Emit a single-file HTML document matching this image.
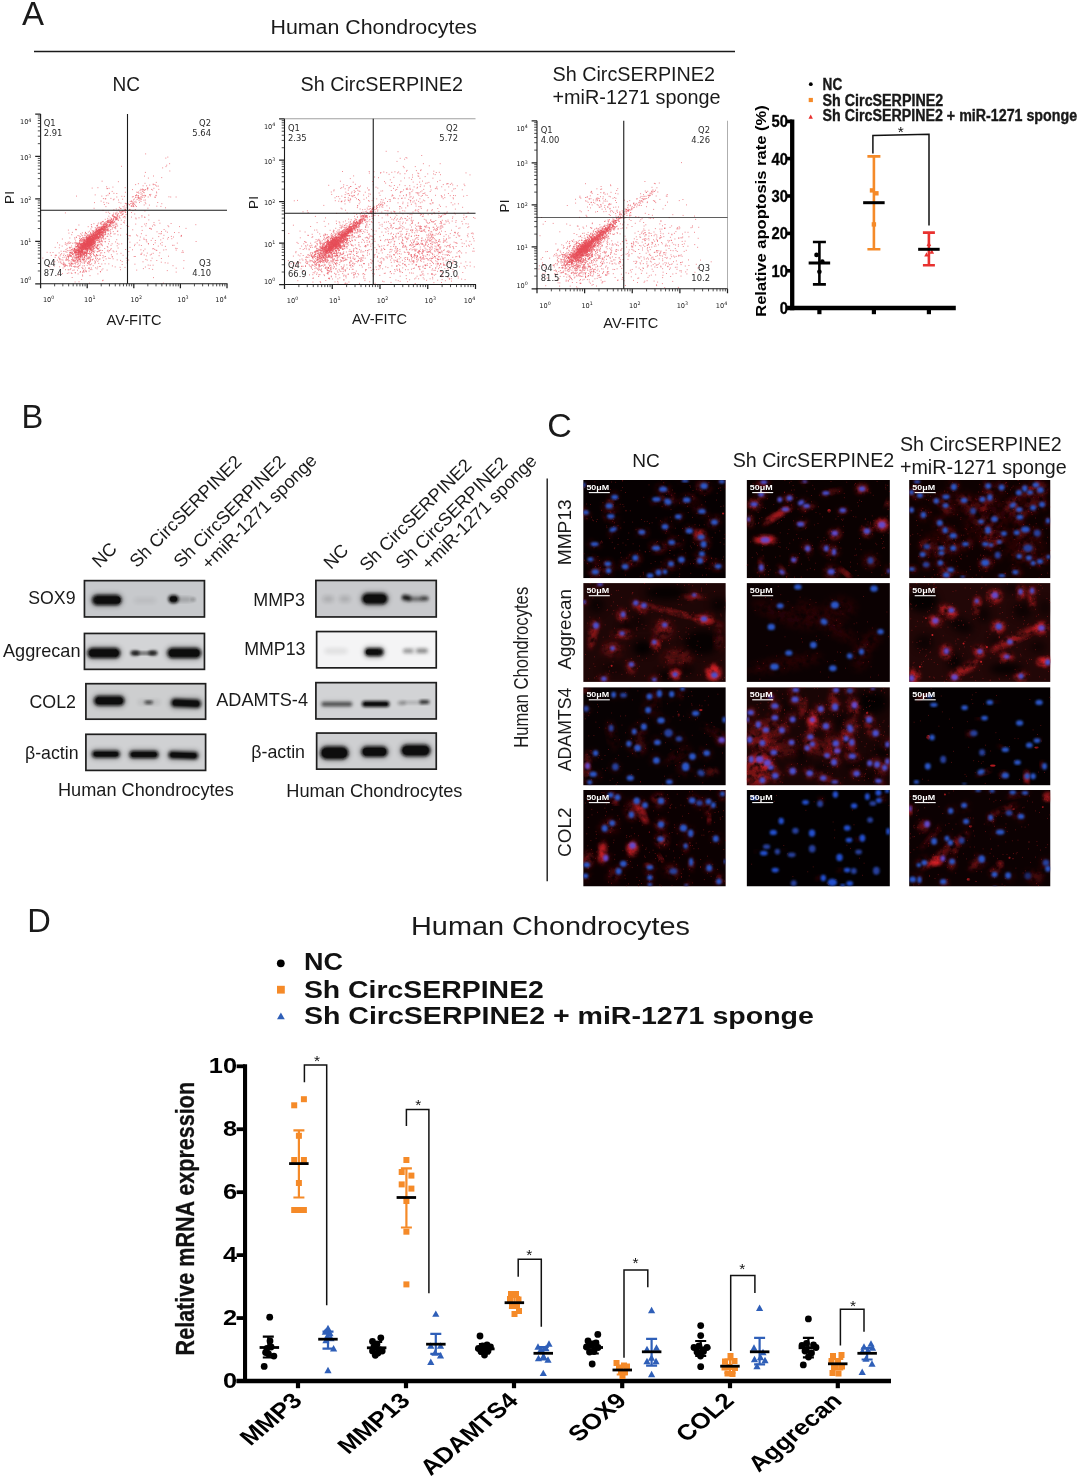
<!DOCTYPE html>
<html><head><meta charset="utf-8"><title>Figure</title>
<style>html,body{margin:0;padding:0;background:#fff}svg{display:block;position:absolute;left:0;top:0}text{font-family:'Liberation Sans',sans-serif}</style>
</head><body>
<svg width="1080" height="1478" viewBox="0 0 1080 1478">
<defs>
<filter id="b1" x="-30%" y="-30%" width="160%" height="160%"><feGaussianBlur stdDeviation="2.2"/></filter>
<filter id="b2" x="-30%" y="-60%" width="160%" height="220%"><feGaussianBlur stdDeviation="1.45"/></filter>
<filter id="b3" x="-30%" y="-60%" width="160%" height="220%"><feGaussianBlur stdDeviation="2.2"/></filter>
<filter id="b4" x="-40%" y="-40%" width="180%" height="180%"><feGaussianBlur stdDeviation="3.5"/></filter>
<filter id="b6" x="-25%" y="-25%" width="150%" height="150%"><feGaussianBlur stdDeviation="0.95"/></filter>
<filter id="tex" x="0" y="0" width="100%" height="100%"><feTurbulence type="fractalNoise" baseFrequency="0.16" numOctaves="3" seed="7" result="n"/><feColorMatrix in="n" type="matrix" values="0 0 0 0 0  0 0 0 0 0  0 0 0 0 0  2.4 0 0 0 -0.42" result="a"/><feComposite in="SourceGraphic" in2="a" operator="in"/></filter>
<filter id="b5" x="-20%" y="-20%" width="140%" height="140%"><feGaussianBlur stdDeviation="0.6"/></filter>
</defs>
<rect width="1080" height="1478" fill="#fff"/>

<text x="22.00" y="24.70" font-size="33" fill="#1a1a1a">A</text>
<text x="270.50" y="34.00" font-size="19.6" fill="#1a1a1a" textLength="206.50" lengthAdjust="spacingAndGlyphs">Human Chondrocytes</text>
<line x1="34.00" y1="51.50" x2="735.00" y2="51.50" stroke="#1a1a1a" stroke-width="1.5"/>
<text x="112.50" y="90.50" font-size="19.6" fill="#1a1a1a" textLength="27.50" lengthAdjust="spacingAndGlyphs">NC</text>
<text x="300.50" y="90.50" font-size="19.6" fill="#1a1a1a" textLength="162.50" lengthAdjust="spacingAndGlyphs">Sh CircSERPINE2</text>
<text x="552.50" y="81.30" font-size="19.6" fill="#1a1a1a" textLength="162.50" lengthAdjust="spacingAndGlyphs">Sh CircSERPINE2</text>
<text x="552.50" y="103.80" font-size="19.6" fill="#1a1a1a" textLength="168.00" lengthAdjust="spacingAndGlyphs">+miR-1271 sponge</text>
<ellipse cx="92.3" cy="238.8" rx="15.0" ry="2.9" transform="rotate(-42.3 92.3 238.8)" fill="#ea4f5b" opacity="0.3" filter="url(#b1)"/>
<ellipse cx="90.5" cy="240.5" rx="8.0" ry="1.8" transform="rotate(-42.3 90.5 240.5)" fill="#e94a57" opacity="0.3" filter="url(#b2)"/>
<path d="M93.9 241.7h.01M85.5 248.8h.01M88.1 241.7h.01M116.0 217.7h.01M91.4 242.2h.01M105.5 226.8h.01M96.9 231.8h.01M87.0 242.1h.01M77.7 246.2h.01M78.0 250.9h.01M88.7 241.0h.01M89.2 237.2h.01M90.3 241.5h.01M99.3 230.0h.01M84.0 239.3h.01M82.8 239.6h.01M82.1 252.4h.01M75.9 257.2h.01M94.4 236.0h.01M97.4 235.8h.01M104.1 227.5h.01M85.0 243.3h.01M83.1 247.0h.01M86.7 248.0h.01M74.4 250.6h.01M79.5 242.6h.01M113.2 214.6h.01M87.5 241.4h.01M110.2 217.9h.01M103.8 226.4h.01M88.2 240.3h.01M97.3 230.9h.01M90.5 241.7h.01M112.3 215.3h.01M112.0 223.3h.01M87.5 244.4h.01M90.0 246.9h.01M92.9 237.6h.01M88.5 241.7h.01M87.7 240.0h.01M115.9 213.4h.01M63.5 264.5h.01M90.1 242.2h.01M88.7 241.6h.01M96.5 238.2h.01M86.5 242.8h.01M116.9 217.6h.01M87.6 251.9h.01M100.0 230.2h.01M82.4 249.0h.01M82.4 243.9h.01M79.9 248.1h.01M104.7 226.4h.01M81.1 251.7h.01M92.8 241.3h.01M106.3 225.7h.01M89.3 241.4h.01M83.4 249.5h.01M109.0 224.1h.01M88.3 241.6h.01M83.2 244.1h.01M86.0 241.6h.01M84.5 240.4h.01M95.2 236.3h.01M77.6 243.4h.01M92.3 242.6h.01M84.2 244.5h.01M87.5 245.6h.01M85.6 248.7h.01M89.9 244.3h.01M90.5 239.7h.01M78.2 249.0h.01M89.7 243.5h.01M92.6 236.3h.01M97.5 237.2h.01M88.6 240.7h.01M89.0 244.7h.01M96.2 232.4h.01M94.7 235.1h.01M87.2 248.1h.01M100.4 229.4h.01M92.4 240.5h.01M85.5 244.6h.01M96.7 229.5h.01M96.0 237.8h.01M95.1 232.1h.01M93.4 235.1h.01M99.0 234.6h.01M92.1 236.5h.01M87.7 246.2h.01M84.8 247.6h.01M96.9 233.8h.01M122.5 211.6h.01M117.0 212.2h.01M76.0 257.9h.01M98.5 232.3h.01M86.8 237.3h.01M84.0 242.7h.01M90.4 243.7h.01M91.8 240.5h.01M84.5 244.3h.01M91.5 238.6h.01M106.2 223.9h.01M114.6 216.4h.01M103.6 226.5h.01M112.6 220.7h.01M97.0 237.0h.01M83.9 242.7h.01M78.0 256.9h.01M84.3 244.0h.01M93.7 244.4h.01M78.2 252.7h.01M88.5 244.2h.01M76.4 251.7h.01M103.9 232.8h.01M110.7 220.0h.01M91.0 239.6h.01M77.5 246.7h.01M100.9 231.7h.01M91.5 243.8h.01M84.1 248.3h.01M90.5 240.3h.01M97.3 234.9h.01M94.5 237.7h.01M116.0 216.6h.01M104.8 229.2h.01M89.3 244.4h.01M86.3 248.6h.01M83.6 245.0h.01M96.1 238.1h.01M103.8 230.9h.01M87.3 240.1h.01M98.3 234.3h.01M85.3 248.9h.01M91.6 236.4h.01M94.3 232.9h.01M84.8 247.2h.01M79.0 251.1h.01M81.9 251.2h.01M85.5 245.8h.01M78.7 249.9h.01M103.8 229.7h.01M78.8 254.9h.01M101.9 229.1h.01M108.1 221.9h.01M91.8 243.2h.01M109.6 226.4h.01M79.0 244.2h.01M93.5 233.3h.01M87.3 239.0h.01M105.7 228.8h.01M97.9 233.8h.01M90.6 239.4h.01M96.0 236.3h.01M96.0 234.2h.01M116.1 217.8h.01M110.7 225.4h.01M80.9 243.0h.01M106.7 224.7h.01M91.2 239.0h.01M90.3 236.7h.01M88.9 240.3h.01M86.4 236.2h.01M101.9 231.1h.01M76.2 250.5h.01M92.0 241.3h.01M92.9 243.1h.01M89.1 238.4h.01M86.9 246.5h.01M87.5 246.3h.01M104.9 229.0h.01M103.8 227.9h.01M89.4 239.5h.01M83.1 241.5h.01M84.5 242.1h.01M80.2 250.4h.01M96.0 234.4h.01M109.9 225.2h.01M103.6 226.9h.01M80.6 251.8h.01M95.8 238.0h.01M98.0 237.6h.01M89.5 243.7h.01M79.6 241.8h.01M89.9 246.4h.01M80.1 254.0h.01M84.7 244.3h.01M91.4 240.4h.01M83.5 247.3h.01M97.7 236.6h.01M87.8 248.7h.01M118.5 220.3h.01M80.9 249.9h.01M77.5 253.9h.01M96.1 231.8h.01M79.1 251.6h.01M97.7 231.6h.01M84.1 237.4h.01M85.5 245.6h.01M95.1 241.5h.01M77.8 243.5h.01M95.6 234.0h.01M95.5 238.3h.01M100.7 235.6h.01M106.4 221.8h.01M93.5 244.7h.01M89.2 245.1h.01M89.4 240.1h.01M112.8 222.7h.01M90.3 243.9h.01M79.4 247.8h.01M102.6 229.6h.01M83.5 248.6h.01M96.9 238.8h.01M102.9 228.5h.01M86.7 243.5h.01M91.4 244.8h.01M113.3 223.0h.01M95.2 235.5h.01M102.0 229.0h.01M90.9 234.7h.01M89.9 246.2h.01M80.1 244.3h.01M92.2 244.8h.01M109.4 222.4h.01M86.8 243.5h.01M83.7 246.8h.01M85.7 239.7h.01M85.7 243.9h.01M82.1 244.0h.01M105.2 232.5h.01M87.6 241.6h.01M96.8 234.0h.01M87.3 248.6h.01M81.4 246.0h.01M84.0 243.2h.01M89.7 243.2h.01M110.5 223.9h.01M88.9 237.7h.01M88.4 239.1h.01M91.5 243.0h.01M92.9 237.6h.01M84.9 245.5h.01M90.4 237.5h.01M88.3 245.6h.01M77.3 250.7h.01M84.8 251.6h.01M99.3 234.0h.01M96.2 236.2h.01M91.8 234.2h.01M94.9 238.4h.01M81.5 251.9h.01M97.1 229.9h.01M86.5 243.1h.01M87.3 244.8h.01M80.6 248.6h.01M94.7 239.1h.01M90.7 239.5h.01M96.7 228.9h.01M102.5 228.7h.01M80.4 248.0h.01M72.8 248.3h.01M86.7 241.2h.01M99.0 230.2h.01M79.1 247.2h.01M113.4 219.8h.01M84.2 242.6h.01M82.1 247.6h.01M98.0 237.3h.01M106.1 227.0h.01M84.1 243.2h.01M71.2 253.7h.01M95.6 234.8h.01M93.3 233.7h.01M102.9 230.1h.01M91.7 240.7h.01M72.8 254.3h.01M87.2 250.2h.01M88.3 240.8h.01M100.4 228.5h.01M108.6 222.3h.01M88.5 239.2h.01M98.1 227.3h.01M98.5 230.8h.01M89.2 237.8h.01M93.9 238.1h.01M98.8 233.9h.01M100.3 234.6h.01M85.5 240.8h.01M82.4 250.5h.01M89.6 245.1h.01M89.4 238.1h.01M105.3 232.6h.01M87.5 239.9h.01M85.9 248.0h.01M85.4 243.6h.01M99.6 232.2h.01M91.1 238.1h.01M86.1 245.1h.01M93.5 239.7h.01M87.4 244.5h.01M97.0 234.9h.01M99.6 235.3h.01M93.3 238.2h.01M83.9 247.7h.01M89.3 240.5h.01M85.5 247.2h.01M125.0 209.9h.01M92.4 240.3h.01M86.3 244.7h.01M84.4 243.7h.01M94.0 238.1h.01M88.3 239.8h.01M92.3 235.4h.01M100.3 230.6h.01M91.8 242.0h.01M95.9 231.6h.01M89.3 242.9h.01M77.9 242.8h.01M89.9 240.9h.01M96.3 235.5h.01M92.6 239.3h.01M109.4 224.5h.01M97.1 233.3h.01M105.2 226.6h.01M97.2 228.2h.01M93.6 237.4h.01M89.4 246.1h.01M95.7 235.4h.01M90.0 247.7h.01M101.4 232.5h.01M87.3 248.3h.01M97.5 233.3h.01M86.9 238.1h.01M97.5 230.8h.01M101.1 229.6h.01M86.6 245.4h.01M91.5 235.9h.01M91.0 242.1h.01M86.3 239.6h.01M87.0 240.3h.01M86.3 244.5h.01M89.8 240.5h.01M79.0 252.4h.01M88.3 241.1h.01M95.7 242.1h.01M77.9 245.7h.01M99.5 230.0h.01M106.5 223.4h.01M88.4 245.4h.01M103.2 230.2h.01M96.3 234.8h.01M86.9 243.1h.01M108.3 226.2h.01M91.3 240.9h.01M103.2 232.4h.01M89.4 241.2h.01M99.0 241.1h.01M95.8 239.8h.01M80.9 252.6h.01M78.1 247.6h.01M85.6 244.5h.01M93.5 239.0h.01M92.8 237.0h.01M125.2 209.7h.01M102.3 235.8h.01M104.1 229.7h.01M97.7 239.9h.01M80.8 245.7h.01M89.1 235.1h.01M86.8 248.0h.01M87.4 243.9h.01M97.9 230.3h.01M93.1 236.1h.01M82.0 247.2h.01M89.4 240.1h.01M87.4 246.8h.01M106.5 227.5h.01M88.0 239.2h.01M82.5 243.7h.01M94.7 239.6h.01M102.5 229.5h.01M88.0 243.4h.01M93.1 240.1h.01M109.1 221.9h.01M115.9 213.0h.01M74.4 249.0h.01M82.5 246.9h.01M117.0 214.9h.01M104.6 226.7h.01M90.8 236.8h.01M120.4 213.2h.01M90.1 249.1h.01M93.6 239.1h.01M88.0 239.9h.01M79.7 249.7h.01M112.3 221.7h.01M91.0 243.7h.01M86.2 249.5h.01M89.0 239.1h.01M100.2 233.2h.01M88.4 243.2h.01M105.3 230.9h.01M79.5 240.8h.01M117.2 215.6h.01M88.2 244.1h.01M89.2 245.4h.01M81.0 248.4h.01M84.2 252.1h.01M90.6 244.2h.01M107.3 222.2h.01M90.1 243.3h.01M90.9 239.7h.01M102.9 231.8h.01M85.9 244.2h.01M99.4 233.1h.01M90.5 236.8h.01M113.4 219.1h.01M94.0 237.2h.01M91.6 240.0h.01M85.1 246.8h.01M106.9 226.6h.01M100.8 232.6h.01M94.0 243.5h.01M86.2 245.8h.01M104.5 228.6h.01M80.7 245.3h.01M110.0 220.5h.01M91.5 241.4h.01M88.8 236.1h.01M76.4 252.9h.01M84.3 245.1h.01M92.0 239.7h.01M77.4 245.9h.01M102.1 228.2h.01M78.1 244.2h.01M95.7 232.0h.01M84.0 248.8h.01M95.4 237.8h.01M75.7 242.9h.01M82.7 246.5h.01M87.2 246.7h.01M93.6 234.3h.01M97.8 233.4h.01M88.9 245.9h.01M80.3 253.9h.01M102.2 224.3h.01M88.8 241.5h.01M81.1 246.9h.01M84.6 246.1h.01M82.5 240.0h.01M107.5 227.4h.01M86.0 247.9h.01M115.7 214.3h.01M86.6 242.2h.01M97.4 233.3h.01M82.6 252.6h.01M89.4 244.1h.01M120.2 212.1h.01M89.1 245.0h.01M90.6 242.2h.01M95.2 245.8h.01M99.5 233.4h.01M92.8 239.7h.01M77.9 250.9h.01M98.6 229.6h.01M90.9 239.8h.01M91.2 248.9h.01M100.5 232.4h.01M84.8 246.0h.01M88.1 242.3h.01M97.5 242.3h.01M110.5 226.7h.01M112.4 227.8h.01M83.3 242.4h.01M93.7 238.4h.01M89.9 238.9h.01M102.2 235.0h.01M93.1 237.4h.01M106.1 225.5h.01M88.5 243.5h.01M77.6 260.2h.01M90.6 242.2h.01M95.4 237.4h.01M84.1 253.3h.01M98.7 234.0h.01M131.5 201.2h.01M100.3 231.3h.01M83.3 254.8h.01M79.3 251.3h.01M90.2 241.4h.01M86.1 249.6h.01M91.9 235.1h.01M82.1 249.2h.01M82.8 249.2h.01M94.0 235.4h.01M73.6 250.6h.01M94.5 235.2h.01M114.9 217.4h.01M96.7 237.0h.01M92.3 239.9h.01M103.9 228.0h.01M94.5 235.7h.01M117.5 216.3h.01M97.5 225.6h.01M84.9 241.5h.01M90.4 239.1h.01M82.3 247.0h.01M103.0 232.3h.01M88.5 246.2h.01M87.1 245.9h.01M86.1 248.4h.01M121.2 212.0h.01M105.0 223.5h.01M90.7 250.1h.01M90.9 241.9h.01M78.5 251.4h.01M87.0 248.2h.01M91.2 249.1h.01M83.1 248.5h.01M74.9 253.1h.01M106.6 225.5h.01M81.9 250.3h.01M103.8 229.6h.01M101.8 226.3h.01M115.7 219.2h.01M78.8 259.0h.01M88.0 244.6h.01M74.6 252.4h.01M78.7 254.7h.01M87.2 240.3h.01M89.7 245.2h.01M85.8 246.9h.01M78.6 245.0h.01M86.4 243.2h.01M94.5 240.0h.01M86.8 242.6h.01M101.3 231.9h.01M90.5 241.3h.01M73.2 254.0h.01M78.0 250.5h.01M100.1 227.0h.01M102.0 228.5h.01M88.1 241.0h.01M99.0 230.8h.01M75.8 255.2h.01M90.5 242.7h.01M96.7 231.2h.01M93.4 238.2h.01M90.1 241.2h.01M93.8 235.7h.01M91.1 243.4h.01M82.5 247.5h.01M81.0 245.1h.01M87.7 243.6h.01M110.5 221.8h.01M103.7 230.0h.01M86.2 233.9h.01M92.3 239.1h.01M83.1 247.8h.01M108.7 221.1h.01M88.3 245.7h.01M75.1 250.3h.01M96.0 238.6h.01M107.7 226.9h.01M121.6 213.0h.01M80.6 248.8h.01M99.4 233.5h.01M77.0 254.4h.01M84.3 245.4h.01M109.8 222.6h.01M85.4 244.7h.01M89.4 248.9h.01M102.8 231.9h.01M84.3 243.8h.01M90.4 233.5h.01M102.4 226.2h.01M92.4 239.9h.01M85.3 246.5h.01M102.6 235.1h.01M98.6 238.9h.01M96.4 234.5h.01M101.2 229.2h.01M93.6 239.8h.01M106.1 227.1h.01M82.2 253.1h.01M92.3 237.9h.01M85.6 247.1h.01M96.0 237.7h.01M92.2 244.3h.01M89.3 243.0h.01M94.9 240.0h.01M84.9 244.5h.01M87.7 240.7h.01M83.5 242.5h.01M102.7 233.8h.01M84.7 248.7h.01M80.4 246.5h.01M88.4 242.9h.01M93.5 231.7h.01M80.9 249.5h.01M92.4 246.2h.01M87.3 241.1h.01M103.0 222.1h.01M82.2 259.1h.01M86.0 244.8h.01M87.6 240.1h.01M87.1 239.0h.01M104.3 230.1h.01M98.1 230.8h.01M75.2 252.4h.01M83.1 248.7h.01M76.7 249.4h.01M92.9 239.7h.01M89.6 237.1h.01M89.1 249.1h.01M101.8 227.9h.01M115.6 217.4h.01M89.0 239.0h.01M110.6 222.4h.01M88.3 239.3h.01M81.3 249.5h.01M93.2 243.4h.01M83.0 245.9h.01M104.7 229.8h.01M88.1 248.0h.01M98.1 236.3h.01M96.6 238.1h.01M87.0 242.9h.01M105.4 228.0h.01M97.0 238.2h.01M94.2 238.4h.01M73.1 254.1h.01M100.1 229.2h.01M88.7 242.9h.01M90.9 243.1h.01M96.4 234.5h.01M104.4 226.9h.01M85.8 245.9h.01M98.6 232.7h.01M81.5 246.7h.01M94.6 239.0h.01M113.8 219.0h.01M85.1 237.9h.01M108.6 226.4h.01M89.3 239.1h.01M72.8 259.8h.01M87.4 248.8h.01M102.4 233.4h.01M91.5 243.7h.01M82.9 253.1h.01M88.2 238.5h.01M85.8 241.3h.01M92.8 236.1h.01M80.4 248.3h.01M89.1 242.5h.01M101.5 234.2h.01M98.5 238.4h.01M72.0 257.0h.01M101.0 227.2h.01M89.3 242.3h.01M77.9 249.7h.01M97.9 232.8h.01M113.7 225.2h.01M88.0 238.8h.01M89.2 239.7h.01M79.1 249.2h.01M86.4 243.0h.01M104.2 231.1h.01M95.4 234.9h.01M96.1 235.5h.01M91.8 236.1h.01M69.7 263.4h.01M85.2 243.5h.01M90.3 240.5h.01M90.9 245.5h.01M92.5 239.4h.01M83.8 246.3h.01M96.4 234.8h.01M93.3 235.0h.01M93.8 234.2h.01M85.9 242.0h.01M94.6 240.3h.01M92.9 235.5h.01M93.9 240.8h.01M100.8 232.6h.01M81.1 246.9h.01M84.6 244.1h.01M93.6 237.8h.01M88.9 243.9h.01M84.6 244.6h.01M89.6 236.8h.01M81.6 243.4h.01M82.5 247.2h.01M90.1 242.0h.01M93.0 234.6h.01M116.7 219.7h.01M80.2 247.2h.01M87.3 244.1h.01M98.6 233.1h.01M77.8 264.4h.01M103.0 231.5h.01M85.1 245.7h.01M102.1 228.6h.01M105.7 226.9h.01M111.5 221.5h.01M108.2 220.4h.01M110.1 223.8h.01M89.6 245.1h.01M90.0 243.8h.01M104.5 230.7h.01M121.1 215.5h.01M124.2 211.1h.01M93.1 239.4h.01M88.1 238.5h.01M90.4 236.6h.01M87.9 241.8h.01M84.5 242.1h.01M91.9 239.1h.01M109.5 224.8h.01M102.3 228.4h.01M86.0 240.2h.01M85.4 247.8h.01M88.8 241.5h.01M89.1 247.3h.01M92.0 243.0h.01M91.8 242.5h.01M80.8 244.2h.01M104.7 226.8h.01M95.4 238.8h.01M100.1 232.6h.01M80.4 247.0h.01M92.0 241.3h.01M97.9 234.9h.01M84.8 245.7h.01M102.1 227.5h.01M87.9 246.1h.01M111.9 222.0h.01M89.0 238.6h.01M88.2 239.8h.01M93.5 240.1h.01M98.5 237.3h.01M80.6 244.7h.01M109.9 225.5h.01M83.6 247.3h.01M82.6 247.6h.01M96.1 238.4h.01M81.0 244.4h.01M97.5 233.1h.01M107.6 222.1h.01M80.8 239.4h.01M107.2 228.9h.01M95.5 235.0h.01M72.8 250.9h.01M90.0 247.8h.01M101.5 228.8h.01M97.0 236.3h.01M95.8 232.8h.01M89.1 245.4h.01M99.2 231.6h.01M123.1 211.4h.01M89.1 245.0h.01M101.0 230.6h.01M115.6 220.1h.01M92.1 241.5h.01M99.0 232.0h.01M99.5 230.8h.01M90.0 243.3h.01M80.7 248.1h.01M84.8 248.4h.01M89.6 247.9h.01M110.1 221.1h.01M92.1 237.9h.01M91.6 241.8h.01M112.9 225.5h.01M113.6 216.7h.01M86.7 243.3h.01M88.5 242.8h.01M98.5 231.9h.01M90.5 249.0h.01M102.9 235.6h.01M88.9 246.9h.01M114.4 221.9h.01M86.0 246.6h.01M82.9 243.4h.01M91.4 241.5h.01M88.9 241.6h.01M98.0 231.7h.01M97.5 236.6h.01M100.1 233.5h.01M82.7 246.6h.01M88.7 244.7h.01M78.0 252.5h.01M80.1 252.6h.01M86.9 244.0h.01M105.3 231.8h.01M83.5 247.3h.01M75.9 253.0h.01M86.8 246.4h.01M90.0 241.4h.01M81.8 247.2h.01M82.4 247.9h.01M79.5 251.6h.01M108.7 231.0h.01M112.2 224.0h.01M103.6 233.2h.01M91.0 241.4h.01M75.8 251.9h.01M103.6 224.0h.01M94.8 236.5h.01M88.5 243.5h.01M89.1 238.0h.01M87.0 237.6h.01M110.5 222.3h.01M101.1 228.3h.01M116.2 219.5h.01M95.6 236.6h.01M94.6 234.5h.01M89.2 241.0h.01M98.1 238.5h.01M106.4 226.8h.01M98.6 232.3h.01M84.2 240.5h.01M79.1 246.4h.01M89.8 240.6h.01M98.2 237.1h.01M99.5 232.0h.01M86.7 243.0h.01M97.4 231.5h.01M79.2 250.0h.01M106.2 229.5h.01M95.8 230.0h.01M90.7 242.8h.01M107.5 230.0h.01M84.4 247.5h.01M78.7 250.4h.01M89.2 244.6h.01M90.0 235.2h.01M90.3 242.0h.01M109.0 221.9h.01M83.2 245.0h.01M103.8 227.7h.01M92.5 240.2h.01M86.6 248.1h.01M82.3 255.2h.01M84.0 243.1h.01M83.0 243.1h.01M82.6 244.7h.01M81.7 247.9h.01M93.8 235.6h.01M91.6 236.8h.01M93.0 237.2h.01M82.7 248.0h.01M88.2 240.3h.01M91.1 241.8h.01M80.6 247.6h.01M98.8 232.9h.01M104.4 234.8h.01M82.0 249.6h.01M90.3 245.7h.01M96.1 231.2h.01M104.8 227.5h.01M88.3 242.6h.01M92.0 236.3h.01M90.1 245.7h.01M81.9 246.1h.01M99.4 229.7h.01M89.5 242.4h.01M83.3 245.9h.01M83.5 246.1h.01M94.2 237.2h.01M94.3 238.2h.01M99.4 229.3h.01M94.6 242.0h.01M88.3 241.6h.01M89.4 239.1h.01M97.9 233.8h.01M90.5 243.0h.01M104.6 224.0h.01M86.3 243.3h.01M81.4 251.4h.01M119.4 215.9h.01M104.7 222.5h.01M84.9 240.9h.01M100.7 230.9h.01M90.0 242.6h.01M103.0 233.9h.01M109.8 225.3h.01M80.9 254.2h.01M89.2 236.6h.01M92.3 238.1h.01M91.5 242.9h.01M81.8 250.9h.01M104.9 224.4h.01M108.2 222.7h.01M86.7 247.4h.01M87.2 237.2h.01M87.0 246.2h.01M85.6 243.2h.01M90.6 240.4h.01M83.7 243.3h.01M98.3 237.3h.01M72.7 258.5h.01M102.5 227.1h.01M107.7 221.1h.01M105.4 231.4h.01M107.7 218.4h.01M89.6 237.9h.01M98.0 238.2h.01M98.5 238.3h.01M76.5 249.9h.01M87.8 245.4h.01M105.6 224.6h.01M85.3 248.5h.01M81.8 250.6h.01M84.3 245.8h.01M117.7 215.2h.01M89.7 238.5h.01M100.2 236.3h.01M97.0 230.6h.01M97.8 238.8h.01M83.2 246.6h.01M82.6 245.5h.01M80.6 244.4h.01M96.8 234.6h.01M72.2 252.7h.01M83.1 243.2h.01M92.2 238.3h.01M93.3 233.7h.01M84.2 244.6h.01M87.1 242.4h.01M84.6 245.4h.01M111.5 219.6h.01M78.8 252.2h.01M85.3 248.3h.01M106.7 230.4h.01M89.7 235.6h.01M112.9 222.3h.01M107.8 225.0h.01M88.0 242.9h.01M78.9 255.1h.01M84.8 243.4h.01M94.0 234.5h.01M100.4 229.7h.01M123.1 213.2h.01M100.2 232.7h.01M90.5 238.8h.01M75.3 252.1h.01M83.8 244.8h.01M88.6 235.9h.01M80.1 247.4h.01M88.8 245.3h.01M125.9 208.0h.01M99.3 232.5h.01M97.0 240.3h.01M93.9 239.3h.01M90.3 238.6h.01M104.8 227.0h.01M109.0 221.0h.01M99.3 237.7h.01M86.6 245.3h.01M110.9 223.0h.01M84.1 245.2h.01M94.0 235.5h.01M87.8 243.5h.01M84.7 252.3h.01M86.2 244.4h.01M94.5 241.7h.01M91.5 246.9h.01M116.3 218.7h.01M78.1 246.8h.01M89.3 242.6h.01M101.1 234.5h.01M97.0 234.9h.01M92.8 232.0h.01M104.2 224.0h.01M74.9 251.9h.01M85.3 240.9h.01M89.2 242.0h.01M99.6 233.4h.01M87.1 244.1h.01M107.3 224.5h.01M85.9 237.4h.01M97.9 240.4h.01M100.3 230.9h.01M109.0 227.0h.01M107.4 222.2h.01M83.5 249.7h.01M98.6 234.6h.01M81.4 251.9h.01M117.8 218.3h.01M125.5 209.5h.01M95.6 242.0h.01M101.1 224.6h.01M79.8 251.4h.01M90.1 247.4h.01M113.5 222.7h.01M87.9 242.1h.01M100.9 230.2h.01M100.4 232.5h.01M102.1 232.1h.01M76.5 237.3h.01M76.1 246.4h.01M96.1 228.3h.01M88.0 247.1h.01M103.5 236.2h.01M102.0 240.8h.01M90.1 249.3h.01M79.0 249.9h.01M98.7 238.1h.01M87.2 241.1h.01M74.4 242.9h.01M80.1 261.1h.01M71.8 249.5h.01M76.9 252.6h.01M87.2 241.3h.01M80.1 250.5h.01M80.5 252.9h.01M108.1 220.1h.01M92.4 237.0h.01M83.9 239.9h.01M92.0 240.4h.01M115.1 233.8h.01M85.6 253.0h.01M82.7 245.7h.01M82.9 251.6h.01M107.0 226.1h.01M91.5 236.0h.01M84.6 239.3h.01M84.4 235.2h.01M125.1 217.9h.01M84.8 244.0h.01M87.9 244.8h.01M99.8 244.7h.01M81.5 238.5h.01M95.7 239.6h.01M86.6 250.2h.01M87.1 240.1h.01M86.4 237.7h.01M92.8 249.9h.01M108.7 228.8h.01M93.5 240.8h.01M81.9 250.7h.01M83.3 244.6h.01M109.8 219.8h.01M92.1 240.8h.01M103.6 228.5h.01M98.8 236.6h.01M87.9 240.7h.01M85.8 252.5h.01M87.5 251.5h.01M111.7 219.2h.01M80.3 245.1h.01M90.9 249.4h.01M81.6 243.6h.01M77.9 253.9h.01M101.5 240.8h.01M94.6 237.9h.01M99.5 251.0h.01M115.0 225.0h.01M87.9 243.1h.01M90.2 241.6h.01M95.7 233.1h.01M113.3 215.3h.01M102.2 235.8h.01M108.0 234.1h.01M96.1 238.1h.01M114.5 227.8h.01M94.0 243.9h.01M82.7 251.5h.01M78.0 260.7h.01M89.0 248.9h.01M95.9 233.6h.01M107.7 236.3h.01M90.0 253.8h.01M94.2 233.3h.01M90.5 244.2h.01M98.9 229.6h.01M89.9 245.5h.01M101.2 244.1h.01M105.4 233.9h.01M81.6 244.8h.01M82.9 248.6h.01M105.1 238.9h.01M102.4 226.4h.01M97.5 248.6h.01M95.3 240.9h.01M76.4 246.7h.01M87.0 243.8h.01M98.6 234.1h.01M85.0 261.6h.01M92.2 230.7h.01M116.7 223.3h.01M90.5 242.4h.01M91.9 227.2h.01M106.0 229.7h.01M99.3 230.8h.01M91.4 250.8h.01M68.1 269.8h.01M102.7 221.5h.01M87.9 240.5h.01M83.5 241.0h.01M81.1 251.2h.01M91.2 244.9h.01M100.4 229.8h.01M124.6 220.9h.01M78.7 252.0h.01M90.1 245.0h.01M88.4 253.5h.01M94.9 250.8h.01M91.3 253.1h.01M100.2 238.8h.01M97.5 237.9h.01M83.1 247.8h.01M85.2 245.7h.01M90.9 246.3h.01M94.8 236.5h.01M80.3 257.0h.01M84.6 245.3h.01M97.5 235.5h.01M93.2 240.2h.01M78.4 257.2h.01M92.2 245.1h.01M91.6 238.6h.01M111.0 224.2h.01M106.8 230.9h.01M105.3 234.7h.01M97.2 230.5h.01M93.6 247.3h.01M89.4 241.0h.01M94.9 243.7h.01M84.6 247.1h.01M85.9 242.2h.01M99.8 230.3h.01M93.3 241.7h.01M99.1 237.0h.01M99.2 229.7h.01M74.5 261.7h.01M112.1 220.1h.01M94.5 243.5h.01M84.8 246.9h.01M89.6 246.0h.01M97.3 245.5h.01M82.2 245.5h.01M80.9 252.1h.01M89.9 241.2h.01M96.6 230.8h.01M86.2 258.3h.01M88.9 237.8h.01M105.6 229.1h.01M84.9 249.1h.01M107.5 230.8h.01M95.8 247.1h.01M84.1 246.8h.01M94.9 232.1h.01M101.6 234.2h.01M105.4 230.3h.01M113.7 213.1h.01M87.1 242.2h.01M93.7 242.9h.01M86.1 251.9h.01M106.8 228.0h.01M82.4 253.1h.01M94.7 232.8h.01M84.6 244.4h.01M81.3 252.6h.01M107.3 228.9h.01M86.0 245.9h.01M96.9 247.1h.01M89.6 245.8h.01M92.6 247.0h.01M86.7 248.6h.01M90.5 245.6h.01M80.0 251.1h.01M108.2 230.0h.01M90.9 257.0h.01M97.0 234.7h.01M86.1 240.7h.01M115.7 226.8h.01M107.8 220.4h.01M70.3 247.8h.01M78.2 250.0h.01M77.1 244.4h.01M96.1 232.7h.01M99.1 241.2h.01M83.3 245.5h.01M103.2 221.4h.01M83.9 241.1h.01M87.5 240.9h.01M92.2 237.4h.01M104.0 224.8h.01M92.2 244.1h.01M81.9 245.8h.01M88.7 240.9h.01M98.9 229.8h.01M80.6 254.5h.01M82.2 245.4h.01M92.0 247.0h.01M101.6 232.7h.01M92.9 237.0h.01M116.1 224.5h.01M86.7 250.5h.01M77.7 248.6h.01M89.9 251.6h.01M116.8 218.0h.01M90.8 249.3h.01M91.3 250.4h.01M86.1 251.5h.01M89.6 252.8h.01M90.7 237.7h.01M85.4 232.3h.01M93.8 242.7h.01M118.7 209.8h.01M110.5 231.1h.01M99.5 231.7h.01M90.9 236.6h.01M91.4 234.2h.01M87.3 245.3h.01M80.1 243.7h.01M91.4 242.8h.01M101.0 234.8h.01M112.8 221.3h.01M105.6 222.1h.01M102.0 235.7h.01M113.9 217.0h.01M115.3 218.7h.01M82.9 238.9h.01M101.6 228.6h.01M102.9 231.7h.01M101.9 231.9h.01M84.4 244.9h.01M92.6 242.6h.01M87.8 249.9h.01M71.0 251.9h.01M101.3 234.0h.01M121.3 220.2h.01M79.9 245.0h.01M91.3 240.7h.01M99.4 230.7h.01M83.3 244.0h.01M88.5 238.7h.01M92.3 244.6h.01M86.5 239.0h.01M100.4 237.5h.01M82.8 246.4h.01M75.0 249.7h.01M77.8 245.2h.01M91.4 252.4h.01M104.9 226.1h.01M96.9 236.4h.01M86.4 233.6h.01M86.1 238.8h.01M86.9 244.4h.01M53.5 259.9h.01M100.1 241.0h.01M99.0 227.2h.01M89.4 246.4h.01M82.4 235.7h.01M98.7 230.2h.01M85.3 235.7h.01M85.0 253.9h.01M88.4 246.4h.01M112.4 222.0h.01M90.4 240.2h.01M102.8 232.6h.01M101.4 241.3h.01M101.3 239.4h.01M83.2 246.8h.01M97.3 230.6h.01M78.8 251.8h.01M87.9 246.3h.01M110.8 220.5h.01M81.1 248.5h.01M84.5 244.0h.01M107.7 229.5h.01M95.2 235.9h.01M103.5 229.3h.01M113.7 220.6h.01M92.4 244.2h.01M113.9 209.8h.01M93.4 231.8h.01M76.1 252.2h.01M97.1 225.7h.01M92.9 250.5h.01M106.6 225.0h.01M99.8 233.6h.01M83.7 243.0h.01M105.5 224.0h.01M88.1 240.8h.01M77.8 252.0h.01M112.6 215.4h.01M93.8 245.8h.01M96.7 235.9h.01M99.5 235.3h.01M87.7 239.1h.01M81.8 239.0h.01M91.7 239.1h.01M80.8 240.8h.01M80.8 239.4h.01M95.0 230.3h.01M99.4 228.2h.01M101.1 235.3h.01M101.0 230.1h.01M76.0 257.2h.01M80.7 241.1h.01M82.3 250.6h.01M99.9 235.2h.01M103.2 236.5h.01M87.9 243.9h.01M87.7 242.4h.01M90.2 243.0h.01M86.9 245.6h.01M101.8 229.5h.01M95.2 232.0h.01M88.9 253.4h.01M93.2 246.5h.01M67.2 248.4h.01M89.5 240.9h.01M73.9 261.0h.01M96.7 231.7h.01M100.1 236.5h.01M89.7 238.9h.01M97.8 232.3h.01M82.3 240.8h.01M95.5 244.5h.01M85.0 243.4h.01M79.1 250.5h.01M100.9 231.1h.01M101.5 238.1h.01M81.5 246.1h.01M97.7 233.2h.01M81.8 249.4h.01M98.9 240.4h.01M84.5 249.0h.01M88.2 226.7h.01M99.9 232.5h.01M82.6 259.5h.01M96.8 237.4h.01M124.9 216.6h.01M82.4 249.0h.01M117.0 224.9h.01M111.1 222.7h.01M103.7 225.8h.01M91.0 244.9h.01M91.2 244.4h.01M90.1 243.5h.01M120.0 218.2h.01M100.7 223.6h.01M88.5 248.9h.01M76.0 252.3h.01M91.3 247.9h.01M74.6 252.9h.01M91.0 241.8h.01M80.8 257.7h.01M103.3 237.7h.01M100.0 236.7h.01M87.5 242.6h.01M81.9 251.9h.01M84.0 254.3h.01M95.3 233.6h.01M87.7 234.4h.01M80.0 246.9h.01M77.0 250.1h.01M86.6 241.0h.01M79.9 243.9h.01M75.8 258.2h.01M90.6 248.7h.01M79.4 248.5h.01M103.1 238.5h.01M105.7 232.9h.01M80.6 253.6h.01M108.3 212.2h.01M101.3 245.0h.01M82.3 250.5h.01M117.9 219.9h.01M95.0 242.5h.01M91.2 245.3h.01M91.9 245.3h.01M83.1 247.5h.01M85.5 232.6h.01M101.6 229.3h.01M81.4 241.3h.01M86.9 239.2h.01M103.7 239.2h.01M84.7 242.5h.01M88.7 241.6h.01M90.9 229.0h.01M97.3 235.1h.01M81.2 240.6h.01M105.7 234.3h.01M96.5 240.2h.01M102.1 232.1h.01M98.2 228.4h.01M93.9 223.7h.01M110.7 232.9h.01M103.7 224.6h.01M90.2 245.3h.01M85.0 249.0h.01M94.8 246.8h.01M85.3 243.1h.01M101.5 238.0h.01M84.0 239.2h.01M75.3 245.9h.01M88.7 237.1h.01M86.5 236.7h.01M90.0 245.3h.01M85.2 253.3h.01M88.7 238.4h.01M87.8 243.7h.01M82.1 245.8h.01M88.3 232.1h.01M126.0 214.6h.01M114.0 234.0h.01M100.3 232.6h.01M91.6 244.1h.01M107.3 221.3h.01M113.4 218.7h.01M86.2 253.7h.01M88.7 247.6h.01M81.9 253.8h.01M90.4 248.9h.01M75.8 250.9h.01M83.4 249.5h.01M81.5 247.7h.01M89.3 240.1h.01M93.5 240.6h.01M80.6 256.8h.01M79.3 247.1h.01M111.5 218.4h.01M91.7 244.9h.01M85.0 245.9h.01M87.8 243.0h.01M84.1 253.7h.01M92.7 243.2h.01M89.2 239.1h.01M103.6 225.2h.01M101.3 227.3h.01M85.1 247.1h.01M124.3 216.4h.01M93.4 241.6h.01M104.6 226.0h.01M72.0 252.2h.01M88.2 239.4h.01M92.9 248.1h.01M86.8 241.4h.01M94.7 245.1h.01M115.3 223.2h.01M87.2 242.0h.01M79.7 247.8h.01M104.7 232.3h.01M91.8 234.3h.01M88.2 239.7h.01M110.7 223.4h.01M89.9 242.1h.01M91.0 241.7h.01M87.2 246.3h.01M94.1 243.7h.01M99.7 237.3h.01M86.8 245.2h.01M70.0 255.1h.01M80.3 236.6h.01M109.0 230.6h.01M99.8 247.2h.01M78.3 253.2h.01M90.8 238.5h.01M113.8 227.1h.01M94.2 232.7h.01M94.2 238.7h.01M93.2 230.7h.01M85.8 252.5h.01M91.4 240.4h.01M82.4 232.8h.01M105.3 219.3h.01M82.3 252.3h.01M112.3 229.0h.01M84.2 242.5h.01M99.6 234.7h.01M80.1 259.1h.01M76.2 257.0h.01M97.1 240.0h.01M94.5 243.1h.01M92.0 235.0h.01M90.0 250.5h.01M77.4 257.8h.01M80.8 240.1h.01M85.2 249.3h.01M70.7 265.1h.01M105.9 225.2h.01M88.1 244.2h.01M99.4 227.4h.01M87.9 246.1h.01M79.5 253.6h.01M92.7 244.5h.01M81.4 249.6h.01M96.0 237.0h.01M85.5 253.1h.01M90.5 242.6h.01M93.5 243.1h.01M89.9 238.1h.01M101.7 231.1h.01M92.8 240.8h.01M81.6 250.4h.01M90.7 233.0h.01M88.3 243.3h.01M99.1 232.0h.01M93.8 242.5h.01M78.8 247.9h.01M90.7 245.8h.01M109.1 225.5h.01M88.7 240.5h.01M97.4 245.5h.01M88.5 240.5h.01M111.7 221.9h.01M87.1 239.8h.01M104.4 227.8h.01M69.7 248.0h.01M93.8 235.7h.01M98.8 237.2h.01M115.4 227.6h.01M81.4 248.4h.01M87.2 249.9h.01M80.9 254.2h.01M80.1 257.4h.01M101.3 222.2h.01M89.3 239.2h.01M80.1 256.7h.01M87.6 250.6h.01M102.5 241.8h.01M89.7 247.4h.01M92.3 237.8h.01M105.2 228.8h.01M87.9 245.2h.01M83.5 254.6h.01M108.8 216.2h.01M91.5 238.7h.01M87.7 249.3h.01M114.7 221.7h.01M93.7 249.1h.01M86.2 241.6h.01M89.0 248.6h.01M92.3 241.1h.01M87.0 247.0h.01M96.0 247.3h.01M87.7 238.3h.01M114.1 222.0h.01M92.2 243.0h.01M85.2 233.8h.01M94.5 245.7h.01M101.0 227.6h.01M89.8 245.3h.01M119.6 217.5h.01M92.6 236.5h.01M86.4 242.5h.01M88.2 238.2h.01M84.4 240.5h.01M107.9 229.8h.01M89.0 241.7h.01M101.9 232.6h.01M79.2 236.0h.01M77.9 257.2h.01M87.3 240.2h.01M78.3 256.8h.01M81.9 250.4h.01M88.7 240.2h.01M82.5 250.9h.01M77.9 249.5h.01M93.3 246.0h.01M87.8 245.0h.01M91.5 226.3h.01M82.3 247.1h.01M87.5 249.4h.01M88.4 247.2h.01M102.2 229.4h.01M99.9 241.8h.01M103.6 230.2h.01M75.2 251.7h.01M91.2 243.0h.01M93.1 239.3h.01M84.4 250.9h.01M103.3 229.8h.01M94.2 243.4h.01M89.1 245.5h.01M101.9 227.3h.01M88.2 239.2h.01M76.5 243.2h.01M102.5 245.7h.01M93.0 248.9h.01M103.7 227.4h.01M101.9 228.9h.01M76.7 259.6h.01M88.4 242.6h.01M103.7 235.8h.01M90.5 243.6h.01M93.4 234.4h.01M99.9 230.0h.01M99.6 239.3h.01M98.7 223.0h.01M84.6 245.5h.01M84.5 246.5h.01M90.8 242.1h.01M122.4 214.4h.01M90.0 237.9h.01M88.8 242.2h.01M96.2 229.5h.01M86.5 239.3h.01M79.6 256.1h.01M90.9 243.7h.01M117.6 226.0h.01M91.7 242.9h.01M86.6 244.1h.01M80.9 255.2h.01M95.7 243.3h.01M112.9 216.5h.01M93.0 238.4h.01M107.2 225.4h.01M120.8 228.4h.01M124.5 222.9h.01M96.6 236.7h.01M80.9 252.0h.01M75.5 249.9h.01M110.7 229.5h.01M89.1 256.5h.01M79.2 245.7h.01M115.7 228.7h.01M91.8 244.6h.01M81.2 255.3h.01M90.1 248.2h.01M85.0 244.2h.01M103.1 234.5h.01M84.0 239.1h.01M99.9 241.7h.01M97.8 227.2h.01M93.6 240.7h.01M111.4 222.0h.01M94.0 248.3h.01M79.1 248.2h.01M86.9 251.9h.01M87.2 248.8h.01M89.5 251.4h.01M96.3 232.8h.01M101.2 234.2h.01M88.9 237.8h.01M116.9 218.6h.01M88.8 244.3h.01M87.5 237.5h.01M101.0 223.1h.01M97.9 224.1h.01M83.7 255.2h.01M79.5 252.1h.01M99.0 242.3h.01M143.3 195.6h.01M133.1 205.9h.01M132.4 196.9h.01M130.3 201.4h.01M151.5 189.4h.01M123.3 217.3h.01M119.0 216.7h.01M114.7 217.4h.01M125.9 203.7h.01M133.3 205.3h.01M142.4 197.2h.01M131.3 206.4h.01M118.3 213.5h.01M136.5 194.8h.01M123.0 214.2h.01M123.1 206.6h.01M119.6 211.7h.01M114.2 216.9h.01M131.7 201.1h.01M126.8 205.2h.01M125.6 211.0h.01M129.3 204.6h.01M125.6 212.4h.01M120.3 208.4h.01M133.6 203.7h.01M124.1 208.0h.01M140.2 199.8h.01M129.6 204.9h.01M135.5 205.7h.01M122.1 214.8h.01M107.0 223.6h.01M131.9 203.4h.01M117.1 219.2h.01M133.8 203.9h.01M122.8 210.6h.01M125.0 210.2h.01M127.0 207.0h.01M134.7 204.4h.01M129.7 209.4h.01M115.8 226.5h.01M117.8 214.3h.01M132.1 206.3h.01M125.3 203.3h.01M121.0 208.7h.01M133.5 199.9h.01M103.6 226.1h.01M126.6 203.8h.01M127.4 201.1h.01M125.3 212.3h.01M124.7 206.0h.01M136.1 202.6h.01M147.6 189.8h.01M147.4 188.5h.01M141.0 194.2h.01M139.0 200.3h.01M136.5 206.5h.01M147.6 187.8h.01M156.8 186.2h.01M141.8 189.8h.01M142.1 193.8h.01M133.3 196.6h.01M133.3 202.2h.01M141.1 197.8h.01M131.4 205.7h.01M134.7 201.9h.01M145.4 195.7h.01M145.6 189.5h.01M140.1 190.4h.01M142.3 195.3h.01M142.6 191.4h.01M144.2 192.7h.01M142.7 189.9h.01M148.0 188.2h.01M130.6 203.6h.01M153.9 188.3h.01M137.1 195.4h.01M139.2 198.7h.01M153.2 184.1h.01M141.4 199.3h.01M143.6 189.6h.01M140.6 198.2h.01M138.2 197.3h.01M135.9 201.2h.01M155.8 185.4h.01M135.5 195.7h.01M154.9 184.5h.01M130.0 209.6h.01M135.8 197.2h.01M138.6 192.0h.01M133.6 206.2h.01M139.3 197.8h.01M153.3 184.7h.01M141.1 196.5h.01M156.3 182.4h.01M141.0 201.4h.01M120.6 235.1h.01M102.6 280.7h.01M72.4 232.4h.01M108.5 243.8h.01M70.3 269.6h.01M94.1 255.8h.01M117.1 253.9h.01M81.6 279.5h.01M113.1 250.9h.01M90.5 232.7h.01M108.3 233.7h.01M127.0 225.5h.01M111.0 236.5h.01M79.2 259.5h.01M98.4 259.8h.01M77.9 248.3h.01M90.5 253.5h.01M111.2 248.6h.01M80.4 251.5h.01M68.2 242.3h.01M117.4 243.3h.01M111.0 245.3h.01M80.8 252.0h.01M104.7 248.5h.01M100.5 271.9h.01M96.5 254.8h.01M83.1 260.7h.01M84.1 252.7h.01M87.9 258.7h.01M105.1 263.8h.01M97.5 258.4h.01M128.0 238.3h.01M80.8 260.9h.01M98.7 251.5h.01M55.2 247.4h.01M112.5 256.8h.01M96.7 248.2h.01M84.7 244.8h.01M96.8 225.8h.01M118.0 234.8h.01M117.2 259.9h.01M82.6 246.0h.01M101.8 264.0h.01M80.7 256.2h.01M107.8 247.3h.01M101.9 244.3h.01M89.2 236.9h.01M80.8 259.1h.01M104.0 256.8h.01M86.6 254.5h.01M110.7 233.5h.01M78.0 235.5h.01M97.3 251.6h.01M127.0 262.9h.01M50.3 252.7h.01M88.5 261.5h.01M76.4 229.7h.01M78.5 256.6h.01M88.3 257.6h.01M126.6 234.3h.01M87.4 252.8h.01M109.0 239.4h.01M95.7 236.5h.01M120.6 260.4h.01M127.5 268.9h.01M103.6 260.4h.01M108.0 250.2h.01M91.6 245.4h.01M100.5 253.0h.01M116.4 251.3h.01M100.4 271.5h.01M87.3 236.1h.01M136.5 235.0h.01M85.6 271.0h.01M92.2 242.1h.01M97.0 246.6h.01M78.9 225.0h.01M80.7 233.7h.01M86.5 238.8h.01M108.7 258.1h.01M84.3 272.0h.01M128.6 226.4h.01M78.1 273.9h.01M98.8 248.5h.01M88.7 248.3h.01M112.1 256.8h.01M93.1 242.1h.01M87.5 263.5h.01M87.6 248.2h.01M97.3 251.9h.01M107.1 270.1h.01M75.9 229.3h.01M98.0 245.6h.01M80.5 271.6h.01M75.7 229.7h.01M127.8 255.0h.01M72.2 263.9h.01M82.2 243.9h.01M92.2 249.5h.01M127.8 239.6h.01M81.4 234.9h.01M94.4 236.1h.01M97.1 268.8h.01M130.0 247.4h.01M99.0 242.6h.01M90.8 259.8h.01M62.4 239.0h.01M79.7 238.1h.01M86.5 253.6h.01M116.7 239.7h.01M91.3 241.4h.01M99.8 250.4h.01M107.4 251.0h.01M118.1 248.0h.01M97.4 255.6h.01M98.8 250.2h.01M106.1 258.9h.01M102.8 257.8h.01M89.7 245.2h.01M115.2 266.9h.01M91.4 268.0h.01M90.3 269.6h.01M109.5 250.6h.01M105.3 241.9h.01M88.3 243.2h.01M110.0 258.5h.01M91.6 250.9h.01M78.4 247.6h.01M77.9 267.0h.01M109.3 241.4h.01M86.2 271.0h.01M97.1 234.4h.01M84.3 242.2h.01M92.5 233.1h.01M105.1 241.5h.01M127.1 260.6h.01M69.8 238.0h.01M95.3 227.7h.01M74.2 270.0h.01M83.1 241.1h.01M99.8 255.1h.01M97.8 261.3h.01M84.5 265.8h.01M117.2 245.8h.01M94.7 248.4h.01M89.0 234.8h.01M98.7 238.1h.01M83.4 237.8h.01M99.6 236.4h.01M111.6 226.6h.01M76.3 247.2h.01M90.4 234.9h.01M135.0 244.3h.01M70.1 250.3h.01M125.0 267.4h.01M93.1 248.0h.01M128.8 251.6h.01M100.7 232.3h.01M85.5 255.5h.01M59.1 252.9h.01M92.5 247.1h.01M97.9 255.3h.01M117.8 231.1h.01M112.1 243.8h.01M93.6 254.2h.01M95.5 261.9h.01M84.1 257.6h.01M91.4 224.5h.01M73.3 266.5h.01M92.5 259.9h.01M98.1 244.6h.01M143.4 268.6h.01M78.8 252.4h.01M100.9 222.9h.01M74.8 267.1h.01M120.5 269.7h.01M81.6 256.6h.01M102.4 250.5h.01M89.5 254.1h.01M65.4 212.9h.01M89.1 271.1h.01M75.6 240.9h.01M99.3 235.2h.01M100.8 243.3h.01M87.4 235.5h.01M99.9 258.9h.01M118.9 244.1h.01M76.0 250.3h.01M110.0 235.0h.01M103.1 280.2h.01M113.3 231.6h.01M89.6 231.2h.01M75.1 282.0h.01M93.6 242.4h.01M102.6 237.2h.01M128.6 260.0h.01M98.7 263.4h.01M113.1 258.8h.01M65.3 244.3h.01M129.9 242.2h.01M87.6 238.5h.01M107.3 246.5h.01M87.2 265.3h.01M81.1 262.4h.01M105.5 256.5h.01M113.9 251.8h.01M97.9 273.9h.01M95.6 258.5h.01M93.7 241.6h.01M107.1 236.4h.01M112.4 265.9h.01M110.6 249.8h.01M75.9 244.4h.01M143.9 238.2h.01M111.4 254.8h.01M102.3 237.3h.01M74.1 249.0h.01M100.7 250.3h.01M82.4 252.4h.01M66.4 258.6h.01M76.2 243.3h.01M85.8 260.3h.01M86.0 256.2h.01M79.7 249.7h.01M65.3 264.7h.01M69.8 243.5h.01M69.4 254.7h.01M72.8 249.5h.01M80.2 256.0h.01M87.1 253.8h.01M89.1 258.1h.01M76.1 254.1h.01M80.9 255.8h.01M63.4 255.6h.01M68.6 256.4h.01M64.8 257.2h.01M91.8 252.4h.01M90.4 255.3h.01M68.6 256.8h.01M91.2 248.7h.01M71.5 266.0h.01M74.4 257.6h.01M59.1 258.2h.01M61.6 253.7h.01M83.8 247.0h.01M70.8 268.6h.01M84.2 259.6h.01M82.8 259.0h.01M87.1 248.8h.01M86.2 255.6h.01M71.2 255.5h.01M58.6 257.2h.01M67.6 265.9h.01M71.2 266.2h.01M83.5 270.4h.01M78.4 257.7h.01M63.6 251.4h.01M74.0 250.1h.01M74.8 252.1h.01M72.9 260.4h.01M76.4 257.8h.01M78.3 263.3h.01M70.4 252.6h.01M70.5 252.5h.01M76.5 255.1h.01M78.4 243.3h.01M66.0 251.9h.01M80.4 255.6h.01M83.9 260.0h.01M74.4 248.7h.01M67.5 256.6h.01M60.1 259.0h.01M86.6 259.7h.01M88.9 262.3h.01M74.9 266.7h.01M71.2 263.7h.01M56.0 255.1h.01M66.6 257.2h.01M69.9 255.9h.01M82.8 254.0h.01M79.2 259.3h.01M72.7 243.3h.01M59.3 247.8h.01M78.7 268.3h.01M76.6 251.9h.01M83.0 259.4h.01M67.9 259.4h.01M75.0 251.7h.01M75.8 261.4h.01M80.6 261.5h.01M70.8 253.2h.01M84.5 263.3h.01M89.5 262.2h.01M71.7 253.2h.01M91.4 256.7h.01M89.3 257.4h.01M64.0 254.1h.01M79.9 265.3h.01M75.6 264.0h.01M86.5 254.2h.01M79.2 259.8h.01M63.4 262.2h.01M78.4 250.3h.01M69.6 253.1h.01M69.0 256.3h.01M83.3 254.0h.01M71.4 263.6h.01M76.7 258.9h.01M61.9 259.8h.01M71.6 259.6h.01M73.3 263.9h.01M74.8 263.4h.01M73.7 255.9h.01M69.5 266.0h.01M79.3 265.7h.01M84.2 259.2h.01M65.7 260.1h.01M80.1 256.1h.01M61.3 263.6h.01M60.1 255.9h.01M53.0 252.5h.01M90.2 261.7h.01M75.8 260.2h.01M67.8 255.0h.01M94.7 255.6h.01M75.0 251.5h.01M76.9 262.4h.01M73.6 259.8h.01M77.7 260.5h.01M74.8 258.8h.01M68.8 269.8h.01M81.8 248.9h.01M94.2 252.2h.01M78.1 257.0h.01M71.1 262.4h.01M77.9 256.0h.01M71.6 245.9h.01M74.9 266.2h.01M78.4 254.0h.01M71.1 250.3h.01M76.6 252.6h.01M75.4 255.2h.01M84.3 257.3h.01M71.1 261.2h.01M82.5 275.0h.01M67.9 259.6h.01M65.6 265.6h.01M85.4 268.0h.01M81.9 267.4h.01M66.3 259.6h.01M77.3 267.0h.01M78.5 266.4h.01M66.7 245.2h.01M90.4 255.2h.01M82.9 265.8h.01M87.7 262.5h.01M79.8 254.5h.01M90.1 258.7h.01M68.9 263.3h.01M84.0 243.0h.01M60.7 254.7h.01M87.7 250.5h.01M63.8 265.8h.01M60.9 262.2h.01M69.1 260.6h.01M79.7 256.6h.01M83.9 253.1h.01M74.9 249.3h.01M74.5 248.8h.01M80.3 260.1h.01M72.9 253.4h.01M78.6 255.2h.01M61.1 251.2h.01M75.5 252.7h.01M85.9 261.8h.01M72.9 257.5h.01M84.3 262.3h.01M82.5 256.8h.01M81.7 254.3h.01M77.1 254.9h.01M76.8 257.8h.01M74.8 248.3h.01M77.6 245.1h.01M75.3 253.2h.01M74.0 256.4h.01M78.3 250.4h.01M59.6 258.9h.01M86.9 255.5h.01M63.7 263.9h.01M79.1 252.5h.01M57.4 260.2h.01M93.6 254.7h.01M71.2 256.3h.01M80.2 253.4h.01M69.7 252.4h.01M80.4 251.3h.01M64.9 264.1h.01M71.7 234.7h.01M79.1 258.2h.01M71.8 249.7h.01M83.0 251.8h.01M84.7 258.0h.01M76.1 266.8h.01M81.7 244.8h.01M84.0 260.9h.01M83.0 271.7h.01M82.9 263.0h.01M74.9 252.1h.01M72.5 254.5h.01M82.2 257.6h.01M83.6 259.0h.01M68.1 243.7h.01M75.4 262.8h.01M73.4 251.2h.01M73.2 261.4h.01M79.8 251.1h.01M76.5 252.6h.01M73.6 260.6h.01M84.7 252.5h.01M70.9 255.7h.01M68.9 233.1h.01M80.9 253.7h.01M84.5 256.0h.01M95.6 256.6h.01M81.7 249.8h.01M74.5 248.8h.01M86.7 253.8h.01M68.4 230.1h.01M78.5 246.2h.01M91.8 250.1h.01M84.6 255.3h.01M77.1 250.5h.01M94.7 260.9h.01M97.7 245.9h.01M94.5 245.6h.01M83.5 242.5h.01M74.9 239.1h.01M79.7 238.7h.01M77.7 245.4h.01M90.2 236.9h.01M84.5 252.6h.01M90.7 249.2h.01M86.5 252.6h.01M88.0 253.5h.01M95.2 262.3h.01M85.3 249.4h.01M91.8 246.2h.01M83.9 243.7h.01M86.5 249.1h.01M86.5 248.1h.01M77.4 250.6h.01M78.6 244.4h.01M86.2 245.1h.01M59.6 245.0h.01M62.2 246.1h.01M101.7 252.8h.01M60.3 262.0h.01M81.9 244.6h.01M84.6 245.4h.01M69.4 247.3h.01M85.5 250.8h.01M87.1 245.7h.01M84.7 242.2h.01M90.1 260.2h.01M79.1 252.4h.01M105.7 238.3h.01M72.1 263.2h.01M96.4 255.7h.01M78.2 246.7h.01M77.7 252.2h.01M79.7 243.4h.01M72.0 252.9h.01M81.8 251.0h.01M66.0 249.5h.01M84.5 253.7h.01M88.6 247.2h.01M91.4 247.7h.01M87.7 258.3h.01M91.8 244.7h.01M83.4 252.1h.01M98.0 249.4h.01M83.5 243.8h.01M68.9 250.7h.01M79.6 240.4h.01M89.8 246.8h.01M96.5 247.6h.01M78.3 257.2h.01M80.9 254.8h.01M91.2 239.2h.01M70.7 242.7h.01M89.9 244.5h.01M103.0 255.5h.01M93.1 251.4h.01M93.0 253.5h.01M84.5 247.4h.01M74.9 249.1h.01M74.7 237.8h.01M82.5 247.1h.01M77.9 254.4h.01M93.3 259.1h.01M78.6 253.4h.01M86.6 256.2h.01M85.5 246.3h.01M76.4 249.0h.01M92.4 251.3h.01M75.9 242.7h.01M98.0 248.7h.01M97.1 244.9h.01M76.3 237.2h.01M94.0 241.5h.01M80.6 253.3h.01M85.4 248.0h.01M70.8 256.3h.01M81.2 255.8h.01M76.6 256.0h.01M85.5 247.2h.01M69.1 255.3h.01M62.9 257.6h.01M82.6 256.0h.01M92.4 259.7h.01M67.3 250.4h.01M81.3 244.7h.01M86.0 247.2h.01M98.1 244.3h.01M84.4 256.8h.01M78.1 254.5h.01M93.4 246.9h.01M81.6 248.1h.01M93.6 251.4h.01M65.5 255.6h.01M67.0 243.6h.01M65.4 242.8h.01M83.1 250.2h.01M84.2 240.2h.01M86.1 252.9h.01M65.0 251.3h.01M79.4 243.4h.01M76.5 246.6h.01M145.0 249.1h.01M152.7 238.3h.01M146.3 240.8h.01M173.0 265.7h.01M168.0 225.7h.01M181.5 235.4h.01M130.1 236.0h.01M162.1 242.4h.01M153.9 224.6h.01M167.6 239.0h.01M151.5 254.2h.01M174.5 232.5h.01M153.7 248.6h.01M151.2 240.4h.01M160.9 233.9h.01M156.8 206.2h.01M148.2 265.1h.01M146.4 223.7h.01M122.2 261.6h.01M153.1 265.2h.01M177.3 243.1h.01M171.8 238.7h.01M152.5 226.1h.01M141.1 254.5h.01M165.7 231.1h.01M175.7 248.3h.01M132.7 229.8h.01M139.2 245.0h.01M151.1 228.7h.01M153.2 253.3h.01M165.4 246.4h.01M145.8 225.9h.01M141.4 245.5h.01M152.6 269.4h.01M163.2 238.3h.01M137.1 199.5h.01M117.4 231.3h.01M167.3 270.6h.01M163.7 250.0h.01M155.2 242.8h.01M154.9 225.3h.01M134.9 264.2h.01M153.5 277.6h.01M168.7 226.7h.01M186.0 228.4h.01M168.4 237.5h.01M140.9 249.8h.01M132.5 249.8h.01M164.1 229.5h.01M140.4 237.0h.01M148.5 244.0h.01M129.9 235.5h.01M123.6 222.3h.01M139.7 240.2h.01M171.4 236.4h.01M161.3 262.2h.01M149.7 228.5h.01M154.8 249.5h.01M137.6 235.9h.01M157.0 231.8h.01M146.1 235.4h.01M156.8 250.4h.01M136.1 218.9h.01M123.1 255.3h.01M165.5 207.8h.01M141.9 226.6h.01M126.3 258.2h.01M150.3 254.9h.01M196.1 241.5h.01M134.7 214.0h.01M183.3 252.3h.01M141.4 233.7h.01M149.2 268.6h.01M179.5 226.6h.01M177.0 248.5h.01M147.3 253.1h.01M176.2 250.1h.01M152.1 258.2h.01M115.6 241.9h.01M150.2 265.3h.01M135.8 218.0h.01M161.5 231.5h.01M158.7 236.6h.01M125.6 249.5h.01M167.4 232.2h.01M141.9 216.9h.01M182.7 250.8h.01M159.1 233.6h.01M145.8 259.4h.01M195.8 224.7h.01M161.4 258.5h.01M158.3 246.1h.01M163.4 283.1h.01M163.9 235.3h.01M135.7 224.1h.01M121.0 253.3h.01M166.1 249.7h.01M183.6 268.2h.01M159.9 223.2h.01M183.9 260.6h.01M160.9 206.4h.01M178.9 232.6h.01M121.7 243.8h.01M176.2 268.2h.01M147.2 260.1h.01M155.4 240.5h.01M136.7 270.1h.01M122.2 264.5h.01M151.3 229.3h.01M137.2 242.8h.01M139.0 217.8h.01M146.9 241.9h.01M161.3 233.3h.01M131.5 217.1h.01M148.4 243.5h.01M146.2 239.5h.01M159.8 252.8h.01M165.2 262.8h.01M154.0 222.6h.01M160.7 239.9h.01M146.4 255.9h.01M128.0 235.7h.01M150.9 260.7h.01M141.9 253.1h.01M182.0 252.4h.01M172.6 245.3h.01M156.8 260.5h.01M144.9 211.1h.01M171.1 223.5h.01M153.5 244.5h.01M176.2 272.1h.01M141.1 254.0h.01M144.2 255.0h.01M159.1 255.7h.01M134.5 245.6h.01M162.1 245.2h.01M174.0 245.3h.01M131.5 212.5h.01M134.2 256.5h.01M159.0 220.3h.01M144.1 239.5h.01M141.9 215.6h.01M145.4 267.0h.01M156.2 250.3h.01M143.0 261.8h.01M143.6 250.8h.01M181.2 235.8h.01M152.7 248.8h.01M145.2 202.3h.01M148.8 215.1h.01M181.2 236.4h.01M168.5 256.2h.01M135.3 256.5h.01M167.9 263.1h.01M150.0 228.2h.01M142.2 230.4h.01M144.7 224.1h.01M173.5 237.0h.01M160.5 243.8h.01M149.7 185.1h.01M153.5 176.0h.01M143.9 200.2h.01M161.7 177.6h.01M138.3 196.7h.01M138.4 183.7h.01M148.4 178.1h.01M150.5 195.9h.01M143.5 192.1h.01M154.9 197.0h.01M132.9 210.6h.01M140.8 189.3h.01M136.7 192.2h.01M176.1 197.0h.01M109.1 188.3h.01M145.0 183.3h.01M158.8 189.4h.01M155.9 195.8h.01M156.2 195.3h.01M158.3 186.1h.01M144.2 190.5h.01M149.7 194.8h.01M144.3 197.2h.01M145.6 153.9h.01M157.7 202.5h.01M121.5 166.3h.01M170.7 197.0h.01M138.4 198.1h.01M145.4 172.4h.01M132.6 204.4h.01M143.1 185.8h.01M155.2 197.5h.01M162.6 167.9h.01M161.8 203.7h.01M156.5 192.0h.01M144.5 176.1h.01M138.5 195.5h.01M138.9 193.3h.01M144.9 217.4h.01M168.9 196.8h.01M144.2 205.0h.01M145.4 200.0h.01M138.0 197.9h.01M128.1 203.9h.01M135.8 197.6h.01M132.2 201.9h.01M146.6 185.8h.01M125.4 192.3h.01M116.3 209.0h.01M135.6 184.6h.01M147.9 208.2h.01M132.5 189.6h.01M145.6 195.9h.01M149.4 205.1h.01M144.6 217.1h.01M149.7 194.8h.01M144.9 190.0h.01M150.8 194.4h.01M148.8 219.9h.01M139.5 202.4h.01M142.6 189.0h.01M144.7 195.3h.01M156.7 192.9h.01M138.9 198.0h.01M140.9 192.3h.01M145.8 203.7h.01M148.2 197.0h.01M119.0 202.4h.01M137.7 192.4h.01M133.7 206.6h.01M124.4 196.4h.01M136.1 195.5h.01M152.6 190.0h.01M134.4 199.0h.01M120.9 203.1h.01M106.8 202.8h.01M102.1 181.2h.01M112.9 187.1h.01M107.2 188.5h.01M122.6 199.2h.01M109.7 213.4h.01M103.8 202.3h.01M109.3 193.2h.01M116.8 193.5h.01M116.8 197.0h.01M113.4 199.8h.01M95.2 194.9h.01M121.1 224.4h.01M110.9 198.4h.01M108.0 195.1h.01M112.2 191.4h.01M121.8 196.3h.01M105.3 198.8h.01M101.8 196.1h.01M118.5 200.0h.01M108.6 203.3h.01M76.5 196.1h.01M97.9 187.7h.01M104.4 204.5h.01M106.1 212.3h.01M125.2 187.7h.01M94.5 202.6h.01M103.0 210.3h.01M113.9 193.3h.01M135.3 209.5h.01M92.2 188.1h.01M118.4 181.7h.01M114.1 199.1h.01M94.1 208.3h.01M107.2 188.7h.01M119.4 207.3h.01M109.5 193.6h.01M105.7 198.8h.01M106.3 195.7h.01M103.4 198.6h.01M132.9 203.2h.01M121.3 211.8h.01M106.6 186.8h.01M101.1 201.1h.01M105.9 206.6h.01M169.8 171.0h.01M166.7 165.2h.01M169.6 163.7h.01M165.8 158.1h.01M167.8 157.1h.01M166.0 166.6h.01M79.6 258.8h.01M55.3 255.3h.01M64.6 265.0h.01M71.1 247.3h.01M71.3 272.9h.01M87.7 250.6h.01M68.8 272.9h.01M100.0 266.5h.01M51.3 255.4h.01M80.4 263.9h.01M72.9 270.4h.01M75.2 254.9h.01M83.6 244.6h.01M120.1 267.3h.01M90.0 264.8h.01M101.8 270.0h.01M90.6 259.9h.01M47.1 252.3h.01M81.4 255.1h.01M49.7 266.8h.01M91.2 254.6h.01M75.3 260.3h.01M59.9 271.9h.01M89.0 263.5h.01M77.5 261.3h.01M90.0 275.6h.01M86.4 271.7h.01M95.8 257.7h.01M78.0 258.9h.01M63.0 260.1h.01M64.1 263.1h.01M97.7 267.0h.01M67.3 273.4h.01M79.0 281.8h.01M54.3 266.0h.01M68.7 261.0h.01M69.6 264.9h.01M66.9 260.4h.01M96.4 259.9h.01M56.2 255.4h.01M70.2 255.1h.01M54.8 261.7h.01M93.2 265.7h.01M95.6 267.8h.01M94.9 263.6h.01M88.6 268.1h.01M90.1 261.0h.01M62.4 273.6h.01M82.7 268.2h.01M63.1 268.0h.01M82.9 268.7h.01M90.2 264.7h.01M65.5 269.7h.01M75.2 272.6h.01M82.5 254.9h.01M75.3 247.1h.01M100.5 255.3h.01M67.0 252.2h.01M58.2 275.0h.01M84.9 269.9h.01M91.8 269.6h.01M96.5 254.6h.01M108.8 263.9h.01M88.7 264.0h.01M77.1 262.2h.01M85.6 248.8h.01M99.7 259.1h.01M70.8 264.8h.01M71.9 273.5h.01M84.5 257.0h.01M60.0 259.9h.01M82.6 276.0h.01M77.5 270.2h.01M89.5 283.2h.01M91.6 263.9h.01M67.3 255.0h.01M82.8 272.5h.01M62.7 264.0h.01M72.1 263.9h.01M76.0 254.4h.01M84.4 254.4h.01M87.1 257.0h.01M57.5 242.8h.01M72.2 277.5h.01M78.9 261.8h.01M68.5 257.3h.01M102.9 268.9h.01M69.2 242.0h.01M89.0 268.3h.01M68.5 258.2h.01M89.5 268.1h.01M65.1 266.3h.01M66.4 265.4h.01M58.7 262.0h.01M80.1 272.3h.01M93.5 249.0h.01M87.0 241.9h.01M53.4 263.4h.01M83.3 253.8h.01M81.5 251.7h.01M72.4 259.9h.01M78.9 253.9h.01M64.5 266.7h.01M82.6 237.4h.01M94.0 252.2h.01M75.4 272.9h.01M70.8 256.1h.01M90.1 257.8h.01M42.8 258.1h.01M83.4 271.2h.01M108.7 251.9h.01M59.6 266.8h.01M74.6 260.4h.01M104.6 252.6h.01M88.4 258.8h.01M55.1 257.3h.01M97.4 248.2h.01M100.0 266.4h.01" stroke="#e84f5a" stroke-width="0.9" stroke-linecap="square" fill="none" opacity="0.72"/>
<line x1="40.60" y1="114.00" x2="40.60" y2="284.25" stroke="#1a1a1a" stroke-width="1.1"/>
<line x1="40.10" y1="283.75" x2="227.50" y2="283.75" stroke="#1a1a1a" stroke-width="1.1"/>
<path d="M37.80 270.98H40.60M54.63 283.75v2.6M37.80 263.50H40.60M62.83 283.75v2.6M37.80 258.20H40.60M68.66 283.75v2.6M37.80 254.09H40.60M73.17 283.75v2.6M37.80 250.73H40.60M76.86 283.75v2.6M37.80 247.89H40.60M79.98 283.75v2.6M37.80 245.43H40.60M82.68 283.75v2.6M37.80 243.25H40.60M85.07 283.75v2.6M37.80 228.54H40.60M101.23 283.75v2.6M37.80 221.06H40.60M109.43 283.75v2.6M37.80 215.76H40.60M115.26 283.75v2.6M37.80 211.65H40.60M119.77 283.75v2.6M37.80 208.29H40.60M123.46 283.75v2.6M37.80 205.45H40.60M126.58 283.75v2.6M37.80 202.99H40.60M129.28 283.75v2.6M37.80 200.82H40.60M131.67 283.75v2.6M37.80 186.10H40.60M147.83 283.75v2.6M37.80 178.63H40.60M156.03 283.75v2.6M37.80 173.33H40.60M161.86 283.75v2.6M37.80 169.21H40.60M166.37 283.75v2.6M37.80 165.85H40.60M170.06 283.75v2.6M37.80 163.01H40.60M173.18 283.75v2.6M37.80 160.55H40.60M175.88 283.75v2.6M37.80 158.38H40.60M178.27 283.75v2.6M37.80 143.66H40.60M194.43 283.75v2.6M37.80 136.19H40.60M202.63 283.75v2.6M37.80 130.89H40.60M208.46 283.75v2.6M37.80 126.77H40.60M212.97 283.75v2.6M37.80 123.41H40.60M216.66 283.75v2.6M37.80 120.57H40.60M219.78 283.75v2.6M37.80 118.11H40.60M222.48 283.75v2.6M37.80 115.94H40.60M224.87 283.75v2.6" stroke="#222" stroke-width="0.8" fill="none"/>
<path d="M35.20 283.75H40.60M40.60 283.75v4.6M35.20 241.31H40.60M87.20 283.75v4.6M35.20 198.88H40.60M133.80 283.75v4.6M35.20 156.44H40.60M180.40 283.75v4.6M35.20 114.00H40.60M227.00 283.75v4.6" stroke="#222" stroke-width="1.25" fill="none"/>
<text x="31.40" y="282.75" font-size="6.6" style="font-family:'DejaVu Sans', 'Liberation Sans', sans-serif" text-anchor="end" fill="#222">10<tspan dy="-2.6" font-size="4.75">0</tspan></text>
<text x="48.60" y="302.00" font-size="6.6" style="font-family:'DejaVu Sans', 'Liberation Sans', sans-serif" text-anchor="middle" fill="#222">10<tspan dy="-2.6" font-size="4.75">0</tspan></text>
<text x="31.40" y="245.01" font-size="6.6" style="font-family:'DejaVu Sans', 'Liberation Sans', sans-serif" text-anchor="end" fill="#222">10<tspan dy="-2.6" font-size="4.75">1</tspan></text>
<text x="89.70" y="302.00" font-size="6.6" style="font-family:'DejaVu Sans', 'Liberation Sans', sans-serif" text-anchor="middle" fill="#222">10<tspan dy="-2.6" font-size="4.75">1</tspan></text>
<text x="31.40" y="202.57" font-size="6.6" style="font-family:'DejaVu Sans', 'Liberation Sans', sans-serif" text-anchor="end" fill="#222">10<tspan dy="-2.6" font-size="4.75">2</tspan></text>
<text x="136.30" y="302.00" font-size="6.6" style="font-family:'DejaVu Sans', 'Liberation Sans', sans-serif" text-anchor="middle" fill="#222">10<tspan dy="-2.6" font-size="4.75">2</tspan></text>
<text x="31.40" y="160.14" font-size="6.6" style="font-family:'DejaVu Sans', 'Liberation Sans', sans-serif" text-anchor="end" fill="#222">10<tspan dy="-2.6" font-size="4.75">3</tspan></text>
<text x="182.90" y="302.00" font-size="6.6" style="font-family:'DejaVu Sans', 'Liberation Sans', sans-serif" text-anchor="middle" fill="#222">10<tspan dy="-2.6" font-size="4.75">3</tspan></text>
<text x="31.40" y="124.20" font-size="6.6" style="font-family:'DejaVu Sans', 'Liberation Sans', sans-serif" text-anchor="end" fill="#222">10<tspan dy="-2.6" font-size="4.75">4</tspan></text>
<text x="221.00" y="302.00" font-size="6.6" style="font-family:'DejaVu Sans', 'Liberation Sans', sans-serif" text-anchor="middle" fill="#222">10<tspan dy="-2.6" font-size="4.75">4</tspan></text>
<line x1="127.50" y1="114.00" x2="127.50" y2="283.75" stroke="#1a1a1a" stroke-width="1.1"/>
<line x1="40.60" y1="210.25" x2="227.00" y2="210.25" stroke="#1a1a1a" stroke-width="1.1"/>
<text x="43.75" y="126.00" font-size="8.4" style="font-family:'DejaVu Sans', 'Liberation Sans', sans-serif" text-anchor="start" fill="#2a2a2a">Q1</text>
<text x="43.75" y="136.00" font-size="8.4" style="font-family:'DejaVu Sans', 'Liberation Sans', sans-serif" text-anchor="start" fill="#2a2a2a">2.91</text>
<text x="211.00" y="126.00" font-size="8.4" style="font-family:'DejaVu Sans', 'Liberation Sans', sans-serif" text-anchor="end" fill="#2a2a2a">Q2</text>
<text x="211.00" y="136.00" font-size="8.4" style="font-family:'DejaVu Sans', 'Liberation Sans', sans-serif" text-anchor="end" fill="#2a2a2a">5.64</text>
<text x="43.75" y="266.00" font-size="8.4" style="font-family:'DejaVu Sans', 'Liberation Sans', sans-serif" text-anchor="start" fill="#2a2a2a">Q4</text>
<text x="43.75" y="276.00" font-size="8.4" style="font-family:'DejaVu Sans', 'Liberation Sans', sans-serif" text-anchor="start" fill="#2a2a2a">87.4</text>
<text x="211.00" y="266.00" font-size="8.4" style="font-family:'DejaVu Sans', 'Liberation Sans', sans-serif" text-anchor="end" fill="#2a2a2a">Q3</text>
<text x="211.00" y="276.00" font-size="8.4" style="font-family:'DejaVu Sans', 'Liberation Sans', sans-serif" text-anchor="end" fill="#2a2a2a">4.10</text>
<text x="134.00" y="325.00" font-size="14.6" text-anchor="middle" fill="#1a1a1a">AV-FITC</text>
<text x="0.00" y="0.00" font-size="13.6" text-anchor="middle" fill="#1a1a1a" transform="translate(13.5 197.5) rotate(-90)">PI</text>
<ellipse cx="339.2" cy="239.1" rx="17.2" ry="2.9" transform="rotate(-40.5 339.2 239.1)" fill="#ea4f5b" opacity="0.28" filter="url(#b1)"/>
<ellipse cx="337.0" cy="241.0" rx="9.2" ry="1.8" transform="rotate(-40.5 337.0 241.0)" fill="#e94a57" opacity="0.28" filter="url(#b2)"/>
<path d="M324.5 247.3h.01M344.9 227.8h.01M332.0 237.7h.01M355.5 225.7h.01M359.0 221.1h.01M343.2 234.8h.01M330.8 246.8h.01M325.3 249.6h.01M348.6 231.2h.01M337.2 248.5h.01M337.0 239.1h.01M338.8 237.8h.01M333.0 243.2h.01M370.7 212.3h.01M341.0 239.8h.01M370.3 212.1h.01M335.9 250.8h.01M323.5 251.1h.01M351.3 235.3h.01M324.3 242.9h.01M347.3 230.8h.01M334.4 244.8h.01M341.2 238.4h.01M335.5 246.8h.01M362.0 219.7h.01M334.3 245.9h.01M343.4 232.4h.01M334.8 246.6h.01M335.6 241.1h.01M340.5 237.9h.01M333.8 237.3h.01M366.2 216.4h.01M331.1 249.6h.01M342.2 236.6h.01M357.2 229.4h.01M348.5 235.8h.01M372.0 209.4h.01M333.8 246.5h.01M321.5 253.1h.01M359.7 224.1h.01M343.9 229.6h.01M376.5 208.1h.01M350.4 230.9h.01M319.2 250.5h.01M330.0 254.3h.01M329.3 246.7h.01M335.7 244.0h.01M345.7 234.3h.01M320.0 243.5h.01M340.2 239.1h.01M357.3 223.4h.01M332.4 246.4h.01M321.4 250.2h.01M328.7 249.1h.01M372.4 212.1h.01M356.3 225.1h.01M340.9 236.2h.01M330.4 238.3h.01M324.1 247.2h.01M351.8 230.1h.01M357.9 227.0h.01M336.1 245.4h.01M369.5 213.2h.01M354.8 225.3h.01M323.1 253.3h.01M330.0 247.4h.01M333.5 245.1h.01M322.6 262.0h.01M359.2 221.2h.01M329.1 247.8h.01M348.8 232.1h.01M340.7 231.9h.01M329.6 252.4h.01M338.6 234.8h.01M326.8 244.4h.01M330.3 251.2h.01M337.0 244.9h.01M337.8 235.5h.01M335.4 250.7h.01M328.3 244.6h.01M357.9 223.3h.01M339.4 243.9h.01M322.2 255.4h.01M325.0 245.9h.01M331.9 249.7h.01M332.6 238.4h.01M330.0 252.9h.01M353.0 224.5h.01M377.8 205.5h.01M326.1 249.8h.01M355.0 229.9h.01M353.9 225.4h.01M329.4 242.2h.01M335.3 240.4h.01M339.1 235.1h.01M330.8 243.1h.01M324.0 247.5h.01M325.7 246.2h.01M346.8 232.9h.01M326.2 252.3h.01M344.2 239.5h.01M334.9 242.1h.01M331.1 246.5h.01M345.6 234.1h.01M335.7 244.1h.01M339.0 240.1h.01M329.0 248.6h.01M326.5 246.8h.01M343.1 242.6h.01M353.9 226.5h.01M337.1 244.4h.01M361.9 222.5h.01M335.7 242.8h.01M333.6 242.9h.01M328.9 247.0h.01M315.2 254.5h.01M342.8 233.2h.01M344.3 230.9h.01M334.4 244.6h.01M326.4 247.3h.01M378.5 204.4h.01M329.6 245.2h.01M337.5 240.5h.01M354.7 227.9h.01M332.8 243.3h.01M321.4 248.4h.01M331.7 248.2h.01M340.4 240.8h.01M352.8 227.1h.01M372.2 210.0h.01M330.6 244.9h.01M356.1 224.3h.01M331.2 247.6h.01M356.1 224.4h.01M336.6 245.1h.01M354.9 228.2h.01M330.7 247.4h.01M340.4 232.5h.01M357.5 223.7h.01M337.9 248.2h.01M338.3 237.5h.01M337.4 242.6h.01M350.7 229.1h.01M328.0 246.1h.01M327.8 245.0h.01M336.0 240.2h.01M336.5 238.6h.01M328.9 247.2h.01M335.9 246.0h.01M329.3 248.3h.01M334.4 238.7h.01M349.6 230.7h.01M319.5 258.5h.01M351.9 226.2h.01M365.9 216.6h.01M327.8 251.1h.01M331.4 241.0h.01M318.4 258.0h.01M331.6 248.0h.01M342.8 234.5h.01M335.4 248.7h.01M366.7 217.2h.01M332.1 241.7h.01M336.5 247.4h.01M344.4 233.8h.01M326.4 250.7h.01M329.2 247.7h.01M351.0 232.0h.01M338.8 238.3h.01M343.7 241.1h.01M341.2 233.1h.01M363.5 218.9h.01M395.5 190.2h.01M335.7 241.1h.01M342.5 234.5h.01M320.1 247.8h.01M335.0 240.9h.01M335.6 249.9h.01M351.9 231.2h.01M333.1 245.4h.01M334.8 242.2h.01M350.4 231.2h.01M342.4 236.9h.01M322.7 250.3h.01M342.9 234.8h.01M330.7 247.7h.01M327.6 246.5h.01M351.4 227.7h.01M361.7 221.1h.01M352.2 231.1h.01M317.6 257.2h.01M324.6 249.8h.01M338.2 244.2h.01M339.4 244.5h.01M332.2 244.9h.01M340.1 241.5h.01M335.5 240.2h.01M331.7 240.7h.01M359.1 223.9h.01M344.6 235.3h.01M330.9 244.7h.01M349.5 228.1h.01M332.9 250.3h.01M363.5 218.9h.01M346.2 233.7h.01M360.5 219.9h.01M339.2 240.7h.01M360.9 220.0h.01M340.1 236.8h.01M330.0 244.6h.01M339.9 241.5h.01M329.8 245.0h.01M334.0 244.8h.01M347.0 229.0h.01M341.4 234.1h.01M347.6 229.2h.01M326.1 247.6h.01M334.8 239.5h.01M340.8 238.2h.01M338.8 240.3h.01M350.6 227.4h.01M337.0 240.9h.01M319.8 257.4h.01M328.9 245.3h.01M333.3 244.5h.01M343.2 237.2h.01M332.2 247.7h.01M343.4 234.4h.01M338.1 242.7h.01M345.2 236.0h.01M340.6 241.6h.01M374.4 209.8h.01M326.4 256.9h.01M329.6 242.4h.01M317.2 259.8h.01M356.4 226.9h.01M336.1 246.8h.01M335.3 240.4h.01M338.5 240.4h.01M338.5 241.1h.01M321.1 261.2h.01M333.2 246.6h.01M330.3 247.3h.01M332.8 239.2h.01M344.3 236.7h.01M323.3 244.8h.01M329.9 244.1h.01M338.8 239.4h.01M364.5 218.9h.01M335.0 243.2h.01M309.8 260.2h.01M328.7 247.7h.01M342.6 236.8h.01M351.6 226.7h.01M341.9 236.4h.01M337.7 241.4h.01M334.9 243.5h.01M338.4 243.2h.01M336.5 242.4h.01M380.6 204.7h.01M347.1 235.6h.01M329.5 250.1h.01M350.0 231.1h.01M354.2 228.4h.01M356.0 223.2h.01M343.4 233.9h.01M357.7 223.6h.01M325.9 250.9h.01M330.1 250.6h.01M330.3 239.1h.01M335.4 245.9h.01M341.5 235.2h.01M348.5 232.8h.01M362.3 221.3h.01M341.9 234.4h.01M342.2 237.5h.01M337.9 241.6h.01M327.7 251.1h.01M337.8 241.5h.01M335.7 241.1h.01M342.4 238.8h.01M334.8 244.0h.01M331.1 247.6h.01M335.2 238.3h.01M355.1 223.3h.01M336.2 237.4h.01M323.2 255.4h.01M320.9 246.8h.01M332.5 239.6h.01M338.3 246.1h.01M334.2 244.6h.01M346.6 233.5h.01M338.5 244.8h.01M336.9 242.3h.01M336.8 237.0h.01M342.4 236.6h.01M348.6 233.0h.01M360.8 216.6h.01M331.3 244.2h.01M330.3 248.3h.01M336.6 241.8h.01M321.0 250.9h.01M335.7 240.6h.01M331.5 245.3h.01M332.8 241.0h.01M363.7 216.8h.01M348.5 232.8h.01M352.2 226.6h.01M329.2 249.3h.01M337.7 233.1h.01M313.2 259.0h.01M333.2 243.3h.01M342.4 233.5h.01M381.1 204.7h.01M358.6 223.1h.01M319.5 256.9h.01M333.0 246.0h.01M337.1 243.1h.01M328.8 246.7h.01M335.9 239.5h.01M334.1 245.6h.01M368.4 213.7h.01M349.0 227.7h.01M333.6 245.0h.01M345.0 231.2h.01M347.0 232.8h.01M359.6 223.9h.01M345.4 232.7h.01M340.0 235.8h.01M326.6 243.3h.01M323.4 247.8h.01M336.3 242.0h.01M325.2 250.7h.01M344.9 237.0h.01M336.5 242.1h.01M335.3 245.6h.01M324.0 253.1h.01M320.5 262.2h.01M349.4 224.9h.01M330.0 242.1h.01M321.0 253.1h.01M331.2 249.7h.01M330.5 242.7h.01M336.9 242.4h.01M350.9 230.4h.01M322.5 250.2h.01M333.9 240.8h.01M348.5 230.2h.01M335.7 240.9h.01M335.1 237.7h.01M370.6 211.2h.01M327.5 242.8h.01M333.9 239.1h.01M343.9 238.7h.01M346.1 231.9h.01M357.3 223.2h.01M336.6 241.5h.01M333.5 245.4h.01M323.0 246.3h.01M355.5 223.4h.01M334.4 244.3h.01M330.8 242.2h.01M333.6 240.7h.01M345.0 232.8h.01M335.9 244.5h.01M320.7 249.1h.01M350.4 233.0h.01M337.1 238.6h.01M357.4 224.8h.01M351.2 224.2h.01M334.0 240.1h.01M328.5 250.4h.01M348.0 230.3h.01M337.0 245.6h.01M347.3 231.8h.01M345.2 234.3h.01M325.0 249.2h.01M342.3 238.4h.01M325.0 248.2h.01M329.2 242.3h.01M355.3 226.5h.01M355.6 220.0h.01M333.1 250.8h.01M321.3 247.4h.01M342.8 240.9h.01M345.8 230.7h.01M346.3 234.1h.01M341.6 238.2h.01M351.8 231.4h.01M360.3 223.5h.01M332.5 238.6h.01M343.5 231.0h.01M373.1 208.3h.01M317.3 250.4h.01M343.6 236.2h.01M347.8 232.6h.01M331.6 248.5h.01M328.2 243.1h.01M352.3 229.3h.01M328.4 247.4h.01M354.7 228.2h.01M329.7 251.3h.01M314.7 260.3h.01M342.9 235.6h.01M336.1 236.6h.01M336.6 243.0h.01M329.1 248.2h.01M331.7 237.9h.01M332.6 246.7h.01M323.5 252.6h.01M340.3 234.2h.01M336.2 244.7h.01M347.2 229.5h.01M353.9 227.4h.01M341.2 242.2h.01M349.3 231.5h.01M353.4 228.7h.01M357.5 223.2h.01M324.7 257.7h.01M350.7 230.6h.01M337.5 240.3h.01M337.1 237.9h.01M349.7 230.4h.01M329.2 248.6h.01M334.1 243.4h.01M349.6 237.9h.01M328.5 249.8h.01M349.1 231.8h.01M360.8 219.7h.01M334.1 243.4h.01M327.2 253.6h.01M327.3 251.4h.01M355.5 223.1h.01M335.1 241.9h.01M365.4 217.2h.01M323.9 256.5h.01M351.4 223.6h.01M319.0 267.7h.01M335.0 235.8h.01M356.0 228.3h.01M319.0 261.8h.01M348.6 231.0h.01M331.6 247.0h.01M330.2 247.4h.01M334.0 242.0h.01M347.3 235.0h.01M352.1 229.2h.01M363.3 215.9h.01M338.4 240.4h.01M354.3 220.8h.01M332.6 243.7h.01M343.7 242.4h.01M340.7 237.5h.01M345.4 236.7h.01M338.3 245.6h.01M328.8 252.7h.01M350.0 232.7h.01M362.3 218.9h.01M344.2 235.6h.01M330.4 243.9h.01M331.7 248.5h.01M314.5 254.8h.01M340.3 242.4h.01M338.2 244.2h.01M335.6 240.4h.01M323.8 253.0h.01M365.6 216.7h.01M329.0 250.0h.01M322.9 248.7h.01M355.9 225.9h.01M353.2 227.7h.01M336.3 242.2h.01M336.0 245.5h.01M322.2 246.4h.01M331.2 249.2h.01M328.3 240.3h.01M383.2 200.0h.01M336.3 243.6h.01M342.8 235.5h.01M324.5 253.8h.01M328.1 247.9h.01M348.9 229.7h.01M320.2 252.9h.01M348.0 233.6h.01M325.8 250.8h.01M343.5 238.8h.01M343.9 235.6h.01M335.1 244.2h.01M349.5 229.9h.01M337.5 246.5h.01M335.3 239.8h.01M346.4 229.5h.01M329.3 251.0h.01M338.6 242.2h.01M348.7 228.9h.01M344.7 233.3h.01M340.9 238.4h.01M334.1 239.1h.01M342.0 236.8h.01M344.2 231.8h.01M339.9 237.8h.01M332.8 243.6h.01M332.5 240.2h.01M331.5 244.1h.01M344.4 234.2h.01M360.9 221.9h.01M342.5 237.0h.01M325.4 252.3h.01M356.5 222.0h.01M359.3 223.3h.01M341.0 236.2h.01M336.1 239.2h.01M336.9 241.2h.01M336.1 237.8h.01M351.3 227.0h.01M344.4 236.5h.01M339.3 247.3h.01M339.6 240.1h.01M335.4 243.5h.01M327.3 251.7h.01M333.0 242.7h.01M350.6 231.8h.01M331.6 242.1h.01M317.7 253.4h.01M345.9 235.2h.01M326.3 250.4h.01M353.2 225.3h.01M330.7 243.3h.01M341.0 232.0h.01M336.6 242.9h.01M338.1 243.2h.01M346.3 231.6h.01M326.5 246.1h.01M344.8 234.0h.01M337.4 237.7h.01M356.8 226.2h.01M347.8 228.8h.01M379.9 205.6h.01M329.5 251.0h.01M334.6 240.4h.01M331.3 247.6h.01M342.3 237.1h.01M333.4 240.6h.01M340.7 237.0h.01M336.3 243.7h.01M363.9 216.7h.01M351.8 226.5h.01M351.5 230.3h.01M338.0 240.9h.01M329.8 246.0h.01M353.5 228.9h.01M372.8 208.7h.01M333.2 244.6h.01M337.2 239.2h.01M333.3 243.8h.01M357.6 223.2h.01M331.1 247.1h.01M312.9 257.9h.01M332.1 246.2h.01M317.1 257.2h.01M329.6 250.9h.01M349.3 229.3h.01M342.9 232.5h.01M340.9 238.5h.01M353.7 225.6h.01M320.3 258.5h.01M326.8 247.7h.01M336.7 246.9h.01M338.5 243.5h.01M336.0 237.4h.01M345.2 235.5h.01M329.6 242.0h.01M384.6 203.6h.01M344.4 236.0h.01M353.0 228.8h.01M321.8 248.7h.01M352.1 231.7h.01M355.3 227.4h.01M338.4 242.9h.01M362.6 220.2h.01M358.7 225.3h.01M333.0 248.6h.01M328.9 244.7h.01M361.5 216.7h.01M336.9 244.1h.01M342.8 234.9h.01M330.0 248.8h.01M345.5 233.5h.01M326.2 245.1h.01M336.9 241.0h.01M350.1 229.0h.01M350.2 226.6h.01M324.2 255.6h.01M332.0 242.4h.01M333.8 239.7h.01M331.8 240.8h.01M338.9 237.6h.01M336.6 241.4h.01M341.8 231.9h.01M339.2 238.3h.01M326.8 248.8h.01M345.8 234.8h.01M368.8 213.2h.01M342.3 242.5h.01M330.6 243.6h.01M332.1 243.2h.01M337.0 241.4h.01M328.6 244.2h.01M334.6 239.1h.01M330.8 247.6h.01M334.6 239.8h.01M323.1 249.2h.01M325.5 252.9h.01M349.4 231.3h.01M341.3 235.8h.01M339.8 238.8h.01M337.0 239.4h.01M328.5 249.4h.01M341.5 233.8h.01M335.0 242.6h.01M342.6 231.4h.01M322.6 248.2h.01M324.6 247.7h.01M349.2 227.6h.01M371.5 212.0h.01M348.0 231.4h.01M351.3 229.7h.01M350.7 230.9h.01M347.5 233.1h.01M354.6 226.0h.01M335.3 247.9h.01M333.6 245.2h.01M370.2 211.5h.01M333.6 241.7h.01M330.3 249.0h.01M335.5 242.7h.01M323.6 254.4h.01M327.7 242.3h.01M328.2 243.0h.01M360.8 217.2h.01M340.1 235.3h.01M327.9 244.3h.01M355.2 222.9h.01M332.1 246.0h.01M335.0 245.0h.01M328.0 243.1h.01M346.0 236.8h.01M344.3 232.4h.01M356.7 226.0h.01M334.6 244.6h.01M336.9 241.4h.01M348.6 233.5h.01M338.5 239.9h.01M314.4 257.0h.01M343.3 233.3h.01M342.7 235.5h.01M338.3 240.2h.01M358.6 223.7h.01M336.0 238.1h.01M341.4 234.1h.01M356.0 223.1h.01M331.5 245.2h.01M329.5 249.2h.01M341.3 235.3h.01M335.6 248.4h.01M356.3 225.9h.01M343.9 239.6h.01M333.3 243.3h.01M334.2 240.0h.01M332.8 251.1h.01M338.2 237.2h.01M334.3 241.8h.01M333.3 244.0h.01M321.4 247.7h.01M335.0 242.0h.01M327.0 249.2h.01M332.7 245.4h.01M337.1 244.6h.01M360.2 222.7h.01M338.9 242.1h.01M349.5 231.6h.01M349.0 229.7h.01M350.3 231.1h.01M343.5 235.0h.01M334.7 245.0h.01M331.2 242.4h.01M365.2 219.3h.01M333.1 249.2h.01M321.3 256.9h.01M348.5 231.9h.01M336.8 243.8h.01M344.0 231.9h.01M332.8 248.1h.01M347.7 228.8h.01M325.7 252.4h.01M329.1 245.3h.01M333.3 245.0h.01M321.9 257.1h.01M335.7 245.2h.01M326.2 247.2h.01M346.6 235.7h.01M336.3 240.7h.01M359.8 224.0h.01M341.8 236.2h.01M358.1 224.6h.01M336.7 246.2h.01M355.2 226.0h.01M346.0 235.6h.01M331.4 241.8h.01M354.4 222.3h.01M322.1 248.6h.01M346.8 235.6h.01M334.1 248.0h.01M364.8 220.0h.01M328.9 252.8h.01M373.2 208.6h.01M326.1 255.2h.01M345.8 233.5h.01M334.1 238.1h.01M330.6 247.3h.01M346.3 235.8h.01M351.8 227.3h.01M338.9 244.0h.01M326.9 251.7h.01M330.5 247.4h.01M367.3 215.9h.01M332.4 242.8h.01M325.5 250.9h.01M318.1 257.0h.01M338.2 237.3h.01M332.7 248.9h.01M359.6 226.4h.01M356.2 225.4h.01M337.5 244.7h.01M348.6 231.6h.01M366.1 215.9h.01M342.0 240.2h.01M345.4 234.1h.01M357.5 230.3h.01M335.7 244.5h.01M344.6 235.0h.01M364.2 217.6h.01M363.8 216.2h.01M338.4 237.4h.01M344.5 236.7h.01M346.8 233.3h.01M333.2 240.4h.01M351.2 229.0h.01M354.0 222.5h.01M332.5 239.4h.01M354.2 224.6h.01M330.1 250.1h.01M337.0 241.9h.01M338.2 243.7h.01M342.4 237.3h.01M338.8 242.6h.01M355.1 224.7h.01M349.4 226.6h.01M329.7 245.5h.01M332.0 247.2h.01M322.8 247.5h.01M339.2 236.5h.01M338.5 240.1h.01M330.9 244.9h.01M351.1 229.0h.01M339.6 241.0h.01M329.0 243.7h.01M336.9 246.6h.01M350.2 235.9h.01M354.5 228.4h.01M330.3 241.2h.01M319.7 256.5h.01M325.7 246.5h.01M346.8 233.5h.01M326.8 250.8h.01M360.6 222.9h.01M333.0 247.8h.01M319.9 254.5h.01M335.5 246.5h.01M325.3 247.6h.01M335.6 244.8h.01M325.8 251.5h.01M333.4 242.6h.01M327.2 251.0h.01M340.3 239.6h.01M339.9 238.2h.01M329.7 247.3h.01M350.1 230.2h.01M347.1 234.9h.01M342.4 235.7h.01M331.2 250.5h.01M335.5 241.8h.01M340.1 241.0h.01M350.3 227.9h.01M338.4 243.6h.01M332.1 245.3h.01M327.6 244.0h.01M326.6 250.6h.01M338.6 232.0h.01M334.7 242.3h.01M324.0 251.9h.01M332.9 249.3h.01M330.7 250.2h.01M325.4 247.3h.01M359.5 220.2h.01M331.0 240.9h.01M342.0 241.1h.01M334.3 242.4h.01M336.1 239.4h.01M326.5 250.2h.01M331.6 239.9h.01M317.7 259.5h.01M327.3 251.0h.01M351.6 228.4h.01M327.8 240.2h.01M362.8 220.9h.01M328.9 244.3h.01M342.3 230.8h.01M349.9 232.6h.01M324.9 247.4h.01M365.5 215.7h.01M339.4 238.0h.01M321.7 258.1h.01M362.7 217.8h.01M332.2 250.6h.01M323.7 251.2h.01M322.7 247.3h.01M327.3 240.1h.01M326.9 249.8h.01M328.9 244.0h.01M377.6 207.5h.01M334.6 246.9h.01M347.7 232.4h.01M348.6 230.1h.01M335.3 248.7h.01M340.7 242.7h.01M318.3 253.4h.01M329.5 247.9h.01M338.1 243.2h.01M345.4 233.8h.01M346.6 234.9h.01M337.9 232.8h.01M334.0 245.7h.01M336.0 246.6h.01M332.8 244.8h.01M329.9 246.6h.01M356.7 227.6h.01M352.0 230.0h.01M337.1 236.9h.01M346.3 231.3h.01M341.5 236.8h.01M349.9 228.2h.01M349.9 230.0h.01M363.2 218.4h.01M332.7 238.5h.01M351.3 228.9h.01M319.3 258.1h.01M344.5 233.7h.01M357.9 222.9h.01M336.4 242.8h.01M328.5 250.3h.01M330.2 247.7h.01M354.4 225.2h.01M334.5 248.9h.01M339.3 242.5h.01M347.4 233.4h.01M360.1 221.2h.01M323.6 251.6h.01M330.1 243.1h.01M334.4 244.7h.01M345.4 234.1h.01M336.1 242.0h.01M332.0 242.5h.01M339.9 241.4h.01M331.1 246.2h.01M347.2 229.7h.01M343.6 235.9h.01M352.8 225.4h.01M336.1 247.1h.01M370.9 213.1h.01M359.0 220.9h.01M354.0 227.3h.01M347.0 229.3h.01M341.2 239.7h.01M356.2 225.8h.01M346.0 236.3h.01M364.0 215.3h.01M321.9 254.3h.01M365.7 220.2h.01M348.5 228.8h.01M346.7 231.1h.01M351.4 228.4h.01M364.2 215.9h.01M360.8 219.2h.01M349.5 231.3h.01M322.9 246.1h.01M335.5 241.4h.01M333.7 246.5h.01M343.6 237.3h.01M328.4 248.0h.01M339.5 246.1h.01M357.3 222.4h.01M331.5 233.6h.01M372.0 214.7h.01M347.7 235.3h.01M331.8 237.1h.01M327.3 246.3h.01M332.9 239.8h.01M343.5 240.6h.01M341.6 239.4h.01M374.0 206.4h.01M334.3 249.5h.01M339.5 250.1h.01M331.9 246.9h.01M361.5 212.5h.01M356.0 227.9h.01M345.9 242.8h.01M334.4 248.3h.01M337.1 249.7h.01M326.5 251.2h.01M330.1 242.3h.01M353.3 226.3h.01M341.1 225.9h.01M325.8 246.6h.01M339.7 231.2h.01M346.4 239.9h.01M340.0 240.7h.01M332.0 241.8h.01M338.2 242.6h.01M362.5 221.7h.01M333.6 250.1h.01M322.7 243.3h.01M333.7 241.3h.01M348.0 232.7h.01M323.6 249.8h.01M338.8 252.6h.01M323.1 248.4h.01M361.8 229.5h.01M338.4 248.9h.01M334.4 239.4h.01M339.4 245.4h.01M360.9 220.7h.01M326.2 252.9h.01M331.6 243.2h.01M345.3 236.5h.01M324.4 249.2h.01M359.8 221.7h.01M360.1 209.0h.01M327.7 250.4h.01M329.0 250.1h.01M335.3 236.2h.01M372.1 222.4h.01M321.1 254.3h.01M324.3 250.9h.01M332.8 244.6h.01M359.2 230.2h.01M335.9 245.7h.01M344.2 227.3h.01M336.2 237.3h.01M360.0 229.9h.01M347.0 242.1h.01M333.0 241.4h.01M359.7 223.0h.01M339.5 232.7h.01M349.2 231.4h.01M333.4 239.3h.01M329.3 246.5h.01M343.8 243.8h.01M317.3 251.2h.01M326.6 247.1h.01M326.5 244.7h.01M332.5 248.6h.01M331.2 242.1h.01M347.8 233.9h.01M331.8 253.6h.01M328.7 243.8h.01M341.2 234.0h.01M332.0 254.4h.01M330.6 242.3h.01M340.1 238.8h.01M317.9 256.1h.01M344.2 233.6h.01M341.5 231.8h.01M350.1 229.1h.01M327.1 243.7h.01M352.4 228.8h.01M334.8 246.1h.01M335.2 241.9h.01M341.7 235.6h.01M358.8 236.8h.01M321.6 255.6h.01M335.4 247.3h.01M325.1 264.7h.01M356.2 237.7h.01M353.2 222.6h.01M340.7 248.5h.01M353.7 223.6h.01M345.7 242.7h.01M357.8 222.5h.01M345.7 238.0h.01M334.9 242.8h.01M353.6 228.2h.01M340.5 246.1h.01M358.1 227.5h.01M331.6 242.4h.01M325.7 248.5h.01M339.3 233.0h.01M326.8 245.3h.01M339.8 237.6h.01M366.3 224.9h.01M338.4 240.5h.01M353.0 223.8h.01M349.9 224.2h.01M335.3 245.8h.01M335.6 234.5h.01M330.6 248.7h.01M327.9 260.3h.01M331.7 247.8h.01M382.3 202.2h.01M344.2 239.6h.01M333.6 239.5h.01M324.0 254.9h.01M339.6 247.8h.01M342.9 241.2h.01M327.1 249.1h.01M343.9 234.5h.01M347.6 231.0h.01M336.3 245.2h.01M334.1 259.7h.01M330.0 256.7h.01M362.1 219.6h.01M347.4 239.0h.01M345.7 238.7h.01M336.2 246.0h.01M329.5 242.4h.01M337.9 245.8h.01M343.8 238.7h.01M334.6 245.3h.01M330.0 247.6h.01M337.2 237.6h.01M356.7 214.5h.01M347.4 231.6h.01M353.0 225.8h.01M349.3 227.5h.01M329.9 247.3h.01M335.7 237.9h.01M353.9 221.8h.01M335.8 244.0h.01M339.4 246.2h.01M331.7 252.4h.01M356.2 226.1h.01M365.0 209.4h.01M328.1 241.7h.01M302.0 259.0h.01M339.1 234.3h.01M315.1 261.4h.01M324.1 250.8h.01M336.6 250.7h.01M315.2 262.0h.01M392.4 194.9h.01M342.1 237.5h.01M352.2 231.6h.01M344.2 229.6h.01M338.8 243.5h.01M339.1 243.5h.01M358.2 231.7h.01M342.7 240.7h.01M332.9 243.7h.01M346.0 227.4h.01M353.5 221.7h.01M334.5 239.9h.01M330.6 250.4h.01M325.1 260.5h.01M323.8 257.7h.01M334.1 243.1h.01M346.6 241.5h.01M338.6 236.9h.01M340.5 245.0h.01M328.7 250.9h.01M355.9 222.5h.01M338.7 246.1h.01M331.9 246.5h.01M335.6 244.9h.01M322.2 245.3h.01M353.2 223.8h.01M330.9 252.5h.01M331.4 245.9h.01M325.9 250.1h.01M346.4 240.2h.01M346.3 227.3h.01M336.1 246.8h.01M326.7 245.8h.01M337.5 248.1h.01M328.6 254.0h.01M347.2 229.7h.01M324.8 251.0h.01M332.2 242.6h.01M344.8 248.7h.01M356.3 232.8h.01M340.3 246.2h.01M331.5 248.3h.01M362.6 233.5h.01M346.9 234.6h.01M334.3 239.1h.01M351.9 239.0h.01M348.6 232.0h.01M332.3 240.7h.01M359.7 222.7h.01M354.2 222.4h.01M351.9 234.1h.01M334.5 241.2h.01M385.1 210.5h.01M356.9 221.4h.01M362.9 223.6h.01M365.9 216.9h.01M332.4 240.2h.01M318.0 248.8h.01M333.9 245.0h.01M368.1 227.1h.01M325.5 239.0h.01M343.4 239.1h.01M330.7 242.1h.01M331.3 248.1h.01M335.1 233.9h.01M333.1 239.6h.01M328.2 250.2h.01M329.9 249.5h.01M314.9 264.1h.01M339.0 237.6h.01M324.5 243.6h.01M331.3 257.2h.01M343.1 236.3h.01M329.0 245.1h.01M326.6 252.8h.01M349.3 225.5h.01M345.8 232.0h.01M339.7 234.5h.01M354.6 236.8h.01M330.6 245.8h.01M350.6 226.5h.01M317.4 244.1h.01M335.2 250.3h.01M329.4 247.4h.01M311.6 260.8h.01M333.1 241.4h.01M328.6 242.2h.01M331.1 253.7h.01M329.2 256.1h.01M327.4 257.5h.01M337.6 245.2h.01M336.6 245.3h.01M369.3 201.2h.01M332.6 248.3h.01M357.5 217.1h.01M340.6 244.2h.01M332.6 246.2h.01M344.5 241.6h.01M345.5 237.3h.01M329.7 245.5h.01M370.1 206.5h.01M331.9 242.6h.01M336.0 237.9h.01M347.3 229.1h.01M327.5 241.5h.01M328.4 240.5h.01M336.0 246.0h.01M326.5 262.0h.01M351.2 231.2h.01M336.7 248.3h.01M343.3 234.3h.01M340.4 240.0h.01M333.3 253.4h.01M325.6 254.5h.01M328.4 249.3h.01M335.8 244.3h.01M361.8 218.3h.01M347.8 235.3h.01M338.4 234.4h.01M332.7 236.3h.01M360.5 230.7h.01M341.8 241.2h.01M332.1 235.9h.01M337.2 247.5h.01M334.5 239.7h.01M312.5 269.4h.01M369.7 224.5h.01M373.6 198.2h.01M339.9 243.7h.01M332.9 247.2h.01M355.0 223.5h.01M345.3 229.6h.01M313.7 262.4h.01M347.4 236.3h.01M348.2 226.6h.01M339.2 221.9h.01M336.9 234.6h.01M334.3 237.5h.01M343.0 242.3h.01M354.0 224.6h.01M361.5 223.0h.01M360.5 221.9h.01M327.2 251.0h.01M325.7 246.1h.01M317.4 260.0h.01M356.1 219.4h.01M330.8 238.5h.01M347.0 240.1h.01M338.9 244.6h.01M348.3 231.3h.01M345.0 225.4h.01M336.2 243.7h.01M351.8 237.2h.01M332.8 240.7h.01M332.0 244.6h.01M324.3 244.7h.01M338.4 233.9h.01M337.0 242.1h.01M339.5 246.0h.01M343.9 237.4h.01M360.5 219.8h.01M322.4 251.4h.01M350.5 224.7h.01M330.3 250.6h.01M376.5 205.9h.01M359.5 231.8h.01M330.1 244.1h.01M332.9 241.5h.01M333.7 237.8h.01M334.3 243.6h.01M367.3 208.1h.01M336.2 238.2h.01M335.4 240.8h.01M328.4 248.1h.01M330.3 248.9h.01M354.8 229.7h.01M340.2 243.1h.01M336.5 245.3h.01M382.7 205.4h.01M372.4 216.2h.01M334.1 246.2h.01M328.8 252.3h.01M358.2 226.7h.01M351.6 230.1h.01M327.8 239.4h.01M347.6 238.6h.01M350.4 229.2h.01M348.2 235.7h.01M345.7 230.9h.01M320.4 244.8h.01M331.7 244.2h.01M329.5 249.4h.01M325.0 253.6h.01M361.8 219.8h.01M319.8 256.4h.01M331.3 247.0h.01M332.0 242.6h.01M344.2 241.7h.01M335.3 243.9h.01M327.5 261.7h.01M328.3 249.4h.01M324.5 255.4h.01M327.8 250.1h.01M329.8 246.2h.01M330.8 242.1h.01M332.6 240.9h.01M332.1 243.6h.01M326.8 251.7h.01M346.3 234.7h.01M323.0 256.7h.01M344.5 225.6h.01M345.5 220.9h.01M342.3 240.9h.01M360.3 230.2h.01M345.3 239.9h.01M365.6 227.5h.01M342.7 241.5h.01M322.7 249.5h.01M359.6 224.8h.01M325.0 251.2h.01M320.0 255.8h.01M346.9 223.5h.01M337.0 243.8h.01M335.6 243.8h.01M328.0 245.0h.01M331.9 235.8h.01M331.7 238.0h.01M333.9 253.0h.01M331.8 243.7h.01M347.9 228.2h.01M331.0 246.7h.01M343.9 230.7h.01M331.3 236.1h.01M324.5 252.1h.01M331.2 248.2h.01M342.8 225.0h.01M342.0 238.4h.01M334.0 245.3h.01M330.5 249.9h.01M344.2 246.1h.01M315.6 254.2h.01M345.8 240.1h.01M322.1 248.4h.01M332.9 247.4h.01M330.7 252.6h.01M360.2 220.8h.01M350.6 221.6h.01M328.8 252.3h.01M346.9 225.8h.01M333.7 247.3h.01M334.4 239.8h.01M339.1 244.9h.01M328.5 241.9h.01M356.4 222.7h.01M318.4 259.5h.01M354.7 233.1h.01M352.2 228.9h.01M343.5 239.1h.01M364.7 220.2h.01M325.2 258.0h.01M339.0 239.5h.01M337.1 246.5h.01M338.1 242.7h.01M340.0 245.0h.01M327.4 252.6h.01M345.4 234.9h.01M365.9 226.9h.01M338.3 248.2h.01M336.4 254.4h.01M355.7 223.3h.01M352.3 232.3h.01M330.6 240.6h.01M338.6 246.6h.01M354.2 229.8h.01M342.5 232.5h.01M332.3 247.1h.01M332.4 240.4h.01M328.5 256.2h.01M337.6 244.0h.01M324.1 245.9h.01M352.8 230.5h.01M350.2 226.5h.01M334.2 246.4h.01M338.3 248.7h.01M356.4 221.4h.01M353.6 227.0h.01M352.4 231.4h.01M336.2 244.5h.01M372.3 218.4h.01M343.7 234.7h.01M381.8 212.1h.01M346.7 238.3h.01M341.3 242.6h.01M356.2 227.1h.01M337.6 239.6h.01M332.6 246.2h.01M340.0 227.6h.01M349.5 226.6h.01M357.6 231.8h.01M365.5 222.2h.01M337.2 253.8h.01M338.8 250.1h.01M330.6 247.9h.01M327.6 250.7h.01M352.2 235.4h.01M322.1 253.2h.01M333.9 251.7h.01M347.3 240.2h.01M344.5 246.0h.01M344.8 240.1h.01M351.2 232.2h.01M330.4 246.9h.01M367.0 225.1h.01M337.0 246.1h.01M326.0 258.3h.01M331.0 234.9h.01M328.6 248.0h.01M334.3 244.6h.01M325.1 242.4h.01M361.6 215.7h.01M323.1 245.9h.01M338.0 248.6h.01M363.4 231.3h.01M331.5 246.7h.01M360.0 221.8h.01M350.5 241.7h.01M325.4 246.5h.01M346.2 230.9h.01M339.1 247.9h.01M349.3 240.4h.01M331.6 247.5h.01M345.8 237.2h.01M315.8 254.5h.01M341.6 227.6h.01M319.8 252.8h.01M335.6 248.4h.01M346.8 231.3h.01M326.2 246.3h.01M359.0 225.9h.01M342.0 226.4h.01M322.7 260.6h.01M373.9 213.7h.01M325.5 242.5h.01M326.8 253.6h.01M341.2 235.1h.01M353.2 237.3h.01M344.6 232.9h.01M325.7 250.0h.01M335.9 253.6h.01M339.1 250.4h.01M333.9 246.7h.01M346.3 233.6h.01M341.3 239.5h.01M336.9 243.5h.01M365.2 229.6h.01M341.8 247.4h.01M338.7 241.8h.01M346.1 234.7h.01M354.1 225.8h.01M338.5 242.8h.01M330.4 244.0h.01M347.9 238.6h.01M333.0 240.6h.01M331.2 245.9h.01M334.7 243.7h.01M368.0 209.6h.01M326.5 248.3h.01M327.7 256.0h.01M322.2 250.7h.01M329.6 250.7h.01M334.8 240.6h.01M335.5 247.2h.01M352.1 240.5h.01M336.0 251.9h.01M375.3 213.6h.01M323.0 256.2h.01M357.6 229.5h.01M340.6 234.8h.01M352.7 232.0h.01M336.2 233.3h.01M352.0 231.5h.01M348.2 230.4h.01M369.0 221.0h.01M342.4 232.0h.01M327.9 241.0h.01M341.6 235.2h.01M328.5 236.6h.01M339.1 233.7h.01M321.5 265.6h.01M367.1 216.1h.01M317.1 258.8h.01M349.0 227.2h.01M355.8 232.1h.01M349.4 235.6h.01M325.9 248.9h.01M322.5 246.3h.01M350.3 229.4h.01M350.8 229.0h.01M332.2 254.4h.01M356.5 224.6h.01M341.2 228.3h.01M336.0 250.5h.01M340.5 238.9h.01M365.5 226.2h.01M327.3 248.2h.01M339.4 234.2h.01M349.5 235.8h.01M335.1 235.6h.01M336.2 243.0h.01M344.3 236.0h.01M339.6 250.1h.01M359.2 220.0h.01M329.1 255.5h.01M328.2 243.3h.01M338.7 233.7h.01M329.9 247.3h.01M337.7 239.0h.01M359.1 228.0h.01M371.4 216.3h.01M347.1 239.7h.01M340.2 246.2h.01M331.6 244.3h.01M310.7 260.6h.01M346.1 237.8h.01M341.6 241.0h.01M379.6 207.0h.01M342.0 237.7h.01M345.2 228.7h.01M352.3 240.8h.01M357.9 230.0h.01M326.8 243.1h.01M340.0 243.0h.01M330.4 244.4h.01M322.3 249.0h.01M364.5 220.7h.01M353.8 227.1h.01M328.8 247.0h.01M344.8 232.9h.01M355.4 230.6h.01M327.2 253.3h.01M354.7 239.9h.01M327.7 249.0h.01M336.8 240.9h.01M362.5 215.3h.01M340.3 245.8h.01M367.2 219.0h.01M358.8 222.3h.01M355.6 225.5h.01M355.0 218.7h.01M352.5 226.2h.01M335.1 243.9h.01M344.0 235.6h.01M324.4 249.3h.01M347.0 238.5h.01M337.6 242.5h.01M331.7 250.2h.01M330.3 239.2h.01M367.3 212.6h.01M341.1 246.8h.01M327.0 241.3h.01M349.0 236.0h.01M329.7 245.2h.01M350.8 227.5h.01M335.7 241.4h.01M368.4 206.2h.01M351.7 228.6h.01M354.1 213.4h.01M343.4 238.3h.01M315.6 245.8h.01M369.5 216.7h.01M329.1 243.5h.01M352.5 234.4h.01M331.2 247.3h.01M356.7 219.9h.01M352.7 235.9h.01M315.2 253.0h.01M371.2 211.6h.01M354.8 229.1h.01M357.2 233.0h.01M367.1 221.9h.01M324.6 247.4h.01M366.9 212.8h.01M332.1 238.4h.01M325.5 250.1h.01M348.7 233.0h.01M331.2 241.7h.01M321.6 258.9h.01M329.0 255.3h.01M342.9 227.0h.01M343.7 244.5h.01M325.9 253.4h.01M375.2 209.6h.01M374.9 215.5h.01M370.6 208.5h.01M364.7 214.7h.01M366.2 215.3h.01M366.8 223.8h.01M372.9 209.0h.01M382.8 207.2h.01M364.0 219.9h.01M363.0 215.5h.01M373.5 208.5h.01M373.1 207.8h.01M376.5 208.8h.01M360.0 220.7h.01M354.6 220.9h.01M375.2 211.9h.01M362.8 216.6h.01M366.6 211.2h.01M381.8 206.8h.01M371.1 210.4h.01M371.3 211.3h.01M365.3 211.7h.01M371.2 213.4h.01M373.5 215.3h.01M359.6 220.2h.01M377.6 211.1h.01M371.2 212.9h.01M373.2 211.8h.01M372.6 211.5h.01M376.6 206.6h.01M369.5 209.1h.01M366.5 215.6h.01M374.7 207.8h.01M380.6 202.0h.01M372.3 209.4h.01M379.8 203.9h.01M363.1 216.2h.01M358.6 225.8h.01M385.5 198.3h.01M377.8 209.9h.01M342.1 242.9h.01M371.8 236.1h.01M358.2 260.7h.01M328.6 223.9h.01M362.1 251.9h.01M359.7 234.9h.01M336.4 260.5h.01M350.2 254.5h.01M336.8 255.2h.01M351.0 264.7h.01M354.8 259.6h.01M321.4 261.6h.01M297.0 242.4h.01M367.0 221.6h.01M368.7 234.3h.01M358.8 242.5h.01M332.0 243.6h.01M360.1 246.7h.01M360.7 252.0h.01M328.4 272.9h.01M333.5 247.5h.01M374.5 274.0h.01M352.3 269.3h.01M358.0 237.2h.01M334.2 253.3h.01M371.0 244.0h.01M336.1 239.0h.01M341.3 237.8h.01M354.1 264.7h.01M348.9 222.1h.01M316.8 250.1h.01M372.6 243.3h.01M361.1 250.3h.01M369.2 234.0h.01M321.8 243.4h.01M347.8 254.4h.01M387.3 258.2h.01M324.2 264.2h.01M307.6 262.9h.01M344.4 237.5h.01M337.1 244.0h.01M357.1 248.9h.01M367.1 242.2h.01M355.5 273.4h.01M345.3 260.0h.01M356.8 221.5h.01M369.3 237.9h.01M338.7 245.2h.01M363.8 251.8h.01M343.1 249.4h.01M336.1 268.7h.01M325.6 254.5h.01M343.1 254.0h.01M334.6 240.8h.01M360.6 261.4h.01M330.1 230.3h.01M337.4 255.8h.01M327.0 237.5h.01M293.4 256.1h.01M329.8 265.6h.01M356.5 253.5h.01M350.4 261.1h.01M350.4 258.4h.01M369.3 242.3h.01M320.4 253.2h.01M337.7 281.4h.01M344.1 236.2h.01M346.4 252.0h.01M377.4 257.3h.01M367.4 255.2h.01M326.9 250.3h.01M378.2 244.9h.01M298.1 243.4h.01M341.7 241.6h.01M353.1 258.5h.01M361.8 261.1h.01M335.3 245.6h.01M361.8 258.7h.01M306.3 260.1h.01M374.8 234.4h.01M343.6 279.9h.01M340.9 271.5h.01M331.8 249.6h.01M330.9 249.0h.01M350.2 241.5h.01M348.6 242.5h.01M367.5 252.9h.01M366.9 237.6h.01M345.6 269.8h.01M331.6 271.3h.01M343.1 260.8h.01M351.6 252.0h.01M357.5 261.9h.01M333.4 268.6h.01M334.4 252.3h.01M361.1 231.3h.01M351.0 260.3h.01M364.3 263.6h.01M325.1 233.9h.01M348.9 282.0h.01M364.5 242.2h.01M355.0 258.3h.01M344.6 246.5h.01M323.5 235.2h.01M357.2 253.1h.01M347.2 268.1h.01M367.1 230.3h.01M343.6 253.5h.01M333.3 249.5h.01M341.3 266.6h.01M324.2 221.3h.01M370.8 259.5h.01M340.5 245.4h.01M360.4 260.1h.01M329.6 271.7h.01M374.9 247.7h.01M365.7 245.5h.01M322.3 255.4h.01M368.7 265.2h.01M340.7 235.4h.01M308.3 235.4h.01M324.0 236.1h.01M370.2 235.7h.01M297.6 261.9h.01M353.7 250.0h.01M358.1 252.0h.01M366.8 237.2h.01M349.6 238.4h.01M343.2 261.1h.01M353.1 257.1h.01M363.9 276.3h.01M307.6 245.0h.01M367.4 250.6h.01M364.9 280.6h.01M364.2 263.7h.01M351.8 245.6h.01M342.7 273.6h.01M378.8 269.3h.01M345.6 232.9h.01M347.9 243.9h.01M360.3 236.7h.01M318.7 270.4h.01M340.3 253.2h.01M344.3 248.1h.01M333.1 248.0h.01M328.3 260.3h.01M336.9 231.7h.01M337.4 260.7h.01M347.3 246.6h.01M318.1 239.9h.01M342.8 249.5h.01M370.9 262.7h.01M352.4 231.3h.01M376.9 249.8h.01M301.1 268.9h.01M346.8 259.3h.01M342.3 254.3h.01M323.5 244.4h.01M356.3 271.1h.01M315.6 256.4h.01M355.0 226.0h.01M342.3 245.7h.01M319.5 242.0h.01M352.5 265.6h.01M330.2 250.4h.01M360.3 258.1h.01M316.5 265.3h.01M384.5 249.4h.01M390.7 225.2h.01M318.3 250.4h.01M377.4 256.3h.01M355.5 240.2h.01M339.1 247.7h.01M365.5 245.9h.01M332.3 254.7h.01M380.0 225.0h.01M325.3 261.6h.01M338.9 274.7h.01M317.7 232.2h.01M369.5 254.0h.01M350.4 251.4h.01M332.3 241.7h.01M358.6 260.4h.01M359.5 249.6h.01M306.4 256.8h.01M349.3 254.0h.01M323.7 239.3h.01M383.1 258.7h.01M349.0 231.9h.01M304.5 241.6h.01M319.8 246.3h.01M366.0 246.2h.01M356.4 251.7h.01M367.4 232.3h.01M349.6 262.6h.01M381.6 262.2h.01M379.2 265.9h.01M362.6 209.7h.01M373.8 269.7h.01M354.4 255.6h.01M352.2 245.2h.01M341.1 208.2h.01M325.2 253.7h.01M368.5 238.9h.01M376.5 249.7h.01M340.2 253.5h.01M372.2 236.3h.01M365.7 269.6h.01M343.3 268.0h.01M350.5 257.2h.01M315.0 256.8h.01M336.5 223.6h.01M374.2 239.0h.01M346.1 277.9h.01M345.0 244.6h.01M389.9 255.1h.01M365.0 278.8h.01M365.7 246.9h.01M338.3 251.0h.01M380.5 265.6h.01M334.9 243.9h.01M348.9 257.6h.01M347.6 240.1h.01M381.1 261.3h.01M341.2 260.4h.01M328.5 246.3h.01M324.1 249.3h.01M330.8 249.0h.01M296.0 251.6h.01M351.0 267.2h.01M324.7 255.9h.01M330.6 269.6h.01M356.4 248.5h.01M293.1 265.7h.01M376.7 252.1h.01M330.0 265.1h.01M343.8 240.6h.01M372.1 260.7h.01M368.0 250.7h.01M368.1 244.9h.01M333.3 232.1h.01M349.1 230.4h.01M333.6 230.2h.01M345.4 283.1h.01M327.8 240.8h.01M333.5 241.9h.01M350.5 265.7h.01M326.3 242.4h.01M359.3 258.5h.01M347.1 243.9h.01M336.4 252.8h.01M395.1 271.2h.01M325.1 258.2h.01M356.6 255.9h.01M300.1 248.6h.01M364.7 246.3h.01M331.9 251.2h.01M351.5 244.9h.01M341.5 261.2h.01M343.3 221.9h.01M329.3 256.9h.01M353.9 248.6h.01M347.6 238.9h.01M358.9 245.7h.01M373.0 230.8h.01M340.8 261.3h.01M340.7 247.6h.01M330.8 246.0h.01M341.3 245.9h.01M340.1 241.0h.01M317.5 241.0h.01M354.8 263.5h.01M339.2 229.7h.01M349.8 249.7h.01M331.7 260.9h.01M363.6 240.3h.01M340.4 259.8h.01M328.9 256.7h.01M373.9 254.8h.01M361.7 242.2h.01M306.8 261.4h.01M394.8 241.3h.01M345.7 242.5h.01M334.2 262.4h.01M357.2 227.0h.01M350.8 244.1h.01M331.6 269.0h.01M317.5 262.5h.01M382.3 252.9h.01M371.9 239.5h.01M327.6 270.5h.01M354.3 276.9h.01M354.1 232.8h.01M346.4 229.0h.01M351.2 219.8h.01M348.6 219.1h.01M344.0 245.9h.01M359.5 283.4h.01M380.2 267.9h.01M343.8 243.9h.01M370.0 236.4h.01M349.8 265.5h.01M334.1 233.0h.01M312.0 237.4h.01M329.6 278.9h.01M384.1 245.6h.01M332.2 256.4h.01M325.9 252.0h.01M341.7 246.4h.01M343.7 258.3h.01M358.4 261.0h.01M311.8 245.2h.01M316.6 274.3h.01M295.8 252.7h.01M337.1 263.5h.01M364.7 274.5h.01M305.1 232.0h.01M312.0 252.6h.01M369.7 281.8h.01M357.6 256.3h.01M353.6 251.6h.01M407.6 239.6h.01M365.2 258.2h.01M360.1 213.7h.01M303.8 243.8h.01M316.5 263.4h.01M372.5 261.2h.01M353.8 275.3h.01M345.0 255.5h.01M332.2 255.4h.01M343.7 251.9h.01M333.1 256.3h.01M328.4 267.8h.01M344.5 234.8h.01M331.2 257.4h.01M320.5 236.4h.01M346.7 259.8h.01M341.4 240.7h.01M347.1 232.9h.01M361.3 259.6h.01M380.5 240.3h.01M307.4 210.8h.01M381.0 250.8h.01M362.4 239.4h.01M358.9 244.4h.01M398.9 237.2h.01M367.4 217.5h.01M333.4 231.4h.01M370.6 267.6h.01M382.6 268.8h.01M360.0 223.2h.01M345.0 239.9h.01M327.4 241.6h.01M365.3 237.8h.01M319.1 264.8h.01M351.2 231.1h.01M325.7 268.1h.01M337.4 249.0h.01M344.5 260.4h.01M336.3 251.4h.01M348.4 232.0h.01M366.3 269.7h.01M347.1 248.2h.01M343.7 235.1h.01M381.9 232.1h.01M319.7 233.9h.01M358.6 274.7h.01M335.7 228.3h.01M332.0 255.3h.01M337.2 258.2h.01M314.8 247.1h.01M310.5 247.5h.01M319.2 265.3h.01M325.7 246.6h.01M325.3 261.1h.01M319.1 261.6h.01M318.5 249.8h.01M327.8 272.4h.01M304.7 248.6h.01M317.9 257.5h.01M339.9 262.6h.01M325.5 256.5h.01M314.4 251.9h.01M330.0 257.6h.01M317.4 253.8h.01M317.2 259.7h.01M303.2 255.5h.01M309.2 249.8h.01M322.6 254.9h.01M335.5 263.6h.01M312.7 256.4h.01M326.5 251.9h.01M306.0 257.6h.01M321.1 253.5h.01M320.8 269.9h.01M315.2 251.4h.01M330.8 250.9h.01M327.3 252.2h.01M315.4 251.5h.01M335.2 256.2h.01M314.0 255.4h.01M318.2 262.6h.01M306.2 242.4h.01M318.9 239.3h.01M321.3 257.5h.01M331.7 267.1h.01M334.3 263.0h.01M337.8 255.3h.01M315.9 256.3h.01M325.1 252.2h.01M332.3 256.3h.01M348.6 245.1h.01M319.4 255.8h.01M312.6 257.6h.01M317.0 250.4h.01M307.3 263.6h.01M324.0 250.9h.01M319.4 255.4h.01M320.5 256.0h.01M315.9 250.9h.01M331.7 252.5h.01M329.6 266.2h.01M313.1 261.7h.01M320.7 249.0h.01M319.2 255.6h.01M320.7 258.5h.01M311.7 256.1h.01M324.0 262.4h.01M343.9 257.1h.01M327.2 251.5h.01M336.5 255.3h.01M314.3 255.6h.01M316.9 243.5h.01M324.4 248.6h.01M326.4 252.5h.01M328.6 237.0h.01M327.2 257.1h.01M316.0 246.6h.01M323.2 257.1h.01M346.4 246.8h.01M324.8 254.7h.01M321.8 248.4h.01M316.8 260.4h.01M319.8 249.2h.01M323.2 257.5h.01M331.0 258.2h.01M320.2 247.0h.01M340.3 252.8h.01M330.8 250.6h.01M308.2 254.9h.01M318.3 252.8h.01M312.5 253.7h.01M311.6 256.3h.01M309.7 255.5h.01M320.0 259.7h.01M337.0 255.7h.01M318.8 268.9h.01M323.7 249.9h.01M320.7 260.5h.01M328.8 256.6h.01M342.3 246.1h.01M305.5 242.0h.01M332.7 258.8h.01M328.9 255.0h.01M342.6 258.3h.01M305.7 245.7h.01M336.7 262.6h.01M306.5 248.9h.01M321.2 257.5h.01M316.5 251.2h.01M324.9 259.4h.01M332.3 261.2h.01M322.7 253.0h.01M328.1 268.1h.01M322.4 265.3h.01M328.4 267.9h.01M318.6 254.5h.01M315.0 264.9h.01M322.4 259.7h.01M320.5 256.9h.01M326.1 257.2h.01M316.9 268.3h.01M329.1 251.7h.01M320.9 243.0h.01M328.3 255.2h.01M316.1 241.8h.01M321.9 253.9h.01M329.8 245.6h.01M319.9 254.8h.01M323.0 256.4h.01M310.5 252.9h.01M335.7 263.9h.01M317.9 258.1h.01M316.0 253.2h.01M323.4 260.7h.01M323.0 252.9h.01M322.4 259.8h.01M315.2 246.9h.01M317.3 257.8h.01M342.5 258.0h.01M319.5 254.5h.01M310.9 245.9h.01M328.2 272.1h.01M326.8 262.6h.01M300.6 262.9h.01M307.4 257.4h.01M320.7 250.4h.01M312.3 257.9h.01M319.1 260.1h.01M335.9 274.0h.01M326.8 254.1h.01M330.2 255.7h.01M322.6 248.2h.01M312.7 257.3h.01M332.7 257.8h.01M321.5 271.7h.01M317.0 251.8h.01M328.2 248.1h.01M312.3 247.4h.01M321.2 251.2h.01M332.0 247.5h.01M322.8 244.5h.01M324.5 275.6h.01M319.1 240.6h.01M320.3 261.9h.01M345.2 239.3h.01M320.4 252.2h.01M319.3 264.5h.01M330.2 256.4h.01M303.2 249.5h.01M315.0 242.3h.01M327.0 269.7h.01M323.3 261.2h.01M318.3 251.6h.01M336.0 256.8h.01M333.8 259.9h.01M330.5 261.0h.01M329.5 251.7h.01M327.4 270.1h.01M330.9 252.1h.01M321.5 250.8h.01M328.4 256.6h.01M309.1 249.0h.01M325.1 259.0h.01M319.9 261.2h.01M313.1 265.4h.01M312.2 264.7h.01M310.6 243.2h.01M301.6 246.1h.01M314.1 262.3h.01M323.9 260.5h.01M311.5 267.0h.01M330.1 251.6h.01M317.2 261.0h.01M312.9 252.9h.01M335.7 255.5h.01M314.6 263.0h.01M299.8 259.9h.01M328.5 267.6h.01M320.1 262.8h.01M328.6 257.3h.01M319.0 261.0h.01M318.9 253.3h.01M318.1 264.2h.01M310.3 254.1h.01M325.2 260.8h.01M325.4 234.8h.01M323.9 258.6h.01M345.0 239.2h.01M303.1 266.3h.01M316.1 239.6h.01M336.0 248.4h.01M340.0 241.3h.01M347.4 255.5h.01M340.6 248.0h.01M333.2 236.5h.01M320.3 247.2h.01M327.6 244.9h.01M325.7 255.9h.01M335.8 260.3h.01M346.2 243.1h.01M338.1 252.9h.01M324.8 244.0h.01M332.5 248.8h.01M326.5 252.3h.01M356.2 261.5h.01M337.9 230.1h.01M334.3 258.6h.01M332.5 242.8h.01M320.7 241.7h.01M323.5 243.2h.01M333.8 253.5h.01M328.9 255.4h.01M328.1 250.4h.01M363.0 255.6h.01M321.0 259.4h.01M338.7 245.4h.01M336.8 252.7h.01M341.1 248.1h.01M322.3 240.8h.01M339.7 255.6h.01M324.0 239.2h.01M327.3 237.2h.01M338.5 249.9h.01M332.3 240.5h.01M329.8 237.1h.01M336.2 237.1h.01M314.8 254.8h.01M328.5 241.0h.01M338.1 242.3h.01M326.5 255.8h.01M340.5 247.4h.01M332.8 251.2h.01M327.3 241.5h.01M324.7 248.9h.01M325.2 254.8h.01M340.2 254.7h.01M341.2 254.7h.01M323.7 248.2h.01M326.8 259.5h.01M335.1 256.5h.01M343.3 246.6h.01M320.7 253.1h.01M316.6 248.2h.01M339.6 244.7h.01M322.7 247.9h.01M320.3 250.6h.01M336.9 253.3h.01M334.3 255.5h.01M330.7 253.4h.01M347.1 244.8h.01M332.2 250.9h.01M325.0 240.9h.01M331.3 247.1h.01M319.9 240.3h.01M320.4 243.8h.01M328.1 253.4h.01M332.9 259.9h.01M333.5 239.3h.01M325.7 247.6h.01M336.8 247.7h.01M326.1 245.6h.01M342.4 230.7h.01M320.2 242.3h.01M342.3 268.3h.01M314.7 252.3h.01M342.8 249.1h.01M332.0 243.9h.01M342.9 248.4h.01M327.4 234.8h.01M339.1 256.7h.01M345.6 239.3h.01M326.4 241.8h.01M335.1 253.6h.01M326.2 245.7h.01M331.8 243.0h.01M329.1 244.6h.01M325.9 234.6h.01M342.1 243.4h.01M338.9 246.3h.01M327.6 251.6h.01M331.4 249.5h.01M325.4 255.3h.01M334.0 240.4h.01M347.3 243.1h.01M332.9 234.7h.01M323.5 257.4h.01M325.8 248.6h.01M326.4 238.4h.01M349.1 251.3h.01M336.5 247.5h.01M343.9 245.5h.01M343.1 245.1h.01M320.0 250.8h.01M331.7 252.8h.01M329.0 242.7h.01M342.2 248.9h.01M347.0 241.1h.01M342.0 254.2h.01M329.0 245.5h.01M345.8 231.0h.01M324.4 237.7h.01M327.8 251.0h.01M324.9 235.2h.01M333.5 244.0h.01M355.7 247.8h.01M331.5 243.5h.01M336.3 251.1h.01M336.6 239.3h.01M340.2 247.7h.01M409.5 259.8h.01M446.2 221.9h.01M418.2 226.0h.01M419.1 267.0h.01M450.6 267.7h.01M398.3 233.5h.01M430.8 240.7h.01M414.1 241.4h.01M420.9 275.6h.01M373.4 245.0h.01M425.6 265.7h.01M407.5 259.1h.01M412.2 232.6h.01M387.9 267.6h.01M453.0 260.8h.01M397.3 248.5h.01M408.3 252.2h.01M448.3 270.0h.01M413.9 260.9h.01M432.1 273.6h.01M411.6 223.4h.01M447.6 251.1h.01M409.1 254.0h.01M421.2 228.7h.01M437.5 229.6h.01M442.8 254.3h.01M414.5 254.9h.01M408.9 235.7h.01M471.4 233.3h.01M437.3 251.2h.01M403.2 222.2h.01M424.7 265.1h.01M397.4 270.3h.01M456.5 242.9h.01M373.0 269.5h.01M390.7 233.9h.01M428.5 244.4h.01M428.8 252.4h.01M417.2 230.3h.01M401.2 235.9h.01M399.9 249.4h.01M457.5 233.8h.01M452.7 257.3h.01M443.8 240.7h.01M427.3 252.4h.01M399.5 243.6h.01M387.3 239.4h.01M391.9 258.3h.01M396.3 233.9h.01M405.6 246.6h.01M417.1 276.2h.01M432.5 244.6h.01M446.9 254.7h.01M468.1 233.9h.01M427.9 273.8h.01M461.0 263.2h.01M474.3 266.9h.01M409.3 260.9h.01M415.5 255.8h.01M411.7 258.2h.01M448.4 252.4h.01M442.3 220.3h.01M410.2 245.4h.01M404.3 251.9h.01M374.0 257.4h.01M432.0 270.1h.01M396.6 252.0h.01M470.2 266.0h.01M435.2 239.8h.01M439.5 232.3h.01M435.0 235.3h.01M417.5 252.3h.01M425.9 264.8h.01M452.9 204.9h.01M420.1 257.6h.01M409.5 249.6h.01M411.5 269.2h.01M401.3 231.2h.01M425.9 227.6h.01M441.6 223.7h.01M413.4 242.7h.01M414.0 262.0h.01M456.1 220.6h.01M411.2 220.6h.01M424.9 250.6h.01M445.0 257.8h.01M449.6 263.1h.01M416.5 259.3h.01M439.1 215.4h.01M394.7 251.0h.01M446.3 265.2h.01M421.3 208.4h.01M440.7 216.9h.01M437.0 255.4h.01M385.7 239.6h.01M400.8 227.8h.01M416.6 229.2h.01M440.9 252.2h.01M388.4 233.7h.01M396.9 261.5h.01M441.9 227.0h.01M397.8 250.6h.01M440.5 259.1h.01M450.2 244.4h.01M387.8 254.6h.01M425.5 268.4h.01M423.0 271.2h.01M379.2 246.3h.01M423.3 230.0h.01M452.9 246.5h.01M411.1 255.3h.01M444.3 249.8h.01M407.5 238.2h.01M440.7 263.7h.01M433.7 257.7h.01M383.6 248.3h.01M402.5 272.5h.01M416.5 257.4h.01M431.7 221.6h.01M400.0 221.9h.01M413.1 247.5h.01M439.6 267.2h.01M418.4 243.7h.01M416.1 206.1h.01M382.1 224.3h.01M381.9 250.0h.01M451.3 251.8h.01M421.4 214.5h.01M443.6 238.9h.01M459.8 257.4h.01M425.4 244.9h.01M399.7 208.9h.01M411.5 273.0h.01M402.3 237.7h.01M431.3 243.9h.01M440.8 275.8h.01M424.6 226.3h.01M432.7 238.9h.01M422.1 253.4h.01M432.6 234.2h.01M400.8 234.1h.01M403.6 244.0h.01M453.2 271.7h.01M401.2 254.0h.01M414.7 246.5h.01M421.3 230.7h.01M413.4 261.3h.01M459.4 256.3h.01M400.5 218.2h.01M375.0 254.5h.01M397.4 261.3h.01M430.1 233.1h.01M400.0 251.3h.01M445.8 220.7h.01M474.1 251.2h.01M458.3 278.0h.01M419.0 250.5h.01M422.3 243.7h.01M427.8 238.9h.01M425.5 242.9h.01M447.8 268.5h.01M392.3 228.7h.01M443.8 265.4h.01M448.0 220.1h.01M443.9 224.3h.01M433.7 227.3h.01M389.7 252.2h.01M428.5 237.0h.01M415.2 283.5h.01M423.1 257.6h.01M442.0 197.3h.01M426.8 251.9h.01M390.8 246.6h.01M402.8 226.6h.01M410.8 248.8h.01M404.6 264.6h.01M450.0 246.3h.01M401.0 225.7h.01M395.8 228.6h.01M435.2 256.6h.01M429.6 267.2h.01M429.0 251.7h.01M421.6 241.2h.01M439.7 252.5h.01M400.1 262.1h.01M388.1 231.2h.01M438.5 241.3h.01M399.4 253.6h.01M434.0 270.4h.01M432.0 237.1h.01M427.3 254.7h.01M414.3 240.8h.01M438.4 245.5h.01M391.4 256.2h.01M469.9 241.4h.01M385.1 228.5h.01M409.6 272.9h.01M410.0 188.3h.01M440.5 226.9h.01M455.6 262.7h.01M461.6 279.1h.01M468.0 236.8h.01M447.7 263.8h.01M394.3 223.1h.01M430.1 240.4h.01M422.7 249.7h.01M449.4 245.7h.01M382.2 226.2h.01M430.1 263.6h.01M409.2 233.8h.01M420.7 228.6h.01M395.7 236.1h.01M375.1 283.3h.01M430.8 234.1h.01M391.1 239.6h.01M423.6 259.1h.01M393.9 260.1h.01M437.6 227.4h.01M395.3 248.3h.01M442.2 252.0h.01M426.3 220.9h.01M465.4 268.0h.01M455.8 222.3h.01M422.7 231.1h.01M420.1 266.3h.01M415.1 251.1h.01M434.4 275.2h.01M427.1 242.1h.01M430.2 260.6h.01M434.6 228.9h.01M413.2 273.2h.01M418.3 223.3h.01M386.2 229.2h.01M389.4 239.5h.01M379.0 265.3h.01M450.0 237.8h.01M384.4 222.2h.01M438.5 259.7h.01M405.5 269.7h.01M427.5 223.0h.01M383.5 235.4h.01M399.4 269.8h.01M425.1 226.8h.01M422.2 244.5h.01M393.2 227.5h.01M418.2 239.5h.01M388.1 244.9h.01M407.8 203.0h.01M434.7 256.6h.01M418.5 243.2h.01M414.9 250.2h.01M399.2 228.1h.01M432.5 254.6h.01M410.9 261.8h.01M390.1 249.6h.01M419.7 251.5h.01M465.8 261.9h.01M408.9 253.2h.01M413.3 244.8h.01M422.9 273.4h.01M415.3 253.8h.01M411.5 236.1h.01M437.3 245.0h.01M431.7 261.5h.01M438.9 211.5h.01M428.1 235.3h.01M397.9 262.0h.01M367.0 240.5h.01M426.6 225.8h.01M466.5 246.2h.01M422.4 216.4h.01M459.1 236.2h.01M395.8 236.4h.01M415.9 244.0h.01M413.9 242.2h.01M429.8 241.4h.01M414.7 278.9h.01M430.8 258.2h.01M365.5 250.6h.01M432.0 246.8h.01M436.7 249.2h.01M431.9 221.6h.01M436.9 228.7h.01M381.4 263.7h.01M391.4 273.6h.01M412.0 243.7h.01M449.2 251.8h.01M448.2 254.6h.01M421.6 231.5h.01M411.9 231.1h.01M423.7 255.4h.01M391.5 233.1h.01M401.6 242.1h.01M434.1 255.0h.01M437.9 234.3h.01M410.5 240.9h.01M422.5 255.1h.01M440.8 247.0h.01M409.1 252.7h.01M362.3 267.0h.01M420.3 249.2h.01M394.3 262.0h.01M418.4 252.5h.01M411.0 229.6h.01M473.6 217.5h.01M390.8 227.4h.01M421.4 240.5h.01M388.8 228.8h.01M428.8 223.4h.01M420.5 213.7h.01M429.8 235.7h.01M471.3 244.3h.01M438.8 256.9h.01M447.0 260.1h.01M437.8 264.2h.01M402.7 267.9h.01M417.4 256.5h.01M473.7 248.4h.01M396.6 266.3h.01M430.2 251.2h.01M388.6 242.1h.01M438.9 241.4h.01M468.1 212.4h.01M399.9 265.5h.01M452.4 262.9h.01M434.9 213.7h.01M405.2 237.3h.01M438.1 263.5h.01M417.2 244.2h.01M400.1 281.3h.01M379.0 222.6h.01M443.4 263.0h.01M423.8 275.1h.01M455.4 242.7h.01M461.2 239.5h.01M433.9 282.6h.01M405.6 223.0h.01M432.9 242.9h.01M427.2 210.9h.01M453.7 248.6h.01M396.0 247.0h.01M417.2 255.5h.01M375.1 241.3h.01M423.0 244.5h.01M402.5 239.4h.01M456.2 226.3h.01M407.7 257.7h.01M447.0 251.7h.01M442.3 276.5h.01M393.6 246.5h.01M432.6 253.4h.01M427.2 258.5h.01M437.9 259.3h.01M394.4 241.8h.01M397.3 259.3h.01M445.1 254.8h.01M419.3 244.7h.01M394.8 211.6h.01M413.6 262.8h.01M429.4 251.3h.01M408.0 229.2h.01M459.3 256.0h.01M441.0 225.6h.01M404.4 258.1h.01M439.6 252.2h.01M468.6 245.2h.01M445.4 280.7h.01M437.2 249.7h.01M411.5 256.5h.01M438.8 217.3h.01M426.8 222.2h.01M387.7 214.5h.01M434.3 221.4h.01M424.9 248.0h.01M395.6 257.3h.01M422.0 237.8h.01M393.5 254.7h.01M391.5 225.1h.01M361.9 257.5h.01M441.5 282.5h.01M385.8 232.1h.01M460.0 227.9h.01M438.6 233.4h.01M430.0 267.2h.01M392.1 249.9h.01M400.4 206.6h.01M434.4 250.8h.01M423.1 266.2h.01M419.4 250.7h.01M428.3 260.0h.01M402.7 243.1h.01M423.7 246.0h.01M415.8 230.7h.01M426.7 235.0h.01M436.4 242.6h.01M451.5 281.1h.01M404.9 218.4h.01M371.8 263.3h.01M458.8 228.3h.01M440.5 206.4h.01M447.9 277.3h.01M441.6 271.3h.01M418.8 266.8h.01M420.3 257.7h.01M373.9 241.3h.01M412.6 257.4h.01M428.6 234.2h.01M428.1 251.6h.01M403.0 202.2h.01M410.2 225.0h.01M411.6 217.3h.01M456.1 246.5h.01M412.6 230.4h.01M462.6 223.9h.01M402.4 260.3h.01M412.1 221.4h.01M430.1 278.8h.01M467.4 235.4h.01M412.1 250.0h.01M417.2 243.1h.01M399.5 256.5h.01M458.3 235.2h.01M443.6 264.6h.01M411.3 236.5h.01M415.3 244.9h.01M418.6 222.7h.01M467.8 227.6h.01M419.6 254.1h.01M402.6 223.7h.01M420.7 231.4h.01M385.7 266.9h.01M406.5 238.9h.01M450.4 267.8h.01M435.8 230.6h.01M423.2 252.1h.01M384.8 240.9h.01M443.3 258.8h.01M403.0 263.4h.01M400.1 236.4h.01M416.2 235.2h.01M419.3 226.3h.01M393.5 234.4h.01M475.0 218.3h.01M459.6 250.6h.01M388.5 242.3h.01M424.4 268.4h.01M400.7 257.7h.01M439.6 239.8h.01M415.1 249.8h.01M413.1 260.5h.01M411.1 255.0h.01M416.3 264.7h.01M395.8 252.9h.01M399.8 227.2h.01M397.2 251.3h.01M387.3 245.3h.01M438.4 213.7h.01M432.5 258.5h.01M386.4 222.1h.01M380.2 258.7h.01M420.3 247.0h.01M474.1 240.9h.01M390.1 272.0h.01M431.8 274.2h.01M406.8 233.4h.01M429.5 240.1h.01M435.3 270.3h.01M421.2 244.0h.01M414.5 235.9h.01M394.0 244.8h.01M419.6 228.8h.01M425.7 232.0h.01M443.3 242.4h.01M432.6 262.5h.01M456.3 237.4h.01M416.9 256.1h.01M407.7 220.0h.01M437.0 261.7h.01M435.2 223.9h.01M454.1 242.1h.01M435.5 268.1h.01M404.5 178.0h.01M417.0 257.9h.01M441.0 222.0h.01M440.7 263.7h.01M446.9 242.2h.01M411.6 245.8h.01M445.0 246.0h.01M402.5 243.7h.01M445.3 241.0h.01M396.4 220.0h.01M433.1 227.3h.01M441.3 222.6h.01M406.4 266.3h.01M393.0 239.8h.01M410.6 230.5h.01M444.8 214.2h.01M441.6 276.2h.01M433.5 263.6h.01M422.3 243.3h.01M438.6 245.9h.01M441.0 228.4h.01M367.5 238.0h.01M420.3 225.9h.01M378.9 253.3h.01M438.4 252.3h.01M399.7 271.7h.01M454.0 235.4h.01M449.2 278.8h.01M464.2 243.7h.01M409.6 279.8h.01M444.8 265.3h.01M415.4 225.0h.01M408.1 269.7h.01M402.3 234.3h.01M418.2 260.0h.01M432.4 256.9h.01M379.8 236.8h.01M361.0 219.1h.01M408.9 264.4h.01M441.8 276.7h.01M423.8 262.0h.01M434.8 242.4h.01M398.2 280.7h.01M421.2 261.4h.01M461.9 221.4h.01M399.9 270.8h.01M391.2 226.2h.01M415.1 239.3h.01M416.8 237.6h.01M426.5 241.2h.01M432.6 268.8h.01M431.8 232.0h.01M411.4 255.0h.01M414.7 232.8h.01M420.1 251.5h.01M421.9 259.3h.01M434.6 256.5h.01M436.9 228.7h.01M448.6 236.0h.01M390.9 249.3h.01M416.7 235.5h.01M420.2 275.1h.01M406.2 229.3h.01M380.1 262.5h.01M429.3 255.1h.01M400.0 219.5h.01M416.9 262.0h.01M404.1 227.9h.01M431.8 249.4h.01M439.0 259.4h.01M461.6 253.0h.01M402.5 229.0h.01M420.8 259.0h.01M446.3 239.7h.01M414.4 268.1h.01M373.1 237.1h.01M403.4 245.5h.01M464.2 266.4h.01M435.8 220.5h.01M384.8 249.5h.01M450.1 252.7h.01M431.9 214.4h.01M429.4 228.7h.01M468.2 224.0h.01M369.6 241.4h.01M472.8 251.2h.01M427.9 259.7h.01M390.6 260.0h.01M420.6 260.5h.01M438.9 227.1h.01M383.9 260.1h.01M391.7 213.3h.01M411.2 254.7h.01M454.1 259.9h.01M418.7 253.3h.01M390.0 242.9h.01M439.1 239.9h.01M391.0 282.4h.01M415.9 238.4h.01M411.3 256.6h.01M413.1 220.4h.01M414.9 249.0h.01M403.9 247.2h.01M405.0 246.9h.01M467.0 265.6h.01M390.0 223.4h.01M417.6 244.4h.01M440.0 247.0h.01M441.7 251.0h.01M442.8 257.9h.01M411.5 227.0h.01M353.4 254.4h.01M363.7 255.9h.01M412.7 229.8h.01M432.2 237.7h.01M405.1 264.4h.01M393.7 211.2h.01M364.8 232.1h.01M412.5 222.3h.01M408.6 238.1h.01M434.3 238.6h.01M455.3 232.3h.01M414.1 256.9h.01M430.6 220.3h.01M430.4 237.9h.01M429.6 258.7h.01M381.7 246.1h.01M414.3 254.6h.01M396.2 250.0h.01M453.5 195.5h.01M402.8 246.4h.01M422.9 250.1h.01M436.8 249.8h.01M422.9 267.2h.01M445.0 214.1h.01M442.1 225.9h.01M418.4 266.4h.01M411.6 259.9h.01M425.0 241.0h.01M438.2 246.0h.01M429.6 222.6h.01M374.6 255.9h.01M423.2 277.8h.01M426.6 280.3h.01M396.3 228.6h.01M429.4 227.7h.01M397.4 218.9h.01M450.3 233.6h.01M447.4 255.5h.01M451.5 230.2h.01M442.6 276.0h.01M421.8 238.6h.01M441.4 267.3h.01M422.7 251.6h.01M454.3 213.2h.01M439.6 244.6h.01M431.1 246.2h.01M424.0 230.4h.01M355.3 244.9h.01M419.2 230.4h.01M420.9 228.6h.01M413.9 246.6h.01M429.7 247.5h.01M440.1 248.4h.01M409.3 218.3h.01M437.2 258.4h.01M367.4 244.9h.01M424.6 259.0h.01M414.7 258.1h.01M473.2 233.9h.01M457.0 252.9h.01M414.6 255.4h.01M432.4 234.8h.01M440.1 249.0h.01M427.1 237.3h.01M453.4 247.3h.01M440.4 216.8h.01M424.3 219.3h.01M451.3 278.7h.01M441.7 256.7h.01M459.8 235.8h.01M417.0 241.7h.01M401.8 242.9h.01M430.5 243.5h.01M405.3 245.6h.01M412.8 239.9h.01M442.1 279.6h.01M398.8 239.1h.01M430.6 250.2h.01M406.1 238.1h.01M433.5 237.4h.01M464.3 219.4h.01M448.8 250.9h.01M389.3 256.8h.01M428.1 246.5h.01M440.5 234.0h.01M396.9 269.2h.01M417.4 256.2h.01M429.4 249.2h.01M436.1 246.9h.01M415.5 228.2h.01M436.0 241.0h.01M431.5 258.5h.01M416.8 249.3h.01M399.2 258.9h.01M398.4 221.4h.01M431.6 236.6h.01M458.4 203.8h.01M440.1 241.9h.01M418.4 235.6h.01M440.1 229.0h.01M418.1 259.1h.01M435.0 246.1h.01M458.0 276.4h.01M425.8 245.0h.01M421.0 206.7h.01M428.2 239.8h.01M431.8 242.0h.01M436.0 263.9h.01M436.7 230.3h.01M424.4 246.0h.01M455.3 233.0h.01M435.1 243.3h.01M440.7 264.3h.01M432.8 274.6h.01M389.5 208.1h.01M421.6 272.0h.01M457.1 243.3h.01M386.0 256.9h.01M406.2 275.6h.01M469.4 246.1h.01M402.9 240.3h.01M438.5 268.7h.01M425.5 265.4h.01M385.3 273.2h.01M410.5 244.5h.01M438.1 249.3h.01M392.4 236.5h.01M388.0 240.2h.01M413.3 268.5h.01M473.6 238.6h.01M430.9 234.7h.01M430.5 248.0h.01M391.1 251.7h.01M422.0 258.2h.01M388.4 221.7h.01M405.7 218.6h.01M443.7 250.5h.01M472.6 236.8h.01M394.3 244.1h.01M429.9 238.1h.01M462.3 246.5h.01M407.0 231.4h.01M385.9 215.0h.01M394.1 254.8h.01M395.9 280.0h.01M397.7 253.9h.01M462.1 243.1h.01M408.6 254.5h.01M435.1 251.7h.01M397.8 228.9h.01M436.3 240.4h.01M468.8 226.7h.01M433.2 221.6h.01M419.9 269.6h.01M433.5 229.9h.01M443.0 214.9h.01M418.7 235.6h.01M417.2 244.4h.01M427.4 254.6h.01M431.3 265.5h.01M427.2 265.5h.01M407.4 252.3h.01M395.2 260.4h.01M427.7 240.3h.01M444.0 236.3h.01M439.0 256.6h.01M428.9 230.8h.01M452.5 218.3h.01M442.9 227.1h.01M420.4 215.2h.01M463.9 215.0h.01M446.5 246.7h.01M391.9 219.2h.01M425.5 239.3h.01M431.7 235.6h.01M417.2 232.0h.01M433.1 235.1h.01M443.0 260.0h.01M414.0 256.2h.01M401.5 217.4h.01M406.1 234.6h.01M406.8 249.8h.01M466.0 252.8h.01M393.4 237.9h.01M383.9 259.0h.01M430.8 219.8h.01M423.3 214.3h.01M447.2 212.0h.01M402.6 247.2h.01M424.6 229.4h.01M430.5 252.2h.01M427.6 245.8h.01M446.5 238.8h.01M444.0 241.7h.01M397.5 249.0h.01M422.1 274.6h.01M405.3 265.3h.01M452.9 269.4h.01M460.1 251.8h.01M422.1 252.9h.01M371.4 249.7h.01M413.1 249.4h.01M394.7 269.5h.01M432.3 247.9h.01M412.7 245.0h.01M378.1 261.1h.01M399.0 228.3h.01M391.9 265.9h.01M398.1 233.0h.01M448.8 238.1h.01M412.7 261.4h.01M379.8 275.4h.01M416.0 250.7h.01M458.2 232.7h.01M445.0 224.2h.01M433.0 241.7h.01M425.7 244.0h.01M438.8 244.7h.01M439.5 265.4h.01M394.5 218.4h.01M370.8 246.2h.01M422.0 253.3h.01M417.2 261.0h.01M373.6 230.8h.01M436.5 226.0h.01M450.8 259.7h.01M411.3 219.0h.01M438.3 251.0h.01M392.5 238.2h.01M472.7 233.0h.01M419.9 227.2h.01M420.3 226.8h.01M437.5 271.3h.01M406.6 241.8h.01M437.9 263.1h.01M402.3 218.8h.01M425.9 249.0h.01M435.7 260.8h.01M405.7 257.5h.01M432.6 277.3h.01M406.5 234.1h.01M394.5 254.9h.01M397.0 265.9h.01M419.0 252.0h.01M427.2 249.8h.01M435.0 224.2h.01M405.3 236.9h.01M391.1 241.9h.01M420.7 256.7h.01M442.8 258.8h.01M412.3 223.3h.01M438.0 264.0h.01M448.5 259.9h.01M447.4 245.6h.01M393.7 238.2h.01M419.6 268.8h.01M405.0 252.5h.01M391.2 256.9h.01M400.9 271.9h.01M446.1 234.6h.01M430.9 204.0h.01M440.1 223.5h.01M445.0 240.3h.01M431.3 253.1h.01M439.8 247.3h.01M423.0 258.1h.01M425.7 256.2h.01M396.1 237.7h.01M427.6 209.9h.01M405.3 259.5h.01M397.0 260.6h.01M376.6 269.6h.01M402.6 240.8h.01M445.3 231.6h.01M406.7 247.2h.01M402.7 263.9h.01M448.1 221.5h.01M434.9 248.7h.01M416.5 264.8h.01M431.4 239.6h.01M431.3 260.1h.01M423.6 256.8h.01M470.1 262.2h.01M396.9 265.8h.01M466.0 217.2h.01M421.3 226.5h.01M406.4 249.0h.01M432.7 278.9h.01M382.6 281.2h.01M398.8 264.4h.01M435.9 267.9h.01M442.3 272.5h.01M416.4 244.7h.01M462.8 272.5h.01M411.5 242.6h.01M440.2 253.1h.01M437.5 242.9h.01M452.2 221.1h.01M449.4 255.5h.01M423.3 250.8h.01M441.5 231.1h.01M436.0 250.0h.01M400.2 276.2h.01M428.7 230.6h.01M404.8 261.4h.01M407.7 259.4h.01M409.6 245.2h.01M423.0 240.4h.01M450.1 247.5h.01M395.9 246.7h.01M426.2 258.4h.01M438.4 253.9h.01M446.0 260.8h.01M421.0 243.2h.01M424.4 231.2h.01M448.8 245.7h.01M418.4 251.5h.01M422.5 181.1h.01M411.9 191.6h.01M409.7 185.7h.01M416.1 192.7h.01M399.9 212.0h.01M409.8 194.8h.01M452.1 191.0h.01M420.6 170.6h.01M440.7 221.5h.01M433.5 173.9h.01M390.5 199.9h.01M437.4 188.9h.01M453.7 189.0h.01M399.8 195.8h.01M404.1 167.7h.01M400.7 191.6h.01M381.3 199.6h.01M440.0 180.4h.01M385.6 183.1h.01M418.7 176.3h.01M424.0 193.5h.01M408.0 213.6h.01M369.2 171.5h.01M435.4 188.6h.01M435.2 174.6h.01M433.8 171.2h.01M367.5 188.0h.01M424.3 186.0h.01M450.4 184.4h.01M417.2 192.9h.01M391.1 212.0h.01M357.4 217.0h.01M450.3 195.7h.01M382.6 190.9h.01M397.6 187.3h.01M410.8 200.3h.01M390.1 201.5h.01M455.3 214.0h.01M407.3 188.2h.01M412.7 198.4h.01M400.9 181.0h.01M395.1 198.4h.01M446.7 213.2h.01M428.2 197.6h.01M369.4 173.1h.01M444.8 197.6h.01M406.5 171.2h.01M417.8 173.1h.01M447.3 183.7h.01M410.1 214.4h.01M432.6 202.9h.01M418.9 195.3h.01M380.9 172.6h.01M410.3 200.5h.01M400.1 173.8h.01M384.5 181.6h.01M441.3 195.5h.01M436.4 188.1h.01M430.5 187.0h.01M423.4 200.1h.01M370.4 194.2h.01M415.3 166.6h.01M373.9 171.7h.01M427.2 183.0h.01M418.1 194.0h.01M408.7 199.4h.01M396.7 189.5h.01M406.3 188.9h.01M415.9 204.0h.01M427.7 173.9h.01M451.7 183.3h.01M441.7 186.8h.01M418.6 201.4h.01M452.7 184.9h.01M373.3 184.8h.01M417.0 188.1h.01M421.2 196.3h.01M403.5 195.6h.01M409.2 177.9h.01M416.4 170.6h.01M393.7 219.9h.01M409.4 192.9h.01M406.4 195.7h.01M411.9 214.7h.01M467.0 195.5h.01M437.5 181.7h.01M397.6 172.9h.01M400.4 192.6h.01M440.5 174.7h.01M379.2 228.3h.01M414.1 186.9h.01M441.5 216.2h.01M411.6 179.4h.01M418.8 206.6h.01M405.7 207.9h.01M419.9 198.8h.01M453.4 198.8h.01M401.9 191.6h.01M401.6 198.4h.01M394.6 212.1h.01M388.1 210.9h.01M377.8 188.1h.01M445.0 190.0h.01M431.1 190.0h.01M398.6 172.0h.01M455.4 195.6h.01M387.5 201.5h.01M386.7 172.7h.01M441.9 196.5h.01M446.7 184.0h.01M391.9 196.1h.01M411.0 196.7h.01M434.1 212.4h.01M417.1 210.2h.01M402.9 213.9h.01M462.3 189.8h.01M418.0 175.9h.01M393.8 177.3h.01M395.3 217.1h.01M420.2 206.7h.01M431.8 210.7h.01M451.2 202.7h.01M372.1 200.6h.01M404.6 159.2h.01M406.5 189.2h.01M412.5 177.2h.01M427.1 195.5h.01M381.9 203.9h.01M436.8 186.9h.01M457.3 185.8h.01M398.0 202.8h.01M423.7 189.4h.01M420.7 191.8h.01M432.9 178.2h.01M429.3 165.8h.01M378.5 177.7h.01M389.4 185.7h.01M419.9 178.3h.01M394.0 197.6h.01M372.6 181.5h.01M410.2 189.5h.01M443.2 198.7h.01M403.5 189.9h.01M422.4 195.5h.01M410.5 201.9h.01M404.9 173.7h.01M431.5 199.8h.01M379.1 193.0h.01M393.6 198.3h.01M424.9 192.9h.01M403.3 166.4h.01M412.5 174.9h.01M417.2 184.4h.01M417.5 187.3h.01M391.7 182.5h.01M382.9 204.8h.01M418.7 173.6h.01M407.7 189.4h.01M417.8 193.0h.01M398.3 198.7h.01M422.1 202.0h.01M425.7 194.9h.01M359.0 191.0h.01M394.9 171.8h.01M444.5 195.0h.01M464.8 185.6h.01M435.5 195.3h.01M414.2 200.9h.01M424.7 200.8h.01M431.6 200.7h.01M464.1 184.2h.01M423.4 163.7h.01M415.5 209.9h.01M411.4 204.3h.01M453.1 197.8h.01M402.2 198.2h.01M391.3 190.5h.01M435.1 229.7h.01M405.1 185.6h.01M444.2 213.3h.01M430.2 191.5h.01M393.5 188.4h.01M432.3 209.6h.01M404.8 211.0h.01M390.3 179.8h.01M406.4 194.6h.01M422.0 190.9h.01M430.1 203.6h.01M443.3 184.6h.01M409.9 197.2h.01M418.2 211.6h.01M470.0 174.9h.01M413.4 197.1h.01M412.8 190.0h.01M368.9 190.1h.01M412.9 202.0h.01M418.7 209.7h.01M399.6 184.8h.01M425.2 176.6h.01M410.1 193.0h.01M392.9 195.5h.01M441.3 215.9h.01M425.7 183.3h.01M428.2 214.7h.01M359.9 191.4h.01M448.1 183.6h.01M399.5 206.6h.01M374.6 177.0h.01M407.8 206.1h.01M387.1 210.7h.01M407.7 205.3h.01M463.6 196.2h.01M449.3 223.0h.01M419.0 192.8h.01M402.8 203.7h.01M466.0 172.9h.01M433.1 202.9h.01M415.2 210.8h.01M420.3 202.8h.01M368.9 193.8h.01M448.7 186.9h.01M413.2 182.1h.01M389.3 199.6h.01M416.6 200.1h.01M448.4 193.5h.01M390.9 186.2h.01M391.8 172.3h.01M413.0 212.0h.01M419.6 182.1h.01M420.8 184.8h.01M415.2 203.1h.01M394.4 185.5h.01M368.6 196.2h.01M437.8 208.5h.01M423.0 193.6h.01M430.2 185.8h.01M421.7 155.5h.01M383.8 172.0h.01M455.2 188.6h.01M436.3 172.5h.01M428.9 182.4h.01M407.1 170.4h.01M420.3 186.6h.01M378.4 215.6h.01M421.1 169.8h.01M366.5 197.9h.01M405.0 198.1h.01M439.4 205.0h.01M376.7 198.9h.01M356.5 198.8h.01M351.4 193.1h.01M347.0 185.5h.01M340.4 181.2h.01M342.0 209.0h.01M331.7 194.4h.01M357.6 205.7h.01M365.3 192.2h.01M345.2 194.6h.01M349.9 200.4h.01M341.6 201.6h.01M352.8 196.7h.01M341.8 187.6h.01M348.3 197.8h.01M358.5 199.5h.01M355.2 191.6h.01M355.2 197.4h.01M364.0 199.3h.01M334.1 189.9h.01M356.0 188.5h.01M335.3 200.7h.01M339.8 198.8h.01M354.3 195.4h.01M348.1 199.9h.01M344.9 197.5h.01M345.8 192.2h.01M363.1 212.1h.01M360.5 186.0h.01M345.0 203.9h.01M359.0 186.7h.01M340.1 225.2h.01M350.3 198.9h.01M363.6 195.1h.01M349.2 187.4h.01M357.8 194.8h.01M381.0 191.1h.01M339.8 222.9h.01M359.6 200.5h.01M336.7 196.5h.01M348.6 193.5h.01M345.2 188.8h.01M355.4 184.3h.01M376.0 187.2h.01M343.5 186.9h.01M345.2 200.0h.01M353.2 182.2h.01M350.7 186.5h.01M335.0 197.8h.01M345.1 197.3h.01M338.6 196.6h.01M348.3 190.1h.01M359.2 203.8h.01M357.7 190.2h.01M356.8 188.4h.01M348.9 188.2h.01M380.0 195.4h.01M359.3 187.2h.01M354.4 192.4h.01M340.7 188.4h.01M352.7 196.0h.01M341.2 201.7h.01M341.9 201.0h.01M358.6 199.7h.01M343.7 184.8h.01M345.5 210.2h.01M354.0 195.4h.01M351.5 195.9h.01M328.7 185.3h.01M352.0 191.9h.01M333.8 190.9h.01M353.6 175.9h.01M357.4 207.6h.01M347.2 193.8h.01M354.2 190.4h.01M341.8 196.1h.01M350.6 199.3h.01M349.2 195.2h.01M358.4 193.8h.01M357.6 205.8h.01M331.3 192.0h.01M354.5 216.3h.01M350.7 186.5h.01M342.5 171.5h.01M369.0 189.8h.01M349.7 195.4h.01M349.8 202.0h.01M356.2 188.5h.01M350.3 178.6h.01M338.7 201.2h.01M342.6 257.5h.01M296.0 266.4h.01M323.2 257.1h.01M350.9 253.9h.01M303.5 271.4h.01M362.8 274.0h.01M330.5 267.6h.01M329.0 270.7h.01M314.1 257.0h.01M348.2 274.4h.01M319.2 269.5h.01M331.4 272.0h.01M321.0 261.2h.01M326.9 267.1h.01M324.9 254.4h.01M289.6 266.7h.01M363.3 257.9h.01M368.9 267.8h.01M357.9 273.5h.01M381.8 257.8h.01M353.2 263.1h.01M315.4 261.5h.01M319.9 274.6h.01M337.4 255.5h.01M312.9 278.4h.01M329.0 262.2h.01M347.0 283.4h.01M338.0 272.3h.01M331.9 261.8h.01M317.0 248.6h.01M309.7 265.9h.01M332.8 259.9h.01M294.6 263.1h.01M315.1 271.4h.01M297.0 265.8h.01M329.9 263.0h.01M294.6 269.3h.01M306.0 246.9h.01M322.6 258.8h.01M335.8 276.9h.01M325.2 259.9h.01M328.0 268.1h.01M333.5 264.8h.01M316.0 267.7h.01M324.8 265.5h.01M345.9 276.5h.01M323.5 266.2h.01M311.1 255.9h.01M324.0 258.0h.01M348.2 274.0h.01M313.2 272.7h.01M335.8 269.1h.01M309.1 264.7h.01M319.4 265.7h.01M330.3 271.0h.01M333.5 261.1h.01M344.1 275.1h.01M358.5 256.9h.01M345.4 271.1h.01M325.8 280.5h.01M345.5 259.7h.01M332.3 263.0h.01M339.8 277.8h.01M312.5 261.0h.01M338.0 257.0h.01M334.6 253.7h.01M316.3 264.6h.01M313.3 256.6h.01M328.8 270.5h.01M314.9 266.4h.01M351.5 251.4h.01M372.6 273.6h.01M297.8 280.7h.01M351.7 273.2h.01M334.2 266.8h.01M373.2 276.1h.01M313.4 278.0h.01M322.9 262.1h.01M343.8 269.7h.01M339.3 264.6h.01M305.5 266.5h.01M327.4 273.3h.01M298.9 262.4h.01M337.9 278.9h.01M305.5 265.7h.01M320.2 281.6h.01M345.0 283.8h.01M338.0 260.4h.01M329.1 278.2h.01M317.7 255.7h.01M308.9 257.2h.01M310.8 266.6h.01M341.9 268.1h.01M298.3 263.2h.01M349.9 262.2h.01M315.6 264.8h.01M335.9 260.8h.01M325.5 259.3h.01M345.9 275.4h.01M330.2 268.6h.01M310.0 261.7h.01M353.4 250.3h.01M317.1 272.9h.01M331.4 276.8h.01M330.9 265.3h.01M351.7 261.3h.01M312.1 265.4h.01M332.5 279.0h.01M327.2 273.4h.01M301.8 266.2h.01M337.4 271.0h.01M319.6 266.5h.01M316.1 262.9h.01M356.9 276.9h.01M341.3 257.4h.01M344.2 265.0h.01M327.5 259.0h.01M318.9 274.8h.01M335.7 263.4h.01M319.3 249.5h.01M317.3 251.0h.01M305.6 259.7h.01M312.9 282.1h.01M311.7 254.6h.01M349.7 263.9h.01M328.0 274.2h.01M308.0 254.9h.01M331.3 276.1h.01M321.9 257.6h.01M353.2 272.7h.01M353.7 274.4h.01M349.5 269.3h.01M318.5 266.0h.01M322.1 271.8h.01M369.1 249.6h.01M363.5 263.6h.01M299.9 255.9h.01M343.3 267.8h.01M354.8 272.7h.01M309.5 274.9h.01M318.6 276.5h.01M326.0 268.1h.01M336.0 264.5h.01M338.1 283.0h.01M343.6 276.0h.01M353.0 266.4h.01M321.5 269.0h.01M327.5 249.0h.01M326.9 261.0h.01M300.9 253.6h.01M361.6 265.2h.01M335.0 281.9h.01M337.8 257.3h.01M363.6 273.5h.01M337.3 259.2h.01M329.4 278.3h.01M362.6 255.1h.01M359.7 265.3h.01M320.7 266.1h.01M320.9 270.4h.01M298.3 255.0h.01M353.2 245.9h.01M339.1 269.4h.01M327.1 260.4h.01M339.8 270.8h.01M314.6 272.9h.01M347.6 257.1h.01M346.8 264.9h.01M346.1 247.1h.01M352.6 263.3h.01M354.9 274.5h.01M302.9 260.2h.01M343.1 258.8h.01M306.4 263.3h.01M317.5 269.2h.01M365.5 270.8h.01M334.2 267.0h.01M305.6 262.2h.01M315.6 252.8h.01M314.9 268.6h.01M288.4 260.7h.01M335.8 274.7h.01M345.2 270.6h.01M336.6 265.8h.01M325.2 226.4h.01M406.6 220.3h.01M407.5 216.4h.01M325.7 267.2h.01M449.5 279.0h.01M310.6 226.5h.01M315.4 216.4h.01M436.2 233.8h.01M343.2 271.6h.01M363.6 278.0h.01M334.1 230.8h.01M387.1 257.1h.01M444.1 264.4h.01M314.6 230.1h.01M424.2 279.1h.01M354.2 259.4h.01M328.5 278.4h.01M353.8 277.8h.01M384.3 273.4h.01M320.6 282.6h.01M373.3 207.7h.01M358.3 235.5h.01M444.8 268.6h.01M343.2 252.9h.01M293.4 225.2h.01M420.8 227.1h.01M368.5 200.6h.01M343.9 266.3h.01M395.7 213.8h.01M373.5 219.1h.01M454.8 203.9h.01M336.3 221.1h.01M456.8 256.5h.01M435.7 274.3h.01M307.9 235.3h.01M307.9 261.8h.01M371.3 270.4h.01M406.4 278.7h.01M419.0 213.0h.01M325.5 217.9h.01M332.9 248.3h.01M395.9 252.8h.01M332.1 257.6h.01M437.7 259.6h.01M466.2 241.0h.01M301.6 266.5h.01M293.6 262.8h.01M412.2 264.0h.01M387.3 227.6h.01M379.7 246.8h.01M345.2 258.2h.01M297.5 200.4h.01M423.1 251.4h.01M354.2 236.4h.01M350.6 222.9h.01M353.1 269.3h.01M390.1 277.5h.01M416.7 226.4h.01M391.3 262.4h.01M309.6 246.0h.01M446.2 206.8h.01M376.0 267.0h.01M390.5 271.5h.01M390.5 217.4h.01M459.5 266.9h.01M437.7 280.2h.01M394.0 273.7h.01M466.0 223.7h.01M407.6 281.7h.01M425.9 219.9h.01M369.8 219.5h.01M344.7 246.0h.01M368.7 263.9h.01M399.5 269.1h.01M387.8 215.7h.01M323.8 205.4h.01M300.0 231.1h.01M311.7 255.6h.01M440.3 234.5h.01M418.6 278.8h.01M455.7 256.8h.01M334.5 273.3h.01M415.8 265.0h.01M336.6 213.4h.01M347.1 213.0h.01M452.8 216.9h.01M379.8 266.3h.01M386.9 205.8h.01M384.1 202.5h.01M417.9 237.8h.01M415.9 278.0h.01M376.1 231.0h.01M325.2 268.2h.01M431.6 274.0h.01M433.1 222.3h.01M328.1 238.2h.01M431.1 231.5h.01M423.3 216.2h.01M371.5 229.4h.01M428.1 227.3h.01M445.7 214.0h.01M384.0 281.7h.01M316.8 230.0h.01M360.0 236.6h.01M439.6 252.5h.01M400.0 231.7h.01M312.7 236.7h.01M426.8 242.7h.01M401.7 208.0h.01M440.4 271.6h.01M344.6 201.2h.01M308.1 212.5h.01M303.8 276.9h.01M454.5 232.4h.01M452.9 263.0h.01M344.6 238.3h.01M298.2 263.1h.01M327.2 237.3h.01M311.4 268.1h.01M362.8 260.4h.01M315.6 258.7h.01M312.2 234.3h.01M344.1 279.9h.01M358.8 236.8h.01M342.1 269.3h.01M312.8 274.7h.01M463.6 217.7h.01M402.8 210.7h.01M396.8 215.3h.01M455.4 209.1h.01M399.9 224.0h.01M294.3 200.8h.01M437.0 266.1h.01M300.3 237.8h.01M303.0 211.8h.01M465.1 279.6h.01M371.4 221.6h.01M328.7 264.1h.01M382.2 217.9h.01M380.7 240.3h.01M427.4 263.8h.01M458.4 251.4h.01M466.7 216.6h.01M317.1 222.6h.01M381.4 249.0h.01M360.8 231.8h.01M435.5 258.0h.01M348.5 200.6h.01M317.2 245.1h.01M462.6 207.3h.01M337.3 255.4h.01M324.0 274.7h.01M425.9 226.3h.01M360.1 202.1h.01M326.3 257.2h.01M345.7 224.2h.01M393.4 223.4h.01M291.1 263.7h.01M288.8 233.5h.01M360.4 215.1h.01M386.2 151.3h.01M406.9 158.1h.01M440.2 163.7h.01M400.2 158.3h.01M397.0 161.4h.01M439.3 172.3h.01M380.5 173.0h.01M389.1 174.3h.01M398.0 151.7h.01M406.0 157.5h.01" stroke="#e84f5a" stroke-width="0.9" stroke-linecap="square" fill="none" opacity="0.72"/>
<line x1="284.50" y1="118.75" x2="284.50" y2="285.00" stroke="#1a1a1a" stroke-width="1.1"/>
<line x1="284.00" y1="284.50" x2="476.00" y2="284.50" stroke="#1a1a1a" stroke-width="1.1"/>
<line x1="284.50" y1="118.75" x2="475.50" y2="118.75" stroke="#888" stroke-width="0.8"/>
<path d="M281.70 272.03H284.50M298.87 284.50v2.6M281.70 264.73H284.50M307.28 284.50v2.6M281.70 259.55H284.50M313.25 284.50v2.6M281.70 255.54H284.50M317.88 284.50v2.6M281.70 252.26H284.50M321.66 284.50v2.6M281.70 249.48H284.50M324.85 284.50v2.6M281.70 247.08H284.50M327.62 284.50v2.6M281.70 244.96H284.50M330.07 284.50v2.6M281.70 230.59H284.50M346.62 284.50v2.6M281.70 223.29H284.50M355.03 284.50v2.6M281.70 218.11H284.50M361.00 284.50v2.6M281.70 214.10H284.50M365.63 284.50v2.6M281.70 210.82H284.50M369.41 284.50v2.6M281.70 208.04H284.50M372.60 284.50v2.6M281.70 205.64H284.50M375.37 284.50v2.6M281.70 203.52H284.50M377.82 284.50v2.6M281.70 189.15H284.50M394.37 284.50v2.6M281.70 181.85H284.50M402.78 284.50v2.6M281.70 176.68H284.50M408.75 284.50v2.6M281.70 172.66H284.50M413.38 284.50v2.6M281.70 169.38H284.50M417.16 284.50v2.6M281.70 166.61H284.50M420.35 284.50v2.6M281.70 164.20H284.50M423.12 284.50v2.6M281.70 162.08H284.50M425.57 284.50v2.6M281.70 147.71H284.50M442.12 284.50v2.6M281.70 140.42H284.50M450.53 284.50v2.6M281.70 135.24H284.50M456.50 284.50v2.6M281.70 131.22H284.50M461.13 284.50v2.6M281.70 127.94H284.50M464.91 284.50v2.6M281.70 125.17H284.50M468.10 284.50v2.6M281.70 122.77H284.50M470.87 284.50v2.6M281.70 120.65H284.50M473.32 284.50v2.6" stroke="#222" stroke-width="0.8" fill="none"/>
<path d="M279.10 284.50H284.50M284.50 284.50v4.6M279.10 243.06H284.50M332.25 284.50v4.6M279.10 201.62H284.50M380.00 284.50v4.6M279.10 160.19H284.50M427.75 284.50v4.6M279.10 118.75H284.50M475.50 284.50v4.6" stroke="#222" stroke-width="1.25" fill="none"/>
<text x="275.30" y="283.50" font-size="6.6" style="font-family:'DejaVu Sans', 'Liberation Sans', sans-serif" text-anchor="end" fill="#222">10<tspan dy="-2.6" font-size="4.75">0</tspan></text>
<text x="292.50" y="303.00" font-size="6.6" style="font-family:'DejaVu Sans', 'Liberation Sans', sans-serif" text-anchor="middle" fill="#222">10<tspan dy="-2.6" font-size="4.75">0</tspan></text>
<text x="275.30" y="246.76" font-size="6.6" style="font-family:'DejaVu Sans', 'Liberation Sans', sans-serif" text-anchor="end" fill="#222">10<tspan dy="-2.6" font-size="4.75">1</tspan></text>
<text x="334.75" y="303.00" font-size="6.6" style="font-family:'DejaVu Sans', 'Liberation Sans', sans-serif" text-anchor="middle" fill="#222">10<tspan dy="-2.6" font-size="4.75">1</tspan></text>
<text x="275.30" y="205.32" font-size="6.6" style="font-family:'DejaVu Sans', 'Liberation Sans', sans-serif" text-anchor="end" fill="#222">10<tspan dy="-2.6" font-size="4.75">2</tspan></text>
<text x="382.50" y="303.00" font-size="6.6" style="font-family:'DejaVu Sans', 'Liberation Sans', sans-serif" text-anchor="middle" fill="#222">10<tspan dy="-2.6" font-size="4.75">2</tspan></text>
<text x="275.30" y="163.89" font-size="6.6" style="font-family:'DejaVu Sans', 'Liberation Sans', sans-serif" text-anchor="end" fill="#222">10<tspan dy="-2.6" font-size="4.75">3</tspan></text>
<text x="430.25" y="303.00" font-size="6.6" style="font-family:'DejaVu Sans', 'Liberation Sans', sans-serif" text-anchor="middle" fill="#222">10<tspan dy="-2.6" font-size="4.75">3</tspan></text>
<text x="275.30" y="128.95" font-size="6.6" style="font-family:'DejaVu Sans', 'Liberation Sans', sans-serif" text-anchor="end" fill="#222">10<tspan dy="-2.6" font-size="4.75">4</tspan></text>
<text x="469.50" y="303.00" font-size="6.6" style="font-family:'DejaVu Sans', 'Liberation Sans', sans-serif" text-anchor="middle" fill="#222">10<tspan dy="-2.6" font-size="4.75">4</tspan></text>
<line x1="373.25" y1="118.75" x2="373.25" y2="284.50" stroke="#1a1a1a" stroke-width="1.1"/>
<line x1="284.50" y1="213.25" x2="475.50" y2="213.25" stroke="#1a1a1a" stroke-width="1.1"/>
<text x="288.00" y="131.00" font-size="8.4" style="font-family:'DejaVu Sans', 'Liberation Sans', sans-serif" text-anchor="start" fill="#2a2a2a">Q1</text>
<text x="288.00" y="141.00" font-size="8.4" style="font-family:'DejaVu Sans', 'Liberation Sans', sans-serif" text-anchor="start" fill="#2a2a2a">2.35</text>
<text x="458.00" y="131.00" font-size="8.4" style="font-family:'DejaVu Sans', 'Liberation Sans', sans-serif" text-anchor="end" fill="#2a2a2a">Q2</text>
<text x="458.00" y="141.00" font-size="8.4" style="font-family:'DejaVu Sans', 'Liberation Sans', sans-serif" text-anchor="end" fill="#2a2a2a">5.72</text>
<text x="288.00" y="267.50" font-size="8.4" style="font-family:'DejaVu Sans', 'Liberation Sans', sans-serif" text-anchor="start" fill="#2a2a2a">Q4</text>
<text x="288.00" y="276.80" font-size="8.4" style="font-family:'DejaVu Sans', 'Liberation Sans', sans-serif" text-anchor="start" fill="#2a2a2a">66.9</text>
<text x="458.00" y="267.50" font-size="8.4" style="font-family:'DejaVu Sans', 'Liberation Sans', sans-serif" text-anchor="end" fill="#2a2a2a">Q3</text>
<text x="458.00" y="276.80" font-size="8.4" style="font-family:'DejaVu Sans', 'Liberation Sans', sans-serif" text-anchor="end" fill="#2a2a2a">25.0</text>
<text x="379.50" y="323.80" font-size="14.6" text-anchor="middle" fill="#1a1a1a">AV-FITC</text>
<text x="0.00" y="0.00" font-size="13.6" text-anchor="middle" fill="#1a1a1a" transform="translate(258.0 202.5) rotate(-90)">PI</text>
<ellipse cx="589.2" cy="244.1" rx="17.2" ry="2.9" transform="rotate(-40.5 589.2 244.1)" fill="#ea4f5b" opacity="0.3" filter="url(#b1)"/>
<ellipse cx="587.0" cy="246.0" rx="9.2" ry="1.8" transform="rotate(-40.5 587.0 246.0)" fill="#e94a57" opacity="0.3" filter="url(#b2)"/>
<path d="M579.2 253.5h.01M610.3 229.7h.01M606.7 229.3h.01M592.1 240.9h.01M574.7 254.7h.01M603.0 233.0h.01M582.4 246.3h.01M585.2 245.6h.01M588.4 246.4h.01M567.0 262.7h.01M572.5 254.8h.01M578.3 257.7h.01M598.8 237.3h.01M578.0 248.5h.01M584.0 249.2h.01M587.5 247.9h.01M587.0 252.2h.01M600.6 240.0h.01M590.7 242.1h.01M581.1 254.0h.01M604.5 231.5h.01M593.3 239.8h.01M582.9 248.5h.01M568.6 257.6h.01M587.8 245.7h.01M605.7 231.6h.01M594.0 240.1h.01M567.4 262.9h.01M580.2 253.6h.01M583.9 247.5h.01M581.8 249.4h.01M566.7 256.8h.01M607.4 229.6h.01M582.5 248.6h.01M589.3 255.3h.01M595.4 238.8h.01M576.9 246.2h.01M591.1 246.9h.01M602.6 233.3h.01M579.5 248.1h.01M587.4 244.3h.01M580.0 258.1h.01M577.7 251.9h.01M569.7 268.0h.01M585.4 247.1h.01M590.2 240.6h.01M582.0 251.3h.01M580.3 252.9h.01M607.7 230.1h.01M611.4 227.6h.01M615.8 221.9h.01M592.3 238.2h.01M584.1 246.0h.01M584.5 244.6h.01M596.0 246.2h.01M581.2 253.1h.01M596.1 236.1h.01M583.4 247.2h.01M593.2 238.8h.01M630.6 210.1h.01M608.4 233.0h.01M609.5 226.5h.01M592.9 241.0h.01M592.7 244.1h.01M566.2 256.9h.01M584.8 249.4h.01M582.2 249.3h.01M605.9 231.5h.01M585.3 246.2h.01M574.9 258.2h.01M586.9 242.9h.01M594.1 238.8h.01M580.9 245.4h.01M600.1 232.7h.01M591.5 242.7h.01M581.5 250.3h.01M584.0 247.5h.01M588.1 242.8h.01M597.4 237.3h.01M576.9 256.0h.01M583.6 250.3h.01M566.6 264.6h.01M565.6 262.1h.01M639.0 202.4h.01M601.9 231.1h.01M575.9 254.8h.01M591.9 241.2h.01M578.4 249.8h.01M585.3 252.8h.01M585.5 245.7h.01M582.2 246.5h.01M574.8 256.8h.01M608.8 228.4h.01M577.3 260.0h.01M593.5 246.2h.01M583.1 244.6h.01M589.9 242.9h.01M575.6 252.7h.01M581.5 247.5h.01M597.1 238.1h.01M582.0 248.9h.01M601.8 234.4h.01M576.8 255.6h.01M615.6 222.1h.01M582.1 255.8h.01M628.3 210.9h.01M563.7 259.6h.01M618.1 219.1h.01M599.9 236.6h.01M593.1 246.3h.01M592.2 243.6h.01M593.9 241.0h.01M628.2 209.1h.01M579.2 257.1h.01M577.1 255.4h.01M580.4 255.5h.01M589.4 246.5h.01M581.1 250.8h.01M569.4 264.8h.01M594.8 239.5h.01M588.2 243.9h.01M590.1 249.9h.01M581.4 249.3h.01M599.8 235.8h.01M585.1 253.7h.01M615.6 221.0h.01M617.0 217.8h.01M612.0 221.3h.01M594.1 239.6h.01M585.5 249.7h.01M577.6 251.4h.01M580.4 257.5h.01M582.9 251.0h.01M587.2 249.5h.01M576.8 251.7h.01M582.2 251.0h.01M581.6 252.5h.01M598.5 239.3h.01M598.9 240.0h.01M583.6 247.3h.01M580.3 249.5h.01M576.6 256.6h.01M586.2 240.0h.01M585.2 245.2h.01M578.9 252.0h.01M608.1 228.3h.01M570.5 261.6h.01M582.7 255.9h.01M583.0 249.3h.01M584.2 245.7h.01M583.6 248.7h.01M624.5 214.2h.01M596.3 238.5h.01M591.5 243.4h.01M608.2 221.4h.01M580.4 248.8h.01M601.1 231.9h.01M605.3 233.3h.01M583.7 251.0h.01M584.8 251.0h.01M598.2 240.0h.01M600.4 232.0h.01M612.3 224.6h.01M606.0 230.1h.01M602.2 230.1h.01M609.3 224.8h.01M587.2 247.7h.01M575.3 257.8h.01M590.1 246.2h.01M585.4 244.3h.01M576.8 252.0h.01M590.3 242.9h.01M600.4 239.0h.01M584.4 246.9h.01M595.3 240.4h.01M567.6 260.1h.01M590.4 245.2h.01M581.7 247.1h.01M619.6 212.9h.01M610.6 224.5h.01M583.9 248.7h.01M591.6 239.2h.01M575.6 257.0h.01M607.3 228.0h.01M623.2 212.9h.01M601.0 235.3h.01M607.4 226.0h.01M597.3 236.8h.01M566.1 261.9h.01M573.7 256.0h.01M597.0 237.2h.01M618.2 220.6h.01M581.3 249.7h.01M592.6 239.0h.01M597.4 238.8h.01M603.8 232.2h.01M588.7 241.1h.01M591.6 241.8h.01M592.1 243.2h.01M581.3 249.8h.01M579.9 248.3h.01M570.4 256.4h.01M593.2 234.4h.01M597.5 239.3h.01M602.9 231.8h.01M586.7 250.1h.01M602.9 237.2h.01M583.9 247.5h.01M606.3 228.8h.01M589.0 248.9h.01M601.2 233.1h.01M598.1 236.7h.01M606.5 230.4h.01M583.8 255.3h.01M588.1 245.6h.01M582.8 250.0h.01M585.8 249.3h.01M599.1 239.3h.01M601.2 232.9h.01M580.8 248.9h.01M604.3 229.6h.01M614.2 223.4h.01M588.8 245.5h.01M618.8 219.3h.01M583.4 246.0h.01M573.2 255.7h.01M610.9 227.2h.01M577.6 245.8h.01M607.7 229.4h.01M569.9 260.2h.01M580.6 255.6h.01M598.5 234.6h.01M568.2 261.3h.01M631.3 209.0h.01M585.0 251.2h.01M586.3 252.6h.01M572.1 257.4h.01M615.5 224.3h.01M595.9 234.5h.01M590.4 245.6h.01M584.1 248.8h.01M602.9 231.6h.01M596.8 237.1h.01M575.0 250.9h.01M579.9 249.1h.01M604.8 231.1h.01M573.9 263.5h.01M627.7 210.5h.01M596.9 237.3h.01M600.8 234.6h.01M595.4 238.9h.01M581.3 249.8h.01M579.3 250.3h.01M588.0 254.2h.01M602.9 237.5h.01M573.8 256.3h.01M605.6 233.4h.01M594.9 238.0h.01M574.9 257.3h.01M573.1 258.9h.01M581.1 248.6h.01M577.9 248.1h.01M576.2 256.4h.01M578.9 249.9h.01M602.1 234.5h.01M589.2 239.2h.01M604.6 232.3h.01M576.6 252.5h.01M602.7 235.7h.01M581.5 246.6h.01M606.7 228.0h.01M600.6 234.5h.01M585.3 246.1h.01M611.8 224.1h.01M587.0 244.0h.01M620.8 217.3h.01M577.4 253.9h.01M571.8 258.2h.01M578.9 257.7h.01M614.1 228.1h.01M583.0 246.5h.01M569.7 262.0h.01M583.3 254.2h.01M621.4 214.2h.01M589.4 249.9h.01M572.5 254.0h.01M603.1 233.4h.01M572.8 260.4h.01M584.7 248.3h.01M597.6 242.3h.01M602.0 230.9h.01M613.0 225.6h.01M595.2 237.2h.01M580.0 252.4h.01M613.1 224.9h.01M591.4 243.4h.01M592.9 240.2h.01M585.9 241.0h.01M588.5 247.9h.01M593.8 245.0h.01M613.8 222.5h.01M576.3 255.4h.01M577.1 257.8h.01M587.4 248.1h.01M583.6 246.5h.01M613.6 223.0h.01M588.7 245.2h.01M582.6 248.6h.01M575.2 256.1h.01M591.5 239.3h.01M570.6 257.9h.01M597.9 238.6h.01M591.3 239.6h.01M593.0 240.3h.01M601.2 235.1h.01M579.2 253.4h.01M592.0 245.1h.01M616.4 218.1h.01M581.3 248.9h.01M582.0 249.2h.01M615.0 223.5h.01M587.4 247.6h.01M589.9 242.1h.01M588.7 246.4h.01M605.5 227.9h.01M590.3 244.3h.01M593.8 239.3h.01M581.5 245.5h.01M577.4 252.0h.01M581.6 252.1h.01M583.2 247.7h.01M580.5 252.0h.01M577.6 260.1h.01M574.4 254.5h.01M586.6 246.2h.01M591.0 236.6h.01M584.7 243.9h.01M607.3 224.1h.01M587.1 247.9h.01M586.4 247.1h.01M588.3 246.2h.01M603.8 231.8h.01M606.0 229.8h.01M600.9 230.8h.01M612.9 225.0h.01M600.4 239.3h.01M578.5 249.7h.01M566.8 268.1h.01M598.8 241.9h.01M589.7 245.0h.01M588.4 245.7h.01M591.3 240.6h.01M580.1 250.6h.01M579.9 257.2h.01M580.0 251.1h.01M585.9 245.1h.01M612.2 225.3h.01M602.2 229.5h.01M576.5 247.0h.01M605.5 228.7h.01M598.3 239.7h.01M576.0 258.1h.01M585.6 248.3h.01M591.0 244.2h.01M583.0 244.3h.01M579.2 252.0h.01M583.9 245.0h.01M581.3 251.0h.01M604.9 230.6h.01M581.4 251.3h.01M578.3 254.8h.01M575.6 258.7h.01M582.9 253.8h.01M583.9 247.0h.01M589.3 243.0h.01M589.3 250.3h.01M597.6 238.6h.01M571.6 264.4h.01M598.2 236.0h.01M573.8 251.7h.01M579.3 252.3h.01M591.1 243.5h.01M592.1 241.9h.01M582.9 245.0h.01M623.4 216.5h.01M604.0 231.2h.01M578.4 259.4h.01M577.1 249.3h.01M600.1 239.0h.01M584.4 248.6h.01M599.7 235.7h.01M589.6 246.4h.01M600.5 233.0h.01M589.8 245.1h.01M603.4 232.9h.01M584.2 249.1h.01M578.8 252.6h.01M605.9 230.2h.01M593.5 242.0h.01M585.5 243.8h.01M581.9 254.0h.01M583.4 244.3h.01M611.5 224.0h.01M579.2 260.7h.01M597.8 237.0h.01M599.7 237.0h.01M583.1 252.1h.01M580.4 249.2h.01M574.2 257.5h.01M623.4 213.0h.01M582.4 252.5h.01M618.6 218.7h.01M592.4 240.4h.01M586.5 250.0h.01M585.3 251.1h.01M602.0 232.3h.01M579.2 252.5h.01M576.5 252.5h.01M589.9 244.5h.01M584.4 242.0h.01M584.9 249.8h.01M606.7 231.2h.01M566.7 258.7h.01M579.9 247.9h.01M568.7 256.7h.01M595.4 238.0h.01M593.8 241.3h.01M619.5 218.5h.01M605.7 229.3h.01M586.2 241.9h.01M580.7 248.5h.01M600.4 233.9h.01M591.7 242.6h.01M591.3 237.2h.01M603.1 228.6h.01M590.8 245.7h.01M587.0 252.8h.01M601.2 233.9h.01M577.8 249.6h.01M595.1 239.1h.01M593.6 242.2h.01M584.8 247.8h.01M594.3 236.9h.01M580.9 248.5h.01M590.9 241.5h.01M594.5 237.9h.01M575.6 255.3h.01M579.9 248.1h.01M585.9 245.8h.01M576.5 254.0h.01M583.4 247.9h.01M585.4 246.0h.01M592.3 241.7h.01M596.7 237.5h.01M585.3 246.4h.01M581.4 249.2h.01M573.6 253.8h.01M580.2 247.9h.01M586.8 246.0h.01M598.8 236.6h.01M573.8 259.3h.01M598.3 236.7h.01M579.1 252.3h.01M599.3 236.6h.01M589.8 243.7h.01M593.7 238.1h.01M584.4 245.8h.01M582.4 243.0h.01M609.6 227.0h.01M609.8 224.4h.01M607.8 231.0h.01M586.3 244.6h.01M578.2 249.3h.01M599.1 240.7h.01M590.6 242.0h.01M576.0 256.3h.01M607.1 229.0h.01M600.4 233.7h.01M566.6 263.8h.01M614.0 219.3h.01M646.7 198.5h.01M584.4 251.1h.01M601.3 238.4h.01M577.7 251.8h.01M576.6 255.0h.01M582.2 249.1h.01M584.4 245.6h.01M628.6 210.9h.01M612.5 226.5h.01M587.2 242.4h.01M581.1 249.3h.01M597.3 243.2h.01M584.1 242.8h.01M584.9 248.1h.01M589.4 236.3h.01M584.2 252.9h.01M614.6 226.8h.01M585.6 246.0h.01M580.5 246.5h.01M577.3 256.3h.01M609.2 225.6h.01M565.3 266.5h.01M574.8 251.5h.01M572.1 256.5h.01M588.1 241.4h.01M581.6 251.1h.01M576.5 250.1h.01M584.6 248.7h.01M581.1 246.2h.01M583.2 247.7h.01M605.9 227.2h.01M589.1 242.5h.01M587.6 249.6h.01M631.7 207.9h.01M592.1 243.2h.01M589.3 241.8h.01M574.4 254.2h.01M589.0 245.3h.01M578.4 246.4h.01M589.1 242.8h.01M583.8 252.1h.01M621.1 217.6h.01M604.9 225.1h.01M613.3 221.5h.01M585.7 252.0h.01M588.3 244.6h.01M631.8 209.7h.01M618.6 221.3h.01M583.1 251.1h.01M576.9 260.3h.01M583.6 247.5h.01M592.4 238.9h.01M594.4 236.6h.01M599.2 232.9h.01M575.7 265.6h.01M607.6 228.0h.01M574.9 255.6h.01M582.6 247.3h.01M602.2 231.9h.01M608.6 227.4h.01M618.5 217.0h.01M587.1 246.8h.01M575.8 253.2h.01M584.1 251.3h.01M587.1 247.3h.01M577.3 255.5h.01M572.9 261.1h.01M574.8 259.0h.01M585.6 243.3h.01M581.1 251.7h.01M576.8 248.0h.01M616.1 220.5h.01M608.3 227.2h.01M565.2 268.4h.01M584.8 246.7h.01M599.2 232.7h.01M596.3 235.7h.01M577.2 250.7h.01M570.8 254.5h.01M578.4 256.8h.01M593.4 240.0h.01M601.2 230.7h.01M584.9 248.1h.01M581.8 250.5h.01M595.4 242.2h.01M569.6 254.3h.01M574.5 252.0h.01M585.0 247.5h.01M585.6 248.7h.01M580.2 249.9h.01M579.9 250.0h.01M598.7 236.5h.01M603.0 231.2h.01M579.5 248.6h.01M574.8 257.8h.01M605.5 228.2h.01M589.3 241.2h.01M587.0 246.5h.01M583.8 248.5h.01M587.7 249.1h.01M583.7 250.6h.01M572.0 263.2h.01M574.0 254.9h.01M610.7 225.7h.01M610.9 224.5h.01M593.4 236.8h.01M608.0 228.1h.01M582.6 254.3h.01M602.3 234.5h.01M595.4 238.2h.01M581.6 252.3h.01M571.8 253.8h.01M584.2 252.6h.01M599.2 235.9h.01M577.4 256.9h.01M610.6 222.7h.01M580.1 251.7h.01M598.8 231.3h.01M591.4 237.9h.01M579.7 249.6h.01M578.7 251.6h.01M578.5 246.3h.01M585.1 253.1h.01M593.1 241.6h.01M593.3 243.0h.01M579.8 253.6h.01M591.3 241.7h.01M594.4 238.0h.01M585.7 250.8h.01M577.1 256.1h.01M609.2 227.7h.01M596.8 238.1h.01M586.9 250.1h.01M586.3 245.8h.01M604.1 231.9h.01M592.9 246.0h.01M598.3 231.0h.01M629.2 209.6h.01M590.5 247.2h.01M602.5 235.2h.01M580.9 246.5h.01M602.9 232.1h.01M572.3 262.6h.01M589.2 242.1h.01M577.1 258.6h.01M616.1 222.5h.01M604.8 228.5h.01M603.6 234.1h.01M608.8 231.5h.01M587.5 246.6h.01M581.3 251.7h.01M593.1 239.4h.01M599.7 237.0h.01M577.7 255.7h.01M603.0 231.7h.01M592.7 240.0h.01M569.3 262.2h.01M597.5 233.6h.01M640.6 203.2h.01M580.9 255.5h.01M593.5 241.2h.01M575.5 259.4h.01M585.9 243.6h.01M588.8 248.9h.01M581.3 251.9h.01M591.3 243.1h.01M612.5 226.2h.01M615.2 220.8h.01M580.8 247.9h.01M587.3 249.6h.01M575.7 260.0h.01M603.1 231.6h.01M587.4 251.1h.01M624.8 211.7h.01M616.1 220.7h.01M594.6 236.6h.01M583.8 246.5h.01M599.1 235.6h.01M587.1 240.3h.01M597.6 235.1h.01M585.4 247.4h.01M601.4 231.2h.01M597.6 239.0h.01M580.8 254.0h.01M585.9 249.5h.01M572.0 257.9h.01M578.1 254.4h.01M574.9 262.8h.01M586.3 241.7h.01M613.9 224.3h.01M575.9 257.9h.01M583.6 249.2h.01M572.6 256.5h.01M599.7 238.5h.01M587.1 246.4h.01M603.2 232.9h.01M588.2 247.1h.01M582.5 255.5h.01M575.4 255.5h.01M596.5 236.7h.01M605.5 227.9h.01M579.6 244.6h.01M597.3 239.7h.01M576.0 254.3h.01M599.1 235.5h.01M587.9 251.1h.01M589.6 241.1h.01M605.9 230.8h.01M569.5 257.9h.01M576.2 253.2h.01M589.5 239.4h.01M585.6 246.7h.01M582.7 246.1h.01M575.9 254.3h.01M588.0 243.3h.01M592.9 239.8h.01M598.4 231.5h.01M607.8 228.9h.01M592.1 239.2h.01M611.8 229.3h.01M601.2 242.9h.01M579.4 260.2h.01M583.5 248.5h.01M591.7 246.4h.01M599.0 235.9h.01M584.8 249.1h.01M605.3 229.3h.01M582.8 252.1h.01M605.5 232.4h.01M577.2 249.1h.01M606.8 225.5h.01M583.5 250.8h.01M609.4 228.8h.01M583.7 247.5h.01M580.1 244.8h.01M610.2 226.7h.01M589.4 238.9h.01M587.4 248.9h.01M597.6 237.9h.01M568.7 257.5h.01M582.2 254.6h.01M610.5 224.5h.01M591.6 244.8h.01M589.6 243.6h.01M578.8 253.2h.01M598.1 239.8h.01M585.5 249.8h.01M597.0 233.6h.01M588.1 244.9h.01M591.9 238.6h.01M567.3 262.7h.01M567.8 261.1h.01M588.1 243.9h.01M595.8 236.7h.01M576.3 254.0h.01M584.3 247.4h.01M573.8 256.5h.01M586.6 252.3h.01M577.2 254.0h.01M591.6 243.8h.01M582.5 253.1h.01M609.5 225.3h.01M594.4 241.6h.01M590.5 242.6h.01M613.5 221.7h.01M593.2 239.2h.01M596.5 235.2h.01M581.1 252.1h.01M582.2 254.8h.01M587.4 254.7h.01M590.7 236.7h.01M577.9 248.6h.01M587.8 247.1h.01M607.3 230.6h.01M599.4 234.0h.01M580.0 251.2h.01M573.0 251.2h.01M583.0 245.6h.01M601.3 232.2h.01M615.5 220.5h.01M582.4 244.9h.01M581.1 253.2h.01M582.4 254.6h.01M594.3 238.3h.01M579.8 252.3h.01M586.3 248.8h.01M597.8 234.5h.01M589.2 242.3h.01M584.8 243.6h.01M602.6 231.6h.01M586.4 247.7h.01M592.0 236.7h.01M606.9 229.3h.01M582.7 246.6h.01M599.9 236.7h.01M577.4 251.9h.01M586.6 246.2h.01M578.8 253.8h.01M610.7 223.4h.01M600.2 232.8h.01M583.1 244.3h.01M598.5 234.4h.01M582.0 246.5h.01M581.6 252.0h.01M600.3 235.8h.01M565.4 260.5h.01M605.0 235.4h.01M591.0 237.7h.01M577.4 254.8h.01M572.5 254.9h.01M588.7 244.3h.01M608.9 224.7h.01M596.4 236.3h.01M583.9 255.2h.01M596.6 235.5h.01M581.5 252.1h.01M593.3 242.1h.01M585.9 249.0h.01M573.1 254.1h.01M579.7 251.7h.01M591.2 246.0h.01M597.0 240.1h.01M602.9 235.9h.01M586.4 245.0h.01M596.1 240.4h.01M599.3 241.6h.01M585.3 247.6h.01M581.5 255.0h.01M599.3 234.2h.01M595.5 237.8h.01M590.2 248.5h.01M578.8 250.9h.01M601.9 235.7h.01M594.3 246.4h.01M610.7 225.2h.01M583.4 248.0h.01M602.4 234.4h.01M579.1 256.7h.01M603.5 230.8h.01M576.4 245.4h.01M588.4 245.7h.01M608.5 230.5h.01M573.1 255.6h.01M595.4 238.6h.01M577.3 251.9h.01M577.4 255.1h.01M571.5 257.1h.01M570.5 259.4h.01M579.0 259.6h.01M573.8 254.5h.01M573.4 257.4h.01M575.0 258.1h.01M587.9 244.8h.01M579.8 252.8h.01M592.3 241.9h.01M586.4 245.6h.01M584.9 246.8h.01M597.4 239.9h.01M582.0 245.0h.01M578.7 255.1h.01M584.7 247.1h.01M579.4 254.7h.01M607.1 229.0h.01M573.3 257.6h.01M610.1 229.4h.01M580.8 248.7h.01M618.1 220.1h.01M564.6 254.5h.01M599.4 235.1h.01M578.2 250.6h.01M588.9 241.1h.01M584.1 248.1h.01M591.7 241.5h.01M571.9 260.2h.01M591.0 245.1h.01M584.3 247.1h.01M561.3 267.9h.01M588.0 250.6h.01M577.8 253.6h.01M562.4 267.5h.01M603.0 234.9h.01M584.8 249.3h.01M583.0 256.4h.01M578.2 254.5h.01M591.3 242.1h.01M567.9 257.9h.01M601.4 233.6h.01M584.6 253.4h.01M584.3 248.6h.01M610.0 230.1h.01M569.0 258.4h.01M590.3 240.7h.01M580.5 253.6h.01M580.5 251.9h.01M583.5 251.0h.01M581.5 255.1h.01M584.2 248.6h.01M568.3 256.3h.01M614.6 221.1h.01M593.5 239.1h.01M591.4 239.6h.01M585.6 250.5h.01M609.9 224.9h.01M582.8 246.8h.01M584.5 245.9h.01M573.0 260.2h.01M608.8 227.1h.01M577.6 252.7h.01M605.4 232.7h.01M584.5 247.4h.01M584.1 251.0h.01M609.5 224.4h.01M586.6 249.2h.01M585.1 249.0h.01M588.7 247.2h.01M598.4 240.2h.01M615.1 223.3h.01M585.4 244.9h.01M581.5 254.7h.01M595.0 238.8h.01M587.1 243.2h.01M588.1 240.0h.01M584.2 250.0h.01M581.9 255.0h.01M582.1 248.5h.01M588.4 248.1h.01M608.6 227.8h.01M591.4 241.3h.01M612.5 225.7h.01M579.2 245.8h.01M565.3 265.9h.01M594.1 237.9h.01M585.7 248.0h.01M574.3 256.0h.01M575.7 253.9h.01M616.7 218.6h.01M586.8 247.0h.01M619.5 221.4h.01M591.3 251.1h.01M586.3 246.4h.01M581.3 251.1h.01M584.6 251.0h.01M588.0 245.6h.01M626.8 213.2h.01M579.8 254.8h.01M603.2 233.9h.01M590.0 237.0h.01M592.2 250.6h.01M585.1 244.8h.01M596.5 239.4h.01M589.7 245.4h.01M570.7 254.7h.01M572.2 259.1h.01M619.8 214.3h.01M574.4 256.0h.01M575.1 248.8h.01M576.0 250.4h.01M571.3 256.4h.01M590.2 241.9h.01M601.5 232.5h.01M574.6 251.2h.01M609.1 228.4h.01M579.3 248.6h.01M573.5 256.7h.01M578.1 255.4h.01M601.0 230.3h.01M568.7 254.1h.01M577.2 249.2h.01M576.2 252.4h.01M585.3 241.0h.01M584.3 248.2h.01M581.9 252.3h.01M599.7 231.4h.01M577.8 247.8h.01M576.8 253.9h.01M603.9 232.1h.01M587.7 243.5h.01M579.7 251.9h.01M589.5 246.3h.01M590.3 248.5h.01M590.9 250.0h.01M632.1 208.7h.01M600.9 229.2h.01M587.0 246.1h.01M587.7 241.4h.01M606.1 234.3h.01M586.2 248.6h.01M590.9 237.9h.01M595.3 241.0h.01M575.0 253.2h.01M591.7 240.4h.01M599.9 234.1h.01M602.2 236.6h.01M576.5 252.6h.01M573.4 255.8h.01M578.6 251.2h.01M585.0 249.4h.01M599.7 236.6h.01M613.4 225.6h.01M609.3 227.9h.01M569.8 260.2h.01M580.8 248.0h.01M594.4 243.9h.01M596.6 239.2h.01M609.0 224.1h.01M621.8 214.9h.01M583.1 248.8h.01M580.1 245.0h.01M602.9 233.8h.01M591.9 239.9h.01M586.6 249.0h.01M589.9 242.9h.01M596.4 240.0h.01M577.4 255.2h.01M591.4 241.9h.01M585.6 251.2h.01M599.7 236.1h.01M632.2 206.6h.01M564.3 260.9h.01M589.2 250.2h.01M581.9 237.7h.01M597.3 245.8h.01M612.8 222.3h.01M577.4 251.8h.01M608.9 220.8h.01M607.9 238.9h.01M585.6 258.3h.01M591.7 251.1h.01M597.1 237.9h.01M581.6 251.3h.01M589.3 245.7h.01M587.9 250.2h.01M587.9 243.9h.01M586.1 248.8h.01M612.3 228.0h.01M585.1 241.0h.01M587.2 247.0h.01M582.5 253.2h.01M581.6 243.1h.01M581.0 255.4h.01M606.2 231.8h.01M624.7 218.1h.01M615.6 227.0h.01M574.8 253.6h.01M594.0 247.5h.01M582.6 254.2h.01M583.5 246.5h.01M604.4 239.1h.01M622.9 224.9h.01M583.2 249.3h.01M602.8 229.7h.01M603.7 237.8h.01M592.0 238.9h.01M580.3 249.4h.01M605.7 234.0h.01M581.9 255.4h.01M609.4 219.5h.01M571.9 259.4h.01M592.3 237.9h.01M586.4 245.3h.01M591.4 248.2h.01M584.0 248.6h.01M607.6 228.1h.01M591.4 238.3h.01M602.6 228.1h.01M584.6 243.2h.01M578.6 260.8h.01M597.9 241.8h.01M580.2 256.8h.01M600.9 237.5h.01M592.2 253.6h.01M593.7 231.0h.01M604.5 221.5h.01M601.9 231.2h.01M597.4 242.7h.01M581.7 254.3h.01M605.3 232.6h.01M593.9 241.3h.01M584.3 252.0h.01M588.7 256.3h.01M571.4 257.8h.01M602.2 239.0h.01M581.6 251.2h.01M582.2 255.7h.01M591.3 228.3h.01M576.3 243.2h.01M579.1 253.3h.01M598.4 238.2h.01M601.1 226.9h.01M587.1 245.9h.01M583.2 249.2h.01M599.1 244.2h.01M568.5 258.4h.01M567.3 263.9h.01M603.6 226.4h.01M604.9 236.4h.01M602.3 235.5h.01M588.3 240.9h.01M607.9 224.0h.01M579.6 251.5h.01M582.6 261.1h.01M584.8 242.4h.01M583.7 255.4h.01M586.6 248.7h.01M574.5 268.4h.01M600.3 232.2h.01M578.6 245.8h.01M614.5 234.0h.01M586.3 247.4h.01M580.3 251.6h.01M556.0 255.8h.01M594.8 249.6h.01M593.1 235.2h.01M571.2 262.8h.01M576.2 255.1h.01M583.0 249.0h.01M605.3 221.1h.01M583.8 255.5h.01M598.2 243.9h.01M594.9 243.5h.01M577.0 266.5h.01M584.3 246.1h.01M572.8 256.6h.01M575.2 268.3h.01M603.0 231.7h.01M568.7 250.2h.01M612.9 218.9h.01M579.1 267.9h.01M582.7 246.6h.01M576.7 254.1h.01M570.7 253.3h.01M613.4 229.3h.01M595.4 239.3h.01M586.6 240.1h.01M577.8 250.6h.01M581.7 248.0h.01M598.5 238.3h.01M595.2 240.8h.01M592.6 243.8h.01M570.3 256.6h.01M598.0 246.4h.01M583.9 249.0h.01M598.5 244.2h.01M579.4 240.4h.01M605.5 233.6h.01M586.3 241.5h.01M586.8 250.7h.01M593.9 250.0h.01M596.6 241.4h.01M600.8 244.5h.01M620.4 223.8h.01M561.9 259.3h.01M576.1 254.0h.01M569.0 258.6h.01M591.3 245.5h.01M584.3 252.7h.01M634.7 205.4h.01M574.6 256.1h.01M596.0 242.2h.01M589.2 251.4h.01M586.9 242.2h.01M585.5 249.5h.01M587.5 239.5h.01M584.6 245.7h.01M581.5 256.1h.01M584.8 247.4h.01M578.9 247.8h.01M587.1 252.1h.01M594.7 240.2h.01M587.9 237.5h.01M584.2 250.2h.01M585.2 262.5h.01M595.4 239.6h.01M567.5 248.4h.01M622.5 228.0h.01M582.4 249.2h.01M588.1 253.9h.01M598.3 240.9h.01M591.6 239.9h.01M586.7 234.4h.01M592.3 241.7h.01M587.3 252.2h.01M585.9 248.6h.01M582.3 250.9h.01M602.2 228.5h.01M586.3 255.3h.01M607.0 241.7h.01M577.8 255.9h.01M580.1 252.9h.01M592.6 256.4h.01M592.7 235.5h.01M610.5 228.9h.01M590.0 243.8h.01M583.2 264.6h.01M599.3 234.7h.01M601.8 235.2h.01M586.6 250.9h.01M573.5 257.8h.01M587.7 237.1h.01M584.3 247.3h.01M583.2 255.3h.01M586.8 246.9h.01M573.9 255.1h.01M568.0 256.9h.01M587.7 245.2h.01M597.5 236.0h.01M589.3 251.7h.01M597.5 235.5h.01M593.1 246.9h.01M602.0 234.8h.01M582.9 260.7h.01M588.8 243.5h.01M570.0 260.4h.01M597.3 239.5h.01M578.7 251.5h.01M598.0 232.7h.01M601.5 230.6h.01M586.1 247.1h.01M578.2 252.4h.01M581.6 254.5h.01M586.6 242.6h.01M575.8 261.6h.01M578.4 254.4h.01M585.4 248.1h.01M586.3 247.6h.01M583.7 246.3h.01M605.3 236.6h.01M570.9 252.2h.01M588.9 242.8h.01M593.2 249.1h.01M601.0 232.3h.01M580.7 248.2h.01M586.7 246.4h.01M586.4 255.2h.01M584.4 243.2h.01M599.6 243.5h.01M607.0 229.7h.01M570.0 255.2h.01M582.3 240.3h.01M577.6 249.5h.01M604.9 225.8h.01M581.9 250.6h.01M598.8 241.8h.01M620.0 218.6h.01M577.3 249.0h.01M587.0 250.0h.01M610.4 231.3h.01M585.8 249.3h.01M578.7 250.3h.01M590.5 234.0h.01M590.4 244.4h.01M582.3 251.4h.01M570.3 264.7h.01M586.8 250.4h.01M584.4 246.6h.01M616.9 220.0h.01M593.0 235.6h.01M588.8 255.9h.01M606.9 236.1h.01M590.5 245.1h.01M627.8 207.5h.01M603.4 232.8h.01M585.0 257.3h.01M585.7 258.8h.01M595.4 238.3h.01M602.0 235.6h.01M579.3 261.0h.01M578.6 255.2h.01M589.0 245.5h.01M589.9 245.2h.01M621.7 217.7h.01M574.3 244.8h.01M602.0 246.1h.01M601.6 240.4h.01M603.9 230.1h.01M607.7 231.5h.01M580.3 257.1h.01M594.9 244.8h.01M585.6 246.2h.01M629.8 215.8h.01M583.1 253.8h.01M581.9 257.4h.01M609.4 229.7h.01M606.5 230.4h.01M620.3 213.3h.01M581.6 254.7h.01M607.5 231.2h.01M613.6 212.4h.01M584.5 247.8h.01M584.8 246.9h.01M578.2 259.8h.01M574.2 252.9h.01M578.0 258.0h.01M581.5 240.0h.01M597.6 243.0h.01M586.4 246.8h.01M583.7 253.8h.01M599.9 234.1h.01M571.5 263.7h.01M604.8 238.0h.01M595.9 240.3h.01M592.6 240.3h.01M599.6 237.9h.01M593.2 240.3h.01M594.0 237.3h.01M593.5 245.7h.01M583.3 242.6h.01M583.5 252.1h.01M607.2 230.2h.01M590.4 242.0h.01M591.4 249.8h.01M585.2 247.4h.01M610.3 233.6h.01M556.2 271.3h.01M594.9 245.8h.01M581.2 259.1h.01M600.7 242.8h.01M593.8 246.5h.01M579.8 260.2h.01M585.7 240.8h.01M588.6 249.7h.01M576.5 263.2h.01M618.2 216.4h.01M588.6 241.2h.01M606.8 231.3h.01M582.0 251.4h.01M588.4 238.7h.01M604.8 240.0h.01M571.2 255.4h.01M597.8 249.9h.01M585.4 244.1h.01M581.2 250.1h.01M575.8 260.1h.01M596.0 232.3h.01M585.5 251.6h.01M575.1 251.1h.01M579.7 243.5h.01M577.3 242.7h.01M581.9 249.9h.01M586.7 250.6h.01M584.2 240.8h.01M611.1 227.3h.01M579.5 251.8h.01M588.9 241.5h.01M585.5 244.3h.01M578.8 250.5h.01M588.0 255.8h.01M565.1 269.1h.01M603.8 238.1h.01M591.8 254.6h.01M584.7 243.6h.01M589.5 249.0h.01M608.4 233.3h.01M598.6 236.1h.01M579.1 252.9h.01M576.8 247.7h.01M600.5 230.6h.01M589.3 245.0h.01M587.8 244.4h.01M584.3 250.1h.01M581.6 247.5h.01M573.5 266.8h.01M579.9 255.7h.01M588.0 248.5h.01M610.1 233.9h.01M586.1 248.1h.01M593.4 239.5h.01M593.3 248.2h.01M598.3 230.9h.01M593.5 246.4h.01M584.6 252.1h.01M587.3 242.7h.01M584.5 249.6h.01M588.9 250.2h.01M578.1 243.1h.01M580.1 246.3h.01M583.8 241.8h.01M609.0 230.1h.01M597.7 239.6h.01M580.6 244.9h.01M595.9 239.9h.01M613.4 226.8h.01M596.3 239.3h.01M571.2 252.5h.01M581.0 244.7h.01M587.3 244.3h.01M606.2 227.8h.01M590.8 233.9h.01M578.3 262.8h.01M607.4 240.2h.01M606.6 232.7h.01M604.2 233.8h.01M607.9 226.0h.01M598.8 247.8h.01M579.4 250.7h.01M596.1 241.7h.01M580.2 254.6h.01M589.6 249.3h.01M592.3 252.0h.01M589.5 258.0h.01M578.9 256.0h.01M585.3 259.8h.01M595.1 244.6h.01M575.3 257.1h.01M591.2 252.9h.01M581.9 258.6h.01M598.9 243.1h.01M592.9 237.0h.01M589.3 239.4h.01M587.1 256.3h.01M593.3 231.0h.01M610.2 231.0h.01M598.8 228.5h.01M573.9 265.3h.01M601.3 240.7h.01M581.9 262.0h.01M573.6 253.6h.01M585.2 246.7h.01M595.3 245.5h.01M580.7 252.6h.01M581.9 254.0h.01M571.6 260.7h.01M600.8 242.8h.01M583.0 254.9h.01M597.8 238.7h.01M599.8 224.7h.01M608.3 236.3h.01M590.5 247.9h.01M583.8 259.5h.01M586.4 251.1h.01M572.1 252.5h.01M608.0 226.2h.01M569.1 257.7h.01M581.3 240.5h.01M585.2 247.3h.01M592.3 223.7h.01M588.7 243.7h.01M611.3 230.7h.01M597.8 229.0h.01M603.1 237.7h.01M614.0 227.1h.01M578.3 250.4h.01M576.5 254.1h.01M600.9 236.7h.01M581.5 246.7h.01M613.8 222.2h.01M587.9 250.3h.01M592.5 233.7h.01M600.6 237.5h.01M588.3 242.7h.01M575.9 258.7h.01M587.4 254.4h.01M584.3 238.2h.01M615.1 227.6h.01M568.3 252.5h.01M576.5 261.3h.01M565.5 267.9h.01M600.4 238.9h.01M567.9 257.5h.01M571.4 262.9h.01M588.1 232.4h.01M570.1 262.3h.01M587.5 244.9h.01M594.8 233.5h.01M593.5 239.9h.01M586.1 246.5h.01M609.0 226.9h.01M614.3 226.5h.01M617.5 212.3h.01M580.0 252.7h.01M591.4 255.1h.01M602.8 237.8h.01M609.3 226.5h.01M606.5 237.6h.01M569.0 258.1h.01M600.5 248.5h.01M586.0 246.0h.01M613.2 220.0h.01M591.8 244.4h.01M612.5 227.8h.01M592.0 248.1h.01M582.5 247.4h.01M578.6 255.3h.01M620.7 218.3h.01M586.1 260.5h.01M587.4 252.4h.01M611.1 228.9h.01M586.3 251.4h.01M592.2 240.1h.01M585.2 252.3h.01M594.8 234.6h.01M603.6 235.1h.01M587.1 247.3h.01M615.1 222.8h.01M599.6 239.1h.01M586.4 245.0h.01M592.0 234.9h.01M588.6 259.6h.01M597.3 239.4h.01M603.8 234.8h.01M594.1 244.5h.01M597.5 240.5h.01M592.3 240.9h.01M595.5 243.0h.01M599.1 236.8h.01M591.7 243.9h.01M589.9 246.9h.01M587.1 247.4h.01M604.2 238.0h.01M599.1 231.8h.01M596.4 244.1h.01M605.6 237.8h.01M580.3 249.1h.01M583.5 249.6h.01M598.0 231.9h.01M619.9 211.8h.01M587.3 246.3h.01M572.9 260.5h.01M592.2 251.8h.01M606.5 229.6h.01M580.3 257.0h.01M584.9 254.1h.01M581.1 250.7h.01M585.9 243.7h.01M572.8 253.5h.01M583.6 259.2h.01M598.2 235.3h.01M579.2 250.0h.01M608.0 220.0h.01M574.3 261.4h.01M583.1 245.9h.01M594.6 246.7h.01M597.4 250.1h.01M595.7 245.3h.01M600.3 241.8h.01M574.9 246.3h.01M579.6 249.1h.01M576.6 243.0h.01M591.3 237.2h.01M587.0 254.6h.01M587.8 248.9h.01M582.5 250.9h.01M571.6 260.2h.01M572.4 248.7h.01M591.1 255.2h.01M588.2 243.9h.01M567.7 266.0h.01M584.4 250.1h.01M569.3 262.1h.01M607.8 237.7h.01M588.1 255.3h.01M596.4 238.1h.01M599.6 235.6h.01M600.1 233.8h.01M558.9 267.9h.01M580.9 246.5h.01M604.5 232.5h.01M593.1 249.3h.01M581.6 248.6h.01M577.9 260.5h.01M574.8 257.1h.01M584.5 243.5h.01M609.5 229.4h.01M578.6 245.6h.01M603.8 241.3h.01M608.4 222.0h.01M591.9 241.8h.01M591.8 228.1h.01M582.3 262.1h.01M602.2 228.1h.01M570.5 259.1h.01M621.0 228.6h.01M588.5 247.5h.01M579.6 255.2h.01M587.9 238.0h.01M604.7 236.5h.01M576.7 249.8h.01M595.9 247.3h.01M601.5 238.7h.01M616.0 216.1h.01M587.8 250.8h.01M597.7 241.2h.01M576.8 253.0h.01M587.5 247.2h.01M576.8 253.4h.01M594.4 245.8h.01M588.8 247.7h.01M591.3 252.3h.01M588.2 259.0h.01M571.2 266.7h.01M607.0 243.3h.01M591.7 246.4h.01M592.6 246.9h.01M596.7 233.1h.01M582.5 252.6h.01M614.0 230.1h.01M590.2 247.5h.01M571.8 255.6h.01M590.1 251.1h.01M586.6 245.6h.01M581.5 248.1h.01M579.9 257.2h.01M568.7 266.3h.01M588.9 245.9h.01M606.7 235.7h.01M591.5 249.6h.01M573.7 257.6h.01M587.5 249.2h.01M572.3 253.2h.01M582.2 254.7h.01M582.0 248.6h.01M581.3 250.7h.01M595.5 231.5h.01M618.3 228.8h.01M588.9 247.6h.01M583.4 258.5h.01M618.0 229.0h.01M578.8 258.1h.01M579.3 256.7h.01M578.0 252.4h.01M589.4 249.8h.01M592.1 247.5h.01M588.6 240.5h.01M593.3 232.2h.01M568.3 271.6h.01M600.2 241.1h.01M585.6 249.5h.01M641.3 205.5h.01M584.7 266.1h.01M574.0 242.0h.01M579.6 257.9h.01M600.5 235.9h.01M603.4 237.9h.01M598.0 235.2h.01M578.2 260.9h.01M576.3 253.6h.01M582.0 256.3h.01M594.6 243.5h.01M583.5 246.9h.01M630.9 215.3h.01M608.7 232.8h.01M586.0 245.9h.01M613.8 220.6h.01M579.2 246.9h.01M585.6 248.4h.01M570.3 254.6h.01M576.9 248.1h.01M578.1 253.9h.01M587.1 251.6h.01M585.7 239.6h.01M604.3 229.6h.01M607.1 234.4h.01M587.9 244.9h.01M603.3 237.8h.01M599.0 245.8h.01M604.3 226.1h.01M565.5 257.0h.01M614.8 228.9h.01M600.5 233.4h.01M590.0 250.5h.01M580.1 244.8h.01M583.5 250.5h.01M613.5 226.5h.01M583.6 245.7h.01M600.0 230.5h.01M578.1 249.6h.01M572.0 260.9h.01M589.6 254.7h.01M578.6 252.4h.01M592.1 239.2h.01M587.0 243.4h.01M577.2 259.7h.01M596.0 231.5h.01M596.8 232.3h.01M593.4 245.8h.01M596.1 238.3h.01M581.8 242.7h.01M603.1 227.1h.01M595.1 239.5h.01M620.3 216.4h.01M580.9 250.5h.01M585.1 247.8h.01M611.0 228.0h.01M586.5 254.5h.01M616.5 222.3h.01M616.5 222.5h.01M579.9 249.4h.01M606.6 229.5h.01M605.9 228.9h.01M602.4 238.8h.01M595.4 237.9h.01M590.2 246.2h.01M573.3 264.7h.01M575.9 257.6h.01M602.1 239.4h.01M610.3 215.5h.01M583.4 242.2h.01M579.2 254.1h.01M592.9 241.9h.01M580.9 251.7h.01M583.1 253.1h.01M592.8 234.8h.01M598.1 236.8h.01M596.2 228.7h.01M577.4 254.6h.01M578.9 243.6h.01M580.8 255.9h.01M585.1 253.4h.01M579.3 249.8h.01M580.8 251.9h.01M604.6 238.0h.01M582.7 245.4h.01M583.5 242.4h.01M589.9 235.9h.01M581.5 258.9h.01M615.2 220.4h.01M594.7 238.3h.01M579.5 258.1h.01M580.7 250.5h.01M585.8 250.7h.01M627.0 215.4h.01M628.4 204.7h.01M607.2 230.0h.01M622.2 210.8h.01M639.0 202.9h.01M625.9 209.6h.01M623.2 218.2h.01M614.5 221.1h.01M618.5 207.0h.01M620.0 215.1h.01M625.6 211.0h.01M625.1 208.9h.01M628.6 210.6h.01M628.7 210.8h.01M627.4 211.1h.01M648.7 195.7h.01M641.2 201.2h.01M617.2 210.2h.01M617.2 226.1h.01M608.7 229.9h.01M641.3 200.6h.01M630.5 205.2h.01M629.0 209.8h.01M613.8 222.9h.01M624.8 214.1h.01M627.4 201.7h.01M621.4 217.7h.01M612.7 225.6h.01M626.6 209.9h.01M626.0 212.9h.01M625.9 217.5h.01M622.7 216.0h.01M604.6 226.5h.01M628.0 205.7h.01M633.6 207.7h.01M626.5 211.6h.01M624.0 222.1h.01M612.4 221.1h.01M623.1 212.0h.01M634.5 207.2h.01M626.7 209.3h.01M645.2 198.9h.01M635.1 204.1h.01M613.7 228.7h.01M626.6 209.7h.01M643.5 194.7h.01M615.6 213.6h.01M610.1 231.9h.01M623.5 215.0h.01M629.3 219.2h.01M642.1 198.5h.01M656.9 187.8h.01M640.1 201.9h.01M652.2 194.6h.01M650.1 195.5h.01M644.9 198.7h.01M633.8 202.9h.01M639.1 205.5h.01M636.9 199.2h.01M643.3 199.7h.01M647.7 191.3h.01M629.7 214.0h.01M642.3 201.2h.01M636.7 206.9h.01M651.2 193.4h.01M645.3 191.0h.01M630.1 205.8h.01M651.9 191.5h.01M649.8 195.7h.01M650.2 193.1h.01M649.1 195.9h.01M633.9 204.2h.01M649.9 194.1h.01M619.9 214.5h.01M646.5 192.4h.01M655.5 190.2h.01M637.0 198.5h.01M681.5 162.6h.01M648.5 197.6h.01M630.8 212.7h.01M646.0 196.3h.01M652.0 187.3h.01M642.8 202.1h.01M646.2 192.4h.01M652.9 189.9h.01M652.0 191.0h.01M633.5 203.5h.01M654.6 191.5h.01M639.4 204.9h.01M657.8 192.0h.01M643.1 198.8h.01M641.0 196.4h.01M655.3 183.7h.01M643.9 199.4h.01M659.3 183.0h.01M639.7 200.6h.01M651.6 192.0h.01M640.2 197.7h.01M652.8 192.8h.01M636.7 203.4h.01M585.6 242.5h.01M615.8 257.5h.01M606.5 251.9h.01M585.1 269.0h.01M575.6 265.0h.01M607.3 272.9h.01M547.4 251.5h.01M605.7 252.7h.01M596.6 260.1h.01M573.0 272.3h.01M619.1 263.7h.01M545.0 267.8h.01M616.4 226.4h.01M587.9 234.9h.01M609.6 263.1h.01M584.1 243.5h.01M553.7 265.3h.01M589.9 266.0h.01M611.7 250.3h.01M616.0 254.4h.01M594.6 229.3h.01M608.3 236.3h.01M592.9 275.9h.01M636.3 236.8h.01M617.1 268.8h.01M572.3 260.6h.01M564.6 257.6h.01M585.6 255.6h.01M602.8 259.5h.01M589.5 262.9h.01M573.9 246.3h.01M584.0 272.6h.01M576.9 262.7h.01M587.4 244.2h.01M623.1 259.6h.01M612.0 263.9h.01M592.4 223.0h.01M549.6 258.2h.01M607.6 269.0h.01M603.2 272.6h.01M597.8 254.7h.01M585.4 240.6h.01M592.0 247.7h.01M597.6 243.2h.01M564.1 247.5h.01M558.0 256.1h.01M589.2 235.2h.01M572.0 240.5h.01M618.9 257.9h.01M583.8 251.2h.01M590.8 272.1h.01M594.2 269.3h.01M573.7 239.8h.01M613.3 273.7h.01M602.9 258.4h.01M630.4 270.2h.01M601.4 261.2h.01M585.8 249.7h.01M619.5 261.6h.01M613.2 245.0h.01M615.2 244.0h.01M615.1 277.5h.01M587.4 279.6h.01M584.4 235.8h.01M604.1 251.3h.01M585.4 274.7h.01M592.3 248.1h.01M598.8 275.5h.01M596.0 253.5h.01M601.4 265.7h.01M574.6 273.2h.01M587.5 269.0h.01M589.7 257.6h.01M618.4 245.7h.01M568.7 262.6h.01M603.3 261.7h.01M579.3 229.1h.01M642.8 268.0h.01M638.7 249.5h.01M604.7 233.4h.01M623.4 259.7h.01M608.5 255.7h.01M578.7 252.7h.01M578.3 241.2h.01M605.8 275.2h.01M607.0 262.6h.01M597.3 230.4h.01M585.0 267.2h.01M590.3 237.5h.01M599.0 229.6h.01M610.3 258.3h.01M606.6 235.8h.01M567.2 270.7h.01M591.3 256.9h.01M608.6 271.7h.01M611.7 240.8h.01M598.8 257.7h.01M626.6 240.7h.01M594.2 264.7h.01M610.8 252.9h.01M609.1 238.4h.01M610.7 249.7h.01M571.9 272.9h.01M580.3 283.5h.01M608.4 255.4h.01M614.4 253.9h.01M558.3 262.2h.01M592.1 276.0h.01M644.0 257.2h.01M626.1 254.2h.01M591.4 256.0h.01M581.0 252.3h.01M579.0 243.3h.01M601.0 277.0h.01M617.5 280.3h.01M610.0 257.3h.01M607.1 256.5h.01M590.5 267.0h.01M606.9 246.5h.01M591.6 260.5h.01M572.0 257.5h.01M611.5 252.0h.01M576.6 243.0h.01M585.7 251.7h.01M588.4 244.4h.01M590.3 249.3h.01M621.2 250.0h.01M593.5 259.4h.01M598.2 258.6h.01M581.4 263.3h.01M592.5 268.4h.01M608.0 256.1h.01M621.7 268.4h.01M609.6 244.1h.01M636.0 261.2h.01M602.2 263.1h.01M640.6 237.3h.01M584.2 264.3h.01M594.8 264.8h.01M614.9 259.9h.01M644.8 236.1h.01M593.9 269.5h.01M607.4 271.5h.01M601.6 268.8h.01M596.0 242.8h.01M617.8 242.2h.01M622.1 279.3h.01M573.1 248.2h.01M580.3 263.7h.01M602.4 245.2h.01M585.2 256.0h.01M607.2 248.8h.01M620.1 233.9h.01M631.3 276.8h.01M576.5 286.9h.01M587.3 237.0h.01M596.2 264.3h.01M575.5 253.7h.01M545.8 251.7h.01M622.4 241.6h.01M586.2 253.7h.01M602.0 245.7h.01M576.1 257.4h.01M620.6 243.9h.01M606.1 247.2h.01M559.8 231.8h.01M602.0 264.0h.01M558.1 249.2h.01M612.7 263.8h.01M618.9 262.8h.01M604.6 252.3h.01M590.2 263.4h.01M631.9 249.4h.01M594.2 249.7h.01M585.6 258.7h.01M600.0 256.6h.01M566.2 253.7h.01M604.0 260.0h.01M613.0 269.4h.01M611.0 252.9h.01M604.9 256.3h.01M616.8 244.8h.01M599.6 234.9h.01M594.1 271.3h.01M586.7 247.1h.01M595.8 261.8h.01M581.5 257.0h.01M564.0 260.0h.01M618.2 250.2h.01M632.7 247.2h.01M584.3 254.9h.01M597.9 269.2h.01M577.0 255.7h.01M620.3 261.4h.01M571.9 270.2h.01M616.6 245.2h.01M583.1 274.0h.01M620.3 259.7h.01M580.7 235.9h.01M585.6 277.0h.01M586.9 268.2h.01M590.1 269.4h.01M578.4 260.9h.01M602.7 237.0h.01M597.0 260.6h.01M632.2 269.5h.01M585.7 242.6h.01M603.0 242.2h.01M590.3 251.9h.01M593.1 245.6h.01M625.0 236.2h.01M600.3 277.5h.01M579.6 252.1h.01M574.8 258.7h.01M606.1 275.5h.01M579.9 257.3h.01M590.0 242.8h.01M586.8 250.9h.01M606.3 266.0h.01M586.5 226.0h.01M615.7 251.1h.01M600.2 255.8h.01M580.4 260.9h.01M616.0 264.1h.01M604.1 228.4h.01M576.2 241.5h.01M633.2 243.7h.01M623.0 254.8h.01M591.4 271.4h.01M592.7 265.2h.01M617.0 232.7h.01M607.7 242.3h.01M592.9 248.2h.01M598.1 255.3h.01M621.9 248.6h.01M602.1 259.0h.01M585.6 238.2h.01M581.1 259.1h.01M565.2 264.9h.01M565.3 273.6h.01M628.6 273.3h.01M593.5 274.0h.01M590.4 272.6h.01M591.5 262.6h.01M583.4 266.1h.01M600.0 227.4h.01M585.3 259.9h.01M592.5 254.4h.01M598.8 242.7h.01M580.0 267.4h.01M584.0 267.2h.01M577.4 266.8h.01M643.3 263.6h.01M588.8 244.7h.01M604.3 231.4h.01M609.8 248.3h.01M580.0 254.3h.01M579.5 270.2h.01M583.7 228.2h.01M612.1 245.0h.01M597.7 266.6h.01M612.5 243.8h.01M600.2 266.4h.01M588.2 246.2h.01M570.1 245.5h.01M567.2 264.0h.01M631.9 253.6h.01M605.1 253.4h.01M595.9 254.0h.01M647.3 267.0h.01M585.0 242.6h.01M576.4 243.9h.01M595.9 267.1h.01M633.4 241.8h.01M597.5 265.9h.01M539.4 265.8h.01M597.3 232.5h.01M611.6 247.9h.01M542.6 257.5h.01M602.6 263.8h.01M572.5 241.5h.01M572.1 266.3h.01M604.4 257.6h.01M576.7 258.6h.01M566.3 242.9h.01M596.3 258.0h.01M599.4 258.0h.01M583.0 227.1h.01M611.0 261.0h.01M616.7 249.5h.01M574.3 258.2h.01M624.1 280.7h.01M592.3 254.8h.01M583.2 260.9h.01M633.6 244.8h.01M586.1 240.6h.01M599.1 257.0h.01M605.8 274.5h.01M557.3 250.5h.01M657.4 255.7h.01M597.4 252.4h.01M599.5 275.1h.01M596.8 249.0h.01M585.8 262.2h.01M599.1 231.6h.01M577.4 226.0h.01M594.3 240.8h.01M573.8 267.1h.01M603.6 271.6h.01M605.5 267.1h.01M607.3 272.9h.01M578.9 251.4h.01M599.2 277.3h.01M588.3 253.7h.01M605.0 251.8h.01M582.3 262.5h.01M612.8 234.1h.01M607.1 274.8h.01M602.6 263.7h.01M616.3 251.5h.01M599.9 232.8h.01M634.3 238.8h.01M588.1 251.2h.01M619.9 261.5h.01M577.5 251.8h.01M576.8 234.6h.01M602.5 273.5h.01M599.3 255.7h.01M602.0 232.5h.01M582.2 270.7h.01M602.9 252.5h.01M573.4 246.7h.01M607.9 267.7h.01M603.0 281.7h.01M627.7 253.6h.01M587.5 256.4h.01M571.2 256.0h.01M586.9 254.2h.01M568.9 269.2h.01M562.5 268.2h.01M569.6 254.5h.01M579.4 265.2h.01M580.5 279.5h.01M578.1 266.5h.01M566.8 252.3h.01M585.5 276.7h.01M564.8 265.2h.01M579.7 263.0h.01M580.8 259.1h.01M562.9 255.9h.01M590.6 267.7h.01M565.2 256.0h.01M582.8 262.6h.01M576.4 264.6h.01M567.5 254.1h.01M577.8 268.8h.01M578.3 266.2h.01M563.8 267.9h.01M571.1 259.8h.01M586.3 253.4h.01M581.0 259.7h.01M583.1 268.1h.01M585.9 262.3h.01M571.3 261.4h.01M587.6 261.4h.01M553.1 265.2h.01M567.1 260.6h.01M556.4 270.9h.01M577.3 265.8h.01M587.8 270.4h.01M571.4 255.2h.01M567.5 255.8h.01M566.0 261.5h.01M560.4 270.6h.01M570.3 245.9h.01M577.7 246.8h.01M569.1 260.9h.01M577.4 269.9h.01M566.0 256.2h.01M562.8 254.6h.01M570.3 257.5h.01M576.4 255.5h.01M576.0 261.7h.01M587.9 263.5h.01M567.7 257.5h.01M573.7 252.6h.01M572.7 262.2h.01M580.4 270.7h.01M577.2 272.6h.01M569.4 251.0h.01M565.5 265.7h.01M571.6 273.0h.01M573.1 260.6h.01M565.0 259.5h.01M570.8 261.4h.01M561.7 272.7h.01M567.4 260.9h.01M554.4 264.9h.01M585.4 268.2h.01M576.1 268.2h.01M574.4 261.4h.01M563.4 252.6h.01M581.4 261.6h.01M575.8 271.0h.01M571.8 263.3h.01M572.1 263.1h.01M575.7 267.3h.01M592.8 281.2h.01M560.3 272.9h.01M575.0 265.9h.01M594.4 254.9h.01M555.6 263.6h.01M580.5 265.8h.01M575.9 260.8h.01M573.1 261.3h.01M567.8 270.0h.01M563.1 257.2h.01M577.7 267.4h.01M579.1 265.6h.01M557.0 254.9h.01M571.3 273.3h.01M577.9 266.1h.01M574.4 265.6h.01M576.0 259.5h.01M580.6 270.1h.01M575.7 272.8h.01M580.2 261.2h.01M556.2 253.4h.01M577.9 260.1h.01M581.7 271.1h.01M558.8 271.5h.01M577.4 257.4h.01M571.8 261.5h.01M576.7 275.5h.01M570.1 267.7h.01M583.1 269.5h.01M565.8 265.5h.01M557.4 257.7h.01M569.7 259.3h.01M569.2 261.5h.01M589.5 257.7h.01M557.3 263.6h.01M576.1 257.0h.01M566.6 248.8h.01M568.3 269.5h.01M585.0 243.2h.01M577.2 264.5h.01M567.5 246.9h.01M583.6 261.1h.01M569.6 260.1h.01M563.1 254.6h.01M572.7 268.1h.01M572.1 255.3h.01M571.5 262.9h.01M570.4 277.4h.01M589.9 267.0h.01M572.6 266.5h.01M571.1 259.2h.01M572.6 262.2h.01M580.8 250.5h.01M576.5 258.5h.01M575.9 270.4h.01M573.5 261.0h.01M587.7 256.9h.01M566.4 255.2h.01M560.2 261.8h.01M564.4 258.4h.01M561.5 265.3h.01M569.4 268.0h.01M558.7 258.4h.01M568.8 262.4h.01M569.6 262.1h.01M577.6 257.5h.01M576.7 264.0h.01M565.7 274.2h.01M562.7 265.9h.01M575.2 273.6h.01M568.8 259.1h.01M575.3 249.5h.01M567.6 263.8h.01M571.7 262.6h.01M561.8 259.5h.01M561.1 263.1h.01M583.1 267.2h.01M559.3 255.9h.01M564.4 263.2h.01M572.2 264.0h.01M569.8 255.4h.01M584.3 262.3h.01M553.7 256.0h.01M580.9 283.3h.01M572.3 255.3h.01M566.6 268.0h.01M559.2 278.7h.01M560.5 259.2h.01M564.7 261.8h.01M563.3 264.8h.01M584.7 270.3h.01M575.2 254.4h.01M575.0 254.1h.01M576.7 265.9h.01M561.2 260.6h.01M571.1 256.6h.01M560.2 251.0h.01M572.3 260.1h.01M557.3 260.7h.01M564.2 261.4h.01M565.2 270.8h.01M575.7 256.3h.01M570.0 267.5h.01M580.4 262.0h.01M566.4 258.6h.01M569.3 254.3h.01M577.5 259.2h.01M569.5 264.9h.01M563.7 263.0h.01M590.9 273.3h.01M559.5 267.6h.01M595.5 251.9h.01M573.4 255.0h.01M571.9 256.5h.01M561.8 244.8h.01M583.6 265.3h.01M592.9 260.6h.01M566.3 264.5h.01M582.0 245.4h.01M568.4 257.5h.01M576.0 268.1h.01M584.7 264.6h.01M569.4 247.0h.01M574.0 250.5h.01M583.3 250.2h.01M560.1 255.3h.01M573.4 254.7h.01M578.5 265.0h.01M573.1 249.9h.01M571.1 260.2h.01M588.0 251.0h.01M582.6 255.2h.01M561.5 254.2h.01M588.9 266.2h.01M584.3 250.1h.01M588.9 254.2h.01M592.2 256.3h.01M606.5 259.3h.01M599.1 250.0h.01M592.2 256.7h.01M586.9 256.0h.01M582.4 267.4h.01M597.6 245.8h.01M580.1 254.6h.01M569.4 243.6h.01M572.9 250.0h.01M579.9 255.1h.01M580.5 251.9h.01M590.5 253.5h.01M590.0 259.7h.01M590.3 247.2h.01M574.0 258.2h.01M580.5 236.5h.01M600.0 251.4h.01M597.8 258.7h.01M599.0 244.0h.01M590.7 244.2h.01M595.5 251.6h.01M587.2 252.6h.01M590.7 247.6h.01M591.2 250.2h.01M589.1 251.5h.01M572.8 263.8h.01M577.2 252.3h.01M589.9 255.0h.01M589.9 258.3h.01M581.6 250.1h.01M565.5 254.0h.01M595.3 258.6h.01M600.4 253.8h.01M578.2 257.0h.01M584.2 251.2h.01M562.5 256.7h.01M586.4 244.2h.01M579.9 252.7h.01M584.2 233.2h.01M574.9 256.6h.01M563.5 245.8h.01M592.4 249.6h.01M578.4 251.8h.01M594.5 245.0h.01M595.7 255.9h.01M594.3 250.6h.01M578.1 249.4h.01M589.5 235.7h.01M569.3 243.1h.01M585.6 254.6h.01M580.1 261.5h.01M592.4 241.0h.01M594.7 245.8h.01M600.2 258.3h.01M579.9 249.8h.01M586.4 240.7h.01M576.2 260.6h.01M585.6 252.8h.01M579.8 273.1h.01M591.0 233.1h.01M573.9 246.9h.01M586.7 261.3h.01M571.8 262.2h.01M585.7 255.5h.01M583.6 255.9h.01M562.6 254.7h.01M578.8 258.5h.01M584.4 268.2h.01M569.7 241.5h.01M582.2 244.1h.01M571.7 250.4h.01M610.5 254.4h.01M585.3 251.0h.01M600.5 262.6h.01M587.2 246.4h.01M569.3 246.4h.01M588.9 258.6h.01M574.1 233.5h.01M591.2 247.7h.01M563.4 248.2h.01M569.8 262.1h.01M573.9 248.1h.01M600.6 246.9h.01M588.0 264.5h.01M575.9 259.9h.01M579.0 236.7h.01M587.8 247.2h.01M588.1 259.1h.01M588.0 247.2h.01M607.5 244.6h.01M582.6 259.1h.01M584.4 240.7h.01M578.2 259.5h.01M582.3 267.8h.01M598.7 256.9h.01M580.7 261.9h.01M575.9 261.0h.01M591.2 241.1h.01M599.8 250.7h.01M589.2 258.2h.01M598.1 245.6h.01M581.7 246.5h.01M577.2 258.4h.01M580.5 260.5h.01M584.8 250.4h.01M586.8 252.0h.01M600.0 249.5h.01M583.8 261.1h.01M585.2 260.1h.01M584.8 245.9h.01M575.4 244.2h.01M582.2 244.8h.01M574.7 248.4h.01M582.5 247.9h.01M592.1 263.2h.01M662.3 243.8h.01M657.5 250.8h.01M679.8 270.8h.01M640.6 263.9h.01M670.4 237.3h.01M666.0 245.7h.01M648.5 259.1h.01M642.2 270.8h.01M673.6 256.0h.01M649.0 240.0h.01M613.4 234.5h.01M678.7 238.2h.01M669.5 240.8h.01M641.4 273.4h.01M636.8 242.0h.01M670.7 250.4h.01M654.4 246.2h.01M645.3 243.4h.01M614.2 228.9h.01M644.8 246.4h.01M661.0 251.1h.01M664.7 228.3h.01M648.6 243.9h.01M674.4 233.3h.01M664.1 254.2h.01M682.0 237.9h.01M649.4 247.3h.01M670.6 276.5h.01M686.3 250.3h.01M616.1 249.8h.01M672.7 281.4h.01M635.3 223.3h.01M664.7 228.4h.01M648.5 244.6h.01M631.7 246.9h.01M658.1 264.5h.01M672.1 263.8h.01M681.0 276.1h.01M622.5 277.6h.01M630.5 212.5h.01M656.7 235.0h.01M650.4 261.2h.01M677.0 269.3h.01M656.6 250.5h.01M653.2 271.3h.01M680.9 237.8h.01M647.2 245.4h.01M671.4 240.4h.01M685.1 241.2h.01M665.6 255.0h.01M649.3 233.0h.01M632.6 246.3h.01M651.9 244.2h.01M671.0 254.9h.01M628.0 259.4h.01M657.2 240.1h.01M662.7 260.7h.01M697.9 268.0h.01M665.0 224.5h.01M660.7 266.2h.01M646.9 261.8h.01M646.7 273.2h.01M680.5 262.7h.01M694.5 232.3h.01M642.5 250.0h.01M660.2 237.4h.01M656.9 265.1h.01M647.1 280.7h.01M639.7 245.5h.01M638.7 217.1h.01M684.2 251.4h.01M671.1 264.5h.01M669.6 245.9h.01M648.9 230.2h.01M638.7 278.0h.01M677.2 228.3h.01M612.0 261.3h.01M627.9 224.7h.01M637.5 204.9h.01M652.9 257.2h.01M629.2 249.9h.01M653.7 259.2h.01M666.8 258.4h.01M682.1 256.3h.01M653.2 264.6h.01M649.1 218.1h.01M655.1 234.3h.01M670.4 268.0h.01M671.6 225.9h.01M645.3 213.3h.01M618.1 280.1h.01M644.3 259.0h.01M682.7 237.0h.01M670.2 258.7h.01M631.6 246.0h.01M639.8 236.9h.01M658.8 250.8h.01M645.0 240.7h.01M655.9 256.5h.01M667.6 245.9h.01M637.9 256.9h.01M633.1 250.1h.01M646.3 234.8h.01M672.8 214.7h.01M679.8 227.9h.01M681.2 254.9h.01M644.9 230.4h.01M651.5 235.6h.01M674.9 239.0h.01M644.3 239.1h.01M635.4 245.7h.01M678.4 244.7h.01M642.1 232.0h.01M656.0 246.1h.01M642.2 242.1h.01M654.1 281.1h.01M641.4 233.2h.01M666.1 244.2h.01M657.2 267.5h.01M687.9 246.2h.01M686.5 204.9h.01M613.6 259.9h.01M632.0 226.5h.01M620.4 266.5h.01M636.1 267.0h.01M635.7 274.2h.01M590.6 227.5h.01M646.2 253.2h.01M645.0 232.6h.01M642.5 248.0h.01M660.8 255.7h.01M647.9 266.0h.01M663.2 233.8h.01M667.9 240.4h.01M673.8 244.4h.01M639.7 258.1h.01M648.0 277.4h.01M683.1 215.4h.01M657.2 252.6h.01M688.9 265.5h.01M645.5 238.8h.01M657.6 282.1h.01M649.3 254.8h.01M663.1 264.0h.01M656.6 285.6h.01M682.2 241.4h.01M663.5 252.8h.01M661.6 242.5h.01M622.7 265.2h.01M643.8 229.0h.01M639.9 234.6h.01M655.5 244.4h.01M640.1 262.8h.01M670.0 227.4h.01M651.0 233.5h.01M659.9 229.1h.01M659.5 255.1h.01M636.8 261.7h.01M659.2 258.9h.01M651.3 262.0h.01M656.9 237.0h.01M654.6 241.2h.01M666.5 263.1h.01M638.8 257.8h.01M659.8 238.6h.01M662.9 275.3h.01M667.1 257.4h.01M682.5 234.0h.01M685.7 271.9h.01M646.8 263.8h.01M663.1 272.2h.01M658.4 244.8h.01M641.6 260.9h.01M665.0 262.7h.01M644.1 226.0h.01M656.6 251.1h.01M678.9 255.3h.01M631.0 220.5h.01M668.7 233.3h.01M626.7 227.9h.01M639.8 253.5h.01M676.0 250.4h.01M663.8 236.6h.01M654.3 252.5h.01M685.3 266.0h.01M676.4 260.9h.01M700.5 260.1h.01M657.5 240.6h.01M637.5 282.5h.01M661.0 267.0h.01M625.4 285.5h.01M653.5 239.8h.01M684.3 243.8h.01M651.2 258.8h.01M643.3 233.9h.01M687.2 269.7h.01M674.6 257.1h.01M648.7 238.4h.01M642.8 239.4h.01M647.7 245.1h.01M677.2 264.3h.01M662.6 258.9h.01M668.0 266.3h.01M651.3 275.1h.01M675.3 248.5h.01M635.0 233.1h.01M640.6 269.6h.01M685.1 232.2h.01M656.2 265.1h.01M640.8 219.7h.01M654.9 252.2h.01M672.3 242.8h.01M677.6 227.7h.01M675.9 231.6h.01M612.4 256.9h.01M643.1 230.9h.01M657.5 241.4h.01M634.1 251.0h.01M633.5 280.4h.01M651.8 257.3h.01M629.7 215.8h.01M660.2 253.1h.01M654.9 263.4h.01M669.4 264.7h.01M621.3 255.5h.01M637.8 278.3h.01M627.0 243.4h.01M651.3 265.9h.01M651.8 242.3h.01M642.1 218.7h.01M692.3 227.2h.01M645.1 240.5h.01M676.2 256.4h.01M660.4 231.2h.01M694.9 272.3h.01M678.4 246.2h.01M682.3 244.5h.01M655.4 228.6h.01M666.2 250.2h.01M680.0 255.8h.01M665.5 265.0h.01M650.7 218.4h.01M688.9 236.8h.01M665.4 246.0h.01M675.6 245.0h.01M647.5 247.7h.01M668.4 242.0h.01M647.3 249.0h.01M652.2 269.2h.01M677.0 267.2h.01M635.8 241.7h.01M660.2 237.9h.01M660.8 233.2h.01M643.8 233.7h.01M673.5 261.7h.01M697.6 247.3h.01M655.6 274.9h.01M625.9 239.1h.01M645.8 224.8h.01M694.7 244.6h.01M664.9 228.1h.01M647.9 250.5h.01M677.3 251.5h.01M654.8 267.0h.01M638.2 243.2h.01M645.6 234.8h.01M650.6 255.5h.01M644.2 239.1h.01M639.1 268.1h.01M681.1 264.6h.01M711.2 261.8h.01M678.8 238.0h.01M629.1 254.4h.01M640.9 246.0h.01M664.7 287.7h.01M671.8 234.2h.01M671.9 234.8h.01M648.9 233.0h.01M676.1 273.4h.01M638.2 231.4h.01M656.4 239.1h.01M649.3 275.8h.01M665.9 252.9h.01M596.5 250.3h.01M651.7 247.0h.01M681.1 270.6h.01M635.4 263.5h.01M653.3 218.5h.01M645.1 232.7h.01M633.9 261.4h.01M626.5 247.1h.01M660.6 252.1h.01M681.0 262.5h.01M682.4 262.1h.01M659.3 263.2h.01M668.4 263.1h.01M648.2 251.9h.01M688.5 259.9h.01M666.5 273.5h.01M617.5 233.2h.01M660.5 235.6h.01M675.4 267.3h.01M671.6 256.7h.01M620.7 250.2h.01M649.8 254.2h.01M662.6 268.7h.01M669.0 248.5h.01M661.6 237.2h.01M650.3 249.6h.01M637.0 239.5h.01M643.5 268.4h.01M662.5 225.8h.01M635.5 251.5h.01M654.0 232.0h.01M633.7 242.8h.01M665.1 257.5h.01M692.5 225.9h.01M654.6 201.3h.01M646.9 239.1h.01M620.6 262.6h.01M683.3 246.5h.01M643.4 245.1h.01M653.1 259.2h.01M662.5 256.1h.01M695.6 219.4h.01M623.0 224.1h.01M673.1 250.7h.01M667.2 194.5h.01M654.6 259.5h.01M678.5 256.0h.01M659.7 253.7h.01M678.4 287.4h.01M636.4 262.9h.01M631.6 243.7h.01M662.6 277.6h.01M669.2 217.6h.01M652.4 215.3h.01M648.1 195.2h.01M646.5 206.7h.01M648.8 214.5h.01M644.3 196.3h.01M659.9 199.4h.01M629.7 200.6h.01M644.9 181.5h.01M653.6 209.4h.01M647.4 201.9h.01M655.7 202.6h.01M653.8 191.3h.01M682.9 199.5h.01M679.3 200.6h.01M660.9 221.0h.01M656.2 196.0h.01M665.4 205.4h.01M643.0 196.6h.01M666.3 196.1h.01M667.1 196.2h.01M654.8 201.1h.01M667.5 202.1h.01M635.7 204.9h.01M663.0 208.9h.01M653.4 200.6h.01M654.4 183.4h.01M659.8 223.9h.01M640.6 193.7h.01M647.3 202.6h.01M624.4 200.2h.01M603.8 211.7h.01M596.9 188.8h.01M594.8 203.2h.01M609.2 214.5h.01M592.2 204.9h.01M585.5 200.9h.01M609.1 196.3h.01M588.3 210.6h.01M602.1 209.2h.01M587.0 197.3h.01M605.1 194.2h.01M581.3 211.8h.01M600.8 192.6h.01M610.4 211.8h.01M589.2 198.8h.01M608.8 204.8h.01M607.4 194.0h.01M588.1 202.3h.01M580.8 198.2h.01M606.1 211.4h.01M599.3 198.7h.01M586.8 216.4h.01M597.5 211.5h.01M590.9 192.3h.01M591.4 191.4h.01M597.2 197.9h.01M590.5 207.9h.01M605.3 201.1h.01M611.0 192.3h.01M567.3 205.5h.01M599.8 207.4h.01M618.0 193.9h.01M615.8 207.1h.01M600.5 196.7h.01M604.6 207.3h.01M599.5 200.5h.01M579.9 196.2h.01M604.0 192.4h.01M603.2 196.8h.01M600.7 204.6h.01M575.6 203.1h.01M614.6 197.5h.01M599.2 207.0h.01M597.4 199.2h.01M589.5 204.4h.01M603.9 201.0h.01M589.4 199.0h.01M602.9 198.7h.01M596.0 200.8h.01M610.4 196.8h.01M611.0 204.1h.01M615.6 193.4h.01M601.1 205.1h.01M597.6 200.6h.01M579.9 197.4h.01M586.1 215.3h.01M591.3 202.3h.01M617.7 188.7h.01M591.6 192.0h.01M615.9 198.3h.01M590.9 198.7h.01M611.1 210.5h.01M590.3 195.8h.01M609.9 209.0h.01M593.5 202.4h.01M609.0 204.7h.01M599.8 201.1h.01M597.8 194.5h.01M587.5 207.0h.01M592.2 193.4h.01M601.6 189.0h.01M613.0 198.3h.01M597.2 204.6h.01M600.7 189.4h.01M616.7 190.5h.01M596.7 198.8h.01M593.4 200.0h.01M598.2 205.3h.01M596.1 199.2h.01M605.5 209.1h.01M595.6 212.0h.01M605.5 199.4h.01M601.2 206.6h.01M607.7 206.8h.01M591.2 202.6h.01M607.1 201.2h.01M607.9 207.3h.01M580.0 210.8h.01M610.1 204.3h.01M615.5 200.5h.01M610.8 185.7h.01M604.9 205.5h.01M587.4 196.8h.01M603.7 193.2h.01M616.4 202.5h.01M609.3 203.5h.01M598.4 198.3h.01M585.5 197.5h.01M610.0 208.4h.01M610.5 184.9h.01M603.0 203.1h.01M615.2 224.1h.01M585.5 183.7h.01M586.9 201.2h.01M601.1 186.5h.01M575.5 199.3h.01M613.6 207.3h.01M616.8 211.1h.01M612.5 211.2h.01M590.6 257.4h.01M578.4 274.2h.01M577.0 276.2h.01M585.7 277.5h.01M571.1 278.3h.01M543.6 265.3h.01M604.9 281.3h.01M569.1 276.6h.01M573.7 275.0h.01M584.1 279.3h.01M585.9 272.6h.01M572.2 279.7h.01M563.9 276.4h.01M577.1 257.9h.01M589.3 279.8h.01M545.2 273.0h.01M576.7 282.5h.01M554.9 274.1h.01M539.0 269.0h.01M580.7 272.9h.01M579.8 280.4h.01M574.0 258.7h.01M591.4 261.4h.01M597.8 275.9h.01M582.8 280.0h.01M588.3 265.2h.01M562.5 272.2h.01M614.8 263.1h.01M576.7 268.4h.01M564.5 264.7h.01M597.1 270.7h.01M569.4 271.1h.01M594.6 260.5h.01M585.8 267.0h.01M563.5 271.1h.01M591.8 269.3h.01M588.4 275.5h.01M567.1 264.8h.01M581.5 276.4h.01M580.7 257.2h.01M571.7 265.3h.01M581.2 254.1h.01M580.0 276.2h.01M577.2 257.2h.01M570.1 269.8h.01M563.2 265.4h.01M574.8 259.8h.01M576.8 270.6h.01M579.2 274.9h.01M542.9 276.1h.01M597.2 278.4h.01M564.5 263.0h.01M568.0 274.9h.01M568.4 281.1h.01M582.8 276.3h.01M596.5 286.0h.01M565.7 255.4h.01M593.5 270.8h.01M581.7 264.7h.01M585.4 263.5h.01M548.2 278.0h.01M588.2 266.5h.01M588.6 275.8h.01M581.2 272.9h.01M602.4 282.0h.01M581.2 260.6h.01M595.4 269.3h.01M590.6 275.3h.01M572.4 282.5h.01M574.3 277.9h.01M560.2 276.4h.01M593.0 271.7h.01M569.4 279.3h.01M574.9 277.0h.01M542.5 264.6h.01M562.8 267.7h.01M583.9 270.5h.01M576.4 273.7h.01M581.6 257.9h.01M559.6 286.1h.01M576.6 268.9h.01M568.5 264.6h.01M555.7 276.9h.01M564.3 255.8h.01M569.8 275.6h.01M578.7 275.7h.01M574.6 256.5h.01M588.7 273.5h.01M593.4 262.1h.01M590.2 274.8h.01M588.7 267.1h.01M585.5 276.2h.01M558.3 280.2h.01M590.9 269.8h.01M589.3 282.0h.01M592.2 255.5h.01M582.5 269.0h.01M557.5 259.8h.01M590.4 283.2h.01M577.8 288.1h.01M554.8 273.8h.01M569.9 276.9h.01M585.1 273.2h.01M604.2 263.0h.01M570.2 286.1h.01M593.2 284.5h.01M574.3 270.1h.01M566.1 281.2h.01M603.1 269.0h.01M554.2 270.5h.01M566.3 274.0h.01M568.5 262.1h.01M577.1 254.6h.01M599.4 271.2h.01M561.9 261.6h.01M583.8 268.4h.01M545.7 285.7h.01M601.1 280.1h.01M585.5 273.5h.01M597.2 252.1h.01M573.8 273.2h.01M587.9 276.4h.01M579.4 273.4h.01M593.5 271.9h.01M580.1 266.3h.01M568.2 280.7h.01M566.2 280.1h.01M578.9 267.0h.01M584.4 267.1h.01M589.7 271.1h.01M555.7 280.5h.01M556.6 274.7h.01M589.4 266.5h.01M595.3 272.4h.01M573.1 272.2h.01M562.3 262.3h.01M589.3 253.8h.01M584.2 260.2h.01M557.3 273.0h.01M597.8 273.6h.01M566.7 277.1h.01M561.7 272.8h.01M592.0 285.2h.01M578.2 262.8h.01M575.6 269.8h.01M580.2 283.1h.01M542.5 262.9h.01M558.3 261.4h.01M578.4 261.8h.01M580.3 275.9h.01M583.1 266.5h.01M558.1 282.8h.01M672.8 274.0h.01M541.6 217.5h.01M662.4 283.6h.01M584.4 264.9h.01M641.0 256.7h.01M661.9 229.1h.01M543.2 224.2h.01M698.2 238.3h.01M652.6 243.0h.01M648.0 265.3h.01M643.6 222.5h.01M669.5 269.3h.01M626.1 272.8h.01M629.2 255.9h.01M664.4 252.5h.01M614.6 269.5h.01M555.5 270.0h.01M677.1 229.1h.01M619.6 257.9h.01M626.0 240.6h.01M547.0 278.0h.01M542.9 273.4h.01M679.2 226.8h.01M648.9 236.1h.01M631.4 243.3h.01M554.3 266.9h.01M540.0 235.7h.01M594.9 278.8h.01M606.0 255.3h.01M560.7 252.2h.01M628.3 256.0h.01M582.2 272.2h.01M554.6 254.6h.01M555.9 243.9h.01M571.5 278.7h.01M654.1 235.7h.01M681.3 272.0h.01M583.3 251.1h.01M696.3 264.3h.01M566.7 224.0h.01M667.7 266.7h.01M582.6 233.4h.01M567.5 241.3h.01M559.8 282.9h.01M570.1 225.3h.01M694.5 216.1h.01M602.3 258.1h.01M644.8 281.2h.01M545.3 221.5h.01M671.3 240.3h.01M557.8 249.9h.01M557.2 264.9h.01M686.9 273.9h.01M608.8 273.7h.01M578.1 226.2h.01M644.1 282.3h.01M628.6 252.1h.01M602.0 283.0h.01M691.0 227.7h.01M646.4 258.9h.01M635.8 216.5h.01M660.9 221.1h.01M579.6 217.4h.01M698.7 227.3h.01M553.2 223.4h.01M577.9 261.9h.01M656.5 284.8h.01M647.6 257.9h.01M688.0 232.3h.01M563.5 272.4h.01M631.3 272.0h.01M679.0 228.9h.01M621.4 274.2h.01M596.6 228.1h.01M564.2 254.8h.01M639.9 221.2h.01M652.6 242.9h.01M699.3 267.6h.01M594.6 259.1h.01M541.2 259.2h.01" stroke="#e84f5a" stroke-width="0.9" stroke-linecap="square" fill="none" opacity="0.72"/>
<line x1="537.00" y1="120.75" x2="537.00" y2="289.25" stroke="#1a1a1a" stroke-width="1.1"/>
<line x1="536.50" y1="288.75" x2="728.00" y2="288.75" stroke="#1a1a1a" stroke-width="1.1"/>
<line x1="727.50" y1="120.75" x2="727.50" y2="288.75" stroke="#999" stroke-width="0.8"/>
<path d="M534.20 276.11H537.00M551.34 288.75v2.6M534.20 268.71H537.00M559.72 288.75v2.6M534.20 263.46H537.00M565.67 288.75v2.6M534.20 259.39H537.00M570.29 288.75v2.6M534.20 256.07H537.00M574.06 288.75v2.6M534.20 253.26H537.00M577.25 288.75v2.6M534.20 250.82H537.00M580.01 288.75v2.6M534.20 248.67H537.00M582.45 288.75v2.6M534.20 234.11H537.00M598.96 288.75v2.6M534.20 226.71H537.00M607.35 288.75v2.6M534.20 221.46H537.00M613.30 288.75v2.6M534.20 217.39H537.00M617.91 288.75v2.6M534.20 214.07H537.00M621.68 288.75v2.6M534.20 211.26H537.00M624.87 288.75v2.6M534.20 208.82H537.00M627.63 288.75v2.6M534.20 206.67H537.00M630.07 288.75v2.6M534.20 192.11H537.00M646.59 288.75v2.6M534.20 184.71H537.00M654.97 288.75v2.6M534.20 179.46H537.00M660.92 288.75v2.6M534.20 175.39H537.00M665.54 288.75v2.6M534.20 172.07H537.00M669.31 288.75v2.6M534.20 169.26H537.00M672.50 288.75v2.6M534.20 166.82H537.00M675.26 288.75v2.6M534.20 164.67H537.00M677.70 288.75v2.6M534.20 150.11H537.00M694.21 288.75v2.6M534.20 142.71H537.00M702.60 288.75v2.6M534.20 137.46H537.00M708.55 288.75v2.6M534.20 133.39H537.00M713.16 288.75v2.6M534.20 130.07H537.00M716.93 288.75v2.6M534.20 127.26H537.00M720.12 288.75v2.6M534.20 124.82H537.00M722.88 288.75v2.6M534.20 122.67H537.00M725.32 288.75v2.6" stroke="#222" stroke-width="0.8" fill="none"/>
<path d="M531.60 288.75H537.00M537.00 288.75v4.6M531.60 246.75H537.00M584.62 288.75v4.6M531.60 204.75H537.00M632.25 288.75v4.6M531.60 162.75H537.00M679.88 288.75v4.6M531.60 120.75H537.00M727.50 288.75v4.6" stroke="#222" stroke-width="1.25" fill="none"/>
<text x="527.80" y="287.75" font-size="6.6" style="font-family:'DejaVu Sans', 'Liberation Sans', sans-serif" text-anchor="end" fill="#222">10<tspan dy="-2.6" font-size="4.75">0</tspan></text>
<text x="545.00" y="307.50" font-size="6.6" style="font-family:'DejaVu Sans', 'Liberation Sans', sans-serif" text-anchor="middle" fill="#222">10<tspan dy="-2.6" font-size="4.75">0</tspan></text>
<text x="527.80" y="250.45" font-size="6.6" style="font-family:'DejaVu Sans', 'Liberation Sans', sans-serif" text-anchor="end" fill="#222">10<tspan dy="-2.6" font-size="4.75">1</tspan></text>
<text x="587.12" y="307.50" font-size="6.6" style="font-family:'DejaVu Sans', 'Liberation Sans', sans-serif" text-anchor="middle" fill="#222">10<tspan dy="-2.6" font-size="4.75">1</tspan></text>
<text x="527.80" y="208.45" font-size="6.6" style="font-family:'DejaVu Sans', 'Liberation Sans', sans-serif" text-anchor="end" fill="#222">10<tspan dy="-2.6" font-size="4.75">2</tspan></text>
<text x="634.75" y="307.50" font-size="6.6" style="font-family:'DejaVu Sans', 'Liberation Sans', sans-serif" text-anchor="middle" fill="#222">10<tspan dy="-2.6" font-size="4.75">2</tspan></text>
<text x="527.80" y="166.45" font-size="6.6" style="font-family:'DejaVu Sans', 'Liberation Sans', sans-serif" text-anchor="end" fill="#222">10<tspan dy="-2.6" font-size="4.75">3</tspan></text>
<text x="682.38" y="307.50" font-size="6.6" style="font-family:'DejaVu Sans', 'Liberation Sans', sans-serif" text-anchor="middle" fill="#222">10<tspan dy="-2.6" font-size="4.75">3</tspan></text>
<text x="527.80" y="130.95" font-size="6.6" style="font-family:'DejaVu Sans', 'Liberation Sans', sans-serif" text-anchor="end" fill="#222">10<tspan dy="-2.6" font-size="4.75">4</tspan></text>
<text x="721.50" y="307.50" font-size="6.6" style="font-family:'DejaVu Sans', 'Liberation Sans', sans-serif" text-anchor="middle" fill="#222">10<tspan dy="-2.6" font-size="4.75">4</tspan></text>
<line x1="623.75" y1="120.75" x2="623.75" y2="288.75" stroke="#1a1a1a" stroke-width="1.1"/>
<line x1="537.00" y1="217.50" x2="727.50" y2="217.50" stroke="#1a1a1a" stroke-width="0.7"/>
<text x="540.75" y="133.00" font-size="8.4" style="font-family:'DejaVu Sans', 'Liberation Sans', sans-serif" text-anchor="start" fill="#2a2a2a">Q1</text>
<text x="540.75" y="142.50" font-size="8.4" style="font-family:'DejaVu Sans', 'Liberation Sans', sans-serif" text-anchor="start" fill="#2a2a2a">4.00</text>
<text x="710.00" y="133.00" font-size="8.4" style="font-family:'DejaVu Sans', 'Liberation Sans', sans-serif" text-anchor="end" fill="#2a2a2a">Q2</text>
<text x="710.00" y="142.50" font-size="8.4" style="font-family:'DejaVu Sans', 'Liberation Sans', sans-serif" text-anchor="end" fill="#2a2a2a">4.26</text>
<text x="540.75" y="271.30" font-size="8.4" style="font-family:'DejaVu Sans', 'Liberation Sans', sans-serif" text-anchor="start" fill="#2a2a2a">Q4</text>
<text x="540.75" y="280.50" font-size="8.4" style="font-family:'DejaVu Sans', 'Liberation Sans', sans-serif" text-anchor="start" fill="#2a2a2a">81.5</text>
<text x="710.00" y="271.30" font-size="8.4" style="font-family:'DejaVu Sans', 'Liberation Sans', sans-serif" text-anchor="end" fill="#2a2a2a">Q3</text>
<text x="710.00" y="280.50" font-size="8.4" style="font-family:'DejaVu Sans', 'Liberation Sans', sans-serif" text-anchor="end" fill="#2a2a2a">10.2</text>
<text x="630.75" y="327.50" font-size="14.6" text-anchor="middle" fill="#1a1a1a">AV-FITC</text>
<text x="0.00" y="0.00" font-size="13.6" text-anchor="middle" fill="#1a1a1a" transform="translate(508.5 206.0) rotate(-90)">PI</text>
<circle cx="810.8" cy="84.2" r="1.9" fill="#000"/>
<rect x="808.70" y="97.90" width="4.20" height="4.20" fill="#f58a28"/>
<path d="M808.5 118.8l2.2-4.4l2.2 4.4z" fill="#e8312f"/>
<text x="822.60" y="89.80" font-size="15.8" font-weight="bold" fill="#1a1a1a" textLength="19.60" lengthAdjust="spacingAndGlyphs" stroke="#111" stroke-width="0.35">NC</text>
<text x="822.60" y="105.60" font-size="15.8" font-weight="bold" fill="#1a1a1a" textLength="120.60" lengthAdjust="spacingAndGlyphs" stroke="#111" stroke-width="0.35">Sh CircSERPINE2</text>
<text x="822.60" y="121.40" font-size="15.8" font-weight="bold" fill="#1a1a1a" textLength="254.50" lengthAdjust="spacingAndGlyphs" stroke="#111" stroke-width="0.35">Sh CircSERPINE2 + miR-1271 sponge</text>
<line x1="792.20" y1="119.40" x2="792.20" y2="310.20" stroke="#000" stroke-width="4.3"/>
<line x1="787.00" y1="308.00" x2="955.80" y2="308.00" stroke="#000" stroke-width="4.4"/>
<line x1="786.60" y1="121.40" x2="792.20" y2="121.40" stroke="#000" stroke-width="3.6"/>
<text x="788.00" y="127.40" font-size="17.4" text-anchor="end" font-weight="bold" fill="#000" textLength="16.40" lengthAdjust="spacingAndGlyphs" stroke="#111" stroke-width="0.35">50</text>
<line x1="786.60" y1="158.60" x2="792.20" y2="158.60" stroke="#000" stroke-width="3.6"/>
<text x="788.00" y="164.60" font-size="17.4" text-anchor="end" font-weight="bold" fill="#000" textLength="16.40" lengthAdjust="spacingAndGlyphs" stroke="#111" stroke-width="0.35">40</text>
<line x1="786.60" y1="196.00" x2="792.20" y2="196.00" stroke="#000" stroke-width="3.6"/>
<text x="788.00" y="202.00" font-size="17.4" text-anchor="end" font-weight="bold" fill="#000" textLength="16.40" lengthAdjust="spacingAndGlyphs" stroke="#111" stroke-width="0.35">30</text>
<line x1="786.60" y1="233.40" x2="792.20" y2="233.40" stroke="#000" stroke-width="3.6"/>
<text x="788.00" y="239.40" font-size="17.4" text-anchor="end" font-weight="bold" fill="#000" textLength="16.40" lengthAdjust="spacingAndGlyphs" stroke="#111" stroke-width="0.35">20</text>
<line x1="786.60" y1="270.80" x2="792.20" y2="270.80" stroke="#000" stroke-width="3.6"/>
<text x="788.00" y="276.80" font-size="17.4" text-anchor="end" font-weight="bold" fill="#000" textLength="16.40" lengthAdjust="spacingAndGlyphs" stroke="#111" stroke-width="0.35">10</text>
<text x="788.00" y="314.00" font-size="17.4" text-anchor="end" font-weight="bold" fill="#000" textLength="8.20" lengthAdjust="spacingAndGlyphs" stroke="#111" stroke-width="0.35">0</text>
<line x1="819.40" y1="308.00" x2="819.40" y2="314.20" stroke="#000" stroke-width="4.2"/>
<line x1="873.90" y1="308.00" x2="873.90" y2="314.20" stroke="#000" stroke-width="4.2"/>
<line x1="928.90" y1="308.00" x2="928.90" y2="314.20" stroke="#000" stroke-width="4.2"/>
<text x="0.00" y="0.00" font-size="15" font-weight="bold" fill="#000" textLength="211.50" lengthAdjust="spacingAndGlyphs" transform="translate(766.2 316.8) rotate(-90)">Relative apoptosis rate (%)</text>
<path d="M819.40 242.00V284.40M812.90 242.00h13M812.90 284.40h13" stroke="#000" stroke-width="2.6" fill="none"/>
<circle cx="816.5" cy="254.9" r="2.3" fill="#000"/>
<circle cx="822.3" cy="261.5" r="2.3" fill="#000"/>
<circle cx="819.4" cy="271.8" r="2.3" fill="#000"/>
<path d="M808.65 263.00h21.5" stroke="#000" stroke-width="3"/>
<path d="M873.90 156.40V249.30M867.40 156.40h13M867.40 249.30h13" stroke="#f58a28" stroke-width="2.6" fill="none"/>
<rect x="869.80" y="188.20" width="4.40" height="4.40" fill="#f58a28"/>
<rect x="874.20" y="191.10" width="4.40" height="4.40" fill="#f58a28"/>
<rect x="871.70" y="222.20" width="4.40" height="4.40" fill="#f58a28"/>
<path d="M863.15 202.70h21.5" stroke="#000" stroke-width="3"/>
<path d="M928.90 232.60V265.30M922.90 232.60h12M922.90 265.30h12" stroke="#e8312f" stroke-width="2.6" fill="none"/>
<path d="M926.6 245.9l2.3-4.4l2.3 4.4z" fill="#e8312f"/>
<path d="M924.2 256.6l2.3-4.4l2.3 4.4z" fill="#e8312f"/>
<path d="M929.5 253.7l2.3-4.4l2.3 4.4z" fill="#e8312f"/>
<path d="M918.15 249.30h21.5" stroke="#000" stroke-width="3"/>
<path d="M872.9 153.5V135.4L929 134.3V225.4" stroke="#111" stroke-width="1.5" fill="none"/>
<text x="900.70" y="136.50" font-size="15.5" text-anchor="middle" fill="#111">*</text>
<text x="21.60" y="427.50" font-size="32.6" fill="#1a1a1a">B</text>
<text x="0.00" y="0.00" font-size="18.2" fill="#1a1a1a" transform="translate(99.5 568.5) rotate(-45)">NC</text>
<text x="0.00" y="0.00" font-size="18.2" fill="#1a1a1a" transform="translate(137.0 568.5) rotate(-45)">Sh CircSERPINE2</text>
<text x="0.00" y="0.00" font-size="18.2" fill="#1a1a1a" transform="translate(181.0 568.5) rotate(-45)">Sh CircSERPINE2</text>
<text x="0.00" y="0.00" font-size="18.2" fill="#1a1a1a" transform="translate(209.0 570.5) rotate(-45)">+miR-1271 sponge</text>
<text x="0.00" y="0.00" font-size="18.2" fill="#1a1a1a" transform="translate(331.0 570.0) rotate(-45)">NC</text>
<text x="0.00" y="0.00" font-size="18.2" fill="#1a1a1a" transform="translate(367.0 572.0) rotate(-45)">Sh CircSERPINE2</text>
<text x="0.00" y="0.00" font-size="18.2" fill="#1a1a1a" transform="translate(403.0 570.0) rotate(-45)">Sh CircSERPINE2</text>
<text x="0.00" y="0.00" font-size="18.2" fill="#1a1a1a" transform="translate(429.0 571.0) rotate(-45)">+miR-1271 sponge</text>
<clipPath id="cb1"><rect x="84.45" y="580.65" width="119.99999999999999" height="36.30000000000007"/></clipPath>
<rect x="84.45" y="580.65" width="120.00" height="36.30" fill="#c7c9cc"/>
<g clip-path="url(#cb1)">
<rect x="89.55" y="592.25" width="34.50" height="15.50" rx="7.75" fill="#111" opacity="0.2" filter="url(#b3)"/>
<rect x="92.05" y="594.75" width="29.50" height="10.50" rx="5.25" fill="#111" opacity="1" filter="url(#b2)"/>
<rect x="95.50" y="596.50" width="25.00" height="7.00" rx="3.50" fill="#111" opacity="1" filter="url(#b5)"/>
<rect x="134.00" y="598.00" width="22.00" height="5.00" rx="2.50" fill="#111" opacity="0.07" filter="url(#b3)"/>
<rect x="168.25" y="594.90" width="10.50" height="8.40" rx="4.20" fill="#111" opacity="1" filter="url(#b2)"/>
<rect x="170.00" y="596.60" width="7.00" height="5.00" rx="2.50" fill="#111" opacity="1" filter="url(#b5)"/>
<rect x="176.00" y="597.85" width="16.00" height="3.50" rx="1.75" fill="#111" opacity="0.3" filter="url(#b3)"/>
<rect x="191.30" y="598.10" width="4.00" height="3.00" rx="1.50" fill="#111" opacity="0.4" filter="url(#b2)"/>
</g>
<rect x="84.45" y="580.65" width="120.00" height="36.30" fill="none" stroke="#1e1e1e" stroke-width="1.7"/>
<clipPath id="cb2"><rect x="84.45" y="633.45" width="119.99999999999999" height="35.89999999999998"/></clipPath>
<rect x="84.45" y="633.45" width="120.00" height="35.90" fill="#d3d4d6"/>
<g clip-path="url(#cb2)">
<rect x="84.90" y="645.25" width="38.00" height="15.50" rx="7.75" fill="#111" opacity="0.2" filter="url(#b3)"/>
<rect x="164.70" y="645.25" width="39.00" height="15.50" rx="7.75" fill="#111" opacity="0.2" filter="url(#b3)"/>
<rect x="87.40" y="647.75" width="33.00" height="10.50" rx="5.25" fill="#111" opacity="1" filter="url(#b2)"/>
<rect x="89.40" y="649.50" width="29.00" height="7.00" rx="3.50" fill="#111" opacity="1" filter="url(#b5)"/>
<rect x="130.50" y="650.80" width="9.00" height="4.60" rx="2.30" fill="#111" opacity="0.9" filter="url(#b2)"/>
<rect x="148.50" y="650.70" width="9.00" height="4.60" rx="2.30" fill="#111" opacity="0.9" filter="url(#b2)"/>
<rect x="133.00" y="652.00" width="22.00" height="2.20" rx="1.10" fill="#111" opacity="0.8" filter="url(#b2)"/>
<rect x="167.20" y="647.75" width="34.00" height="10.50" rx="5.25" fill="#111" opacity="1" filter="url(#b2)"/>
<rect x="169.20" y="649.50" width="30.00" height="7.00" rx="3.50" fill="#111" opacity="1" filter="url(#b5)"/>
</g>
<rect x="84.45" y="633.45" width="120.00" height="35.90" fill="none" stroke="#1e1e1e" stroke-width="1.7"/>
<clipPath id="cb3"><rect x="85.9" y="683.7" width="119.69999999999999" height="35.5"/></clipPath>
<rect x="85.90" y="683.70" width="119.70" height="35.50" fill="#cdcecf"/>
<g clip-path="url(#cb3)">
<rect x="91.45" y="693.30" width="35.50" height="15.00" rx="7.50" fill="#111" opacity="0.2" filter="url(#b3)"/>
<rect x="168.50" y="696.40" width="35.00" height="13.60" rx="6.80" fill="#111" opacity="0.2" filter="url(#b3)"/>
<rect x="93.95" y="695.80" width="30.50" height="10.00" rx="5.00" fill="#111" opacity="1" filter="url(#b2)"/>
<rect x="95.95" y="697.55" width="26.50" height="6.50" rx="3.25" fill="#111" opacity="1" filter="url(#b5)"/>
<rect x="144.70" y="700.90" width="8.00" height="2.80" rx="1.40" fill="#111" opacity="0.9" filter="url(#b2)"/>
<rect x="138.00" y="700.30" width="22.00" height="4.00" rx="2.00" fill="#111" opacity="0.12" filter="url(#b3)"/>
<rect x="171.00" y="698.90" width="30.00" height="8.60" rx="4.30" fill="#111" opacity="1" filter="url(#b2)" transform="rotate(2.5 186.0 703.2)"/>
<rect x="173.00" y="700.60" width="26.00" height="5.20" rx="2.60" fill="#111" opacity="1" filter="url(#b5)" transform="rotate(2.5 186.0 703.2)"/>
</g>
<rect x="85.90" y="683.70" width="119.70" height="35.50" fill="none" stroke="#1e1e1e" stroke-width="1.7"/>
<clipPath id="cb4"><rect x="85.9" y="734.3" width="119.69999999999999" height="36.10000000000002"/></clipPath>
<rect x="85.90" y="734.30" width="119.70" height="36.10" fill="#d0d1d3"/>
<g clip-path="url(#cb4)">
<rect x="89.55" y="747.95" width="32.70" height="12.30" rx="6.15" fill="#111" opacity="0.2" filter="url(#b3)"/>
<rect x="126.95" y="748.20" width="33.90" height="12.60" rx="6.30" fill="#111" opacity="0.2" filter="url(#b3)"/>
<rect x="166.05" y="748.95" width="34.50" height="12.50" rx="6.25" fill="#111" opacity="0.2" filter="url(#b3)"/>
<rect x="92.05" y="750.45" width="27.70" height="7.30" rx="3.65" fill="#111" opacity="1" filter="url(#b2)"/>
<rect x="93.90" y="751.90" width="24.00" height="4.40" rx="2.20" fill="#111" opacity="1" filter="url(#b5)"/>
<rect x="129.45" y="750.70" width="28.90" height="7.60" rx="3.80" fill="#111" opacity="1" filter="url(#b2)"/>
<rect x="131.40" y="752.20" width="25.00" height="4.60" rx="2.30" fill="#111" opacity="1" filter="url(#b5)"/>
<rect x="168.55" y="751.45" width="29.50" height="7.50" rx="3.75" fill="#111" opacity="1" filter="url(#b2)" transform="rotate(2 183.3 755.2)"/>
<rect x="170.55" y="752.95" width="25.50" height="4.50" rx="2.25" fill="#111" opacity="1" filter="url(#b5)" transform="rotate(2 183.3 755.2)"/>
</g>
<rect x="85.90" y="734.30" width="119.70" height="36.10" fill="none" stroke="#1e1e1e" stroke-width="1.7"/>
<text x="28.25" y="603.75" font-size="18.6" fill="#1a1a1a" textLength="47.25" lengthAdjust="spacingAndGlyphs">SOX9</text>
<text x="3.00" y="657.00" font-size="18.6" fill="#1a1a1a" textLength="77.50" lengthAdjust="spacingAndGlyphs">Aggrecan</text>
<text x="29.50" y="708.00" font-size="18.6" fill="#1a1a1a" textLength="46.50" lengthAdjust="spacingAndGlyphs">COL2</text>
<text x="25.00" y="758.75" font-size="18.6" fill="#1a1a1a" textLength="53.50" lengthAdjust="spacingAndGlyphs">β-actin</text>
<text x="58.00" y="795.75" font-size="17.8" fill="#1a1a1a" textLength="175.75" lengthAdjust="spacingAndGlyphs">Human Chondrocytes</text>
<clipPath id="cb5"><rect x="315.9" y="580.45" width="120.35000000000002" height="36.5"/></clipPath>
<rect x="315.90" y="580.45" width="120.35" height="36.50" fill="#c9cacd"/>
<g clip-path="url(#cb5)">
<rect x="359.30" y="590.60" width="31.00" height="16.40" rx="8.20" fill="#111" opacity="0.2" filter="url(#b3)"/>
<rect x="322.60" y="596.10" width="11.00" height="6.00" rx="3.00" fill="#111" opacity="0.16" filter="url(#b3)"/>
<rect x="339.40" y="596.10" width="11.00" height="6.00" rx="3.00" fill="#111" opacity="0.16" filter="url(#b3)"/>
<rect x="361.80" y="593.10" width="26.00" height="11.40" rx="5.70" fill="#111" opacity="1" filter="url(#b2)"/>
<rect x="363.80" y="595.00" width="22.00" height="7.60" rx="3.80" fill="#111" opacity="1" filter="url(#b5)"/>
<rect x="401.85" y="595.30" width="9.50" height="5.20" rx="2.60" fill="#111" opacity="0.95" filter="url(#b2)" transform="rotate(12 406.6 597.9)"/>
<rect x="410.00" y="597.50" width="12.00" height="3.00" rx="1.50" fill="#111" opacity="0.5" filter="url(#b2)"/>
<rect x="420.50" y="596.50" width="8.00" height="4.00" rx="2.00" fill="#111" opacity="0.7" filter="url(#b2)"/>
<rect x="402.00" y="595.00" width="26.00" height="7.00" rx="3.50" fill="#111" opacity="0.18" filter="url(#b3)"/>
</g>
<rect x="315.90" y="580.45" width="120.35" height="36.50" fill="none" stroke="#1e1e1e" stroke-width="1.7"/>
<clipPath id="cb6"><rect x="316.65" y="631.55" width="119.60000000000002" height="36.30000000000007"/></clipPath>
<rect x="316.65" y="631.55" width="119.60" height="36.30" fill="#f4f4f5"/>
<g clip-path="url(#cb6)">
<rect x="362.35" y="645.50" width="23.70" height="13.20" rx="6.60" fill="#111" opacity="0.2" filter="url(#b3)"/>
<rect x="324.50" y="648.60" width="23.00" height="5.00" rx="2.50" fill="#111" opacity="0.1" filter="url(#b3)"/>
<rect x="364.85" y="648.00" width="18.70" height="8.20" rx="4.10" fill="#111" opacity="1" filter="url(#b2)"/>
<rect x="366.00" y="649.60" width="13.00" height="5.00" rx="2.50" fill="#111" opacity="1" filter="url(#b5)"/>
<rect x="403.00" y="648.70" width="10.00" height="4.40" rx="2.20" fill="#111" opacity="0.3" filter="url(#b2)"/>
<rect x="416.50" y="648.50" width="11.00" height="4.40" rx="2.20" fill="#111" opacity="0.36" filter="url(#b2)"/>
<rect x="403.00" y="648.40" width="26.00" height="5.00" rx="2.50" fill="#111" opacity="0.14" filter="url(#b3)"/>
</g>
<rect x="316.65" y="631.55" width="119.60" height="36.30" fill="none" stroke="#1e1e1e" stroke-width="1.7"/>
<clipPath id="cb7"><rect x="315.9" y="682.65" width="120.35000000000002" height="36.30000000000007"/></clipPath>
<rect x="315.90" y="682.65" width="120.35" height="36.30" fill="#d2d3d5"/>
<g clip-path="url(#cb7)">
<rect x="321.40" y="701.90" width="30.80" height="4.40" rx="2.20" fill="#111" opacity="0.62" filter="url(#b2)"/>
<rect x="320.80" y="700.60" width="32.00" height="7.00" rx="3.50" fill="#111" opacity="0.12" filter="url(#b3)"/>
<rect x="361.85" y="701.00" width="27.70" height="6.00" rx="3.00" fill="#111" opacity="1" filter="url(#b2)"/>
<rect x="364.20" y="702.40" width="23.00" height="3.20" rx="1.60" fill="#111" opacity="0.9" filter="url(#b5)"/>
<rect x="397.60" y="700.90" width="8.00" height="4.00" rx="2.00" fill="#111" opacity="0.3" filter="url(#b2)"/>
<rect x="419.50" y="700.35" width="10.00" height="3.50" rx="1.75" fill="#111" opacity="0.92" filter="url(#b2)"/>
<rect x="402.00" y="701.00" width="22.00" height="3.00" rx="1.50" fill="#111" opacity="0.2" filter="url(#b2)"/>
</g>
<rect x="315.90" y="682.65" width="120.35" height="36.30" fill="none" stroke="#1e1e1e" stroke-width="1.7"/>
<clipPath id="cb8"><rect x="316.65" y="733.05" width="119.60000000000002" height="36.10000000000002"/></clipPath>
<rect x="316.65" y="733.05" width="119.60" height="36.10" fill="#cecfd1"/>
<g clip-path="url(#cb8)">
<rect x="317.70" y="743.80" width="33.40" height="18.20" rx="9.10" fill="#111" opacity="0.2" filter="url(#b3)"/>
<rect x="358.75" y="743.80" width="31.50" height="15.80" rx="7.90" fill="#111" opacity="0.2" filter="url(#b3)"/>
<rect x="398.45" y="742.00" width="34.50" height="17.00" rx="8.50" fill="#111" opacity="0.2" filter="url(#b3)"/>
<rect x="320.20" y="746.30" width="28.40" height="13.20" rx="6.60" fill="#111" opacity="1" filter="url(#b2)"/>
<rect x="321.90" y="748.15" width="25.00" height="9.50" rx="4.75" fill="#111" opacity="1" filter="url(#b5)"/>
<rect x="361.25" y="746.30" width="26.50" height="10.80" rx="5.40" fill="#111" opacity="1" filter="url(#b2)"/>
<rect x="363.00" y="748.00" width="23.00" height="7.40" rx="3.70" fill="#111" opacity="1" filter="url(#b5)"/>
<rect x="400.95" y="744.50" width="29.50" height="12.00" rx="6.00" fill="#111" opacity="1" filter="url(#b2)"/>
<rect x="402.70" y="746.30" width="26.00" height="8.40" rx="4.20" fill="#111" opacity="1" filter="url(#b5)"/>
</g>
<rect x="316.65" y="733.05" width="119.60" height="36.10" fill="none" stroke="#1e1e1e" stroke-width="1.7"/>
<text x="305.00" y="605.75" font-size="18.6" text-anchor="end" fill="#1a1a1a" textLength="51.75" lengthAdjust="spacingAndGlyphs">MMP3</text>
<text x="305.50" y="655.00" font-size="18.6" text-anchor="end" fill="#1a1a1a" textLength="61.25" lengthAdjust="spacingAndGlyphs">MMP13</text>
<text x="308.00" y="706.25" font-size="18.6" text-anchor="end" fill="#1a1a1a" textLength="91.75" lengthAdjust="spacingAndGlyphs">ADAMTS-4</text>
<text x="305.00" y="757.50" font-size="18.6" text-anchor="end" fill="#1a1a1a" textLength="53.75" lengthAdjust="spacingAndGlyphs">β-actin</text>
<text x="286.25" y="797.00" font-size="17.8" fill="#1a1a1a" textLength="176.25" lengthAdjust="spacingAndGlyphs">Human Chondrocytes</text>
<text x="547.20" y="436.60" font-size="34" fill="#1a1a1a">C</text>
<line x1="547.20" y1="478.50" x2="547.20" y2="881.30" stroke="#1a1a1a" stroke-width="1.4"/>
<text x="0.00" y="0.00" font-size="19.5" fill="#1a1a1a" textLength="161.00" lengthAdjust="spacingAndGlyphs" transform="translate(527.8 747.8) rotate(-90)">Human Chondrocytes</text>
<text x="632.30" y="466.70" font-size="18.8" fill="#1a1a1a" textLength="27.60" lengthAdjust="spacingAndGlyphs">NC</text>
<text x="732.70" y="466.70" font-size="19.6" fill="#1a1a1a" textLength="161.60" lengthAdjust="spacingAndGlyphs">Sh CircSERPINE2</text>
<text x="900.00" y="451.00" font-size="19.6" fill="#1a1a1a" textLength="161.70" lengthAdjust="spacingAndGlyphs">Sh CircSERPINE2</text>
<text x="900.00" y="474.00" font-size="19.6" fill="#1a1a1a" textLength="166.70" lengthAdjust="spacingAndGlyphs">+miR-1271 sponge</text>
<text x="0.00" y="0.00" font-size="19.2" fill="#1a1a1a" textLength="66.00" lengthAdjust="spacingAndGlyphs" transform="translate(571.2 565.3) rotate(-90)">MMP13</text>
<text x="0.00" y="0.00" font-size="19.2" fill="#1a1a1a" textLength="80.50" lengthAdjust="spacingAndGlyphs" transform="translate(571.2 669.6) rotate(-90)">Aggrecan</text>
<text x="0.00" y="0.00" font-size="19.2" fill="#1a1a1a" textLength="83.50" lengthAdjust="spacingAndGlyphs" transform="translate(571.2 771.2) rotate(-90)">ADAMTS4</text>
<text x="0.00" y="0.00" font-size="19.2" fill="#1a1a1a" textLength="49.60" lengthAdjust="spacingAndGlyphs" transform="translate(571.2 857) rotate(-90)">COL2</text>
<clipPath id="ci00"><rect x="583.2" y="480" width="142.6" height="98.2"/></clipPath>
<g clip-path="url(#ci00)">
<rect x="583.20" y="480.00" width="142.60" height="98.20" fill="#060001"/>
<g filter="url(#tex)">
<rect x="583.20" y="480.00" width="142.60" height="98.20" fill="#d02020" opacity="0"/>
<ellipse cx="663.5" cy="487.9" rx="7.6" ry="5.1" fill="#d8242a" opacity="0.13" filter="url(#b1)" transform="rotate(34 663.5 487.9)"/>
<ellipse cx="613.4" cy="497.9" rx="7.1" ry="5.1" fill="#d8242a" opacity="0.18" filter="url(#b1)" transform="rotate(-56 613.4 497.9)"/>
<ellipse cx="607.6" cy="505.1" rx="7.5" ry="5.6" fill="#d8242a" opacity="0.10" filter="url(#b1)" transform="rotate(-35 607.6 505.1)"/>
<ellipse cx="657.1" cy="499.9" rx="8.6" ry="4.8" fill="#d8242a" opacity="0.16" filter="url(#b1)" transform="rotate(-25 657.1 499.9)"/>
<ellipse cx="668.8" cy="500.3" rx="8.7" ry="6.9" fill="#d8242a" opacity="0.20" filter="url(#b1)" transform="rotate(-17 668.8 500.3)"/>
<ellipse cx="685.9" cy="499.1" rx="8.6" ry="6.1" fill="#d8242a" opacity="0.11" filter="url(#b1)" transform="rotate(-12 685.9 499.1)"/>
<ellipse cx="702.7" cy="487.0" rx="8.1" ry="6.4" fill="#d8242a" opacity="0.21" filter="url(#b1)" transform="rotate(33 702.7 487.0)"/>
<ellipse cx="685.0" cy="479.8" rx="8.1" ry="3.2" fill="#d8242a" opacity="0.11" filter="url(#b1)" transform="rotate(-23 685.0 479.8)"/>
<ellipse cx="723.0" cy="481.9" rx="7.0" ry="4.5" fill="#d8242a" opacity="0.18" filter="url(#b1)" transform="rotate(30 723.0 481.9)"/>
<ellipse cx="584.4" cy="512.8" rx="6.8" ry="4.9" fill="#d8242a" opacity="0.24" filter="url(#b1)" transform="rotate(49 584.4 512.8)"/>
<ellipse cx="609.9" cy="515.2" rx="7.1" ry="4.6" fill="#d8242a" opacity="0.19" filter="url(#b1)" transform="rotate(-14 609.9 515.2)"/>
<ellipse cx="700.8" cy="511.0" rx="8.3" ry="5.3" fill="#d8242a" opacity="0.20" filter="url(#b1)" transform="rotate(27 700.8 511.0)"/>
<ellipse cx="678.8" cy="517.0" rx="6.0" ry="4.3" fill="#d8242a" opacity="0.20" filter="url(#b1)" transform="rotate(-40 678.8 517.0)"/>
<ellipse cx="714.3" cy="521.6" rx="8.1" ry="6.5" fill="#d8242a" opacity="0.20" filter="url(#b1)" transform="rotate(-32 714.3 521.6)"/>
<ellipse cx="613.7" cy="530.4" rx="8.6" ry="4.9" fill="#d8242a" opacity="0.13" filter="url(#b1)" transform="rotate(-56 613.7 530.4)"/>
<ellipse cx="642.8" cy="532.0" rx="5.7" ry="4.1" fill="#d8242a" opacity="0.23" filter="url(#b1)" transform="rotate(12 642.8 532.0)"/>
<ellipse cx="666.3" cy="526.2" rx="7.4" ry="5.9" fill="#d8242a" opacity="0.16" filter="url(#b1)" transform="rotate(57 666.3 526.2)"/>
<ellipse cx="689.8" cy="529.9" rx="6.4" ry="4.8" fill="#d8242a" opacity="0.20" filter="url(#b1)" transform="rotate(8 689.8 529.9)"/>
<ellipse cx="700.3" cy="537.3" rx="8.7" ry="6.4" fill="#d8242a" opacity="0.16" filter="url(#b1)" transform="rotate(-32 700.3 537.3)"/>
<ellipse cx="705.3" cy="543.3" rx="6.1" ry="6.9" fill="#d8242a" opacity="0.21" filter="url(#b1)" transform="rotate(50 705.3 543.3)"/>
<ellipse cx="670.4" cy="542.7" rx="7.8" ry="5.6" fill="#d8242a" opacity="0.16" filter="url(#b1)" transform="rotate(-52 670.4 542.7)"/>
<ellipse cx="594.2" cy="544.3" rx="8.2" ry="4.4" fill="#d8242a" opacity="0.14" filter="url(#b1)" transform="rotate(10 594.2 544.3)"/>
<ellipse cx="657.3" cy="546.9" rx="9.1" ry="5.4" fill="#d8242a" opacity="0.20" filter="url(#b1)" transform="rotate(8 657.3 546.9)"/>
<ellipse cx="702.8" cy="554.5" rx="5.7" ry="5.2" fill="#d8242a" opacity="0.14" filter="url(#b1)" transform="rotate(-40 702.8 554.5)"/>
<ellipse cx="635.1" cy="559.2" rx="7.0" ry="7.0" fill="#d8242a" opacity="0.14" filter="url(#b1)" transform="rotate(4 635.1 559.2)"/>
<ellipse cx="682.3" cy="559.8" rx="5.9" ry="5.1" fill="#d8242a" opacity="0.19" filter="url(#b1)" transform="rotate(47 682.3 559.8)"/>
<ellipse cx="700.6" cy="561.0" rx="5.3" ry="5.3" fill="#d8242a" opacity="0.21" filter="url(#b1)" transform="rotate(9 700.6 561.0)"/>
<ellipse cx="591.9" cy="560.5" rx="7.1" ry="5.2" fill="#d8242a" opacity="0.18" filter="url(#b1)" transform="rotate(2 591.9 560.5)"/>
<ellipse cx="606.2" cy="565.0" rx="8.0" ry="5.8" fill="#d8242a" opacity="0.22" filter="url(#b1)" transform="rotate(-21 606.2 565.0)"/>
<ellipse cx="670.1" cy="563.1" rx="6.3" ry="5.7" fill="#d8242a" opacity="0.11" filter="url(#b1)" transform="rotate(33 670.1 563.1)"/>
<ellipse cx="625.1" cy="565.4" rx="7.7" ry="6.1" fill="#d8242a" opacity="0.21" filter="url(#b1)" transform="rotate(-44 625.1 565.4)"/>
<ellipse cx="718.7" cy="567.5" rx="6.0" ry="4.3" fill="#d8242a" opacity="0.17" filter="url(#b1)" transform="rotate(17 718.7 567.5)"/>
<ellipse cx="595.0" cy="571.0" rx="7.6" ry="5.6" fill="#d8242a" opacity="0.20" filter="url(#b1)" transform="rotate(-35 595.0 571.0)"/>
<ellipse cx="609.2" cy="570.4" rx="5.9" ry="5.9" fill="#d8242a" opacity="0.15" filter="url(#b1)" transform="rotate(55 609.2 570.4)"/>
<ellipse cx="658.5" cy="571.5" rx="5.4" ry="5.4" fill="#d8242a" opacity="0.15" filter="url(#b1)" transform="rotate(15 658.5 571.5)"/>
<ellipse cx="665.2" cy="572.1" rx="4.0" ry="4.0" fill="#d8242a" opacity="0.20" filter="url(#b1)" transform="rotate(-53 665.2 572.1)"/>
<ellipse cx="649.2" cy="576.8" rx="7.9" ry="5.7" fill="#d8242a" opacity="0.11" filter="url(#b1)" transform="rotate(-30 649.2 576.8)"/>
<ellipse cx="583.4" cy="485.0" rx="2.8" ry="5.1" fill="#d8242a" opacity="0.20" filter="url(#b1)" transform="rotate(52 583.4 485.0)"/>
<ellipse cx="699.4" cy="534.3" rx="5.6" ry="4.9" fill="#dc2228" opacity="0.57" filter="url(#b1)"/>
<ellipse cx="601.5" cy="542.4" rx="1.4" ry="1.4" fill="#dc2228" opacity="0.95" filter="url(#b5)"/>
<ellipse cx="666.1" cy="520.4" rx="1.1" ry="2.5" fill="#dc2228" opacity="0.49" filter="url(#b1)"/>
<ellipse cx="677.2" cy="542.7" rx="5.6" ry="4.2" fill="#dc2228" opacity="0.29" filter="url(#b4)"/>
<ellipse cx="691.1" cy="499.6" rx="8.3" ry="4.2" fill="#dc2228" opacity="0.25" filter="url(#b4)"/>
<ellipse cx="611.9" cy="506.6" rx="6.9" ry="4.2" fill="#dc2228" opacity="0.25" filter="url(#b4)"/>
<ellipse cx="611.9" cy="517.7" rx="6.2" ry="3.5" fill="#dc2228" opacity="0.25" filter="url(#b4)"/>
<ellipse cx="670.3" cy="566.3" rx="8.3" ry="4.2" fill="#dc2228" opacity="0.25" filter="url(#b4)"/>
<ellipse cx="596.7" cy="573.2" rx="6.9" ry="3.5" fill="#dc2228" opacity="0.25" filter="url(#b4)"/>
<ellipse cx="700.8" cy="557.9" rx="6.9" ry="5.6" fill="#dc2228" opacity="0.25" filter="url(#b4)"/>
<ellipse cx="657.8" cy="549.6" rx="6.2" ry="3.5" fill="#dc2228" opacity="0.25" filter="url(#b4)"/>
<ellipse cx="635.6" cy="559.3" rx="4.9" ry="4.2" fill="#dc2228" opacity="0.25" filter="url(#b4)"/>
<ellipse cx="663.3" cy="489.9" rx="8.3" ry="3.5" fill="#dc2228" opacity="0.20" filter="url(#b4)"/>
<ellipse cx="705.0" cy="487.1" rx="6.9" ry="4.2" fill="#dc2228" opacity="0.20" filter="url(#b4)"/>
<ellipse cx="642.5" cy="532.9" rx="4.9" ry="3.1" fill="#dc2228" opacity="0.25" filter="url(#b4)"/>
<ellipse cx="714.7" cy="564.9" rx="6.9" ry="4.2" fill="#dc2228" opacity="0.25" filter="url(#b4)"/>
<ellipse cx="723.1" cy="513.5" rx="1.1" ry="1.1" fill="#dc2228" opacity="0.80" filter="url(#b5)"/>
</g>
<ellipse cx="699.4" cy="534.3" rx="4.4" ry="3.9" fill="#e8282e" opacity="0.45" filter="url(#b1)"/>
<path d="M664.6 526.4h.01M695.1 559.3h.01M610.4 489.5h.01M644.7 521.6h.01M649.8 551.6h.01M679.2 576.6h.01M597.2 519.5h.01M631.6 564.6h.01M618.7 498.7h.01M647.2 521.4h.01M622.9 504.5h.01M714.9 523.5h.01M706.0 534.0h.01M590.4 578.1h.01M702.4 575.2h.01M715.3 563.3h.01M606.9 527.7h.01M613.7 519.4h.01M591.6 517.2h.01M723.7 506.0h.01M695.0 524.7h.01M643.5 574.0h.01M725.1 534.6h.01M685.6 495.2h.01M625.5 575.1h.01M665.8 533.2h.01M689.9 485.6h.01M666.5 529.4h.01M704.8 495.5h.01M720.2 487.9h.01M609.7 538.4h.01M679.5 503.1h.01M600.3 567.4h.01M618.3 538.4h.01M671.5 521.2h.01M666.4 531.3h.01M716.5 500.1h.01M685.3 503.4h.01M639.6 546.0h.01M626.0 511.0h.01M690.4 487.1h.01M648.6 578.0h.01M725.2 487.2h.01M613.6 506.0h.01M716.3 566.5h.01M708.6 516.3h.01M605.7 561.9h.01M683.5 540.1h.01M724.0 544.2h.01M584.3 560.2h.01M625.9 545.1h.01M717.1 493.2h.01M599.7 490.5h.01M662.1 506.7h.01M669.4 550.5h.01M612.2 542.3h.01M620.8 528.0h.01M712.3 563.1h.01M596.4 521.6h.01M622.7 480.3h.01M693.2 542.6h.01M620.6 552.8h.01M661.9 522.0h.01M584.6 487.4h.01M709.1 568.8h.01M661.0 562.0h.01M666.3 494.5h.01M601.4 510.3h.01M711.4 558.2h.01M705.9 568.3h.01M613.2 504.5h.01M597.9 556.6h.01M709.3 519.9h.01M671.7 495.2h.01M715.8 564.9h.01M722.4 559.6h.01M708.9 482.4h.01M688.2 512.6h.01M715.9 558.8h.01M706.4 559.6h.01M621.2 557.3h.01M598.6 565.6h.01M705.6 501.8h.01M699.6 525.2h.01M626.7 558.1h.01M615.7 482.3h.01M610.7 512.2h.01M706.5 574.9h.01M623.0 543.0h.01M640.2 576.3h.01M659.7 572.2h.01M599.6 575.3h.01M608.7 574.5h.01M621.1 490.6h.01M645.2 551.5h.01M627.9 539.5h.01M656.1 517.8h.01M665.4 505.0h.01M684.3 480.2h.01M715.2 532.9h.01M685.8 552.9h.01M678.8 515.8h.01M593.2 545.2h.01M630.3 510.8h.01M704.1 550.7h.01M626.0 510.4h.01M641.4 519.5h.01M625.4 492.5h.01M643.2 572.3h.01M679.8 568.7h.01M671.0 509.6h.01M661.3 480.0h.01M624.1 522.2h.01M665.9 544.3h.01M649.5 523.4h.01M613.7 526.5h.01M711.7 558.2h.01M607.4 488.3h.01M656.7 542.2h.01M631.0 560.4h.01M690.3 546.1h.01M615.2 499.6h.01M586.7 504.0h.01M651.0 563.4h.01M593.6 520.7h.01M673.0 499.1h.01M682.5 528.5h.01M618.0 544.4h.01M584.0 553.7h.01M693.0 490.5h.01M643.8 497.3h.01M719.8 530.9h.01M590.4 504.5h.01M704.2 524.8h.01M697.5 545.6h.01M724.1 538.5h.01M718.7 567.5h.01M670.6 550.6h.01M655.2 561.6h.01M661.3 568.1h.01M689.2 526.6h.01M620.2 504.3h.01M674.1 555.2h.01M657.5 541.5h.01M622.4 487.6h.01M623.9 506.7h.01M628.8 533.0h.01M602.9 502.7h.01M682.2 549.4h.01M592.4 520.0h.01M660.6 520.8h.01M612.7 521.3h.01M712.2 537.4h.01M682.4 564.1h.01M692.4 517.4h.01M584.0 514.5h.01M690.6 563.8h.01M719.2 521.1h.01M689.8 533.6h.01M669.2 501.7h.01M614.5 522.8h.01M587.3 513.0h.01M680.0 519.7h.01M606.7 525.9h.01M601.4 541.1h.01M587.0 518.7h.01M663.7 482.7h.01M674.9 493.3h.01M649.0 484.9h.01M637.3 500.8h.01M629.8 554.8h.01M637.3 553.8h.01M701.8 504.8h.01M594.9 481.9h.01M660.1 578.2h.01M633.1 543.8h.01M694.6 544.0h.01M690.8 573.3h.01M611.6 482.0h.01M604.9 492.4h.01M678.7 535.4h.01M614.3 548.7h.01M692.6 496.5h.01M669.8 553.4h.01M599.5 560.5h.01M720.8 490.6h.01M586.9 510.6h.01M679.8 574.1h.01M639.8 550.2h.01M594.0 547.8h.01M672.6 490.0h.01M693.4 563.5h.01M668.8 491.9h.01M723.5 556.9h.01M632.7 522.1h.01M636.0 529.7h.01M631.9 563.4h.01M700.5 490.4h.01M720.2 542.4h.01M701.4 549.5h.01M645.3 552.1h.01M720.9 506.5h.01M698.4 532.8h.01M652.1 522.8h.01M687.4 506.4h.01M704.7 561.6h.01M595.6 566.6h.01M618.0 525.6h.01M670.2 517.2h.01M587.3 563.6h.01M609.1 500.8h.01M697.0 513.4h.01M708.7 548.9h.01M622.6 481.0h.01M718.4 488.4h.01M685.9 528.0h.01M691.3 547.8h.01M675.3 528.2h.01M696.3 489.1h.01M614.8 547.9h.01" stroke="#d8262a" stroke-width="1.0" stroke-linecap="round" fill="none" opacity="0.45"/>
<ellipse cx="663.1" cy="489.2" rx="4.00" ry="2.67" fill="#2a56c8" filter="url(#b6)"/>
<ellipse cx="614.7" cy="497.2" rx="3.33" ry="2.40" fill="#2a56c8" filter="url(#b6)"/>
<ellipse cx="609.2" cy="505.9" rx="3.60" ry="2.67" fill="#2a56c8" filter="url(#b6)"/>
<ellipse cx="656.4" cy="499.3" rx="4.27" ry="2.40" fill="#2a56c8" filter="url(#b6)"/>
<ellipse cx="667.8" cy="501.7" rx="3.73" ry="2.93" fill="#2a56c8" filter="url(#b6)" transform="rotate(30 667.8 501.7)"/>
<ellipse cx="686.7" cy="499.9" rx="3.73" ry="2.67" fill="#2a56c8" filter="url(#b6)"/>
<ellipse cx="704.0" cy="486.0" rx="3.73" ry="2.93" fill="#2a56c8" filter="url(#b6)"/>
<ellipse cx="685.1" cy="480.9" rx="3.33" ry="1.33" fill="#2a56c8" filter="url(#b6)"/>
<ellipse cx="721.9" cy="481.6" rx="2.93" ry="1.87" fill="#2a56c8" filter="url(#b6)"/>
<ellipse cx="585.8" cy="512.4" rx="2.93" ry="2.13" fill="#2a56c8" filter="url(#b6)"/>
<ellipse cx="610.8" cy="516.3" rx="3.73" ry="2.40" fill="#2a56c8" filter="url(#b6)"/>
<ellipse cx="701.9" cy="511.4" rx="3.73" ry="2.40" fill="#2a56c8" filter="url(#b6)"/>
<ellipse cx="678.3" cy="516.7" rx="3.33" ry="2.40" fill="#2a56c8" filter="url(#b6)"/>
<ellipse cx="714.4" cy="522.2" rx="3.33" ry="2.67" fill="#2a56c8" filter="url(#b6)"/>
<ellipse cx="613.1" cy="529.5" rx="3.73" ry="2.13" fill="#2a56c8" filter="url(#b6)" transform="rotate(-20 613.1 529.5)"/>
<ellipse cx="641.8" cy="532.2" rx="3.33" ry="2.40" fill="#2a56c8" filter="url(#b6)"/>
<ellipse cx="665.0" cy="526.7" rx="3.33" ry="2.67" fill="#2a56c8" filter="url(#b6)"/>
<ellipse cx="689.3" cy="530.9" rx="3.60" ry="2.67" fill="#2a56c8" filter="url(#b6)"/>
<ellipse cx="701.1" cy="537.1" rx="3.60" ry="2.67" fill="#2a56c8" filter="url(#b6)"/>
<ellipse cx="703.6" cy="544.3" rx="2.93" ry="3.33" fill="#2a56c8" filter="url(#b6)"/>
<ellipse cx="671.7" cy="542.4" rx="3.33" ry="2.40" fill="#2a56c8" filter="url(#b6)"/>
<ellipse cx="594.6" cy="544.1" rx="4.00" ry="2.13" fill="#2a56c8" filter="url(#b6)"/>
<ellipse cx="656.1" cy="548.2" rx="4.00" ry="2.40" fill="#2a56c8" filter="url(#b6)"/>
<ellipse cx="701.9" cy="553.8" rx="2.93" ry="2.67" fill="#2a56c8" filter="url(#b6)"/>
<ellipse cx="635.3" cy="557.9" rx="2.93" ry="2.93" fill="#2a56c8" filter="url(#b6)"/>
<ellipse cx="681.4" cy="559.8" rx="3.33" ry="2.93" fill="#2a56c8" filter="url(#b6)"/>
<ellipse cx="700.1" cy="560.7" rx="2.93" ry="2.93" fill="#2a56c8" filter="url(#b6)"/>
<ellipse cx="590.4" cy="559.3" rx="2.93" ry="2.13" fill="#2a56c8" filter="url(#b6)"/>
<ellipse cx="607.8" cy="563.8" rx="3.33" ry="2.40" fill="#2a56c8" filter="url(#b6)"/>
<ellipse cx="671.0" cy="563.8" rx="2.93" ry="2.67" fill="#2a56c8" filter="url(#b6)"/>
<ellipse cx="625.1" cy="566.6" rx="3.33" ry="2.67" fill="#2a56c8" filter="url(#b6)"/>
<ellipse cx="718.2" cy="566.3" rx="3.33" ry="2.40" fill="#2a56c8" filter="url(#b6)"/>
<ellipse cx="595.3" cy="571.8" rx="3.60" ry="2.67" fill="#2a56c8" filter="url(#b6)"/>
<ellipse cx="608.5" cy="570.7" rx="2.67" ry="2.67" fill="#2a56c8" filter="url(#b6)"/>
<ellipse cx="658.5" cy="572.5" rx="2.93" ry="2.93" fill="#2a56c8" filter="url(#b6)"/>
<ellipse cx="665.0" cy="571.8" rx="2.40" ry="2.40" fill="#2a56c8" filter="url(#b6)"/>
<ellipse cx="650.1" cy="575.7" rx="3.33" ry="2.40" fill="#2a56c8" filter="url(#b6)"/>
<ellipse cx="584.2" cy="485.0" rx="1.33" ry="2.40" fill="#2a56c8" filter="url(#b6)"/>
</g>
<text x="586.40" y="490.10" font-size="6.4" font-weight="bold" fill="#fff" textLength="22.80" lengthAdjust="spacingAndGlyphs">50μM</text>
<line x1="588.80" y1="492.60" x2="609.80" y2="492.60" stroke="#fff" stroke-width="1.1"/>
<clipPath id="ci01"><rect x="746.6" y="480" width="143.3" height="98.2"/></clipPath>
<g clip-path="url(#ci01)">
<rect x="746.60" y="480.00" width="143.30" height="98.20" fill="#070001"/>
<rect x="746.6" y="480" width="143.3" height="98.2" fill="#d02020" opacity="0.02"/>
<g filter="url(#tex)">
<rect x="746.60" y="480.00" width="143.30" height="98.20" fill="#d02020" opacity="0"/>
<ellipse cx="861.4" cy="489.0" rx="6.9" ry="5.5" fill="#d8242a" opacity="0.13" filter="url(#b1)" transform="rotate(-6 861.4 489.0)"/>
<ellipse cx="827.6" cy="493.2" rx="7.1" ry="3.9" fill="#d8242a" opacity="0.12" filter="url(#b1)" transform="rotate(-21 827.6 493.2)"/>
<ellipse cx="788.7" cy="497.2" rx="5.4" ry="4.9" fill="#d8242a" opacity="0.09" filter="url(#b1)" transform="rotate(8 788.7 497.2)"/>
<ellipse cx="781.3" cy="500.1" rx="4.4" ry="4.9" fill="#d8242a" opacity="0.15" filter="url(#b1)" transform="rotate(-25 781.3 500.1)"/>
<ellipse cx="761.8" cy="495.8" rx="6.2" ry="4.5" fill="#d8242a" opacity="0.10" filter="url(#b1)" transform="rotate(-48 761.8 495.8)"/>
<ellipse cx="764.9" cy="481.7" rx="6.6" ry="3.7" fill="#d8242a" opacity="0.11" filter="url(#b1)" transform="rotate(30 764.9 481.7)"/>
<ellipse cx="754.2" cy="503.6" rx="8.9" ry="5.6" fill="#d8242a" opacity="0.13" filter="url(#b1)" transform="rotate(29 754.2 503.6)"/>
<ellipse cx="802.5" cy="503.0" rx="7.6" ry="5.5" fill="#d8242a" opacity="0.09" filter="url(#b1)" transform="rotate(-59 802.5 503.0)"/>
<ellipse cx="806.7" cy="505.8" rx="6.8" ry="4.3" fill="#d8242a" opacity="0.09" filter="url(#b1)" transform="rotate(-54 806.7 505.8)"/>
<ellipse cx="784.5" cy="510.3" rx="6.6" ry="3.8" fill="#d8242a" opacity="0.08" filter="url(#b1)" transform="rotate(2 784.5 510.3)"/>
<ellipse cx="841.3" cy="510.7" rx="5.7" ry="4.1" fill="#d8242a" opacity="0.09" filter="url(#b1)" transform="rotate(12 841.3 510.7)"/>
<ellipse cx="802.1" cy="523.0" rx="6.7" ry="4.5" fill="#d8242a" opacity="0.13" filter="url(#b1)" transform="rotate(-7 802.1 523.0)"/>
<ellipse cx="882.2" cy="525.7" rx="6.9" ry="6.2" fill="#d8242a" opacity="0.13" filter="url(#b1)" transform="rotate(-3 882.2 525.7)"/>
<ellipse cx="868.3" cy="530.6" rx="7.2" ry="6.3" fill="#d8242a" opacity="0.12" filter="url(#b1)" transform="rotate(12 868.3 530.6)"/>
<ellipse cx="835.1" cy="533.5" rx="7.6" ry="6.1" fill="#d8242a" opacity="0.17" filter="url(#b1)" transform="rotate(-34 835.1 533.5)"/>
<ellipse cx="765.6" cy="539.2" rx="8.1" ry="5.1" fill="#d8242a" opacity="0.10" filter="url(#b1)" transform="rotate(10 765.6 539.2)"/>
<ellipse cx="806.2" cy="547.1" rx="5.4" ry="6.0" fill="#d8242a" opacity="0.14" filter="url(#b1)" transform="rotate(-23 806.2 547.1)"/>
<ellipse cx="824.8" cy="547.9" rx="4.6" ry="5.6" fill="#d8242a" opacity="0.17" filter="url(#b1)" transform="rotate(-51 824.8 547.9)"/>
<ellipse cx="834.6" cy="553.3" rx="5.0" ry="7.7" fill="#d8242a" opacity="0.14" filter="url(#b1)" transform="rotate(24 834.6 553.3)"/>
<ellipse cx="794.7" cy="558.9" rx="4.7" ry="4.2" fill="#d8242a" opacity="0.10" filter="url(#b1)" transform="rotate(-41 794.7 558.9)"/>
<ellipse cx="871.9" cy="561.6" rx="5.1" ry="5.8" fill="#d8242a" opacity="0.09" filter="url(#b1)" transform="rotate(-21 871.9 561.6)"/>
<ellipse cx="761.7" cy="568.6" rx="5.8" ry="8.1" fill="#d8242a" opacity="0.12" filter="url(#b1)" transform="rotate(-1 761.7 568.6)"/>
<ellipse cx="782.5" cy="572.7" rx="7.2" ry="5.2" fill="#d8242a" opacity="0.13" filter="url(#b1)" transform="rotate(3 782.5 572.7)"/>
<ellipse cx="831.0" cy="572.1" rx="8.7" ry="7.1" fill="#d8242a" opacity="0.15" filter="url(#b1)" transform="rotate(17 831.0 572.1)"/>
<ellipse cx="887.7" cy="570.0" rx="3.3" ry="5.9" fill="#d8242a" opacity="0.16" filter="url(#b1)" transform="rotate(13 887.7 570.0)"/>
<ellipse cx="748.8" cy="518.0" rx="3.7" ry="5.5" fill="#d8242a" opacity="0.16" filter="url(#b1)" transform="rotate(13 748.8 518.0)"/>
<ellipse cx="803.3" cy="482.3" rx="5.5" ry="2.2" fill="#d8242a" opacity="0.14" filter="url(#b1)" transform="rotate(57 803.3 482.3)"/>
<ellipse cx="765.2" cy="539.9" rx="11.8" ry="4.2" fill="#dc2228" opacity="0.78" filter="url(#b1)"/>
<ellipse cx="777.7" cy="514.9" rx="18.1" ry="3.1" fill="#dc2228" opacity="0.61" filter="url(#b1)" transform="rotate(-32 777.7 514.9)"/>
<ellipse cx="881.9" cy="524.6" rx="6.9" ry="5.8" fill="#dc2228" opacity="0.74" filter="url(#b1)"/>
<ellipse cx="862.0" cy="489.2" rx="6.7" ry="4.9" fill="#dc2228" opacity="0.49" filter="url(#b1)"/>
<ellipse cx="866.6" cy="531.6" rx="5.8" ry="5.3" fill="#dc2228" opacity="0.49" filter="url(#b1)"/>
<ellipse cx="834.7" cy="534.3" rx="6.2" ry="4.9" fill="#dc2228" opacity="0.49" filter="url(#b1)"/>
<ellipse cx="754.1" cy="504.5" rx="6.9" ry="4.9" fill="#dc2228" opacity="0.53" filter="url(#b1)"/>
<ellipse cx="870.5" cy="560.7" rx="7.6" ry="6.2" fill="#dc2228" opacity="0.33" filter="url(#b4)"/>
<ellipse cx="845.8" cy="573.2" rx="8.3" ry="1.9" fill="#dc2228" opacity="0.57" filter="url(#b1)" transform="rotate(40 845.8 573.2)"/>
<ellipse cx="761.1" cy="564.9" rx="2.2" ry="7.6" fill="#dc2228" opacity="0.49" filter="url(#b1)"/>
<ellipse cx="829.8" cy="550.3" rx="7.6" ry="4.9" fill="#dc2228" opacity="0.37" filter="url(#b4)" transform="rotate(30 829.8 550.3)"/>
<ellipse cx="831.9" cy="492.0" rx="11.1" ry="1.9" fill="#dc2228" opacity="0.41" filter="url(#b1)" transform="rotate(-12 831.9 492.0)"/>
<ellipse cx="808.3" cy="507.2" rx="8.3" ry="2.5" fill="#dc2228" opacity="0.49" filter="url(#b1)" transform="rotate(-25 808.3 507.2)"/>
<ellipse cx="793.7" cy="560.7" rx="3.1" ry="4.9" fill="#dc2228" opacity="0.45" filter="url(#b1)"/>
<ellipse cx="781.9" cy="570.4" rx="2.5" ry="6.2" fill="#dc2228" opacity="0.45" filter="url(#b1)" transform="rotate(-35 781.9 570.4)"/>
<ellipse cx="808.3" cy="549.6" rx="3.5" ry="5.6" fill="#dc2228" opacity="0.41" filter="url(#b1)" transform="rotate(-15 808.3 549.6)"/>
<ellipse cx="829.1" cy="510.7" rx="1.7" ry="1.7" fill="#dc2228" opacity="0.90" filter="url(#b5)"/>
<ellipse cx="762.4" cy="484.3" rx="6.9" ry="2.8" fill="#dc2228" opacity="0.45" filter="url(#b1)"/>
<ellipse cx="789.5" cy="498.9" rx="4.9" ry="4.2" fill="#dc2228" opacity="0.33" filter="url(#b1)"/>
<ellipse cx="887.4" cy="503.8" rx="1.9" ry="4.9" fill="#dc2228" opacity="0.49" filter="url(#b1)" transform="rotate(20 887.4 503.8)"/>
<ellipse cx="749.9" cy="521.8" rx="3.5" ry="5.6" fill="#dc2228" opacity="0.41" filter="url(#b1)"/>
<ellipse cx="801.3" cy="524.6" rx="6.2" ry="3.5" fill="#dc2228" opacity="0.33" filter="url(#b1)" transform="rotate(-20 801.3 524.6)"/>
<ellipse cx="804.1" cy="481.6" rx="4.2" ry="1.4" fill="#dc2228" opacity="0.49" filter="url(#b1)"/>
<ellipse cx="843.0" cy="510.7" rx="5.6" ry="2.8" fill="#dc2228" opacity="0.37" filter="url(#b1)" transform="rotate(-15 843.0 510.7)"/>
<ellipse cx="831.9" cy="571.8" rx="5.6" ry="4.9" fill="#dc2228" opacity="0.29" filter="url(#b4)"/>
<ellipse cx="761.1" cy="495.4" rx="5.6" ry="3.5" fill="#dc2228" opacity="0.33" filter="url(#b1)"/>
</g>
<ellipse cx="765.2" cy="539.9" rx="9.4" ry="3.3" fill="#e8282e" opacity="0.62" filter="url(#b1)"/>
<ellipse cx="777.7" cy="514.9" rx="14.4" ry="2.4" fill="#e8282e" opacity="0.49" filter="url(#b1)" transform="rotate(-32 777.7 514.9)"/>
<ellipse cx="881.9" cy="524.6" rx="5.6" ry="4.7" fill="#e8282e" opacity="0.59" filter="url(#b1)"/>
<ellipse cx="845.8" cy="573.2" rx="6.7" ry="1.6" fill="#e8282e" opacity="0.45" filter="url(#b1)" transform="rotate(40 845.8 573.2)"/>
<path d="M786.5 577.9h.01M809.1 560.0h.01M885.5 526.2h.01M805.1 511.5h.01M761.6 495.8h.01M805.6 528.7h.01M841.5 519.3h.01M855.6 483.6h.01M759.2 504.8h.01M763.2 555.9h.01M870.5 561.0h.01M746.8 565.4h.01M812.8 485.3h.01M820.9 541.1h.01M818.0 523.4h.01M754.0 506.2h.01M765.4 508.3h.01M872.8 527.6h.01M750.7 541.9h.01M861.1 549.7h.01M791.1 481.3h.01M805.1 502.1h.01M867.2 491.1h.01M882.3 543.6h.01M768.7 571.6h.01M788.4 549.3h.01M806.1 527.4h.01M814.3 524.9h.01M767.3 498.7h.01M832.5 553.3h.01M766.2 486.9h.01M857.3 563.9h.01M795.3 557.4h.01M784.9 480.3h.01M850.6 562.2h.01M829.7 544.8h.01M870.6 523.9h.01M816.0 512.6h.01M855.9 517.0h.01M880.3 565.4h.01M887.1 503.5h.01M801.5 564.1h.01M805.5 511.2h.01M814.4 569.7h.01M801.2 577.1h.01M860.2 544.0h.01M768.4 574.7h.01M764.7 574.8h.01M794.2 489.9h.01M867.7 489.8h.01M877.1 481.5h.01M767.3 565.5h.01M885.6 487.3h.01M858.6 506.0h.01M835.9 519.0h.01M758.1 512.3h.01M843.2 532.4h.01M883.3 541.6h.01M873.8 527.9h.01M824.1 540.6h.01M780.2 547.2h.01M787.8 502.3h.01M759.6 576.1h.01M855.6 549.1h.01M761.0 496.3h.01M789.5 482.8h.01M793.1 485.5h.01M798.0 522.3h.01M781.6 520.5h.01M844.3 497.7h.01M771.7 539.9h.01M801.4 547.1h.01M817.9 537.3h.01M779.9 542.6h.01M812.5 545.5h.01M875.4 525.7h.01M787.8 533.7h.01M757.2 572.8h.01M888.1 509.4h.01M884.5 547.8h.01M812.1 509.7h.01M889.8 563.8h.01M761.9 517.4h.01M798.0 509.1h.01M846.8 482.2h.01M865.5 518.9h.01M747.8 564.9h.01M858.1 575.6h.01M877.1 553.2h.01M865.9 568.7h.01M857.8 502.6h.01M861.5 501.5h.01M773.8 504.6h.01M854.9 555.4h.01M844.2 493.4h.01M760.5 541.6h.01M752.2 557.4h.01M751.4 515.8h.01M765.4 569.3h.01M793.4 520.8h.01M775.4 557.2h.01M872.2 515.9h.01M818.5 506.8h.01M770.2 569.8h.01M881.9 575.0h.01M788.9 565.5h.01M861.8 526.0h.01M757.4 554.1h.01M778.9 546.4h.01M843.2 519.0h.01M867.8 534.7h.01M759.5 518.7h.01M784.5 492.1h.01M799.4 553.6h.01M784.2 517.4h.01M838.1 516.5h.01M843.3 526.3h.01M835.4 572.6h.01M793.6 539.9h.01M839.4 542.4h.01M813.1 548.8h.01M839.6 491.5h.01M753.1 483.7h.01M889.3 491.4h.01M780.2 532.8h.01M802.3 516.4h.01M882.6 548.4h.01M824.0 537.7h.01M850.7 566.9h.01M840.5 561.9h.01M834.8 572.2h.01M786.7 547.8h.01M777.7 523.7h.01M780.4 515.6h.01M887.2 516.1h.01M875.8 543.3h.01M755.3 507.1h.01M885.3 573.2h.01M864.7 489.0h.01M777.0 542.8h.01M885.8 485.0h.01M794.4 577.1h.01M859.4 500.2h.01M865.5 534.4h.01M830.6 559.8h.01M780.0 556.0h.01M859.6 538.5h.01M786.3 576.6h.01M888.1 533.0h.01M861.0 490.8h.01M870.8 492.9h.01M797.9 557.4h.01M831.0 481.5h.01M784.6 492.4h.01M806.9 491.2h.01M755.7 524.0h.01M798.5 538.3h.01M811.4 501.8h.01M834.7 551.4h.01M876.8 544.7h.01M789.8 543.2h.01M751.1 578.1h.01M868.0 521.9h.01M762.1 550.0h.01M810.2 568.3h.01M792.8 494.6h.01M764.7 541.3h.01M830.5 549.9h.01M801.2 538.7h.01M788.9 529.6h.01M808.2 557.9h.01M763.0 544.3h.01M872.4 534.1h.01M870.6 522.2h.01M873.9 520.6h.01M865.2 519.2h.01M851.2 510.7h.01M791.4 505.0h.01M883.2 547.4h.01M814.6 489.0h.01M758.8 522.4h.01M853.3 516.6h.01M765.2 485.9h.01M883.7 535.2h.01M842.6 520.3h.01M871.8 572.4h.01M807.2 569.9h.01M754.0 508.2h.01M791.4 490.2h.01M819.3 495.2h.01M815.7 563.2h.01M796.8 534.6h.01M763.1 507.4h.01M779.0 522.1h.01M827.0 555.4h.01M835.7 546.3h.01M826.4 539.8h.01M840.9 548.1h.01M750.7 506.8h.01M855.9 570.5h.01M796.9 497.8h.01M767.1 544.6h.01M756.6 552.8h.01M885.9 489.0h.01M822.6 516.9h.01M811.6 495.5h.01M791.3 511.9h.01M881.5 538.5h.01M873.2 495.3h.01M854.7 484.9h.01M758.3 523.5h.01M807.4 539.6h.01M806.0 501.2h.01M820.0 513.9h.01M762.5 546.6h.01M831.6 531.7h.01M790.8 501.7h.01M887.7 485.4h.01M775.9 572.8h.01M856.6 555.0h.01" stroke="#d8262a" stroke-width="1.0" stroke-linecap="round" fill="none" opacity="0.45"/>
<ellipse cx="862.0" cy="488.8" rx="3.33" ry="2.67" fill="#4a50d0" filter="url(#b6)"/>
<ellipse cx="825.9" cy="493.1" rx="3.60" ry="2.00" fill="#4a50d0" filter="url(#b6)"/>
<ellipse cx="789.5" cy="498.2" rx="2.93" ry="2.67" fill="#4a50d0" filter="url(#b6)"/>
<ellipse cx="779.8" cy="499.6" rx="2.40" ry="2.67" fill="#4a50d0" filter="url(#b6)"/>
<ellipse cx="761.1" cy="494.5" rx="2.93" ry="2.13" fill="#4a50d0" filter="url(#b6)"/>
<ellipse cx="763.8" cy="482.2" rx="3.33" ry="1.87" fill="#4a50d0" filter="url(#b6)"/>
<ellipse cx="754.1" cy="504.2" rx="3.60" ry="2.27" fill="#4a50d0" filter="url(#b6)"/>
<ellipse cx="801.1" cy="502.7" rx="3.33" ry="2.40" fill="#4a50d0" filter="url(#b6)" transform="rotate(-30 801.1 502.7)"/>
<ellipse cx="806.5" cy="505.9" rx="3.33" ry="2.13" fill="#4a50d0" filter="url(#b6)"/>
<ellipse cx="785.4" cy="509.3" rx="3.73" ry="2.13" fill="#4a50d0" filter="url(#b6)"/>
<ellipse cx="842.7" cy="510.3" rx="3.33" ry="2.40" fill="#4a50d0" filter="url(#b6)"/>
<ellipse cx="800.6" cy="524.2" rx="3.60" ry="2.40" fill="#4a50d0" filter="url(#b6)"/>
<ellipse cx="881.9" cy="524.9" rx="3.73" ry="3.33" fill="#6348cc" filter="url(#b6)"/>
<ellipse cx="866.9" cy="531.1" rx="3.33" ry="2.93" fill="#4a50d0" filter="url(#b6)"/>
<ellipse cx="834.7" cy="533.2" rx="3.33" ry="2.67" fill="#6348cc" filter="url(#b6)"/>
<ellipse cx="765.2" cy="539.9" rx="4.67" ry="2.93" fill="#6348cc" filter="url(#b6)"/>
<ellipse cx="807.6" cy="548.5" rx="2.67" ry="2.93" fill="#4a50d0" filter="url(#b6)"/>
<ellipse cx="826.3" cy="548.5" rx="2.40" ry="2.93" fill="#4a50d0" filter="url(#b6)"/>
<ellipse cx="834.0" cy="552.1" rx="2.13" ry="3.33" fill="#4a50d0" filter="url(#b6)"/>
<ellipse cx="793.7" cy="559.8" rx="2.67" ry="2.40" fill="#4a50d0" filter="url(#b6)"/>
<ellipse cx="870.5" cy="560.7" rx="2.93" ry="3.33" fill="#27409c" filter="url(#b6)"/>
<ellipse cx="761.3" cy="567.7" rx="2.40" ry="3.33" fill="#4a50d0" filter="url(#b6)"/>
<ellipse cx="781.9" cy="572.1" rx="2.93" ry="2.13" fill="#4a50d0" filter="url(#b6)" transform="rotate(40 781.9 572.1)"/>
<ellipse cx="831.2" cy="571.8" rx="3.60" ry="2.93" fill="#4a50d0" filter="url(#b6)"/>
<ellipse cx="888.6" cy="571.1" rx="1.33" ry="2.40" fill="#4a50d0" filter="url(#b6)"/>
<ellipse cx="748.6" cy="519.3" rx="1.60" ry="2.40" fill="#4a50d0" filter="url(#b6)"/>
<ellipse cx="804.8" cy="481.6" rx="2.67" ry="1.07" fill="#4a50d0" filter="url(#b6)"/>
</g>
<text x="749.80" y="490.10" font-size="6.4" font-weight="bold" fill="#fff" textLength="22.80" lengthAdjust="spacingAndGlyphs">50μM</text>
<line x1="752.20" y1="492.60" x2="773.20" y2="492.60" stroke="#fff" stroke-width="1.1"/>
<clipPath id="ci02"><rect x="909.1" y="480" width="141.4" height="98.2"/></clipPath>
<g clip-path="url(#ci02)">
<rect x="909.10" y="480.00" width="141.40" height="98.20" fill="#0d0202"/>
<rect x="909.1" y="480" width="141.4" height="98.2" fill="#d02020" opacity="0.01"/>
<g filter="url(#tex)">
<rect x="909.10" y="480.00" width="141.40" height="98.20" fill="#d02020" opacity="0"/>
<ellipse cx="953.2" cy="486.1" rx="6.1" ry="6.9" fill="#d8242a" opacity="0.20" filter="url(#b1)" transform="rotate(-44 953.2 486.1)"/>
<ellipse cx="987.8" cy="486.6" rx="6.1" ry="5.6" fill="#d8242a" opacity="0.27" filter="url(#b1)" transform="rotate(43 987.8 486.6)"/>
<ellipse cx="1001.1" cy="487.1" rx="6.7" ry="6.7" fill="#d8242a" opacity="0.20" filter="url(#b1)" transform="rotate(-2 1001.1 487.1)"/>
<ellipse cx="1026.2" cy="489.5" rx="5.7" ry="7.2" fill="#d8242a" opacity="0.23" filter="url(#b1)" transform="rotate(30 1026.2 489.5)"/>
<ellipse cx="1036.3" cy="484.4" rx="6.7" ry="4.8" fill="#d8242a" opacity="0.29" filter="url(#b1)" transform="rotate(-39 1036.3 484.4)"/>
<ellipse cx="1041.4" cy="490.2" rx="7.9" ry="6.9" fill="#d8242a" opacity="0.29" filter="url(#b1)" transform="rotate(-49 1041.4 490.2)"/>
<ellipse cx="1018.6" cy="491.6" rx="6.0" ry="5.4" fill="#d8242a" opacity="0.20" filter="url(#b1)" transform="rotate(-50 1018.6 491.6)"/>
<ellipse cx="1029.7" cy="491.9" rx="5.7" ry="4.2" fill="#d8242a" opacity="0.18" filter="url(#b1)" transform="rotate(-39 1029.7 491.9)"/>
<ellipse cx="918.5" cy="495.8" rx="6.2" ry="5.1" fill="#d8242a" opacity="0.16" filter="url(#b1)" transform="rotate(39 918.5 495.8)"/>
<ellipse cx="911.1" cy="493.0" rx="5.6" ry="5.6" fill="#d8242a" opacity="0.27" filter="url(#b1)" transform="rotate(-30 911.1 493.0)"/>
<ellipse cx="944.7" cy="496.2" rx="6.5" ry="4.3" fill="#d8242a" opacity="0.15" filter="url(#b1)" transform="rotate(37 944.7 496.2)"/>
<ellipse cx="936.8" cy="500.1" rx="6.2" ry="6.2" fill="#d8242a" opacity="0.21" filter="url(#b1)" transform="rotate(36 936.8 500.1)"/>
<ellipse cx="964.3" cy="500.5" rx="7.4" ry="6.0" fill="#d8242a" opacity="0.28" filter="url(#b1)" transform="rotate(22 964.3 500.5)"/>
<ellipse cx="982.8" cy="499.7" rx="7.0" ry="6.4" fill="#d8242a" opacity="0.23" filter="url(#b1)" transform="rotate(-41 982.8 499.7)"/>
<ellipse cx="989.5" cy="497.4" rx="5.8" ry="7.3" fill="#d8242a" opacity="0.26" filter="url(#b1)" transform="rotate(15 989.5 497.4)"/>
<ellipse cx="944.1" cy="505.6" rx="5.6" ry="4.6" fill="#d8242a" opacity="0.20" filter="url(#b1)" transform="rotate(-53 944.1 505.6)"/>
<ellipse cx="1012.5" cy="504.6" rx="7.3" ry="5.3" fill="#d8242a" opacity="0.30" filter="url(#b1)" transform="rotate(-49 1012.5 504.6)"/>
<ellipse cx="1042.5" cy="504.5" rx="6.0" ry="5.5" fill="#d8242a" opacity="0.22" filter="url(#b1)" transform="rotate(41 1042.5 504.5)"/>
<ellipse cx="1033.9" cy="506.4" rx="7.1" ry="6.5" fill="#d8242a" opacity="0.23" filter="url(#b1)" transform="rotate(-36 1033.9 506.4)"/>
<ellipse cx="911.0" cy="510.0" rx="4.3" ry="4.8" fill="#d8242a" opacity="0.14" filter="url(#b1)" transform="rotate(-47 911.0 510.0)"/>
<ellipse cx="1020.2" cy="510.5" rx="8.3" ry="6.0" fill="#d8242a" opacity="0.14" filter="url(#b1)" transform="rotate(22 1020.2 510.5)"/>
<ellipse cx="972.0" cy="510.3" rx="6.0" ry="6.8" fill="#d8242a" opacity="0.20" filter="url(#b1)" transform="rotate(6 972.0 510.3)"/>
<ellipse cx="923.7" cy="514.5" rx="6.5" ry="7.1" fill="#d8242a" opacity="0.19" filter="url(#b1)" transform="rotate(39 923.7 514.5)"/>
<ellipse cx="1019.4" cy="517.5" rx="7.7" ry="5.6" fill="#d8242a" opacity="0.24" filter="url(#b1)" transform="rotate(-52 1019.4 517.5)"/>
<ellipse cx="993.9" cy="519.2" rx="6.6" ry="5.8" fill="#d8242a" opacity="0.17" filter="url(#b1)" transform="rotate(49 993.9 519.2)"/>
<ellipse cx="981.5" cy="522.7" rx="7.0" ry="5.1" fill="#d8242a" opacity="0.18" filter="url(#b1)" transform="rotate(14 981.5 522.7)"/>
<ellipse cx="1048.5" cy="521.9" rx="4.1" ry="5.1" fill="#d8242a" opacity="0.24" filter="url(#b1)" transform="rotate(24 1048.5 521.9)"/>
<ellipse cx="939.4" cy="523.2" rx="7.2" ry="7.2" fill="#d8242a" opacity="0.18" filter="url(#b1)" transform="rotate(-12 939.4 523.2)"/>
<ellipse cx="945.6" cy="529.7" rx="4.7" ry="5.2" fill="#d8242a" opacity="0.25" filter="url(#b1)" transform="rotate(34 945.6 529.7)"/>
<ellipse cx="989.6" cy="531.3" rx="5.1" ry="6.3" fill="#d8242a" opacity="0.24" filter="url(#b1)" transform="rotate(5 989.6 531.3)"/>
<ellipse cx="1025.0" cy="529.1" rx="7.8" ry="5.3" fill="#d8242a" opacity="0.16" filter="url(#b1)" transform="rotate(38 1025.0 529.1)"/>
<ellipse cx="1037.2" cy="532.5" rx="5.9" ry="5.9" fill="#d8242a" opacity="0.14" filter="url(#b1)" transform="rotate(48 1037.2 532.5)"/>
<ellipse cx="1017.7" cy="532.7" rx="6.2" ry="5.1" fill="#d8242a" opacity="0.25" filter="url(#b1)" transform="rotate(7 1017.7 532.7)"/>
<ellipse cx="1002.4" cy="533.2" rx="6.8" ry="5.5" fill="#d8242a" opacity="0.15" filter="url(#b1)" transform="rotate(-12 1002.4 533.2)"/>
<ellipse cx="952.1" cy="534.8" rx="8.1" ry="6.0" fill="#d8242a" opacity="0.23" filter="url(#b1)" transform="rotate(55 952.1 534.8)"/>
<ellipse cx="998.2" cy="541.8" rx="5.4" ry="4.0" fill="#d8242a" opacity="0.24" filter="url(#b1)" transform="rotate(-30 998.2 541.8)"/>
<ellipse cx="967.0" cy="544.4" rx="7.6" ry="4.9" fill="#d8242a" opacity="0.26" filter="url(#b1)" transform="rotate(-31 967.0 544.4)"/>
<ellipse cx="985.6" cy="543.5" rx="7.8" ry="5.0" fill="#d8242a" opacity="0.21" filter="url(#b1)" transform="rotate(46 985.6 543.5)"/>
<ellipse cx="990.0" cy="545.5" rx="5.1" ry="4.0" fill="#d8242a" opacity="0.20" filter="url(#b1)" transform="rotate(38 990.0 545.5)"/>
<ellipse cx="926.1" cy="546.2" rx="7.0" ry="5.6" fill="#d8242a" opacity="0.29" filter="url(#b1)" transform="rotate(44 926.1 546.2)"/>
<ellipse cx="940.4" cy="548.5" rx="7.0" ry="5.1" fill="#d8242a" opacity="0.13" filter="url(#b1)" transform="rotate(1 940.4 548.5)"/>
<ellipse cx="954.5" cy="548.4" rx="5.1" ry="4.7" fill="#d8242a" opacity="0.27" filter="url(#b1)" transform="rotate(48 954.5 548.4)"/>
<ellipse cx="1026.7" cy="547.1" rx="8.4" ry="6.7" fill="#d8242a" opacity="0.20" filter="url(#b1)" transform="rotate(5 1026.7 547.1)"/>
<ellipse cx="940.2" cy="552.9" rx="7.2" ry="5.2" fill="#d8242a" opacity="0.16" filter="url(#b1)" transform="rotate(-3 940.2 552.9)"/>
<ellipse cx="923.9" cy="555.7" rx="5.9" ry="4.8" fill="#d8242a" opacity="0.19" filter="url(#b1)" transform="rotate(-13 923.9 555.7)"/>
<ellipse cx="996.8" cy="556.5" rx="5.8" ry="6.6" fill="#d8242a" opacity="0.13" filter="url(#b1)" transform="rotate(59 996.8 556.5)"/>
<ellipse cx="1017.9" cy="556.9" rx="5.2" ry="4.7" fill="#d8242a" opacity="0.15" filter="url(#b1)" transform="rotate(-56 1017.9 556.9)"/>
<ellipse cx="1028.2" cy="558.9" rx="6.6" ry="5.4" fill="#d8242a" opacity="0.15" filter="url(#b1)" transform="rotate(30 1028.2 558.9)"/>
<ellipse cx="1048.3" cy="557.2" rx="4.8" ry="5.2" fill="#d8242a" opacity="0.13" filter="url(#b1)" transform="rotate(-33 1048.3 557.2)"/>
<ellipse cx="1041.1" cy="561.6" rx="6.7" ry="5.5" fill="#d8242a" opacity="0.22" filter="url(#b1)" transform="rotate(-46 1041.1 561.6)"/>
<ellipse cx="1034.0" cy="562.5" rx="4.2" ry="4.2" fill="#d8242a" opacity="0.17" filter="url(#b1)" transform="rotate(21 1034.0 562.5)"/>
<ellipse cx="986.1" cy="562.7" rx="7.0" ry="5.9" fill="#d8242a" opacity="0.28" filter="url(#b1)" transform="rotate(16 986.1 562.7)"/>
<ellipse cx="940.6" cy="563.2" rx="5.7" ry="5.7" fill="#d8242a" opacity="0.25" filter="url(#b1)" transform="rotate(-23 940.6 563.2)"/>
<ellipse cx="925.9" cy="564.9" rx="6.2" ry="5.0" fill="#d8242a" opacity="0.20" filter="url(#b1)" transform="rotate(25 925.9 564.9)"/>
<ellipse cx="912.4" cy="569.1" rx="5.8" ry="3.7" fill="#d8242a" opacity="0.29" filter="url(#b1)" transform="rotate(9 912.4 569.1)"/>
<ellipse cx="950.7" cy="571.1" rx="7.1" ry="5.1" fill="#d8242a" opacity="0.19" filter="url(#b1)" transform="rotate(0 950.7 571.1)"/>
<ellipse cx="944.8" cy="574.6" rx="6.6" ry="5.3" fill="#d8242a" opacity="0.26" filter="url(#b1)" transform="rotate(-15 944.8 574.6)"/>
<ellipse cx="1016.3" cy="571.8" rx="6.7" ry="4.9" fill="#d8242a" opacity="0.23" filter="url(#b1)" transform="rotate(38 1016.3 571.8)"/>
<ellipse cx="1002.1" cy="576.4" rx="5.9" ry="2.8" fill="#d8242a" opacity="0.19" filter="url(#b1)" transform="rotate(-17 1002.1 576.4)"/>
<ellipse cx="963.7" cy="575.8" rx="5.6" ry="2.5" fill="#d8242a" opacity="0.21" filter="url(#b1)" transform="rotate(29 963.7 575.8)"/>
<ellipse cx="917.0" cy="481.0" rx="5.9" ry="2.4" fill="#d8242a" opacity="0.25" filter="url(#b1)" transform="rotate(60 917.0 481.0)"/>
<ellipse cx="983.8" cy="508.6" rx="3.5" ry="1.4" fill="#dc2228" opacity="0.70" filter="url(#b1)" transform="rotate(-20 983.8 508.6)"/>
<ellipse cx="1033.8" cy="486.4" rx="5.6" ry="1.4" fill="#dc2228" opacity="0.57" filter="url(#b1)" transform="rotate(-35 1033.8 486.4)"/>
<ellipse cx="989.3" cy="517.7" rx="27.8" ry="16.7" fill="#dc2228" opacity="0.13" filter="url(#b4)" transform="rotate(-30 989.3 517.7)"/>
<ellipse cx="940.7" cy="545.4" rx="20.8" ry="13.9" fill="#dc2228" opacity="0.12" filter="url(#b4)"/>
<ellipse cx="1024.1" cy="545.4" rx="20.8" ry="16.7" fill="#dc2228" opacity="0.12" filter="url(#b4)"/>
<ellipse cx="961.6" cy="503.8" rx="20.8" ry="11.1" fill="#dc2228" opacity="0.11" filter="url(#b4)"/>
<ellipse cx="1024.1" cy="503.8" rx="20.8" ry="11.1" fill="#dc2228" opacity="0.12" filter="url(#b4)" transform="rotate(-30 1024.1 503.8)"/>
<ellipse cx="996.3" cy="541.3" rx="8.3" ry="3.5" fill="#dc2228" opacity="0.33" filter="url(#b1)" transform="rotate(-20 996.3 541.3)"/>
<ellipse cx="947.7" cy="510.7" rx="5.6" ry="4.2" fill="#dc2228" opacity="0.29" filter="url(#b1)"/>
<ellipse cx="987.9" cy="534.3" rx="4.9" ry="5.6" fill="#dc2228" opacity="0.29" filter="url(#b1)"/>
<ellipse cx="985.2" cy="564.9" rx="6.2" ry="5.6" fill="#dc2228" opacity="0.29" filter="url(#b1)"/>
<ellipse cx="947.7" cy="571.8" rx="6.9" ry="4.2" fill="#dc2228" opacity="0.29" filter="url(#b1)"/>
</g>
<ellipse cx="983.8" cy="508.6" rx="2.8" ry="1.1" fill="#e8282e" opacity="0.55" filter="url(#b1)" transform="rotate(-20 983.8 508.6)"/>
<ellipse cx="1033.8" cy="486.4" rx="4.4" ry="1.1" fill="#e8282e" opacity="0.45" filter="url(#b1)" transform="rotate(-35 1033.8 486.4)"/>
<path d="M973.8 508.8h.01M915.3 499.6h.01M915.0 571.7h.01M982.0 577.1h.01M985.9 504.9h.01M1015.6 498.8h.01M959.6 556.7h.01M1031.5 512.6h.01M926.7 516.1h.01M1034.9 553.0h.01M1035.6 518.0h.01M1046.8 528.7h.01M979.4 570.8h.01M982.5 558.7h.01M1011.9 487.8h.01M994.3 560.8h.01M986.2 511.5h.01M920.4 544.9h.01M952.4 539.2h.01M969.4 547.7h.01M958.8 484.2h.01M1032.1 514.6h.01M1050.2 507.0h.01M1047.7 573.1h.01M919.7 542.6h.01M960.5 558.7h.01M1005.2 573.6h.01M929.3 539.7h.01M1019.6 483.4h.01M918.6 556.5h.01M960.9 517.6h.01M989.3 539.4h.01M1005.1 573.2h.01M961.7 554.9h.01M990.3 532.0h.01M965.4 543.8h.01M944.4 491.1h.01M1013.1 529.0h.01M963.8 535.2h.01M946.1 505.6h.01M972.2 577.8h.01M949.5 570.0h.01M978.6 492.0h.01M1029.7 524.4h.01M1036.2 523.7h.01M921.5 547.0h.01M1028.7 511.4h.01M958.2 486.4h.01M985.8 567.5h.01M1029.5 549.9h.01M1040.2 542.6h.01M1021.3 530.0h.01M926.3 499.7h.01M928.7 557.6h.01M912.8 534.4h.01M961.3 558.9h.01M987.1 540.1h.01M921.3 510.4h.01M1050.4 550.6h.01M983.4 555.5h.01M1025.5 487.2h.01M1046.6 543.1h.01M972.7 546.8h.01M957.8 566.2h.01M1019.4 542.8h.01M934.8 574.9h.01M970.3 569.4h.01M916.9 492.2h.01M930.7 496.2h.01M954.7 549.7h.01M958.0 572.4h.01M1035.6 563.1h.01M944.5 542.4h.01M987.0 492.3h.01M951.9 532.4h.01M980.2 496.6h.01M1042.2 495.1h.01M1002.2 550.8h.01M994.7 562.7h.01M988.8 561.0h.01M913.1 484.5h.01M999.8 536.6h.01M1001.2 555.3h.01M968.0 542.7h.01M979.5 541.6h.01M950.1 573.9h.01M977.4 559.0h.01M1006.0 509.2h.01M919.4 485.9h.01M971.3 527.6h.01M937.9 539.6h.01M953.3 550.5h.01M1012.9 564.5h.01M1047.0 492.8h.01M961.5 535.2h.01M954.2 525.8h.01M946.9 504.3h.01M922.8 508.5h.01M963.4 540.4h.01M944.2 565.0h.01M931.7 512.2h.01M990.8 510.7h.01M1017.0 528.9h.01M981.9 529.0h.01M952.7 482.3h.01M1042.8 529.6h.01M1045.8 501.1h.01M959.0 485.0h.01M979.1 566.6h.01M1001.6 526.2h.01M985.0 563.2h.01M970.0 566.7h.01M1012.0 555.0h.01M960.8 519.3h.01M989.7 499.1h.01M987.3 487.2h.01M980.4 555.1h.01M948.7 577.1h.01M1005.3 491.7h.01M1047.0 518.7h.01M1021.5 513.3h.01M1041.9 554.1h.01M937.2 530.0h.01M979.8 484.4h.01M928.5 512.7h.01M976.1 524.9h.01M994.8 530.6h.01M955.5 540.2h.01M932.1 577.3h.01M1013.6 509.4h.01M956.7 561.3h.01M984.4 549.6h.01M951.5 560.1h.01M961.2 546.2h.01M1047.7 537.3h.01M1021.8 551.2h.01M1006.4 482.6h.01M976.2 575.0h.01M1019.8 556.2h.01M990.8 550.8h.01M991.6 496.7h.01M998.0 540.9h.01M1028.0 494.5h.01M1005.4 483.1h.01M1043.2 490.8h.01M911.8 510.8h.01M930.5 547.8h.01M967.1 556.1h.01M1039.3 565.7h.01M1013.1 486.1h.01M928.6 500.4h.01M955.1 545.0h.01M983.4 510.8h.01M933.6 569.6h.01M957.5 514.8h.01M1018.3 550.8h.01M1000.1 548.1h.01M995.4 498.9h.01M944.0 534.8h.01M940.9 575.5h.01M951.2 508.4h.01M938.4 549.2h.01M953.9 514.3h.01M1041.1 558.1h.01M947.8 492.0h.01M1004.8 517.3h.01M1047.7 560.4h.01M1044.1 559.0h.01M950.2 508.2h.01M1010.1 514.0h.01M971.7 505.2h.01M976.8 499.8h.01M985.3 571.6h.01M1007.5 493.5h.01M996.2 537.6h.01M943.4 545.8h.01M984.2 542.6h.01M916.5 520.6h.01M1010.5 489.9h.01M1018.1 480.5h.01M986.9 571.2h.01M966.6 571.8h.01M1033.3 526.9h.01M937.3 574.7h.01M954.5 543.4h.01M1037.5 488.8h.01M990.3 532.6h.01M1011.3 572.0h.01M1038.2 497.2h.01M1033.8 497.3h.01M1039.1 577.9h.01M965.2 528.6h.01M1041.5 574.5h.01M1040.0 566.1h.01M910.4 535.8h.01M924.3 576.5h.01M949.3 577.1h.01M985.9 528.5h.01M1041.8 563.6h.01M975.3 498.9h.01M925.0 496.0h.01M974.0 505.3h.01M935.4 552.3h.01M1020.9 535.8h.01M1016.2 497.2h.01M1030.2 568.1h.01M1026.0 530.6h.01M921.4 545.7h.01M935.2 493.8h.01M954.9 504.4h.01M946.0 503.1h.01M1015.7 573.7h.01M951.8 551.0h.01M910.7 544.2h.01M1007.1 486.1h.01M925.8 510.1h.01M966.4 529.3h.01M1035.7 549.1h.01M953.1 491.5h.01M1038.6 509.0h.01M996.0 501.5h.01M928.0 495.0h.01M1014.8 539.5h.01M967.9 533.9h.01M975.7 532.8h.01M1003.0 501.4h.01M944.1 554.1h.01M1032.6 488.0h.01M972.3 549.1h.01M920.1 535.4h.01M917.8 533.8h.01M980.6 536.2h.01M930.3 512.2h.01M982.7 491.4h.01M938.1 537.3h.01M922.0 530.1h.01M1023.4 524.5h.01M981.7 524.9h.01M917.3 525.4h.01M1023.2 551.0h.01" stroke="#d8262a" stroke-width="1.0" stroke-linecap="round" fill="none" opacity="0.45"/>
<ellipse cx="953.9" cy="487.1" rx="2.93" ry="3.33" fill="#2a56c8" filter="url(#b6)"/>
<ellipse cx="988.2" cy="486.0" rx="2.93" ry="2.67" fill="#2a56c8" filter="url(#b6)"/>
<ellipse cx="1001.6" cy="487.4" rx="2.93" ry="2.93" fill="#2a56c8" filter="url(#b6)"/>
<ellipse cx="1024.8" cy="488.5" rx="2.67" ry="3.33" fill="#2a56c8" filter="url(#b6)"/>
<ellipse cx="1035.9" cy="485.0" rx="3.33" ry="2.40" fill="#2a56c8" filter="url(#b6)"/>
<ellipse cx="1040.4" cy="489.9" rx="3.33" ry="2.93" fill="#2a56c8" filter="url(#b6)"/>
<ellipse cx="1018.8" cy="492.7" rx="2.93" ry="2.67" fill="#2a56c8" filter="url(#b6)"/>
<ellipse cx="1030.0" cy="492.4" rx="2.93" ry="2.13" fill="#2a56c8" filter="url(#b6)"/>
<ellipse cx="919.9" cy="495.4" rx="2.93" ry="2.40" fill="#2a56c8" filter="url(#b6)"/>
<ellipse cx="911.6" cy="492.4" rx="2.40" ry="2.40" fill="#2a56c8" filter="url(#b6)"/>
<ellipse cx="946.0" cy="496.8" rx="3.60" ry="2.40" fill="#2a56c8" filter="url(#b6)"/>
<ellipse cx="936.3" cy="501.0" rx="2.67" ry="2.67" fill="#2a56c8" filter="url(#b6)"/>
<ellipse cx="964.1" cy="500.3" rx="3.33" ry="2.67" fill="#2a56c8" filter="url(#b6)"/>
<ellipse cx="982.4" cy="499.3" rx="2.93" ry="2.67" fill="#2a56c8" filter="url(#b6)"/>
<ellipse cx="989.8" cy="497.5" rx="2.67" ry="3.33" fill="#2a56c8" filter="url(#b6)"/>
<ellipse cx="945.6" cy="505.6" rx="2.93" ry="2.40" fill="#2a56c8" filter="url(#b6)"/>
<ellipse cx="1012.9" cy="505.2" rx="3.33" ry="2.40" fill="#2a56c8" filter="url(#b6)" transform="rotate(-30 1012.9 505.2)"/>
<ellipse cx="1042.1" cy="504.5" rx="2.93" ry="2.67" fill="#2a56c8" filter="url(#b6)"/>
<ellipse cx="1033.1" cy="507.7" rx="2.93" ry="2.67" fill="#2a56c8" filter="url(#b6)"/>
<ellipse cx="911.6" cy="510.0" rx="2.40" ry="2.67" fill="#2a56c8" filter="url(#b6)"/>
<ellipse cx="1019.2" cy="509.6" rx="3.33" ry="2.40" fill="#2a56c8" filter="url(#b6)"/>
<ellipse cx="973.1" cy="511.0" rx="2.93" ry="3.33" fill="#27409c" filter="url(#b6)"/>
<ellipse cx="923.4" cy="514.9" rx="2.67" ry="2.93" fill="#2a56c8" filter="url(#b6)"/>
<ellipse cx="1019.9" cy="517.2" rx="3.33" ry="2.40" fill="#2a56c8" filter="url(#b6)"/>
<ellipse cx="994.5" cy="519.1" rx="3.33" ry="2.93" fill="#2a56c8" filter="url(#b6)"/>
<ellipse cx="981.0" cy="521.6" rx="2.93" ry="2.13" fill="#2a56c8" filter="url(#b6)"/>
<ellipse cx="1047.9" cy="520.7" rx="2.13" ry="2.67" fill="#2a56c8" filter="url(#b6)"/>
<ellipse cx="939.8" cy="522.9" rx="2.93" ry="2.93" fill="#2a56c8" filter="url(#b6)"/>
<ellipse cx="945.2" cy="530.2" rx="2.67" ry="2.93" fill="#2a56c8" filter="url(#b6)"/>
<ellipse cx="987.9" cy="530.2" rx="2.93" ry="3.60" fill="#2a56c8" filter="url(#b6)"/>
<ellipse cx="1025.4" cy="529.5" rx="4.27" ry="2.93" fill="#2a56c8" filter="url(#b6)"/>
<ellipse cx="1037.2" cy="533.2" rx="3.33" ry="3.33" fill="#27409c" filter="url(#b6)"/>
<ellipse cx="1016.7" cy="532.7" rx="2.93" ry="2.40" fill="#2a56c8" filter="url(#b6)"/>
<ellipse cx="1003.9" cy="533.6" rx="2.93" ry="2.40" fill="#2a56c8" filter="url(#b6)"/>
<ellipse cx="953.2" cy="535.7" rx="3.60" ry="2.67" fill="#2a56c8" filter="url(#b6)"/>
<ellipse cx="999.3" cy="542.0" rx="2.67" ry="2.00" fill="#2a56c8" filter="url(#b6)"/>
<ellipse cx="965.4" cy="544.1" rx="3.33" ry="2.13" fill="#2a56c8" filter="url(#b6)"/>
<ellipse cx="985.4" cy="544.1" rx="3.33" ry="2.13" fill="#2a56c8" filter="url(#b6)"/>
<ellipse cx="991.0" cy="545.0" rx="2.40" ry="1.87" fill="#2a56c8" filter="url(#b6)"/>
<ellipse cx="926.8" cy="546.6" rx="3.33" ry="2.67" fill="#27409c" filter="url(#b6)"/>
<ellipse cx="941.4" cy="548.2" rx="2.93" ry="2.13" fill="#2a56c8" filter="url(#b6)"/>
<ellipse cx="953.2" cy="548.2" rx="2.93" ry="2.67" fill="#2a56c8" filter="url(#b6)"/>
<ellipse cx="1027.9" cy="548.2" rx="4.67" ry="3.73" fill="#27409c" filter="url(#b6)"/>
<ellipse cx="941.4" cy="553.1" rx="2.93" ry="2.13" fill="#2a56c8" filter="url(#b6)"/>
<ellipse cx="922.7" cy="554.5" rx="2.93" ry="2.40" fill="#2a56c8" filter="url(#b6)"/>
<ellipse cx="997.7" cy="555.2" rx="2.93" ry="3.33" fill="#27409c" filter="url(#b6)"/>
<ellipse cx="1019.2" cy="556.3" rx="2.67" ry="2.40" fill="#2a56c8" filter="url(#b6)"/>
<ellipse cx="1028.9" cy="557.9" rx="2.93" ry="2.40" fill="#2a56c8" filter="url(#b6)"/>
<ellipse cx="1048.4" cy="556.8" rx="2.00" ry="2.13" fill="#2a56c8" filter="url(#b6)"/>
<ellipse cx="1040.0" cy="561.4" rx="2.93" ry="2.40" fill="#2a56c8" filter="url(#b6)"/>
<ellipse cx="1033.1" cy="563.2" rx="2.40" ry="2.40" fill="#2a56c8" filter="url(#b6)"/>
<ellipse cx="985.2" cy="562.8" rx="4.00" ry="3.33" fill="#2a56c8" filter="url(#b6)"/>
<ellipse cx="940.4" cy="562.8" rx="2.67" ry="2.67" fill="#2a56c8" filter="url(#b6)"/>
<ellipse cx="926.1" cy="564.6" rx="3.33" ry="2.67" fill="#27409c" filter="url(#b6)"/>
<ellipse cx="911.8" cy="569.1" rx="2.93" ry="1.87" fill="#2a56c8" filter="url(#b6)"/>
<ellipse cx="950.7" cy="569.8" rx="3.33" ry="2.40" fill="#2a56c8" filter="url(#b6)"/>
<ellipse cx="946.3" cy="574.9" rx="3.33" ry="2.67" fill="#2a56c8" filter="url(#b6)"/>
<ellipse cx="1015.3" cy="572.2" rx="2.93" ry="2.13" fill="#2a56c8" filter="url(#b6)"/>
<ellipse cx="1001.8" cy="575.7" rx="3.33" ry="1.60" fill="#2a56c8" filter="url(#b6)"/>
<ellipse cx="962.7" cy="576.7" rx="2.40" ry="1.07" fill="#2a56c8" filter="url(#b6)"/>
<ellipse cx="917.1" cy="481.8" rx="3.33" ry="1.33" fill="#2a56c8" filter="url(#b6)"/>
</g>
<text x="912.30" y="490.10" font-size="6.4" font-weight="bold" fill="#fff" textLength="22.80" lengthAdjust="spacingAndGlyphs">50μM</text>
<line x1="914.70" y1="492.60" x2="935.70" y2="492.60" stroke="#fff" stroke-width="1.1"/>
<clipPath id="ci10"><rect x="583.2" y="583.1" width="142.6" height="98.8"/></clipPath>
<g clip-path="url(#ci10)">
<rect x="583.20" y="583.10" width="142.60" height="98.80" fill="#1e0606"/>
<ellipse cx="642.5" cy="648.1" rx="9.7" ry="7.6" fill="#050001" opacity="0.9" filter="url(#b4)"/>
<ellipse cx="666.1" cy="675.8" rx="8.3" ry="4.9" fill="#050001" opacity="0.85" filter="url(#b4)"/>
<ellipse cx="666.1" cy="592.5" rx="20.8" ry="7.6" fill="#050001" opacity="0.8" filter="url(#b4)"/>
<ellipse cx="702.2" cy="642.5" rx="18.1" ry="12.5" fill="#050001" opacity="0.8" filter="url(#b4)"/>
<ellipse cx="685.6" cy="668.9" rx="8.3" ry="6.9" fill="#050001" opacity="0.6" filter="url(#b4)"/>
<ellipse cx="596.7" cy="605.0" rx="8.3" ry="8.3" fill="#050001" opacity="0.6" filter="url(#b4)"/>
<ellipse cx="625.8" cy="625.8" rx="6.9" ry="4.2" fill="#050001" opacity="0.6" filter="url(#b4)" transform="rotate(20 625.8 625.8)"/>
<ellipse cx="611.9" cy="668.9" rx="12.5" ry="5.6" fill="#050001" opacity="0.35" filter="url(#b4)"/>
<ellipse cx="718.9" cy="605.0" rx="8.3" ry="6.9" fill="#050001" opacity="0.7" filter="url(#b4)"/>
<ellipse cx="638.3" cy="621.7" rx="6.9" ry="5.6" fill="#050001" opacity="0.5" filter="url(#b4)"/>
<g filter="url(#tex)">
<rect x="583.20" y="583.10" width="142.60" height="98.80" fill="#d02020" opacity="0"/>
<ellipse cx="693.8" cy="595.9" rx="5.5" ry="4.3" fill="#d8242a" opacity="0.27" filter="url(#b1)" transform="rotate(-55 693.8 595.9)"/>
<ellipse cx="635.6" cy="603.5" rx="5.6" ry="5.6" fill="#d8242a" opacity="0.16" filter="url(#b1)" transform="rotate(54 635.6 603.5)"/>
<ellipse cx="642.5" cy="606.6" rx="5.0" ry="4.5" fill="#d8242a" opacity="0.24" filter="url(#b1)" transform="rotate(38 642.5 606.6)"/>
<ellipse cx="621.8" cy="614.8" rx="5.5" ry="6.7" fill="#d8242a" opacity="0.35" filter="url(#b1)" transform="rotate(-13 621.8 614.8)"/>
<ellipse cx="705.7" cy="618.6" rx="8.0" ry="6.4" fill="#d8242a" opacity="0.34" filter="url(#b1)" transform="rotate(-12 705.7 618.6)"/>
<ellipse cx="594.6" cy="626.8" rx="7.0" ry="8.0" fill="#d8242a" opacity="0.18" filter="url(#b1)" transform="rotate(50 594.6 626.8)"/>
<ellipse cx="664.2" cy="624.0" rx="5.6" ry="5.1" fill="#d8242a" opacity="0.26" filter="url(#b1)" transform="rotate(33 664.2 624.0)"/>
<ellipse cx="623.7" cy="634.4" rx="6.1" ry="4.9" fill="#d8242a" opacity="0.36" filter="url(#b1)" transform="rotate(-1 623.7 634.4)"/>
<ellipse cx="654.9" cy="642.3" rx="5.1" ry="5.1" fill="#d8242a" opacity="0.32" filter="url(#b1)" transform="rotate(-29 654.9 642.3)"/>
<ellipse cx="612.5" cy="647.4" rx="4.4" ry="4.4" fill="#d8242a" opacity="0.33" filter="url(#b1)" transform="rotate(37 612.5 647.4)"/>
<ellipse cx="630.1" cy="665.3" rx="5.4" ry="4.8" fill="#d8242a" opacity="0.31" filter="url(#b1)" transform="rotate(53 630.1 665.3)"/>
<ellipse cx="676.4" cy="673.7" rx="4.6" ry="4.1" fill="#d8242a" opacity="0.27" filter="url(#b1)" transform="rotate(-3 676.4 673.7)"/>
<ellipse cx="714.8" cy="675.7" rx="5.7" ry="5.0" fill="#d8242a" opacity="0.31" filter="url(#b1)" transform="rotate(-9 714.8 675.7)"/>
<ellipse cx="603.7" cy="679.0" rx="6.1" ry="5.5" fill="#d8242a" opacity="0.31" filter="url(#b1)" transform="rotate(-43 603.7 679.0)"/>
<ellipse cx="654.3" cy="679.1" rx="5.6" ry="4.4" fill="#d8242a" opacity="0.30" filter="url(#b1)" transform="rotate(-20 654.3 679.1)"/>
<ellipse cx="584.4" cy="602.7" rx="3.8" ry="4.4" fill="#d8242a" opacity="0.20" filter="url(#b1)" transform="rotate(52 584.4 602.7)"/>
<ellipse cx="598.9" cy="584.9" rx="5.4" ry="2.5" fill="#d8242a" opacity="0.21" filter="url(#b1)" transform="rotate(-53 598.9 584.9)"/>
<ellipse cx="680.0" cy="614.0" rx="45.8" ry="2.2" fill="#dc2228" opacity="0.61" filter="url(#b1)" transform="rotate(14 680.0 614.0)"/>
<ellipse cx="704.0" cy="619.6" rx="8.3" ry="3.9" fill="#dc2228" opacity="0.66" filter="url(#b1)"/>
<ellipse cx="663.3" cy="630.0" rx="9.7" ry="8.3" fill="#dc2228" opacity="0.50" filter="url(#b4)"/>
<ellipse cx="713.3" cy="672.4" rx="7.6" ry="8.3" fill="#dc2228" opacity="0.83" filter="url(#b1)"/>
<ellipse cx="675.1" cy="674.4" rx="5.3" ry="4.4" fill="#dc2228" opacity="0.89" filter="url(#b1)"/>
<ellipse cx="655.7" cy="645.0" rx="3.9" ry="3.9" fill="#dc2228" opacity="0.77" filter="url(#b1)"/>
<ellipse cx="593.2" cy="634.2" rx="3.5" ry="15.3" fill="#dc2228" opacity="0.55" filter="url(#b1)" transform="rotate(12 593.2 634.2)"/>
<ellipse cx="623.1" cy="616.4" rx="4.9" ry="4.9" fill="#dc2228" opacity="0.55" filter="url(#b1)"/>
<ellipse cx="693.9" cy="596.9" rx="12.5" ry="2.2" fill="#dc2228" opacity="0.50" filter="url(#b1)"/>
<ellipse cx="611.7" cy="665.8" rx="1.1" ry="1.1" fill="#dc2228" opacity="0.95" filter="url(#b5)"/>
<ellipse cx="639.7" cy="607.8" rx="8.3" ry="3.5" fill="#dc2228" opacity="0.50" filter="url(#b1)" transform="rotate(35 639.7 607.8)"/>
<ellipse cx="621.7" cy="634.2" rx="11.1" ry="3.5" fill="#dc2228" opacity="0.44" filter="url(#b1)"/>
<ellipse cx="611.9" cy="649.4" rx="9.7" ry="6.9" fill="#dc2228" opacity="0.39" filter="url(#b4)"/>
<ellipse cx="677.2" cy="657.8" rx="15.3" ry="8.3" fill="#dc2228" opacity="0.33" filter="url(#b4)"/>
<ellipse cx="631.4" cy="668.9" rx="4.2" ry="5.6" fill="#dc2228" opacity="0.39" filter="url(#b1)"/>
<ellipse cx="718.9" cy="638.3" rx="3.5" ry="12.5" fill="#dc2228" opacity="0.33" filter="url(#b4)"/>
</g>
<ellipse cx="713.3" cy="672.4" rx="6.1" ry="6.7" fill="#e8282e" opacity="0.49" filter="url(#b1)"/>
<ellipse cx="675.1" cy="674.4" rx="4.2" ry="3.6" fill="#e8282e" opacity="0.52" filter="url(#b1)"/>
<ellipse cx="655.7" cy="645.0" rx="3.1" ry="3.1" fill="#e8282e" opacity="0.45" filter="url(#b1)"/>
<path d="M662.6 641.6h.01M688.0 600.4h.01M680.0 638.0h.01M589.9 617.1h.01M674.9 620.8h.01M658.0 651.9h.01M641.4 612.7h.01M609.4 636.2h.01M617.6 605.4h.01M705.5 597.4h.01M649.2 588.8h.01M642.0 624.3h.01M658.8 621.5h.01M619.6 615.7h.01M594.5 627.5h.01M636.1 636.0h.01M701.5 588.2h.01M637.0 642.9h.01M588.8 590.3h.01M697.9 641.2h.01M678.9 604.5h.01M613.0 672.7h.01M626.4 672.9h.01M613.4 601.9h.01M688.9 656.9h.01M690.8 673.4h.01M682.4 652.6h.01M639.8 606.7h.01M629.1 611.1h.01M649.7 647.2h.01M627.2 618.6h.01M709.1 629.1h.01M697.7 654.5h.01M691.8 614.7h.01M612.2 614.0h.01M589.7 668.5h.01M688.9 584.7h.01M662.1 640.8h.01M685.9 612.3h.01M611.2 605.8h.01M664.5 607.4h.01M661.7 676.3h.01M631.3 658.5h.01M652.9 654.6h.01M688.7 628.6h.01M687.7 617.9h.01M603.2 637.1h.01M609.4 671.0h.01M724.4 677.7h.01M657.9 666.0h.01M593.8 663.9h.01M590.1 583.7h.01M602.8 645.4h.01M592.9 598.0h.01M614.4 628.2h.01M591.8 646.1h.01M716.4 673.3h.01M677.2 584.7h.01M659.1 623.7h.01M585.6 654.5h.01M659.6 611.4h.01M654.8 652.0h.01M644.6 675.9h.01M608.8 673.8h.01M658.0 606.9h.01M671.6 608.0h.01M633.7 661.6h.01M594.5 677.9h.01M648.7 607.1h.01M682.6 612.7h.01M701.3 591.1h.01M724.6 647.3h.01M587.7 623.1h.01M637.0 630.1h.01M674.0 652.5h.01M595.0 666.6h.01M675.2 615.8h.01M722.6 679.3h.01M710.8 673.9h.01M616.0 672.1h.01M681.9 639.1h.01M621.9 674.4h.01M680.8 610.8h.01M660.6 648.1h.01M608.8 667.1h.01M585.4 603.6h.01M603.8 664.2h.01M700.3 674.9h.01M625.9 638.8h.01M664.0 667.0h.01M679.7 636.5h.01M637.9 656.2h.01M695.9 651.2h.01M594.4 656.8h.01M632.5 592.8h.01M616.3 590.6h.01M669.5 643.7h.01M668.1 678.8h.01M629.7 645.8h.01M694.9 627.6h.01M615.7 637.7h.01M636.7 601.5h.01M666.7 620.7h.01M693.3 612.3h.01M618.3 590.4h.01M621.4 620.6h.01M695.0 598.3h.01M638.8 618.7h.01M596.3 676.3h.01M646.6 658.3h.01M597.8 591.7h.01M644.7 638.1h.01M656.3 593.3h.01M596.0 637.9h.01M668.3 660.6h.01M706.4 584.3h.01M642.2 660.1h.01M686.6 638.4h.01M724.8 607.1h.01M657.5 650.8h.01M607.4 609.7h.01M621.5 597.5h.01M607.0 610.4h.01M625.9 660.4h.01M634.7 676.4h.01M686.0 632.1h.01M671.1 628.3h.01M602.5 583.8h.01M639.6 666.3h.01M637.4 668.3h.01M646.0 625.6h.01M700.6 647.4h.01M668.0 612.8h.01M669.2 651.8h.01M651.5 600.7h.01M640.0 614.6h.01M688.0 645.6h.01M721.2 660.4h.01M629.7 610.8h.01M695.3 619.2h.01M716.1 602.8h.01M725.4 600.9h.01M692.7 585.8h.01M686.9 676.3h.01M613.1 661.9h.01M701.7 589.9h.01M704.1 661.7h.01M679.2 596.9h.01M626.4 608.1h.01M605.2 624.9h.01M637.0 627.5h.01M668.5 640.6h.01M659.4 674.3h.01M707.2 624.4h.01M588.4 678.8h.01M683.3 663.4h.01M667.9 673.4h.01M598.8 607.6h.01M678.0 599.5h.01M670.6 638.7h.01M675.2 647.0h.01M721.1 615.9h.01M696.7 593.6h.01M597.3 605.0h.01M689.7 638.2h.01M681.3 604.9h.01M636.5 628.9h.01M680.1 651.3h.01M604.7 681.7h.01M652.0 612.3h.01M714.5 591.6h.01M701.7 655.2h.01M632.9 617.0h.01M695.0 634.6h.01M632.9 592.7h.01M686.2 627.8h.01M592.8 587.5h.01M684.6 585.3h.01M632.1 593.9h.01M697.3 675.0h.01M688.8 634.1h.01M661.9 615.8h.01M644.0 628.8h.01M697.0 645.3h.01M609.8 648.0h.01M639.6 656.0h.01M709.1 627.5h.01M644.5 583.5h.01M613.8 610.6h.01M683.6 661.7h.01M665.5 662.1h.01M659.8 619.2h.01M611.3 594.4h.01M678.8 631.5h.01M720.9 614.1h.01M638.6 621.9h.01M599.5 617.9h.01M648.5 600.1h.01M679.3 662.2h.01M714.2 641.4h.01" stroke="#d8262a" stroke-width="1.0" stroke-linecap="round" fill="none" opacity="0.45"/>
<ellipse cx="694.2" cy="595.0" rx="2.40" ry="1.87" fill="#4a50d0" filter="url(#b6)"/>
<ellipse cx="635.8" cy="602.9" rx="2.67" ry="2.67" fill="#4a50d0" filter="url(#b6)"/>
<ellipse cx="643.9" cy="605.4" rx="2.93" ry="2.67" fill="#4a50d0" filter="url(#b6)"/>
<ellipse cx="623.1" cy="614.4" rx="2.40" ry="2.93" fill="#4a50d0" filter="url(#b6)"/>
<ellipse cx="704.0" cy="618.9" rx="3.33" ry="2.67" fill="#4a50d0" filter="url(#b6)"/>
<ellipse cx="596.0" cy="625.6" rx="2.93" ry="3.33" fill="#4a50d0" filter="url(#b6)"/>
<ellipse cx="664.7" cy="624.9" rx="2.67" ry="2.40" fill="#4a50d0" filter="url(#b6)"/>
<ellipse cx="622.1" cy="633.5" rx="2.67" ry="2.13" fill="#4a50d0" filter="url(#b6)"/>
<ellipse cx="654.3" cy="642.2" rx="2.40" ry="2.40" fill="#4a50d0" filter="url(#b6)"/>
<ellipse cx="612.6" cy="648.3" rx="2.40" ry="2.40" fill="#4a50d0" filter="url(#b6)"/>
<ellipse cx="631.4" cy="664.4" rx="2.67" ry="2.40" fill="#4a50d0" filter="url(#b6)"/>
<ellipse cx="675.1" cy="674.4" rx="2.67" ry="2.40" fill="#4a50d0" filter="url(#b6)"/>
<ellipse cx="714.4" cy="675.1" rx="3.33" ry="2.93" fill="#4a50d0" filter="url(#b6)"/>
<ellipse cx="603.9" cy="678.9" rx="2.67" ry="2.40" fill="#4a50d0" filter="url(#b6)"/>
<ellipse cx="654.3" cy="679.7" rx="2.40" ry="1.87" fill="#4a50d0" filter="url(#b6)"/>
<ellipse cx="584.2" cy="601.9" rx="1.60" ry="1.87" fill="#4a50d0" filter="url(#b6)"/>
<ellipse cx="600.1" cy="584.4" rx="2.93" ry="1.33" fill="#4a50d0" filter="url(#b6)"/>
</g>
<text x="586.40" y="593.20" font-size="6.4" font-weight="bold" fill="#fff" textLength="22.80" lengthAdjust="spacingAndGlyphs">50μM</text>
<line x1="588.80" y1="595.70" x2="609.80" y2="595.70" stroke="#fff" stroke-width="1.1"/>
<clipPath id="ci11"><rect x="746.6" y="583.1" width="143.3" height="98.8"/></clipPath>
<g clip-path="url(#ci11)">
<rect x="746.60" y="583.10" width="143.30" height="98.80" fill="#090102"/>
<rect x="746.6" y="583.1" width="143.3" height="98.8" fill="#d02020" opacity="0.015"/>
<g filter="url(#tex)">
<rect x="746.60" y="583.10" width="143.30" height="98.80" fill="#d02020" opacity="0"/>
<ellipse cx="826.3" cy="621.7" rx="36.1" ry="8.3" fill="#dc2228" opacity="0.13" filter="url(#b4)" transform="rotate(35 826.3 621.7)"/>
<ellipse cx="784.7" cy="614.7" rx="34.7" ry="9.7" fill="#dc2228" opacity="0.11" filter="url(#b4)" transform="rotate(20 784.7 614.7)"/>
<ellipse cx="784.7" cy="663.3" rx="38.9" ry="6.9" fill="#dc2228" opacity="0.13" filter="url(#b4)" transform="rotate(-10 784.7 663.3)"/>
<ellipse cx="868.0" cy="642.5" rx="16.7" ry="8.3" fill="#dc2228" opacity="0.13" filter="url(#b4)" transform="rotate(-40 868.0 642.5)"/>
<ellipse cx="840.2" cy="607.8" rx="16.7" ry="11.1" fill="#dc2228" opacity="0.11" filter="url(#b4)"/>
<ellipse cx="861.1" cy="657.8" rx="8.3" ry="13.9" fill="#dc2228" opacity="0.11" filter="url(#b4)" transform="rotate(20 861.1 657.8)"/>
</g>
<path d="M842.9 614.0h.01M780.8 594.7h.01M800.1 597.1h.01M802.3 642.0h.01M829.0 624.9h.01M816.3 636.2h.01M878.3 675.1h.01M771.4 599.6h.01M788.0 601.6h.01M867.3 644.3h.01M870.6 677.1h.01M816.0 602.4h.01M801.6 638.6h.01M840.2 623.5h.01M817.1 653.3h.01M810.2 599.6h.01M827.6 661.7h.01M778.2 586.3h.01M778.8 611.6h.01M858.5 639.0h.01M857.3 632.0h.01M819.8 639.7h.01M785.0 636.8h.01M888.6 636.7h.01M855.0 658.2h.01M809.8 604.7h.01M807.5 655.8h.01M840.3 607.6h.01M872.0 586.3h.01M784.3 668.3h.01M759.1 668.6h.01M763.4 663.3h.01M776.7 656.0h.01M845.4 668.2h.01M834.1 625.4h.01M834.9 660.6h.01M863.2 662.7h.01M828.3 635.7h.01M832.1 599.7h.01M886.9 612.0h.01M828.7 677.2h.01M820.3 672.0h.01M863.4 596.5h.01M854.1 623.8h.01M755.1 610.5h.01M840.6 652.4h.01M765.6 597.5h.01M792.8 607.6h.01M867.5 621.9h.01M767.0 645.6h.01M836.6 620.2h.01M757.4 661.6h.01M856.8 622.9h.01M854.0 651.7h.01M872.3 628.0h.01M816.5 640.6h.01M871.1 666.8h.01M759.9 679.1h.01M837.6 652.0h.01M868.4 661.7h.01" stroke="#d8262a" stroke-width="1.0" stroke-linecap="round" fill="none" opacity="0.45"/>
<ellipse cx="797.9" cy="586.9" rx="3.73" ry="2.67" fill="#2a56c8" filter="url(#b6)"/>
<ellipse cx="874.0" cy="588.6" rx="3.73" ry="3.20" fill="#2a56c8" filter="url(#b6)"/>
<ellipse cx="780.2" cy="605.8" rx="3.47" ry="2.67" fill="#2a56c8" filter="url(#b6)"/>
<ellipse cx="834.9" cy="605.0" rx="4.00" ry="3.60" fill="#2a56c8" filter="url(#b6)"/>
<ellipse cx="824.0" cy="621.7" rx="3.60" ry="2.93" fill="#2a56c8" filter="url(#b6)" transform="rotate(30 824.0 621.7)"/>
<ellipse cx="771.3" cy="626.9" rx="3.73" ry="3.20" fill="#2a56c8" filter="url(#b6)"/>
<ellipse cx="880.5" cy="631.7" rx="3.20" ry="2.67" fill="#2a56c8" filter="url(#b6)"/>
<ellipse cx="813.4" cy="645.0" rx="3.33" ry="3.20" fill="#2a56c8" filter="url(#b6)"/>
<ellipse cx="788.8" cy="652.9" rx="3.60" ry="2.67" fill="#2a56c8" filter="url(#b6)"/>
<ellipse cx="861.5" cy="651.8" rx="2.67" ry="2.93" fill="#2a56c8" filter="url(#b6)"/>
<ellipse cx="849.7" cy="656.0" rx="2.93" ry="2.67" fill="#2a56c8" filter="url(#b6)" transform="rotate(30 849.7 656.0)"/>
<ellipse cx="774.5" cy="666.8" rx="4.27" ry="3.20" fill="#2a56c8" filter="url(#b6)"/>
<ellipse cx="832.9" cy="668.3" rx="3.73" ry="2.93" fill="#2a56c8" filter="url(#b6)"/>
</g>
<text x="749.80" y="593.20" font-size="6.4" font-weight="bold" fill="#fff" textLength="22.80" lengthAdjust="spacingAndGlyphs">50μM</text>
<line x1="752.20" y1="595.70" x2="773.20" y2="595.70" stroke="#fff" stroke-width="1.1"/>
<clipPath id="ci12"><rect x="909.1" y="583.1" width="141.4" height="98.8"/></clipPath>
<g clip-path="url(#ci12)">
<rect x="909.10" y="583.10" width="141.40" height="98.80" fill="#220707"/>
<ellipse cx="922.7" cy="600.8" rx="15.3" ry="11.1" fill="#050001" opacity="0.85" filter="url(#b4)"/>
<ellipse cx="961.6" cy="625.8" rx="12.5" ry="6.9" fill="#050001" opacity="0.7" filter="url(#b4)" transform="rotate(20 961.6 625.8)"/>
<ellipse cx="954.6" cy="661.9" rx="6.9" ry="8.3" fill="#050001" opacity="0.8" filter="url(#b4)"/>
<ellipse cx="1006.0" cy="668.9" rx="16.7" ry="5.6" fill="#050001" opacity="0.85" filter="url(#b4)"/>
<ellipse cx="1022.7" cy="610.6" rx="9.7" ry="8.3" fill="#050001" opacity="0.6" filter="url(#b4)"/>
<ellipse cx="983.8" cy="614.7" rx="6.9" ry="8.3" fill="#050001" opacity="0.6" filter="url(#b4)"/>
<ellipse cx="924.1" cy="642.5" rx="9.7" ry="8.3" fill="#050001" opacity="0.6" filter="url(#b4)"/>
<ellipse cx="1037.9" cy="646.7" rx="8.3" ry="5.6" fill="#050001" opacity="0.55" filter="url(#b4)"/>
<ellipse cx="994.9" cy="639.7" rx="5.6" ry="3.5" fill="#050001" opacity="0.6" filter="url(#b4)"/>
<ellipse cx="1011.6" cy="588.3" rx="5.6" ry="5.6" fill="#050001" opacity="0.5" filter="url(#b4)"/>
<ellipse cx="1044.9" cy="607.8" rx="5.6" ry="8.3" fill="#050001" opacity="0.5" filter="url(#b4)"/>
<g filter="url(#tex)">
<rect x="909.10" y="583.10" width="141.40" height="98.80" fill="#d02020" opacity="0"/>
<ellipse cx="994.5" cy="596.6" rx="7.8" ry="7.5" fill="#d8242a" opacity="0.38" filter="url(#b1)" transform="rotate(-19 994.5 596.6)"/>
<ellipse cx="1021.7" cy="591.4" rx="4.6" ry="6.3" fill="#d8242a" opacity="0.40" filter="url(#b1)" transform="rotate(2 1021.7 591.4)"/>
<ellipse cx="1033.1" cy="591.9" rx="4.9" ry="6.8" fill="#d8242a" opacity="0.24" filter="url(#b1)" transform="rotate(20 1033.1 591.9)"/>
<ellipse cx="977.8" cy="601.0" rx="3.8" ry="4.2" fill="#d8242a" opacity="0.50" filter="url(#b1)" transform="rotate(-4 977.8 601.0)"/>
<ellipse cx="951.3" cy="611.6" rx="5.9" ry="5.4" fill="#d8242a" opacity="0.54" filter="url(#b1)" transform="rotate(56 951.3 611.6)"/>
<ellipse cx="934.2" cy="621.1" rx="5.8" ry="5.3" fill="#d8242a" opacity="0.52" filter="url(#b1)" transform="rotate(-25 934.2 621.1)"/>
<ellipse cx="997.4" cy="626.1" rx="5.8" ry="5.6" fill="#d8242a" opacity="0.43" filter="url(#b1)" transform="rotate(23 997.4 626.1)"/>
<ellipse cx="1040.3" cy="627.6" rx="6.4" ry="5.6" fill="#d8242a" opacity="0.45" filter="url(#b1)" transform="rotate(-31 1040.3 627.6)"/>
<ellipse cx="1009.7" cy="640.7" rx="5.1" ry="4.7" fill="#d8242a" opacity="0.29" filter="url(#b1)" transform="rotate(-51 1009.7 640.7)"/>
<ellipse cx="945.1" cy="650.4" rx="6.0" ry="7.1" fill="#d8242a" opacity="0.23" filter="url(#b1)" transform="rotate(29 945.1 650.4)"/>
<ellipse cx="979.4" cy="650.5" rx="6.4" ry="5.7" fill="#d8242a" opacity="0.44" filter="url(#b1)" transform="rotate(1 979.4 650.5)"/>
<ellipse cx="1005.3" cy="656.3" rx="6.7" ry="4.9" fill="#d8242a" opacity="0.26" filter="url(#b1)" transform="rotate(-20 1005.3 656.3)"/>
<ellipse cx="1047.2" cy="661.7" rx="5.3" ry="5.8" fill="#d8242a" opacity="0.48" filter="url(#b1)" transform="rotate(51 1047.2 661.7)"/>
<ellipse cx="1019.8" cy="677.6" rx="4.8" ry="4.8" fill="#d8242a" opacity="0.39" filter="url(#b1)" transform="rotate(-59 1019.8 677.6)"/>
<ellipse cx="955.0" cy="676.3" rx="6.5" ry="5.7" fill="#d8242a" opacity="0.29" filter="url(#b1)" transform="rotate(35 955.0 676.3)"/>
<ellipse cx="910.4" cy="678.1" rx="6.0" ry="7.2" fill="#d8242a" opacity="0.50" filter="url(#b1)" transform="rotate(-49 910.4 678.1)"/>
<ellipse cx="976.8" cy="605.7" rx="3.1" ry="8.3" fill="#dc2228" opacity="0.71" filter="url(#b1)" transform="rotate(10 976.8 605.7)"/>
<ellipse cx="947.7" cy="611.2" rx="9.7" ry="5.3" fill="#dc2228" opacity="0.71" filter="url(#b1)" transform="rotate(30 947.7 611.2)"/>
<ellipse cx="1017.1" cy="637.6" rx="31.9" ry="3.9" fill="#dc2228" opacity="0.59" filter="url(#b1)" transform="rotate(-27 1017.1 637.6)"/>
<ellipse cx="964.3" cy="669.6" rx="18.1" ry="4.2" fill="#dc2228" opacity="0.65" filter="url(#b1)" transform="rotate(-30 964.3 669.6)"/>
<ellipse cx="1043.5" cy="661.9" rx="6.9" ry="4.2" fill="#dc2228" opacity="0.89" filter="url(#b1)"/>
<ellipse cx="1031.7" cy="598.1" rx="3.1" ry="11.1" fill="#dc2228" opacity="0.59" filter="url(#b1)" transform="rotate(-5 1031.7 598.1)"/>
<ellipse cx="994.9" cy="596.0" rx="6.9" ry="5.6" fill="#dc2228" opacity="0.59" filter="url(#b1)"/>
<ellipse cx="998.8" cy="627.2" rx="6.9" ry="5.8" fill="#dc2228" opacity="0.65" filter="url(#b1)"/>
<ellipse cx="1041.4" cy="628.6" rx="7.6" ry="5.6" fill="#dc2228" opacity="0.59" filter="url(#b1)"/>
<ellipse cx="935.4" cy="621.0" rx="6.9" ry="4.9" fill="#dc2228" opacity="0.59" filter="url(#b1)"/>
<ellipse cx="946.3" cy="652.2" rx="5.6" ry="6.9" fill="#dc2228" opacity="0.59" filter="url(#b1)"/>
<ellipse cx="979.9" cy="652.2" rx="4.9" ry="4.9" fill="#dc2228" opacity="0.71" filter="url(#b1)"/>
<ellipse cx="1006.7" cy="657.1" rx="7.6" ry="4.2" fill="#dc2228" opacity="0.59" filter="url(#b1)"/>
<ellipse cx="1021.3" cy="675.8" rx="6.9" ry="4.9" fill="#dc2228" opacity="0.54" filter="url(#b1)"/>
<ellipse cx="912.9" cy="675.8" rx="6.9" ry="6.2" fill="#dc2228" opacity="0.71" filter="url(#b1)"/>
<ellipse cx="1020.6" cy="593.2" rx="3.5" ry="6.9" fill="#dc2228" opacity="0.59" filter="url(#b1)"/>
<ellipse cx="925.9" cy="618.2" rx="1.0" ry="1.0" fill="#dc2228" opacity="0.95" filter="url(#b5)"/>
<ellipse cx="932.4" cy="634.9" rx="1.0" ry="1.0" fill="#dc2228" opacity="0.95" filter="url(#b5)"/>
<ellipse cx="963.6" cy="643.6" rx="1.0" ry="1.0" fill="#dc2228" opacity="0.95" filter="url(#b5)"/>
<ellipse cx="987.0" cy="647.1" rx="1.1" ry="1.1" fill="#dc2228" opacity="0.95" filter="url(#b5)"/>
<ellipse cx="981.0" cy="661.9" rx="1.1" ry="1.1" fill="#dc2228" opacity="0.95" filter="url(#b5)"/>
<ellipse cx="998.8" cy="637.6" rx="1.1" ry="1.1" fill="#dc2228" opacity="0.95" filter="url(#b5)"/>
<ellipse cx="919.9" cy="666.8" rx="1.0" ry="1.0" fill="#dc2228" opacity="0.90" filter="url(#b5)"/>
</g>
<ellipse cx="1043.5" cy="661.9" rx="5.6" ry="3.3" fill="#e8282e" opacity="0.49" filter="url(#b1)"/>
<path d="M1035.9 596.9h.01M926.5 655.2h.01M958.8 625.5h.01M1021.0 607.6h.01M1000.2 607.6h.01M994.1 654.4h.01M949.4 676.1h.01M912.9 666.8h.01M1032.9 603.4h.01M994.9 601.7h.01M964.5 646.9h.01M1019.9 661.5h.01M942.9 621.2h.01M943.2 646.1h.01M919.1 670.9h.01M910.8 618.8h.01M953.8 621.3h.01M1027.7 624.7h.01M986.4 600.2h.01M975.7 680.7h.01M919.4 641.1h.01M911.1 604.4h.01M1039.6 676.8h.01M965.4 611.4h.01M1009.9 658.9h.01M969.0 622.8h.01M999.7 636.2h.01M930.7 591.4h.01M920.3 674.1h.01M1046.9 598.5h.01M955.3 641.0h.01M1017.0 647.3h.01M1000.0 613.7h.01M971.0 677.3h.01M942.8 607.3h.01M1039.8 594.6h.01M995.7 588.5h.01M1003.3 648.1h.01M933.9 584.4h.01M928.5 584.2h.01M979.3 617.4h.01M982.2 664.4h.01M945.8 619.8h.01M1015.1 669.4h.01M1012.7 594.8h.01M1036.3 616.2h.01M969.8 634.9h.01M946.3 679.4h.01M997.8 632.1h.01M981.3 588.6h.01M1030.6 599.6h.01M931.3 659.5h.01M1035.5 649.7h.01M925.4 656.3h.01M909.5 667.9h.01M910.8 587.6h.01M960.6 674.0h.01M934.4 678.0h.01M914.1 662.4h.01M1010.1 647.9h.01M940.8 607.6h.01M1038.6 614.7h.01M1025.9 639.6h.01M926.0 649.6h.01M916.5 605.2h.01M982.0 587.6h.01M965.8 669.7h.01M1031.6 659.5h.01M953.0 591.6h.01M973.7 619.5h.01M950.3 660.6h.01M1013.7 607.1h.01M961.2 679.1h.01M1050.2 659.8h.01M1012.7 637.1h.01M1021.7 598.0h.01M1040.9 585.5h.01M985.7 645.9h.01M1007.2 584.0h.01M956.5 658.1h.01M962.3 656.0h.01M952.6 603.4h.01M1048.1 624.6h.01M1045.0 679.2h.01M929.2 610.7h.01M915.3 606.0h.01M1028.7 623.9h.01M1035.7 628.4h.01M1014.9 640.5h.01M980.6 646.1h.01M964.9 641.6h.01M917.9 648.5h.01M927.6 611.9h.01M1029.4 674.6h.01M964.7 665.3h.01M955.2 627.8h.01M942.1 676.3h.01M928.3 659.2h.01M924.5 593.5h.01M972.7 614.1h.01M926.2 618.5h.01M1018.0 627.7h.01M974.6 667.3h.01M921.9 662.9h.01M952.1 652.7h.01M994.4 604.3h.01M1030.2 597.8h.01M1009.7 678.8h.01M965.1 587.9h.01M951.4 664.1h.01M933.7 677.2h.01M1029.9 638.0h.01M986.9 592.5h.01M923.5 661.5h.01M926.3 589.2h.01M1019.5 605.1h.01M937.1 622.7h.01M1006.1 675.7h.01M921.0 641.0h.01M1038.8 590.5h.01M1050.1 602.6h.01M1000.4 663.1h.01M922.1 666.8h.01M1023.5 595.2h.01M1042.3 588.1h.01M1039.8 625.9h.01M1011.5 632.1h.01M963.2 625.3h.01M959.1 672.8h.01M948.0 627.2h.01M930.1 643.8h.01M996.3 647.1h.01M979.6 670.3h.01M976.8 591.8h.01M963.3 624.5h.01M1000.0 661.9h.01M944.3 681.3h.01M986.0 585.0h.01M963.2 653.6h.01M976.9 660.3h.01M957.7 639.0h.01M954.6 609.8h.01M912.8 642.1h.01M913.2 663.2h.01M948.8 663.0h.01M975.8 618.4h.01M991.7 606.1h.01M931.7 607.6h.01M943.2 635.8h.01M1021.0 655.9h.01M1017.1 676.7h.01M990.5 680.2h.01M964.0 675.5h.01M1049.3 600.3h.01M942.5 614.5h.01M1013.5 618.5h.01M992.7 652.6h.01M958.8 639.2h.01M929.2 676.8h.01M1027.4 663.2h.01M1046.3 636.7h.01M933.9 586.9h.01M917.0 642.5h.01M911.9 630.3h.01M956.0 643.8h.01M1023.1 616.8h.01M934.2 662.4h.01M1031.9 589.0h.01M930.0 652.7h.01M929.1 594.1h.01M983.5 619.2h.01M919.4 652.7h.01M1002.7 641.0h.01M956.7 615.0h.01M1047.1 655.5h.01M970.9 646.3h.01M978.0 614.4h.01M1009.1 638.6h.01M1034.9 643.7h.01M959.6 648.9h.01M1024.3 620.5h.01M1012.9 612.2h.01M934.2 583.3h.01M1008.4 639.7h.01M1029.4 659.3h.01M989.3 601.1h.01M954.1 663.0h.01M995.5 646.3h.01M923.8 632.1h.01M955.9 590.8h.01M958.1 614.7h.01M999.1 678.3h.01M1025.3 649.3h.01M1012.2 616.3h.01M910.7 603.8h.01M1007.1 617.7h.01M1020.4 654.3h.01M915.9 626.4h.01M968.4 599.5h.01M967.6 670.2h.01M958.8 620.2h.01M1026.3 661.0h.01M990.8 658.0h.01M941.0 627.7h.01M1022.1 586.4h.01M911.9 608.9h.01M923.9 616.9h.01M1034.7 599.0h.01M919.7 676.2h.01M1047.4 616.5h.01M1048.4 671.4h.01M1008.7 625.7h.01M1001.5 643.1h.01M970.5 588.4h.01M955.9 679.4h.01M967.0 637.8h.01M1040.0 636.5h.01M1002.5 612.5h.01M922.7 621.9h.01M986.8 631.6h.01M916.8 583.5h.01M921.5 664.5h.01M997.5 630.6h.01M922.8 603.5h.01M999.3 679.6h.01M976.1 594.5h.01M1020.1 629.6h.01M1035.6 609.3h.01M999.9 621.4h.01M961.6 620.8h.01M935.5 587.5h.01M971.3 609.1h.01M1027.5 638.8h.01M930.5 651.9h.01M922.8 649.1h.01M1023.4 624.0h.01M1016.1 605.6h.01M917.7 621.3h.01M983.0 678.5h.01M1006.3 675.6h.01M990.1 606.4h.01M951.4 622.1h.01M1029.8 586.5h.01M989.9 634.2h.01M989.9 680.2h.01M929.9 676.9h.01M972.6 676.9h.01M932.7 604.0h.01M936.4 587.3h.01M920.2 650.6h.01M937.7 664.4h.01M930.0 641.9h.01M954.3 654.9h.01M1023.3 591.7h.01M987.8 637.6h.01M1030.2 634.4h.01M1038.8 584.3h.01M1008.1 641.2h.01M1019.6 594.2h.01M930.3 639.1h.01" stroke="#d8262a" stroke-width="1.0" stroke-linecap="round" fill="none" opacity="0.45"/>
<ellipse cx="994.9" cy="595.3" rx="3.33" ry="3.20" fill="#6348cc" filter="url(#b6)"/>
<ellipse cx="1020.6" cy="591.8" rx="2.13" ry="2.93" fill="#4a50d0" filter="url(#b6)"/>
<ellipse cx="1032.1" cy="590.8" rx="2.13" ry="2.93" fill="#4a50d0" filter="url(#b6)"/>
<ellipse cx="976.8" cy="601.1" rx="2.13" ry="2.40" fill="#4a50d0" filter="url(#b6)"/>
<ellipse cx="951.4" cy="610.3" rx="2.93" ry="2.67" fill="#4a50d0" filter="url(#b6)"/>
<ellipse cx="935.4" cy="620.7" rx="3.20" ry="2.93" fill="#6348cc" filter="url(#b6)"/>
<ellipse cx="998.8" cy="626.5" rx="3.33" ry="3.20" fill="#4a50d0" filter="url(#b6)"/>
<ellipse cx="1041.4" cy="627.9" rx="3.33" ry="2.93" fill="#6348cc" filter="url(#b6)"/>
<ellipse cx="1009.9" cy="641.8" rx="2.93" ry="2.67" fill="#4a50d0" filter="url(#b6)"/>
<ellipse cx="946.3" cy="651.1" rx="2.67" ry="3.20" fill="#6348cc" filter="url(#b6)"/>
<ellipse cx="979.9" cy="651.5" rx="2.67" ry="2.40" fill="#4a50d0" filter="url(#b6)"/>
<ellipse cx="1006.7" cy="656.7" rx="2.93" ry="2.13" fill="#6348cc" filter="url(#b6)"/>
<ellipse cx="1047.7" cy="662.2" rx="2.67" ry="2.93" fill="#4a50d0" filter="url(#b6)"/>
<ellipse cx="1021.0" cy="676.2" rx="2.67" ry="2.67" fill="#4a50d0" filter="url(#b6)"/>
<ellipse cx="954.6" cy="677.2" rx="3.33" ry="2.93" fill="#6348cc" filter="url(#b6)"/>
<ellipse cx="911.6" cy="678.3" rx="2.67" ry="3.20" fill="#6348cc" filter="url(#b6)"/>
</g>
<text x="912.30" y="593.20" font-size="6.4" font-weight="bold" fill="#fff" textLength="22.80" lengthAdjust="spacingAndGlyphs">50μM</text>
<line x1="914.70" y1="595.70" x2="935.70" y2="595.70" stroke="#fff" stroke-width="1.1"/>
<clipPath id="ci20"><rect x="583.2" y="687.2" width="142.6" height="98.2"/></clipPath>
<g clip-path="url(#ci20)">
<rect x="583.20" y="687.20" width="142.60" height="98.20" fill="#070102"/>
<g filter="url(#tex)">
<rect x="583.20" y="687.20" width="142.60" height="98.20" fill="#d02020" opacity="0"/>
<ellipse cx="613.9" cy="696.1" rx="4.2" ry="5.1" fill="#d8242a" opacity="0.06" filter="url(#b1)" transform="rotate(39 613.9 696.1)"/>
<ellipse cx="622.1" cy="694.6" rx="7.0" ry="5.1" fill="#d8242a" opacity="0.07" filter="url(#b1)" transform="rotate(-8 622.1 694.6)"/>
<ellipse cx="648.7" cy="696.9" rx="6.3" ry="6.3" fill="#d8242a" opacity="0.08" filter="url(#b1)" transform="rotate(-38 648.7 696.9)"/>
<ellipse cx="658.7" cy="692.7" rx="5.8" ry="7.8" fill="#d8242a" opacity="0.10" filter="url(#b1)" transform="rotate(-56 658.7 692.7)"/>
<ellipse cx="671.3" cy="695.2" rx="6.0" ry="7.2" fill="#d8242a" opacity="0.05" filter="url(#b1)" transform="rotate(0 671.3 695.2)"/>
<ellipse cx="683.9" cy="689.9" rx="4.0" ry="3.1" fill="#d8242a" opacity="0.11" filter="url(#b1)" transform="rotate(-22 683.9 689.9)"/>
<ellipse cx="585.6" cy="709.6" rx="6.4" ry="7.0" fill="#d8242a" opacity="0.10" filter="url(#b1)" transform="rotate(51 585.6 709.6)"/>
<ellipse cx="647.1" cy="709.5" rx="6.7" ry="7.3" fill="#d8242a" opacity="0.10" filter="url(#b1)" transform="rotate(-19 647.1 709.5)"/>
<ellipse cx="694.8" cy="713.0" rx="7.9" ry="5.9" fill="#d8242a" opacity="0.06" filter="url(#b1)" transform="rotate(-33 694.8 713.0)"/>
<ellipse cx="662.4" cy="720.2" rx="7.7" ry="6.1" fill="#d8242a" opacity="0.09" filter="url(#b1)" transform="rotate(-13 662.4 720.2)"/>
<ellipse cx="725.2" cy="719.8" rx="3.4" ry="5.3" fill="#d8242a" opacity="0.07" filter="url(#b1)" transform="rotate(4 725.2 719.8)"/>
<ellipse cx="610.9" cy="728.9" rx="5.0" ry="7.0" fill="#d8242a" opacity="0.09" filter="url(#b1)" transform="rotate(-38 610.9 728.9)"/>
<ellipse cx="642.9" cy="727.7" rx="6.9" ry="7.6" fill="#d8242a" opacity="0.07" filter="url(#b1)" transform="rotate(-2 642.9 727.7)"/>
<ellipse cx="632.7" cy="731.2" rx="4.4" ry="5.4" fill="#d8242a" opacity="0.08" filter="url(#b1)" transform="rotate(-1 632.7 731.2)"/>
<ellipse cx="668.5" cy="733.4" rx="7.6" ry="7.1" fill="#d8242a" opacity="0.05" filter="url(#b1)" transform="rotate(-13 668.5 733.4)"/>
<ellipse cx="679.0" cy="738.7" rx="8.2" ry="6.6" fill="#d8242a" opacity="0.08" filter="url(#b1)" transform="rotate(10 679.0 738.7)"/>
<ellipse cx="721.2" cy="739.0" rx="8.0" ry="7.1" fill="#d8242a" opacity="0.10" filter="url(#b1)" transform="rotate(28 721.2 739.0)"/>
<ellipse cx="656.0" cy="741.1" rx="5.7" ry="4.6" fill="#d8242a" opacity="0.11" filter="url(#b1)" transform="rotate(39 656.0 741.1)"/>
<ellipse cx="630.4" cy="744.8" rx="5.9" ry="6.5" fill="#d8242a" opacity="0.10" filter="url(#b1)" transform="rotate(-26 630.4 744.8)"/>
<ellipse cx="638.1" cy="748.0" rx="8.0" ry="8.0" fill="#d8242a" opacity="0.12" filter="url(#b1)" transform="rotate(27 638.1 748.0)"/>
<ellipse cx="593.9" cy="754.3" rx="5.9" ry="6.5" fill="#d8242a" opacity="0.09" filter="url(#b1)" transform="rotate(-59 593.9 754.3)"/>
<ellipse cx="705.7" cy="753.4" rx="8.2" ry="7.2" fill="#d8242a" opacity="0.10" filter="url(#b1)" transform="rotate(30 705.7 753.4)"/>
<ellipse cx="693.0" cy="756.4" rx="6.6" ry="6.6" fill="#d8242a" opacity="0.07" filter="url(#b1)" transform="rotate(-28 693.0 756.4)"/>
<ellipse cx="655.4" cy="760.0" rx="7.0" ry="7.0" fill="#d8242a" opacity="0.09" filter="url(#b1)" transform="rotate(14 655.4 760.0)"/>
<ellipse cx="586.3" cy="765.9" rx="5.3" ry="7.1" fill="#d8242a" opacity="0.11" filter="url(#b1)" transform="rotate(-13 586.3 765.9)"/>
<ellipse cx="615.6" cy="767.0" rx="6.3" ry="6.8" fill="#d8242a" opacity="0.10" filter="url(#b1)" transform="rotate(1 615.6 767.0)"/>
<ellipse cx="684.1" cy="768.1" rx="8.2" ry="9.4" fill="#d8242a" opacity="0.11" filter="url(#b1)" transform="rotate(-27 684.1 768.1)"/>
<ellipse cx="701.6" cy="774.3" rx="8.2" ry="6.5" fill="#d8242a" opacity="0.06" filter="url(#b1)" transform="rotate(6 701.6 774.3)"/>
<ellipse cx="594.1" cy="775.4" rx="8.4" ry="6.2" fill="#d8242a" opacity="0.11" filter="url(#b1)" transform="rotate(16 594.1 775.4)"/>
<ellipse cx="630.0" cy="777.4" rx="6.4" ry="4.8" fill="#d8242a" opacity="0.05" filter="url(#b1)" transform="rotate(3 630.0 777.4)"/>
<ellipse cx="671.0" cy="781.2" rx="6.7" ry="4.8" fill="#d8242a" opacity="0.08" filter="url(#b1)" transform="rotate(-56 671.0 781.2)"/>
<ellipse cx="590.0" cy="783.7" rx="5.6" ry="5.6" fill="#d8242a" opacity="0.07" filter="url(#b1)" transform="rotate(31 590.0 783.7)"/>
<ellipse cx="586.9" cy="766.3" rx="3.1" ry="16.7" fill="#dc2228" opacity="0.41" filter="url(#b1)" transform="rotate(8 586.9 766.3)"/>
<ellipse cx="677.2" cy="755.2" rx="15.3" ry="3.1" fill="#dc2228" opacity="0.25" filter="url(#b4)" transform="rotate(-30 677.2 755.2)"/>
<ellipse cx="711.9" cy="771.9" rx="6.9" ry="3.5" fill="#dc2228" opacity="0.37" filter="url(#b1)"/>
<ellipse cx="713.3" cy="731.6" rx="12.5" ry="2.8" fill="#dc2228" opacity="0.25" filter="url(#b4)" transform="rotate(25 713.3 731.6)"/>
<ellipse cx="639.7" cy="738.6" rx="4.9" ry="15.3" fill="#dc2228" opacity="0.20" filter="url(#b4)" transform="rotate(-10 639.7 738.6)"/>
<ellipse cx="611.9" cy="735.8" rx="3.5" ry="15.3" fill="#dc2228" opacity="0.18" filter="url(#b4)" transform="rotate(-12 611.9 735.8)"/>
<ellipse cx="655.0" cy="703.8" rx="4.2" ry="13.9" fill="#dc2228" opacity="0.16" filter="url(#b4)"/>
<ellipse cx="585.6" cy="689.9" rx="3.5" ry="2.8" fill="#dc2228" opacity="0.41" filter="url(#b1)"/>
<ellipse cx="721.7" cy="740.6" rx="4.9" ry="4.2" fill="#dc2228" opacity="0.33" filter="url(#b1)"/>
<ellipse cx="680.0" cy="694.1" rx="2.8" ry="6.9" fill="#dc2228" opacity="0.20" filter="url(#b1)"/>
<ellipse cx="700.8" cy="710.1" rx="1.7" ry="1.1" fill="#dc2228" opacity="0.70" filter="url(#b5)"/>
<ellipse cx="678.6" cy="714.9" rx="1.1" ry="1.7" fill="#dc2228" opacity="0.60" filter="url(#b5)"/>
</g>
<path d="M614.9 739.7h.01M695.1 776.2h.01M679.0 737.0h.01M703.8 769.8h.01M708.2 705.0h.01M597.1 699.8h.01M620.1 766.6h.01M692.0 705.2h.01M680.1 720.2h.01M595.9 722.1h.01M689.3 717.4h.01M695.6 719.7h.01M620.4 716.1h.01M704.6 733.4h.01M706.7 744.5h.01M717.9 694.2h.01M710.0 736.3h.01M706.9 724.7h.01M625.7 692.5h.01M705.0 700.7h.01M611.8 727.4h.01M664.4 776.2h.01M648.4 718.3h.01M685.3 763.7h.01M652.7 749.2h.01M608.4 749.5h.01M583.9 714.1h.01M691.7 703.8h.01M692.2 735.3h.01M692.1 695.8h.01M670.8 749.4h.01M640.7 782.0h.01M637.9 690.9h.01M611.6 723.8h.01M585.2 718.8h.01M702.0 705.9h.01M679.7 748.7h.01M618.7 755.3h.01M632.3 699.9h.01M637.9 745.0h.01M607.0 768.1h.01M625.7 715.8h.01M687.0 745.8h.01M631.4 774.4h.01M725.2 720.9h.01M711.7 722.5h.01M610.1 780.3h.01M714.1 726.8h.01M615.8 758.6h.01M601.9 759.3h.01M667.3 703.8h.01M635.5 751.1h.01M588.5 773.3h.01M619.7 739.7h.01M590.1 784.9h.01M677.6 751.4h.01M586.0 754.9h.01M642.6 724.5h.01M661.2 733.8h.01M605.0 755.5h.01M673.1 716.8h.01M677.6 752.3h.01M621.7 746.7h.01M602.8 768.8h.01M598.2 757.8h.01M600.0 698.4h.01M598.4 706.7h.01M611.7 713.0h.01M657.8 707.0h.01M683.5 716.2h.01M588.8 735.9h.01M612.8 778.8h.01M630.3 687.5h.01M679.0 776.3h.01M702.3 752.9h.01M604.5 696.0h.01M656.2 758.3h.01M597.6 712.3h.01M616.2 784.3h.01M625.4 732.8h.01M597.4 704.4h.01M588.8 715.7h.01M697.5 717.9h.01M688.5 696.5h.01M691.3 691.7h.01M704.7 752.3h.01M607.5 722.3h.01M645.6 748.3h.01M708.5 696.3h.01M699.4 705.2h.01M640.4 781.7h.01M622.0 725.1h.01M704.5 765.8h.01M675.7 765.5h.01M599.3 755.6h.01M591.6 779.8h.01M605.9 728.1h.01M667.4 766.0h.01M679.9 705.0h.01M637.4 722.4h.01M587.3 754.4h.01M702.8 782.8h.01M601.8 777.6h.01M599.3 727.6h.01M589.8 712.9h.01M628.0 756.4h.01M679.9 762.6h.01M665.4 742.7h.01M722.6 753.0h.01M631.4 738.6h.01M683.1 696.6h.01M677.6 711.6h.01M632.5 753.6h.01M638.1 769.6h.01M662.8 784.2h.01M591.0 750.4h.01M605.6 770.6h.01M704.7 772.6h.01M593.9 735.5h.01M617.6 782.5h.01" stroke="#d8262a" stroke-width="1.0" stroke-linecap="round" fill="none" opacity="0.45"/>
<ellipse cx="613.6" cy="694.8" rx="2.40" ry="2.93" fill="#2a56c8" filter="url(#b6)"/>
<ellipse cx="623.5" cy="695.2" rx="3.33" ry="2.40" fill="#27409c" filter="url(#b6)"/>
<ellipse cx="649.4" cy="696.5" rx="2.93" ry="2.93" fill="#2a56c8" filter="url(#b6)"/>
<ellipse cx="659.4" cy="693.7" rx="2.67" ry="3.60" fill="#2a56c8" filter="url(#b6)"/>
<ellipse cx="671.7" cy="694.1" rx="2.67" ry="3.20" fill="#2a56c8" filter="url(#b6)"/>
<ellipse cx="682.5" cy="688.8" rx="2.40" ry="1.87" fill="#2a56c8" filter="url(#b6)"/>
<ellipse cx="586.2" cy="708.7" rx="2.67" ry="2.93" fill="#27409c" filter="url(#b6)"/>
<ellipse cx="648.1" cy="710.1" rx="2.93" ry="3.20" fill="#2a56c8" filter="url(#b6)"/>
<ellipse cx="695.6" cy="713.3" rx="3.60" ry="2.67" fill="#2a56c8" filter="url(#b6)"/>
<ellipse cx="661.0" cy="720.5" rx="3.73" ry="2.93" fill="#2a56c8" filter="url(#b6)"/>
<ellipse cx="724.2" cy="719.8" rx="1.87" ry="2.93" fill="#2a56c8" filter="url(#b6)"/>
<ellipse cx="611.2" cy="728.1" rx="2.40" ry="3.33" fill="#27409c" filter="url(#b6)"/>
<ellipse cx="643.9" cy="726.8" rx="2.93" ry="3.20" fill="#2a56c8" filter="url(#b6)"/>
<ellipse cx="634.2" cy="731.6" rx="2.40" ry="2.93" fill="#2a56c8" filter="url(#b6)"/>
<ellipse cx="668.5" cy="733.0" rx="4.27" ry="4.00" fill="#27409c" filter="url(#b6)"/>
<ellipse cx="679.0" cy="738.8" rx="3.33" ry="2.67" fill="#27409c" filter="url(#b6)"/>
<ellipse cx="721.7" cy="739.9" rx="3.33" ry="2.93" fill="#6348cc" filter="url(#b6)"/>
<ellipse cx="657.4" cy="742.4" rx="3.33" ry="2.67" fill="#2a56c8" filter="url(#b6)"/>
<ellipse cx="628.9" cy="743.8" rx="2.67" ry="2.93" fill="#2a56c8" filter="url(#b6)"/>
<ellipse cx="637.6" cy="748.0" rx="3.33" ry="3.33" fill="#2a56c8" filter="url(#b6)"/>
<ellipse cx="595.6" cy="753.1" rx="2.67" ry="2.93" fill="#2a56c8" filter="url(#b6)"/>
<ellipse cx="706.7" cy="753.1" rx="3.33" ry="2.93" fill="#2a56c8" filter="url(#b6)"/>
<ellipse cx="692.5" cy="756.6" rx="3.33" ry="3.33" fill="#2a56c8" filter="url(#b6)"/>
<ellipse cx="656.4" cy="760.5" rx="3.33" ry="3.33" fill="#2a56c8" filter="url(#b6)"/>
<ellipse cx="587.6" cy="765.9" rx="2.40" ry="3.20" fill="#6348cc" filter="url(#b6)"/>
<ellipse cx="615.4" cy="766.8" rx="3.33" ry="3.60" fill="#27409c" filter="url(#b6)"/>
<ellipse cx="685.6" cy="766.8" rx="3.73" ry="4.27" fill="#2a56c8" filter="url(#b6)"/>
<ellipse cx="701.1" cy="773.0" rx="3.73" ry="2.93" fill="#27409c" filter="url(#b6)" transform="rotate(30 701.1 773.0)"/>
<ellipse cx="593.2" cy="774.2" rx="3.60" ry="2.67" fill="#2a56c8" filter="url(#b6)"/>
<ellipse cx="630.3" cy="777.9" rx="3.60" ry="2.67" fill="#2a56c8" filter="url(#b6)"/>
<ellipse cx="669.3" cy="781.9" rx="3.33" ry="2.40" fill="#2a56c8" filter="url(#b6)"/>
<ellipse cx="589.7" cy="782.3" rx="2.40" ry="2.40" fill="#2a56c8" filter="url(#b6)"/>
</g>
<text x="586.40" y="697.30" font-size="6.4" font-weight="bold" fill="#fff" textLength="22.80" lengthAdjust="spacingAndGlyphs">50μM</text>
<line x1="588.80" y1="699.80" x2="609.80" y2="699.80" stroke="#fff" stroke-width="1.1"/>
<clipPath id="ci21"><rect x="746.6" y="687.2" width="143.3" height="98.2"/></clipPath>
<g clip-path="url(#ci21)">
<rect x="746.60" y="687.20" width="143.30" height="98.20" fill="#190505"/>
<ellipse cx="872.2" cy="702.4" rx="15.3" ry="11.1" fill="#050001" opacity="0.85" filter="url(#b4)"/>
<ellipse cx="881.9" cy="752.4" rx="8.3" ry="6.9" fill="#050001" opacity="0.6" filter="url(#b4)"/>
<ellipse cx="856.9" cy="766.3" rx="11.1" ry="6.9" fill="#050001" opacity="0.5" filter="url(#b4)"/>
<ellipse cx="820.8" cy="769.1" rx="8.3" ry="5.6" fill="#050001" opacity="0.5" filter="url(#b4)"/>
<ellipse cx="840.2" cy="721.9" rx="5.6" ry="8.3" fill="#050001" opacity="0.5" filter="url(#b4)"/>
<ellipse cx="801.3" cy="755.2" rx="5.6" ry="11.1" fill="#050001" opacity="0.5" filter="url(#b4)"/>
<ellipse cx="784.7" cy="706.6" rx="5.6" ry="8.3" fill="#050001" opacity="0.4" filter="url(#b4)"/>
<ellipse cx="874.9" cy="777.4" rx="12.5" ry="4.2" fill="#050001" opacity="0.6" filter="url(#b4)"/>
<g filter="url(#tex)">
<rect x="746.60" y="687.20" width="143.30" height="98.20" fill="#d02020" opacity="0"/>
<ellipse cx="794.3" cy="689.2" rx="7.3" ry="4.7" fill="#d8242a" opacity="0.27" filter="url(#b1)" transform="rotate(-30 794.3 689.2)"/>
<ellipse cx="834.7" cy="690.1" rx="6.3" ry="5.1" fill="#d8242a" opacity="0.20" filter="url(#b1)" transform="rotate(3 834.7 690.1)"/>
<ellipse cx="849.8" cy="689.6" rx="6.1" ry="5.5" fill="#d8242a" opacity="0.34" filter="url(#b1)" transform="rotate(-47 849.8 689.6)"/>
<ellipse cx="770.5" cy="695.6" rx="5.7" ry="3.4" fill="#d8242a" opacity="0.38" filter="url(#b1)" transform="rotate(41 770.5 695.6)"/>
<ellipse cx="795.4" cy="699.7" rx="6.9" ry="5.6" fill="#d8242a" opacity="0.30" filter="url(#b1)" transform="rotate(-34 795.4 699.7)"/>
<ellipse cx="775.5" cy="705.8" rx="7.0" ry="5.2" fill="#d8242a" opacity="0.38" filter="url(#b1)" transform="rotate(44 775.5 705.8)"/>
<ellipse cx="819.9" cy="708.8" rx="6.3" ry="6.3" fill="#d8242a" opacity="0.33" filter="url(#b1)" transform="rotate(0 819.9 708.8)"/>
<ellipse cx="835.8" cy="706.5" rx="6.5" ry="7.4" fill="#d8242a" opacity="0.20" filter="url(#b1)" transform="rotate(24 835.8 706.5)"/>
<ellipse cx="853.6" cy="704.8" rx="6.9" ry="7.9" fill="#d8242a" opacity="0.41" filter="url(#b1)" transform="rotate(-23 853.6 704.8)"/>
<ellipse cx="750.8" cy="712.2" rx="5.9" ry="4.7" fill="#d8242a" opacity="0.39" filter="url(#b1)" transform="rotate(3 750.8 712.2)"/>
<ellipse cx="773.7" cy="718.3" rx="7.6" ry="6.0" fill="#d8242a" opacity="0.20" filter="url(#b1)" transform="rotate(18 773.7 718.3)"/>
<ellipse cx="791.7" cy="718.3" rx="7.0" ry="7.0" fill="#d8242a" opacity="0.23" filter="url(#b1)" transform="rotate(45 791.7 718.3)"/>
<ellipse cx="813.4" cy="720.4" rx="4.7" ry="4.7" fill="#d8242a" opacity="0.28" filter="url(#b1)" transform="rotate(58 813.4 720.4)"/>
<ellipse cx="869.6" cy="720.3" rx="5.7" ry="5.7" fill="#d8242a" opacity="0.39" filter="url(#b1)" transform="rotate(-2 869.6 720.3)"/>
<ellipse cx="758.8" cy="725.9" rx="4.7" ry="5.9" fill="#d8242a" opacity="0.30" filter="url(#b1)" transform="rotate(7 758.8 725.9)"/>
<ellipse cx="826.7" cy="726.2" rx="6.5" ry="6.5" fill="#d8242a" opacity="0.32" filter="url(#b1)" transform="rotate(58 826.7 726.2)"/>
<ellipse cx="765.9" cy="731.1" rx="5.8" ry="4.8" fill="#d8242a" opacity="0.32" filter="url(#b1)" transform="rotate(33 765.9 731.1)"/>
<ellipse cx="782.9" cy="729.1" rx="6.5" ry="6.5" fill="#d8242a" opacity="0.32" filter="url(#b1)" transform="rotate(-19 782.9 729.1)"/>
<ellipse cx="850.2" cy="728.2" rx="7.3" ry="9.9" fill="#d8242a" opacity="0.40" filter="url(#b1)" transform="rotate(37 850.2 728.2)"/>
<ellipse cx="874.8" cy="733.0" rx="6.2" ry="6.2" fill="#d8242a" opacity="0.25" filter="url(#b1)" transform="rotate(43 874.8 733.0)"/>
<ellipse cx="809.1" cy="736.6" rx="7.2" ry="6.0" fill="#d8242a" opacity="0.36" filter="url(#b1)" transform="rotate(-22 809.1 736.6)"/>
<ellipse cx="750.8" cy="739.8" rx="5.1" ry="6.2" fill="#d8242a" opacity="0.36" filter="url(#b1)" transform="rotate(10 750.8 739.8)"/>
<ellipse cx="846.5" cy="737.7" rx="5.8" ry="6.4" fill="#d8242a" opacity="0.25" filter="url(#b1)" transform="rotate(-16 846.5 737.7)"/>
<ellipse cx="763.8" cy="742.0" rx="6.6" ry="6.6" fill="#d8242a" opacity="0.41" filter="url(#b1)" transform="rotate(-38 763.8 742.0)"/>
<ellipse cx="791.6" cy="743.0" rx="5.7" ry="5.2" fill="#d8242a" opacity="0.20" filter="url(#b1)" transform="rotate(-15 791.6 743.0)"/>
<ellipse cx="812.7" cy="744.3" rx="6.5" ry="6.5" fill="#d8242a" opacity="0.35" filter="url(#b1)" transform="rotate(26 812.7 744.3)"/>
<ellipse cx="808.0" cy="748.9" rx="5.1" ry="5.1" fill="#d8242a" opacity="0.38" filter="url(#b1)" transform="rotate(43 808.0 748.9)"/>
<ellipse cx="834.2" cy="742.3" rx="6.3" ry="6.3" fill="#d8242a" opacity="0.19" filter="url(#b1)" transform="rotate(-53 834.2 742.3)"/>
<ellipse cx="850.7" cy="743.1" rx="4.8" ry="6.0" fill="#d8242a" opacity="0.25" filter="url(#b1)" transform="rotate(-28 850.7 743.1)"/>
<ellipse cx="886.3" cy="743.2" rx="4.9" ry="6.8" fill="#d8242a" opacity="0.22" filter="url(#b1)" transform="rotate(9 886.3 743.2)"/>
<ellipse cx="835.6" cy="751.7" rx="5.8" ry="4.7" fill="#d8242a" opacity="0.39" filter="url(#b1)" transform="rotate(34 835.6 751.7)"/>
<ellipse cx="774.0" cy="751.7" rx="7.4" ry="5.9" fill="#d8242a" opacity="0.27" filter="url(#b1)" transform="rotate(5 774.0 751.7)"/>
<ellipse cx="828.0" cy="756.3" rx="5.6" ry="4.6" fill="#d8242a" opacity="0.34" filter="url(#b1)" transform="rotate(58 828.0 756.3)"/>
<ellipse cx="852.0" cy="756.0" rx="8.4" ry="6.2" fill="#d8242a" opacity="0.34" filter="url(#b1)" transform="rotate(10 852.0 756.0)"/>
<ellipse cx="749.8" cy="760.1" rx="4.4" ry="6.1" fill="#d8242a" opacity="0.39" filter="url(#b1)" transform="rotate(50 749.8 760.1)"/>
<ellipse cx="760.9" cy="760.3" rx="9.7" ry="8.1" fill="#d8242a" opacity="0.35" filter="url(#b1)" transform="rotate(22 760.9 760.3)"/>
<ellipse cx="766.9" cy="763.1" rx="8.2" ry="7.6" fill="#d8242a" opacity="0.22" filter="url(#b1)" transform="rotate(32 766.9 763.1)"/>
<ellipse cx="835.5" cy="761.6" rx="5.3" ry="5.8" fill="#d8242a" opacity="0.34" filter="url(#b1)" transform="rotate(-37 835.5 761.6)"/>
<ellipse cx="871.2" cy="763.9" rx="4.7" ry="5.2" fill="#d8242a" opacity="0.18" filter="url(#b1)" transform="rotate(-25 871.2 763.9)"/>
<ellipse cx="877.2" cy="763.5" rx="6.3" ry="7.2" fill="#d8242a" opacity="0.24" filter="url(#b1)" transform="rotate(-18 877.2 763.5)"/>
<ellipse cx="887.3" cy="762.7" rx="3.6" ry="5.0" fill="#d8242a" opacity="0.40" filter="url(#b1)" transform="rotate(16 887.3 762.7)"/>
<ellipse cx="883.2" cy="768.9" rx="5.8" ry="6.4" fill="#d8242a" opacity="0.34" filter="url(#b1)" transform="rotate(2 883.2 768.9)"/>
<ellipse cx="771.7" cy="767.6" rx="5.1" ry="4.1" fill="#d8242a" opacity="0.35" filter="url(#b1)" transform="rotate(7 771.7 767.6)"/>
<ellipse cx="791.8" cy="770.3" rx="5.5" ry="5.7" fill="#d8242a" opacity="0.30" filter="url(#b1)" transform="rotate(-7 791.8 770.3)"/>
<ellipse cx="809.8" cy="773.0" rx="6.5" ry="5.7" fill="#d8242a" opacity="0.39" filter="url(#b1)" transform="rotate(24 809.8 773.0)"/>
<ellipse cx="856.1" cy="773.2" rx="6.2" ry="5.4" fill="#d8242a" opacity="0.36" filter="url(#b1)" transform="rotate(7 856.1 773.2)"/>
<ellipse cx="775.1" cy="775.9" rx="7.6" ry="6.7" fill="#d8242a" opacity="0.33" filter="url(#b1)" transform="rotate(-46 775.1 775.9)"/>
<ellipse cx="823.8" cy="778.0" rx="7.7" ry="6.5" fill="#d8242a" opacity="0.33" filter="url(#b1)" transform="rotate(19 823.8 778.0)"/>
<ellipse cx="761.6" cy="778.9" rx="7.1" ry="7.1" fill="#d8242a" opacity="0.27" filter="url(#b1)" transform="rotate(41 761.6 778.9)"/>
<ellipse cx="879.9" cy="780.6" rx="7.1" ry="4.5" fill="#d8242a" opacity="0.24" filter="url(#b1)" transform="rotate(56 879.9 780.6)"/>
<ellipse cx="834.7" cy="782.6" rx="7.0" ry="3.4" fill="#d8242a" opacity="0.30" filter="url(#b1)" transform="rotate(2 834.7 782.6)"/>
<ellipse cx="746.3" cy="720.5" rx="2.4" ry="4.9" fill="#d8242a" opacity="0.30" filter="url(#b1)" transform="rotate(-48 746.3 720.5)"/>
<ellipse cx="871.8" cy="690.1" rx="5.1" ry="2.3" fill="#d8242a" opacity="0.18" filter="url(#b1)" transform="rotate(-52 871.8 690.1)"/>
<ellipse cx="756.9" cy="770.5" rx="13.9" ry="16.7" fill="#dc2228" opacity="0.47" filter="url(#b1)" transform="rotate(25 756.9 770.5)"/>
<ellipse cx="762.4" cy="764.2" rx="10.4" ry="6.2" fill="#dc2228" opacity="0.52" filter="url(#b1)"/>
<ellipse cx="812.4" cy="721.2" rx="4.9" ry="10.4" fill="#dc2228" opacity="0.75" filter="url(#b1)"/>
<ellipse cx="802.7" cy="706.6" rx="3.5" ry="11.1" fill="#dc2228" opacity="0.47" filter="url(#b1)" transform="rotate(5 802.7 706.6)"/>
<ellipse cx="763.8" cy="735.8" rx="18.1" ry="16.7" fill="#dc2228" opacity="0.28" filter="url(#b4)"/>
<ellipse cx="829.1" cy="745.5" rx="18.1" ry="8.3" fill="#dc2228" opacity="0.33" filter="url(#b4)" transform="rotate(-20 829.1 745.5)"/>
<ellipse cx="833.3" cy="701.1" rx="5.6" ry="9.7" fill="#dc2228" opacity="0.38" filter="url(#b1)" transform="rotate(10 833.3 701.1)"/>
<ellipse cx="868.0" cy="724.7" rx="3.1" ry="11.1" fill="#dc2228" opacity="0.38" filter="url(#b1)"/>
<ellipse cx="854.1" cy="710.8" rx="4.2" ry="8.3" fill="#dc2228" opacity="0.33" filter="url(#b1)"/>
<ellipse cx="784.7" cy="749.7" rx="13.9" ry="6.9" fill="#dc2228" opacity="0.28" filter="url(#b4)"/>
<ellipse cx="851.3" cy="744.1" rx="4.2" ry="6.9" fill="#dc2228" opacity="0.38" filter="url(#b1)"/>
<ellipse cx="844.4" cy="735.8" rx="1.9" ry="5.6" fill="#dc2228" opacity="0.47" filter="url(#b1)"/>
<ellipse cx="867.3" cy="712.9" rx="1.1" ry="1.1" fill="#dc2228" opacity="0.90" filter="url(#b5)"/>
</g>
<ellipse cx="812.4" cy="721.2" rx="3.9" ry="8.3" fill="#e8282e" opacity="0.52" filter="url(#b1)"/>
<path d="M776.8 749.0h.01M777.1 754.5h.01M866.4 707.4h.01M865.4 773.5h.01M852.8 729.9h.01M863.6 694.3h.01M844.9 689.5h.01M849.3 690.9h.01M757.1 704.7h.01M782.7 694.1h.01M864.3 776.7h.01M805.0 731.5h.01M804.6 718.3h.01M802.4 698.8h.01M747.4 757.9h.01M755.7 760.5h.01M753.1 770.5h.01M797.9 736.6h.01M788.1 754.6h.01M833.5 714.8h.01M879.4 724.7h.01M864.4 690.2h.01M769.0 708.8h.01M853.6 765.4h.01M868.3 716.2h.01M837.5 716.5h.01M873.7 782.0h.01M870.9 750.8h.01M883.8 688.3h.01M872.0 701.1h.01M752.6 743.4h.01M803.1 741.0h.01M758.8 707.8h.01M852.8 758.5h.01M776.9 776.1h.01M868.6 701.2h.01M773.0 747.8h.01M782.8 698.5h.01M842.8 742.9h.01M754.4 761.0h.01M888.5 741.1h.01M839.0 694.4h.01M842.9 711.8h.01M774.9 744.2h.01M883.0 722.3h.01M842.8 710.2h.01M787.5 694.1h.01M774.3 734.9h.01M793.7 752.0h.01M846.0 702.2h.01M827.8 766.5h.01M884.0 703.8h.01M791.5 764.4h.01M848.7 750.1h.01M786.2 722.5h.01M844.0 719.8h.01M815.4 730.9h.01M857.6 735.0h.01M762.2 750.6h.01M758.3 714.8h.01M865.0 774.7h.01M774.7 759.2h.01M836.4 758.6h.01M874.4 770.6h.01M837.1 767.0h.01M829.6 762.7h.01M777.1 690.8h.01M783.9 775.0h.01M823.9 751.4h.01M767.9 725.7h.01M874.3 745.1h.01M869.4 700.3h.01M818.4 696.1h.01M798.7 688.2h.01M780.8 781.9h.01M887.3 754.4h.01M855.1 701.0h.01M769.4 742.8h.01M827.7 772.8h.01M767.6 759.1h.01M881.2 691.2h.01M855.7 710.0h.01M784.5 710.2h.01M842.4 738.1h.01M860.0 725.3h.01M878.1 773.8h.01M752.3 750.9h.01M761.4 782.3h.01M837.4 714.1h.01M852.9 744.0h.01M828.3 724.2h.01M800.8 744.9h.01M875.3 694.8h.01M782.7 782.7h.01M778.5 727.1h.01M863.7 721.1h.01M860.2 774.3h.01M747.5 773.8h.01M809.6 709.8h.01M820.3 714.8h.01M768.1 702.7h.01M832.9 767.4h.01M841.3 727.9h.01M793.9 698.3h.01M843.4 734.2h.01M831.3 750.8h.01M805.5 711.1h.01M764.9 745.4h.01M765.9 737.5h.01M874.3 701.6h.01M770.4 777.8h.01M820.6 727.0h.01M885.5 749.8h.01M872.5 758.7h.01M864.3 780.2h.01M777.6 746.8h.01M814.2 734.5h.01M778.0 727.5h.01M767.1 744.4h.01M856.6 748.4h.01M819.8 703.7h.01M844.8 777.8h.01M832.1 694.0h.01M800.8 700.2h.01M749.0 738.5h.01M876.9 754.4h.01M865.0 746.7h.01M772.0 775.7h.01M832.6 773.4h.01M822.8 761.1h.01M760.0 752.0h.01M875.9 740.2h.01M746.8 779.3h.01M843.8 729.6h.01M806.9 773.1h.01M846.6 729.3h.01M881.1 734.5h.01M856.8 721.6h.01M861.9 776.4h.01M866.6 743.8h.01M807.6 712.2h.01M856.3 776.6h.01M758.6 746.0h.01M824.5 712.5h.01M747.4 760.2h.01M747.6 738.5h.01M821.1 724.0h.01M776.0 766.2h.01M805.2 697.7h.01M807.7 744.7h.01M784.0 739.8h.01M827.5 747.3h.01M888.7 726.2h.01M775.8 741.4h.01M826.5 704.8h.01M826.7 734.7h.01M888.3 743.9h.01M857.5 726.3h.01M766.4 772.0h.01M763.7 709.8h.01M858.8 780.4h.01M761.0 737.1h.01M859.2 765.8h.01M834.6 754.4h.01M754.1 725.4h.01M837.7 766.2h.01M864.6 733.5h.01M832.6 695.9h.01M784.3 723.6h.01M833.9 758.3h.01M880.0 726.5h.01M840.6 715.3h.01M884.7 692.8h.01M857.5 704.4h.01M817.4 688.3h.01M868.5 778.6h.01M820.9 706.3h.01M858.9 737.3h.01M846.7 747.6h.01M843.2 722.5h.01M840.5 783.0h.01M759.0 714.3h.01M803.8 753.0h.01M804.7 706.9h.01M748.8 756.3h.01M878.3 741.2h.01M850.7 742.1h.01M830.1 721.3h.01M863.5 709.4h.01M884.6 731.9h.01M804.5 687.7h.01M771.7 736.9h.01M826.7 736.6h.01M795.3 698.7h.01M820.2 712.5h.01M823.7 765.1h.01M782.4 730.7h.01M800.6 734.7h.01M781.5 720.6h.01M857.7 754.1h.01M875.1 771.9h.01M815.7 712.5h.01M801.4 764.6h.01M778.2 756.1h.01M861.3 727.7h.01M797.2 739.8h.01M847.0 713.1h.01M787.8 726.4h.01M853.9 720.8h.01M826.1 704.7h.01M791.6 708.7h.01M828.8 705.1h.01M853.5 778.6h.01M773.9 759.6h.01M780.3 711.0h.01M784.6 709.7h.01M866.2 769.3h.01M797.6 763.7h.01M763.8 694.9h.01M883.6 735.6h.01M747.5 771.4h.01M883.9 770.5h.01M799.8 718.2h.01M875.3 773.7h.01M828.9 714.2h.01M772.8 762.3h.01M819.8 726.3h.01M854.1 699.8h.01M821.9 728.8h.01M881.3 690.4h.01M796.4 771.7h.01M857.8 732.1h.01M763.8 738.1h.01M791.8 688.0h.01M843.2 724.5h.01M761.0 722.7h.01M870.1 705.6h.01M784.3 713.7h.01M884.0 720.9h.01M773.0 728.8h.01M806.7 761.1h.01M798.9 726.5h.01M811.2 743.3h.01M886.9 754.6h.01M863.3 758.0h.01M861.8 741.7h.01M869.3 706.5h.01M861.2 759.7h.01M814.4 688.2h.01M807.0 700.4h.01M874.6 749.1h.01M823.1 718.2h.01M816.3 711.8h.01M869.6 691.9h.01M760.8 703.2h.01M777.5 712.2h.01M866.8 696.7h.01M853.3 712.7h.01M798.2 741.9h.01M862.7 721.0h.01" stroke="#d8262a" stroke-width="1.0" stroke-linecap="round" fill="none" opacity="0.45"/>
<ellipse cx="795.8" cy="689.9" rx="3.33" ry="2.13" fill="#4a50d0" filter="url(#b6)"/>
<ellipse cx="836.1" cy="690.2" rx="2.93" ry="2.40" fill="#4a50d0" filter="url(#b6)"/>
<ellipse cx="849.9" cy="690.6" rx="2.93" ry="2.67" fill="#27409c" filter="url(#b6)"/>
<ellipse cx="770.8" cy="696.9" rx="2.67" ry="1.60" fill="#4a50d0" filter="url(#b6)"/>
<ellipse cx="795.1" cy="699.4" rx="3.60" ry="2.93" fill="#4a50d0" filter="url(#b6)"/>
<ellipse cx="774.9" cy="705.9" rx="3.60" ry="2.67" fill="#4a50d0" filter="url(#b6)"/>
<ellipse cx="820.8" cy="709.0" rx="2.93" ry="2.93" fill="#4a50d0" filter="url(#b6)"/>
<ellipse cx="835.1" cy="706.9" rx="3.20" ry="3.60" fill="#4a50d0" filter="url(#b6)"/>
<ellipse cx="854.5" cy="705.2" rx="2.93" ry="3.33" fill="#6348cc" filter="url(#b6)"/>
<ellipse cx="750.6" cy="712.6" rx="3.33" ry="2.67" fill="#4a50d0" filter="url(#b6)"/>
<ellipse cx="774.9" cy="717.7" rx="3.33" ry="2.67" fill="#4a50d0" filter="url(#b6)"/>
<ellipse cx="792.7" cy="719.4" rx="2.93" ry="2.93" fill="#4a50d0" filter="url(#b6)"/>
<ellipse cx="812.4" cy="719.8" rx="2.67" ry="2.67" fill="#6348cc" filter="url(#b6)"/>
<ellipse cx="869.1" cy="719.8" rx="3.20" ry="3.20" fill="#4a50d0" filter="url(#b6)"/>
<ellipse cx="758.3" cy="724.7" rx="2.67" ry="3.33" fill="#4a50d0" filter="url(#b6)"/>
<ellipse cx="825.9" cy="726.1" rx="3.20" ry="3.20" fill="#4a50d0" filter="url(#b6)"/>
<ellipse cx="765.9" cy="729.9" rx="3.20" ry="2.67" fill="#4a50d0" filter="url(#b6)"/>
<ellipse cx="781.9" cy="730.2" rx="2.93" ry="2.93" fill="#4a50d0" filter="url(#b6)"/>
<ellipse cx="850.2" cy="728.6" rx="2.93" ry="4.00" fill="#4a50d0" filter="url(#b6)" transform="rotate(-20 850.2 728.6)"/>
<ellipse cx="875.6" cy="733.3" rx="3.20" ry="3.20" fill="#4a50d0" filter="url(#b6)"/>
<ellipse cx="810.4" cy="736.9" rx="3.20" ry="2.67" fill="#4a50d0" filter="url(#b6)"/>
<ellipse cx="749.7" cy="739.7" rx="2.67" ry="3.20" fill="#4a50d0" filter="url(#b6)"/>
<ellipse cx="846.1" cy="738.6" rx="2.67" ry="2.93" fill="#4a50d0" filter="url(#b6)"/>
<ellipse cx="762.4" cy="743.0" rx="2.93" ry="2.93" fill="#4a50d0" filter="url(#b6)"/>
<ellipse cx="791.6" cy="742.4" rx="2.93" ry="2.67" fill="#4a50d0" filter="url(#b6)"/>
<ellipse cx="812.4" cy="744.1" rx="2.67" ry="2.67" fill="#4a50d0" filter="url(#b6)"/>
<ellipse cx="807.2" cy="748.0" rx="2.67" ry="2.67" fill="#4a50d0" filter="url(#b6)"/>
<ellipse cx="835.8" cy="743.4" rx="3.20" ry="3.20" fill="#4a50d0" filter="url(#b6)"/>
<ellipse cx="851.8" cy="742.4" rx="2.67" ry="3.33" fill="#4a50d0" filter="url(#b6)"/>
<ellipse cx="887.4" cy="744.4" rx="2.13" ry="2.93" fill="#4a50d0" filter="url(#b6)"/>
<ellipse cx="837.2" cy="750.8" rx="3.33" ry="2.67" fill="#6348cc" filter="url(#b6)"/>
<ellipse cx="773.8" cy="752.4" rx="3.33" ry="2.67" fill="#4a50d0" filter="url(#b6)"/>
<ellipse cx="827.0" cy="755.5" rx="2.93" ry="2.40" fill="#4a50d0" filter="url(#b6)"/>
<ellipse cx="852.4" cy="756.2" rx="3.60" ry="2.67" fill="#4a50d0" filter="url(#b6)"/>
<ellipse cx="751.3" cy="759.4" rx="2.40" ry="3.33" fill="#4a50d0" filter="url(#b6)"/>
<ellipse cx="759.7" cy="759.4" rx="4.00" ry="3.33" fill="#6348cc" filter="url(#b6)"/>
<ellipse cx="767.3" cy="762.9" rx="3.60" ry="3.33" fill="#6348cc" filter="url(#b6)"/>
<ellipse cx="834.0" cy="762.2" rx="2.93" ry="3.20" fill="#4a50d0" filter="url(#b6)"/>
<ellipse cx="869.7" cy="763.3" rx="2.67" ry="2.93" fill="#4a50d0" filter="url(#b6)"/>
<ellipse cx="877.0" cy="764.5" rx="2.93" ry="3.33" fill="#4a50d0" filter="url(#b6)"/>
<ellipse cx="887.4" cy="761.5" rx="2.13" ry="2.93" fill="#4a50d0" filter="url(#b6)"/>
<ellipse cx="884.7" cy="767.7" rx="2.67" ry="2.93" fill="#4a50d0" filter="url(#b6)"/>
<ellipse cx="770.8" cy="767.4" rx="2.93" ry="2.40" fill="#4a50d0" filter="url(#b6)"/>
<ellipse cx="792.7" cy="771.2" rx="3.20" ry="3.33" fill="#4a50d0" filter="url(#b6)"/>
<ellipse cx="809.7" cy="773.3" rx="3.33" ry="2.93" fill="#4a50d0" filter="url(#b6)"/>
<ellipse cx="856.6" cy="773.6" rx="3.33" ry="2.93" fill="#4a50d0" filter="url(#b6)"/>
<ellipse cx="775.2" cy="775.8" rx="3.33" ry="2.93" fill="#4a50d0" filter="url(#b6)"/>
<ellipse cx="823.3" cy="778.1" rx="3.20" ry="2.67" fill="#4a50d0" filter="url(#b6)"/>
<ellipse cx="762.4" cy="780.2" rx="2.93" ry="2.93" fill="#4a50d0" filter="url(#b6)"/>
<ellipse cx="878.4" cy="780.9" rx="3.33" ry="2.13" fill="#4a50d0" filter="url(#b6)"/>
<ellipse cx="834.7" cy="781.9" rx="3.33" ry="1.60" fill="#4a50d0" filter="url(#b6)"/>
<ellipse cx="747.9" cy="719.4" rx="1.33" ry="2.67" fill="#4a50d0" filter="url(#b6)"/>
<ellipse cx="872.9" cy="688.8" rx="2.40" ry="1.07" fill="#4a50d0" filter="url(#b6)"/>
</g>
<text x="749.80" y="697.30" font-size="6.4" font-weight="bold" fill="#fff" textLength="22.80" lengthAdjust="spacingAndGlyphs">50μM</text>
<line x1="752.20" y1="699.80" x2="773.20" y2="699.80" stroke="#fff" stroke-width="1.1"/>
<clipPath id="ci22"><rect x="909.1" y="687.2" width="141.4" height="98.2"/></clipPath>
<g clip-path="url(#ci22)">
<rect x="909.10" y="687.20" width="141.40" height="98.20" fill="#040001"/>
<g filter="url(#tex)">
<rect x="909.10" y="687.20" width="141.40" height="98.20" fill="#d02020" opacity="0"/>
<ellipse cx="922.7" cy="696.9" rx="6.2" ry="1.7" fill="#dc2228" opacity="0.57" filter="url(#b1)" transform="rotate(-25 922.7 696.9)"/>
<ellipse cx="928.2" cy="737.2" rx="1.9" ry="2.2" fill="#dc2228" opacity="0.90" filter="url(#b5)"/>
<ellipse cx="969.9" cy="733.7" rx="3.5" ry="2.8" fill="#dc2228" opacity="0.41" filter="url(#b1)"/>
<ellipse cx="1026.8" cy="777.4" rx="2.5" ry="6.9" fill="#dc2228" opacity="0.74" filter="url(#b1)"/>
<ellipse cx="1042.1" cy="764.9" rx="1.9" ry="3.5" fill="#dc2228" opacity="0.49" filter="url(#b1)"/>
<ellipse cx="992.8" cy="765.6" rx="2.8" ry="1.2" fill="#dc2228" opacity="0.80" filter="url(#b5)"/>
<ellipse cx="983.8" cy="772.6" rx="8.3" ry="1.9" fill="#dc2228" opacity="0.49" filter="url(#b1)" transform="rotate(-20 983.8 772.6)"/>
<ellipse cx="1003.2" cy="774.7" rx="4.2" ry="3.1" fill="#dc2228" opacity="0.41" filter="url(#b1)"/>
<ellipse cx="1036.6" cy="747.6" rx="2.2" ry="1.1" fill="#dc2228" opacity="0.80" filter="url(#b5)"/>
<ellipse cx="978.2" cy="719.4" rx="2.5" ry="1.4" fill="#dc2228" opacity="0.49" filter="url(#b1)"/>
<ellipse cx="1000.4" cy="746.9" rx="2.8" ry="1.4" fill="#dc2228" opacity="0.41" filter="url(#b1)" transform="rotate(20 1000.4 746.9)"/>
<ellipse cx="1039.3" cy="738.6" rx="2.1" ry="1.4" fill="#dc2228" opacity="0.41" filter="url(#b1)"/>
<ellipse cx="994.9" cy="701.8" rx="4.2" ry="0.8" fill="#dc2228" opacity="0.33" filter="url(#b1)"/>
</g>
<ellipse cx="922.7" cy="696.9" rx="5.0" ry="1.3" fill="#e8282e" opacity="0.45" filter="url(#b1)" transform="rotate(-25 922.7 696.9)"/>
<ellipse cx="1026.8" cy="777.4" rx="2.0" ry="5.6" fill="#e8282e" opacity="0.59" filter="url(#b1)"/>
<path d="M967.3 721.7h.01M1005.2 746.7h.01M990.7 751.0h.01M985.2 783.4h.01M949.3 719.1h.01M981.3 763.3h.01M972.3 694.9h.01M995.9 732.7h.01M1044.4 772.5h.01M999.7 778.4h.01M968.7 747.3h.01M966.3 776.3h.01M920.3 720.9h.01M953.4 751.3h.01M1009.6 746.6h.01M965.0 774.4h.01M1019.5 779.4h.01M1014.9 738.4h.01M972.8 703.6h.01M1029.9 699.5h.01M942.3 711.9h.01M1014.3 760.8h.01M938.9 726.2h.01M922.6 779.2h.01M976.0 692.5h.01M1018.1 738.7h.01M1049.9 697.4h.01M996.5 695.5h.01M1040.8 725.5h.01M941.5 759.6h.01M971.8 699.6h.01M983.6 704.0h.01M914.1 722.2h.01M1038.5 772.1h.01M975.2 772.7h.01M1041.3 741.1h.01M928.2 780.3h.01M985.4 745.2h.01M973.7 760.7h.01M1033.1 729.9h.01M999.6 739.6h.01M1037.6 734.5h.01M941.2 696.0h.01M952.6 727.7h.01M931.1 688.2h.01M983.1 761.7h.01M928.4 715.4h.01M984.8 754.7h.01M978.7 761.4h.01M951.5 762.4h.01" stroke="#d8262a" stroke-width="1.0" stroke-linecap="round" fill="none" opacity="0.45"/>
<ellipse cx="989.8" cy="702.4" rx="3.33" ry="2.40" fill="#2a56c8" filter="url(#b6)"/>
<ellipse cx="1039.1" cy="702.4" rx="3.60" ry="2.67" fill="#2a56c8" filter="url(#b6)"/>
<ellipse cx="933.8" cy="704.8" rx="3.73" ry="2.13" fill="#2a56c8" filter="url(#b6)"/>
<ellipse cx="964.6" cy="707.7" rx="3.20" ry="2.40" fill="#2a56c8" filter="url(#b6)"/>
<ellipse cx="984.5" cy="718.1" rx="3.33" ry="2.40" fill="#2a56c8" filter="url(#b6)"/>
<ellipse cx="1019.6" cy="723.0" rx="3.60" ry="2.67" fill="#2a56c8" filter="url(#b6)"/>
<ellipse cx="973.8" cy="733.3" rx="3.60" ry="2.93" fill="#27409c" filter="url(#b6)"/>
<ellipse cx="932.1" cy="737.4" rx="2.67" ry="2.93" fill="#2a56c8" filter="url(#b6)"/>
<ellipse cx="1037.0" cy="740.6" rx="3.33" ry="2.40" fill="#2a56c8" filter="url(#b6)"/>
<ellipse cx="1029.3" cy="745.2" rx="3.33" ry="2.67" fill="#2a56c8" filter="url(#b6)"/>
<ellipse cx="1005.3" cy="749.7" rx="3.60" ry="2.40" fill="#2a56c8" filter="url(#b6)"/>
<ellipse cx="982.1" cy="752.4" rx="2.93" ry="3.20" fill="#27409c" filter="url(#b6)"/>
<ellipse cx="943.2" cy="759.4" rx="2.93" ry="3.60" fill="#27409c" filter="url(#b6)"/>
<ellipse cx="1017.5" cy="762.4" rx="3.33" ry="2.40" fill="#2a56c8" filter="url(#b6)"/>
<ellipse cx="927.8" cy="766.3" rx="2.93" ry="3.33" fill="#2a56c8" filter="url(#b6)"/>
<ellipse cx="1044.5" cy="766.3" rx="2.40" ry="3.33" fill="#2a56c8" filter="url(#b6)"/>
<ellipse cx="981.0" cy="771.9" rx="3.60" ry="2.67" fill="#2a56c8" filter="url(#b6)" transform="rotate(-20 981.0 771.9)"/>
<ellipse cx="1005.3" cy="775.4" rx="3.60" ry="2.93" fill="#2a56c8" filter="url(#b6)"/>
<ellipse cx="1027.2" cy="776.3" rx="2.67" ry="2.93" fill="#2a56c8" filter="url(#b6)"/>
<ellipse cx="1033.1" cy="776.3" rx="2.67" ry="2.93" fill="#2a56c8" filter="url(#b6)"/>
<ellipse cx="916.4" cy="781.9" rx="2.67" ry="1.87" fill="#2a56c8" filter="url(#b6)"/>
<ellipse cx="929.6" cy="696.2" rx="2.67" ry="1.60" fill="#2a56c8" filter="url(#b6)"/>
<ellipse cx="964.3" cy="783.7" rx="2.40" ry="0.80" fill="#2a56c8" filter="url(#b6)"/>
</g>
<text x="912.30" y="697.30" font-size="6.4" font-weight="bold" fill="#fff" textLength="22.80" lengthAdjust="spacingAndGlyphs">50μM</text>
<line x1="914.70" y1="699.80" x2="935.70" y2="699.80" stroke="#fff" stroke-width="1.1"/>
<clipPath id="ci30"><rect x="583.2" y="790.0" width="142.6" height="96.5"/></clipPath>
<g clip-path="url(#ci30)">
<rect x="583.20" y="790.00" width="142.60" height="96.50" fill="#0a0102"/>
<rect x="583.2" y="790.0" width="142.6" height="96.5" fill="#d02020" opacity="0.01"/>
<g filter="url(#tex)">
<rect x="583.20" y="790.00" width="142.60" height="96.50" fill="#d02020" opacity="0"/>
<ellipse cx="611.5" cy="795.3" rx="6.8" ry="6.2" fill="#d8242a" opacity="0.18" filter="url(#b1)" transform="rotate(-36 611.5 795.3)"/>
<ellipse cx="617.2" cy="797.6" rx="5.9" ry="5.9" fill="#d8242a" opacity="0.12" filter="url(#b1)" transform="rotate(34 617.2 797.6)"/>
<ellipse cx="637.2" cy="801.8" rx="5.9" ry="6.2" fill="#d8242a" opacity="0.11" filter="url(#b1)" transform="rotate(20 637.2 801.8)"/>
<ellipse cx="660.1" cy="801.6" rx="7.8" ry="7.8" fill="#d8242a" opacity="0.21" filter="url(#b1)" transform="rotate(27 660.1 801.6)"/>
<ellipse cx="644.2" cy="805.7" rx="6.2" ry="6.2" fill="#d8242a" opacity="0.14" filter="url(#b1)" transform="rotate(-36 644.2 805.7)"/>
<ellipse cx="693.4" cy="799.6" rx="6.4" ry="5.6" fill="#d8242a" opacity="0.19" filter="url(#b1)" transform="rotate(19 693.4 799.6)"/>
<ellipse cx="699.3" cy="803.5" rx="6.6" ry="5.5" fill="#d8242a" opacity="0.14" filter="url(#b1)" transform="rotate(-41 699.3 803.5)"/>
<ellipse cx="707.0" cy="801.7" rx="5.3" ry="5.3" fill="#d8242a" opacity="0.11" filter="url(#b1)" transform="rotate(-26 707.0 801.7)"/>
<ellipse cx="712.1" cy="804.9" rx="4.0" ry="4.9" fill="#d8242a" opacity="0.11" filter="url(#b1)" transform="rotate(-59 712.1 804.9)"/>
<ellipse cx="722.3" cy="793.5" rx="4.6" ry="4.6" fill="#d8242a" opacity="0.21" filter="url(#b1)" transform="rotate(-13 722.3 793.5)"/>
<ellipse cx="631.3" cy="815.6" rx="5.2" ry="6.2" fill="#d8242a" opacity="0.22" filter="url(#b1)" transform="rotate(-42 631.3 815.6)"/>
<ellipse cx="610.7" cy="823.9" rx="5.1" ry="5.1" fill="#d8242a" opacity="0.17" filter="url(#b1)" transform="rotate(-36 610.7 823.9)"/>
<ellipse cx="662.3" cy="823.8" rx="6.4" ry="6.4" fill="#d8242a" opacity="0.10" filter="url(#b1)" transform="rotate(38 662.3 823.8)"/>
<ellipse cx="605.4" cy="828.1" rx="7.3" ry="8.3" fill="#d8242a" opacity="0.13" filter="url(#b1)" transform="rotate(-56 605.4 828.1)"/>
<ellipse cx="682.5" cy="828.6" rx="6.3" ry="6.3" fill="#d8242a" opacity="0.19" filter="url(#b1)" transform="rotate(-34 682.5 828.6)"/>
<ellipse cx="690.6" cy="833.8" rx="5.1" ry="7.2" fill="#d8242a" opacity="0.15" filter="url(#b1)" transform="rotate(20 690.6 833.8)"/>
<ellipse cx="716.6" cy="839.3" rx="6.2" ry="6.8" fill="#d8242a" opacity="0.12" filter="url(#b1)" transform="rotate(1 716.6 839.3)"/>
<ellipse cx="661.0" cy="838.2" rx="8.0" ry="6.4" fill="#d8242a" opacity="0.22" filter="url(#b1)" transform="rotate(-33 661.0 838.2)"/>
<ellipse cx="634.1" cy="844.9" rx="6.8" ry="6.8" fill="#d8242a" opacity="0.10" filter="url(#b1)" transform="rotate(41 634.1 844.9)"/>
<ellipse cx="684.8" cy="845.0" rx="5.0" ry="6.2" fill="#d8242a" opacity="0.10" filter="url(#b1)" transform="rotate(-55 684.8 845.0)"/>
<ellipse cx="606.0" cy="858.6" rx="6.0" ry="7.5" fill="#d8242a" opacity="0.12" filter="url(#b1)" transform="rotate(38 606.0 858.6)"/>
<ellipse cx="585.3" cy="863.8" rx="5.8" ry="4.6" fill="#d8242a" opacity="0.19" filter="url(#b1)" transform="rotate(59 585.3 863.8)"/>
<ellipse cx="624.9" cy="864.4" rx="5.7" ry="5.0" fill="#d8242a" opacity="0.15" filter="url(#b1)" transform="rotate(-41 624.9 864.4)"/>
<ellipse cx="691.8" cy="862.8" rx="3.8" ry="7.1" fill="#d8242a" opacity="0.13" filter="url(#b1)" transform="rotate(11 691.8 862.8)"/>
<ellipse cx="650.8" cy="868.0" rx="7.8" ry="5.6" fill="#d8242a" opacity="0.16" filter="url(#b1)" transform="rotate(-36 650.8 868.0)"/>
<ellipse cx="617.0" cy="871.0" rx="6.7" ry="7.3" fill="#d8242a" opacity="0.14" filter="url(#b1)" transform="rotate(-55 617.0 871.0)"/>
<ellipse cx="709.1" cy="867.8" rx="5.6" ry="6.4" fill="#d8242a" opacity="0.20" filter="url(#b1)" transform="rotate(-36 709.1 867.8)"/>
<ellipse cx="673.6" cy="871.4" rx="7.7" ry="5.7" fill="#d8242a" opacity="0.17" filter="url(#b1)" transform="rotate(51 673.6 871.4)"/>
<ellipse cx="586.7" cy="877.0" rx="5.7" ry="5.1" fill="#d8242a" opacity="0.11" filter="url(#b1)" transform="rotate(-41 586.7 877.0)"/>
<ellipse cx="649.7" cy="878.4" rx="5.6" ry="5.6" fill="#d8242a" opacity="0.16" filter="url(#b1)" transform="rotate(39 649.7 878.4)"/>
<ellipse cx="719.3" cy="881.1" rx="4.9" ry="5.3" fill="#d8242a" opacity="0.10" filter="url(#b1)" transform="rotate(49 719.3 881.1)"/>
<ellipse cx="649.4" cy="885.0" rx="4.6" ry="3.1" fill="#d8242a" opacity="0.11" filter="url(#b1)" transform="rotate(8 649.4 885.0)"/>
<ellipse cx="687.3" cy="884.5" rx="4.8" ry="2.4" fill="#d8242a" opacity="0.21" filter="url(#b1)" transform="rotate(-41 687.3 884.5)"/>
<ellipse cx="725.1" cy="861.1" rx="2.3" ry="5.3" fill="#d8242a" opacity="0.12" filter="url(#b1)" transform="rotate(6 725.1 861.1)"/>
<ellipse cx="632.1" cy="848.8" rx="5.3" ry="7.2" fill="#dc2228" opacity="0.78" filter="url(#b1)"/>
<ellipse cx="602.2" cy="852.3" rx="3.9" ry="11.8" fill="#dc2228" opacity="0.70" filter="url(#b1)" transform="rotate(5 602.2 852.3)"/>
<ellipse cx="588.3" cy="859.2" rx="4.9" ry="9.0" fill="#dc2228" opacity="0.41" filter="url(#b1)"/>
<ellipse cx="641.8" cy="812.7" rx="3.1" ry="13.9" fill="#dc2228" opacity="0.61" filter="url(#b1)" transform="rotate(-25 641.8 812.7)"/>
<ellipse cx="709.2" cy="819.6" rx="1.4" ry="3.9" fill="#dc2228" opacity="0.74" filter="url(#b1)"/>
<ellipse cx="662.6" cy="841.9" rx="5.6" ry="5.3" fill="#dc2228" opacity="0.49" filter="url(#b1)"/>
<ellipse cx="660.6" cy="857.8" rx="1.4" ry="3.9" fill="#dc2228" opacity="0.66" filter="url(#b1)" transform="rotate(-30 660.6 857.8)"/>
<ellipse cx="648.1" cy="865.1" rx="3.5" ry="1.7" fill="#dc2228" opacity="0.57" filter="url(#b1)"/>
<ellipse cx="616.1" cy="802.6" rx="2.5" ry="1.9" fill="#dc2228" opacity="0.66" filter="url(#b1)"/>
<ellipse cx="657.8" cy="798.1" rx="6.9" ry="4.2" fill="#dc2228" opacity="0.33" filter="url(#b1)"/>
<ellipse cx="718.9" cy="878.7" rx="4.2" ry="5.6" fill="#dc2228" opacity="0.33" filter="url(#b1)"/>
<ellipse cx="632.8" cy="809.2" rx="6.9" ry="8.3" fill="#dc2228" opacity="0.33" filter="url(#b4)"/>
<ellipse cx="660.6" cy="824.5" rx="6.2" ry="5.6" fill="#dc2228" opacity="0.33" filter="url(#b1)"/>
<ellipse cx="611.9" cy="825.9" rx="6.9" ry="6.9" fill="#dc2228" opacity="0.25" filter="url(#b4)"/>
<ellipse cx="707.8" cy="809.2" rx="3.5" ry="6.9" fill="#dc2228" opacity="0.29" filter="url(#b1)"/>
<ellipse cx="685.6" cy="848.1" rx="2.8" ry="5.6" fill="#dc2228" opacity="0.29" filter="url(#b1)"/>
<ellipse cx="613.3" cy="875.9" rx="5.6" ry="6.9" fill="#dc2228" opacity="0.25" filter="url(#b4)"/>
<ellipse cx="691.1" cy="864.8" rx="2.5" ry="6.9" fill="#dc2228" opacity="0.29" filter="url(#b1)"/>
<ellipse cx="670.3" cy="870.3" rx="8.3" ry="5.6" fill="#dc2228" opacity="0.20" filter="url(#b4)"/>
<ellipse cx="722.4" cy="796.7" rx="2.8" ry="4.2" fill="#dc2228" opacity="0.33" filter="url(#b1)"/>
<ellipse cx="670.3" cy="807.8" rx="1.1" ry="1.1" fill="#dc2228" opacity="0.80" filter="url(#b5)"/>
<ellipse cx="649.4" cy="832.1" rx="0.7" ry="0.7" fill="#dc2228" opacity="0.90" filter="url(#b5)"/>
</g>
<ellipse cx="632.1" cy="848.8" rx="4.2" ry="5.8" fill="#e8282e" opacity="0.62" filter="url(#b1)"/>
<ellipse cx="602.2" cy="852.3" rx="3.1" ry="9.4" fill="#e8282e" opacity="0.55" filter="url(#b1)" transform="rotate(5 602.2 852.3)"/>
<ellipse cx="641.8" cy="812.7" rx="2.4" ry="11.1" fill="#e8282e" opacity="0.49" filter="url(#b1)" transform="rotate(-25 641.8 812.7)"/>
<ellipse cx="709.2" cy="819.6" rx="1.1" ry="3.1" fill="#e8282e" opacity="0.59" filter="url(#b1)"/>
<ellipse cx="660.6" cy="857.8" rx="1.1" ry="3.1" fill="#e8282e" opacity="0.52" filter="url(#b1)" transform="rotate(-30 660.6 857.8)"/>
<ellipse cx="648.1" cy="865.1" rx="2.8" ry="1.3" fill="#e8282e" opacity="0.45" filter="url(#b1)"/>
<ellipse cx="616.1" cy="802.6" rx="2.0" ry="1.6" fill="#e8282e" opacity="0.52" filter="url(#b1)"/>
<path d="M677.2 794.2h.01M716.9 807.2h.01M587.7 800.3h.01M610.5 793.1h.01M674.7 827.5h.01M653.1 850.2h.01M667.4 794.7h.01M614.7 859.3h.01M585.1 878.9h.01M676.7 879.6h.01M701.9 835.2h.01M674.3 824.8h.01M689.2 875.9h.01M700.4 866.6h.01M591.5 849.5h.01M658.6 860.9h.01M702.2 797.5h.01M614.0 840.1h.01M597.6 812.3h.01M638.1 808.6h.01M676.9 845.0h.01M718.3 843.9h.01M662.8 862.0h.01M692.5 845.6h.01M679.4 857.8h.01M644.1 800.0h.01M696.2 843.1h.01M655.2 853.5h.01M659.3 847.9h.01M716.3 877.1h.01M661.6 886.2h.01M703.7 829.8h.01M673.5 869.7h.01M629.3 813.2h.01M661.0 826.2h.01M661.7 861.9h.01M634.5 833.7h.01M720.1 790.0h.01M588.1 817.5h.01M585.5 803.0h.01M710.2 790.6h.01M723.6 810.7h.01M628.1 864.5h.01M717.7 869.4h.01M714.3 839.3h.01M664.6 845.2h.01M596.6 834.4h.01M605.5 815.6h.01M710.1 814.1h.01M619.7 819.0h.01M664.6 844.9h.01M614.2 797.4h.01M629.5 836.6h.01M652.8 876.8h.01M683.4 869.1h.01M596.8 852.0h.01M588.5 868.0h.01M637.6 865.3h.01M714.7 822.3h.01M708.7 831.9h.01M715.9 801.6h.01M693.1 862.2h.01M704.3 879.6h.01M673.6 851.0h.01M590.9 840.6h.01M628.7 844.5h.01M629.8 857.3h.01M605.0 855.0h.01M725.4 883.7h.01M690.6 845.5h.01M596.0 831.7h.01M695.3 804.3h.01M631.1 835.9h.01M689.5 842.9h.01M620.6 828.5h.01M645.2 857.3h.01M691.9 836.4h.01M611.5 828.1h.01M664.7 844.2h.01M725.4 840.6h.01M617.8 815.7h.01M644.5 856.1h.01M665.3 800.9h.01M642.2 825.2h.01M610.4 823.2h.01M676.7 864.3h.01M607.3 823.7h.01M700.4 867.5h.01M672.1 832.5h.01M715.0 812.5h.01M680.9 805.1h.01M687.1 798.3h.01M688.7 813.5h.01M671.8 804.3h.01M701.9 817.8h.01M632.2 867.6h.01M626.7 835.5h.01M630.5 861.4h.01M613.4 842.7h.01M690.2 843.0h.01M672.0 885.8h.01M682.3 854.5h.01M636.9 877.4h.01M658.3 814.7h.01M591.8 809.4h.01M682.5 816.2h.01M649.5 881.2h.01M592.7 853.7h.01M677.7 878.1h.01M634.6 800.4h.01M624.9 875.2h.01M638.3 884.6h.01M655.7 858.5h.01M712.1 836.8h.01M668.3 798.5h.01M611.6 883.3h.01M663.2 858.8h.01M588.9 879.0h.01M626.7 837.3h.01M689.4 791.8h.01M680.8 824.3h.01M626.3 886.1h.01M722.7 816.6h.01M592.0 814.9h.01M638.4 886.5h.01M724.4 881.1h.01M718.5 811.8h.01M631.9 827.9h.01M602.8 860.4h.01M657.5 855.4h.01M707.6 856.2h.01M642.7 845.3h.01M644.0 820.1h.01M669.5 833.3h.01M602.0 853.0h.01M666.1 856.0h.01M612.0 803.3h.01M681.4 876.7h.01M712.9 831.5h.01M712.8 864.3h.01M676.8 844.5h.01M605.7 796.5h.01M659.2 859.4h.01M609.5 871.0h.01M604.0 792.8h.01M628.6 883.9h.01M720.3 819.3h.01M689.5 869.3h.01M674.0 861.2h.01M604.9 808.1h.01M602.0 792.5h.01M723.8 849.5h.01M669.6 849.1h.01M668.2 812.3h.01M586.9 797.7h.01M694.4 802.9h.01M703.9 835.2h.01M675.8 807.8h.01M638.5 835.7h.01M606.6 811.8h.01M641.5 883.5h.01M715.2 881.7h.01M614.9 854.8h.01M612.1 809.7h.01M608.5 882.1h.01M645.8 849.5h.01M681.3 873.6h.01M709.8 831.3h.01M693.9 848.7h.01M700.7 859.5h.01M639.4 880.6h.01M664.8 841.7h.01M674.7 857.9h.01M588.7 800.5h.01M648.4 874.7h.01M708.4 813.7h.01M659.9 884.9h.01M588.8 827.4h.01M692.3 882.9h.01M610.3 832.4h.01M709.3 864.7h.01M624.0 806.1h.01M625.2 878.7h.01M681.6 877.2h.01M649.3 852.3h.01M596.1 838.3h.01M608.8 846.5h.01M710.7 842.7h.01M639.3 821.2h.01M586.8 833.8h.01M711.1 876.4h.01M709.1 798.7h.01M629.4 852.6h.01M684.7 805.8h.01M687.8 798.8h.01M683.9 851.2h.01M595.4 858.3h.01M686.9 884.1h.01M670.5 805.4h.01M661.7 794.2h.01M607.6 822.3h.01M707.4 873.2h.01M606.3 804.0h.01M692.9 795.0h.01M627.1 860.5h.01M720.2 817.9h.01M609.0 876.7h.01M720.2 790.3h.01M692.3 791.2h.01M654.2 838.1h.01M698.3 848.7h.01M653.6 810.9h.01M677.2 833.8h.01M646.2 848.0h.01M584.1 875.1h.01M622.9 850.7h.01M700.1 810.0h.01M609.6 795.3h.01M633.0 804.0h.01M587.8 845.8h.01" stroke="#d8262a" stroke-width="1.0" stroke-linecap="round" fill="none" opacity="0.45"/>
<ellipse cx="610.6" cy="795.1" rx="2.93" ry="2.67" fill="#2a56c8" filter="url(#b6)"/>
<ellipse cx="617.5" cy="797.4" rx="2.93" ry="2.93" fill="#2a56c8" filter="url(#b6)"/>
<ellipse cx="636.7" cy="800.9" rx="3.20" ry="3.33" fill="#2a56c8" filter="url(#b6)"/>
<ellipse cx="661.0" cy="800.9" rx="3.20" ry="3.20" fill="#2a56c8" filter="url(#b6)"/>
<ellipse cx="645.0" cy="805.3" rx="2.93" ry="2.93" fill="#2a56c8" filter="url(#b6)"/>
<ellipse cx="692.2" cy="800.5" rx="3.33" ry="2.93" fill="#2a56c8" filter="url(#b6)"/>
<ellipse cx="699.4" cy="803.0" rx="3.20" ry="2.67" fill="#27409c" filter="url(#b6)"/>
<ellipse cx="708.5" cy="801.6" rx="2.93" ry="2.93" fill="#2a56c8" filter="url(#b6)"/>
<ellipse cx="713.3" cy="805.1" rx="2.40" ry="2.93" fill="#2a56c8" filter="url(#b6)"/>
<ellipse cx="722.4" cy="793.9" rx="2.40" ry="2.40" fill="#2a56c8" filter="url(#b6)"/>
<ellipse cx="631.4" cy="814.8" rx="2.67" ry="3.20" fill="#2a56c8" filter="url(#b6)"/>
<ellipse cx="612.2" cy="823.1" rx="2.93" ry="2.93" fill="#2a56c8" filter="url(#b6)"/>
<ellipse cx="661.0" cy="824.5" rx="3.20" ry="3.20" fill="#2a56c8" filter="url(#b6)"/>
<ellipse cx="604.7" cy="828.4" rx="2.93" ry="3.33" fill="#2a56c8" filter="url(#b6)"/>
<ellipse cx="683.5" cy="828.0" rx="3.60" ry="3.60" fill="#2a56c8" filter="url(#b6)"/>
<ellipse cx="690.7" cy="833.2" rx="2.67" ry="3.73" fill="#2a56c8" filter="url(#b6)"/>
<ellipse cx="715.8" cy="838.7" rx="2.93" ry="3.20" fill="#2a56c8" filter="url(#b6)"/>
<ellipse cx="660.6" cy="839.1" rx="3.33" ry="2.67" fill="#2a56c8" filter="url(#b6)"/>
<ellipse cx="632.5" cy="845.6" rx="3.33" ry="3.33" fill="#6348cc" filter="url(#b6)"/>
<ellipse cx="685.6" cy="846.0" rx="2.13" ry="2.67" fill="#2a56c8" filter="url(#b6)"/>
<ellipse cx="605.7" cy="858.1" rx="2.67" ry="3.33" fill="#6348cc" filter="url(#b6)"/>
<ellipse cx="586.7" cy="864.8" rx="3.33" ry="2.67" fill="#2a56c8" filter="url(#b6)"/>
<ellipse cx="623.3" cy="863.7" rx="3.33" ry="2.93" fill="#2a56c8" filter="url(#b6)"/>
<ellipse cx="691.1" cy="862.0" rx="2.13" ry="4.00" fill="#2a56c8" filter="url(#b6)"/>
<ellipse cx="649.9" cy="867.3" rx="3.33" ry="2.40" fill="#2a56c8" filter="url(#b6)"/>
<ellipse cx="618.6" cy="871.3" rx="2.93" ry="3.20" fill="#2a56c8" filter="url(#b6)"/>
<ellipse cx="709.2" cy="868.0" rx="2.93" ry="3.33" fill="#2a56c8" filter="url(#b6)"/>
<ellipse cx="673.3" cy="871.3" rx="4.00" ry="2.93" fill="#27409c" filter="url(#b6)"/>
<ellipse cx="585.6" cy="875.9" rx="2.67" ry="2.40" fill="#2a56c8" filter="url(#b6)"/>
<ellipse cx="649.9" cy="877.6" rx="2.67" ry="2.67" fill="#2a56c8" filter="url(#b6)"/>
<ellipse cx="718.9" cy="881.4" rx="2.67" ry="2.93" fill="#2a56c8" filter="url(#b6)"/>
<ellipse cx="649.9" cy="884.6" rx="2.40" ry="1.60" fill="#2a56c8" filter="url(#b6)"/>
<ellipse cx="686.2" cy="885.3" rx="2.13" ry="1.07" fill="#2a56c8" filter="url(#b6)"/>
<ellipse cx="724.7" cy="861.6" rx="1.07" ry="2.40" fill="#2a56c8" filter="url(#b6)"/>
</g>
<text x="586.40" y="800.10" font-size="6.4" font-weight="bold" fill="#fff" textLength="22.80" lengthAdjust="spacingAndGlyphs">50μM</text>
<line x1="588.80" y1="802.60" x2="609.80" y2="802.60" stroke="#fff" stroke-width="1.1"/>
<clipPath id="ci31"><rect x="746.6" y="790.0" width="143.3" height="96.5"/></clipPath>
<g clip-path="url(#ci31)">
<rect x="746.60" y="790.00" width="143.30" height="96.50" fill="#030001"/>
<g filter="url(#tex)">
<rect x="746.60" y="790.00" width="143.30" height="96.50" fill="#d02020" opacity="0"/>
<ellipse cx="881.9" cy="798.1" rx="5.6" ry="3.5" fill="#dc2228" opacity="0.25" filter="url(#b1)"/>
<ellipse cx="820.8" cy="800.9" rx="3.5" ry="4.2" fill="#dc2228" opacity="0.20" filter="url(#b1)"/>
<ellipse cx="858.3" cy="839.1" rx="2.8" ry="1.9" fill="#dc2228" opacity="0.29" filter="url(#b1)"/>
<ellipse cx="756.9" cy="851.6" rx="1.9" ry="1.1" fill="#dc2228" opacity="0.33" filter="url(#b1)"/>
<ellipse cx="784.0" cy="849.8" rx="1.9" ry="0.8" fill="#dc2228" opacity="0.29" filter="url(#b1)"/>
<ellipse cx="840.2" cy="870.3" rx="3.5" ry="1.9" fill="#dc2228" opacity="0.20" filter="url(#b1)"/>
<ellipse cx="818.0" cy="878.0" rx="2.8" ry="2.5" fill="#dc2228" opacity="0.20" filter="url(#b1)"/>
</g>
<path d="M833.1 822.0h.01M759.2 800.5h.01M889.0 805.6h.01M787.4 853.8h.01M846.9 845.2h.01M827.2 883.2h.01M854.0 824.8h.01M751.7 864.2h.01M792.9 876.6h.01M864.1 863.2h.01M867.4 796.3h.01M814.1 801.8h.01M869.8 821.8h.01M805.9 810.3h.01M776.6 795.6h.01M828.5 884.5h.01M822.4 798.5h.01M850.4 848.4h.01M859.5 858.2h.01M807.8 871.8h.01M783.8 845.5h.01M835.9 879.5h.01M834.6 837.9h.01M851.1 838.0h.01M862.4 875.3h.01M779.9 818.0h.01M774.3 801.4h.01M813.2 866.9h.01M852.3 810.0h.01M834.8 830.0h.01" stroke="#d8262a" stroke-width="1.0" stroke-linecap="round" fill="none" opacity="0.45"/>
<ellipse cx="835.4" cy="794.6" rx="2.67" ry="3.33" fill="#2450cf" filter="url(#b6)"/>
<ellipse cx="867.3" cy="796.7" rx="2.40" ry="3.33" fill="#2450cf" filter="url(#b6)"/>
<ellipse cx="878.4" cy="792.8" rx="2.93" ry="2.93" fill="#2450cf" filter="url(#b6)"/>
<ellipse cx="887.2" cy="790.9" rx="2.40" ry="1.87" fill="#2450cf" filter="url(#b6)"/>
<ellipse cx="878.8" cy="800.5" rx="2.93" ry="2.40" fill="#2450cf" filter="url(#b6)"/>
<ellipse cx="872.9" cy="803.4" rx="3.33" ry="2.40" fill="#27409c" filter="url(#b6)"/>
<ellipse cx="805.5" cy="802.3" rx="3.33" ry="2.40" fill="#2450cf" filter="url(#b6)"/>
<ellipse cx="820.1" cy="803.7" rx="2.93" ry="3.20" fill="#27409c" filter="url(#b6)"/>
<ellipse cx="854.1" cy="805.8" rx="3.20" ry="2.67" fill="#2450cf" filter="url(#b6)"/>
<ellipse cx="781.2" cy="821.0" rx="2.67" ry="3.33" fill="#2450cf" filter="url(#b6)"/>
<ellipse cx="870.1" cy="819.9" rx="2.93" ry="2.67" fill="#27409c" filter="url(#b6)"/>
<ellipse cx="847.2" cy="828.0" rx="3.33" ry="2.67" fill="#2450cf" filter="url(#b6)"/>
<ellipse cx="773.3" cy="832.4" rx="3.60" ry="2.67" fill="#2450cf" filter="url(#b6)"/>
<ellipse cx="795.4" cy="830.8" rx="3.20" ry="2.93" fill="#27409c" filter="url(#b6)"/>
<ellipse cx="812.0" cy="833.1" rx="3.20" ry="3.60" fill="#2450cf" filter="url(#b6)"/>
<ellipse cx="888.1" cy="831.4" rx="1.87" ry="3.33" fill="#2450cf" filter="url(#b6)"/>
<ellipse cx="862.4" cy="838.1" rx="2.93" ry="3.60" fill="#2450cf" filter="url(#b6)"/>
<ellipse cx="849.0" cy="840.1" rx="3.33" ry="2.40" fill="#2450cf" filter="url(#b6)"/>
<ellipse cx="766.6" cy="846.7" rx="3.60" ry="2.40" fill="#27409c" filter="url(#b6)"/>
<ellipse cx="812.2" cy="848.8" rx="3.33" ry="3.73" fill="#27409c" filter="url(#b6)"/>
<ellipse cx="777.4" cy="851.6" rx="2.67" ry="2.93" fill="#27409c" filter="url(#b6)"/>
<ellipse cx="763.8" cy="853.2" rx="3.73" ry="2.40" fill="#2450cf" filter="url(#b6)"/>
<ellipse cx="791.6" cy="854.8" rx="4.00" ry="2.40" fill="#27409c" filter="url(#b6)"/>
<ellipse cx="858.6" cy="852.0" rx="3.33" ry="2.40" fill="#27409c" filter="url(#b6)"/>
<ellipse cx="839.5" cy="857.4" rx="3.20" ry="3.60" fill="#2450cf" filter="url(#b6)"/>
<ellipse cx="775.2" cy="870.1" rx="3.60" ry="2.40" fill="#2450cf" filter="url(#b6)"/>
<ellipse cx="847.2" cy="870.1" rx="3.33" ry="2.40" fill="#2450cf" filter="url(#b6)"/>
<ellipse cx="853.8" cy="871.0" rx="2.93" ry="2.93" fill="#27409c" filter="url(#b6)"/>
<ellipse cx="876.3" cy="870.8" rx="3.33" ry="4.00" fill="#27409c" filter="url(#b6)"/>
<ellipse cx="823.3" cy="878.0" rx="2.67" ry="3.20" fill="#2450cf" filter="url(#b6)"/>
<ellipse cx="832.3" cy="882.4" rx="4.67" ry="3.73" fill="#2450cf" filter="url(#b6)"/>
<ellipse cx="793.7" cy="883.2" rx="2.93" ry="2.93" fill="#27409c" filter="url(#b6)"/>
<ellipse cx="849.7" cy="883.5" rx="3.33" ry="2.40" fill="#2450cf" filter="url(#b6)"/>
<ellipse cx="842.7" cy="885.3" rx="2.67" ry="1.33" fill="#2450cf" filter="url(#b6)"/>
<ellipse cx="754.1" cy="798.1" rx="3.33" ry="1.87" fill="#2450cf" filter="url(#b6)"/>
</g>
<text x="749.80" y="800.10" font-size="6.4" font-weight="bold" fill="#fff" textLength="22.80" lengthAdjust="spacingAndGlyphs">50μM</text>
<line x1="752.20" y1="802.60" x2="773.20" y2="802.60" stroke="#fff" stroke-width="1.1"/>
<clipPath id="ci32"><rect x="909.1" y="790.0" width="141.4" height="96.5"/></clipPath>
<g clip-path="url(#ci32)">
<rect x="909.10" y="790.00" width="141.40" height="96.50" fill="#0a0102"/>
<rect x="909.1" y="790.0" width="141.4" height="96.5" fill="#d02020" opacity="0.015"/>
<g filter="url(#tex)">
<rect x="909.10" y="790.00" width="141.40" height="96.50" fill="#d02020" opacity="0"/>
<ellipse cx="976.7" cy="790.1" rx="6.9" ry="3.1" fill="#d8242a" opacity="0.08" filter="url(#b1)" transform="rotate(21 976.7 790.1)"/>
<ellipse cx="991.1" cy="790.3" rx="6.2" ry="3.7" fill="#d8242a" opacity="0.09" filter="url(#b1)" transform="rotate(4 991.1 790.3)"/>
<ellipse cx="1012.8" cy="793.0" rx="5.6" ry="3.8" fill="#d8242a" opacity="0.09" filter="url(#b1)" transform="rotate(-10 1012.8 793.0)"/>
<ellipse cx="1025.8" cy="793.2" rx="5.4" ry="3.2" fill="#d8242a" opacity="0.07" filter="url(#b1)" transform="rotate(-18 1025.8 793.2)"/>
<ellipse cx="965.2" cy="806.5" rx="6.1" ry="5.5" fill="#d8242a" opacity="0.10" filter="url(#b1)" transform="rotate(-56 965.2 806.5)"/>
<ellipse cx="951.2" cy="810.8" rx="5.8" ry="6.4" fill="#d8242a" opacity="0.13" filter="url(#b1)" transform="rotate(8 951.2 810.8)"/>
<ellipse cx="911.5" cy="808.4" rx="3.8" ry="6.3" fill="#d8242a" opacity="0.14" filter="url(#b1)" transform="rotate(-53 911.5 808.4)"/>
<ellipse cx="1010.2" cy="812.4" rx="7.6" ry="6.1" fill="#d8242a" opacity="0.09" filter="url(#b1)" transform="rotate(8 1010.2 812.4)"/>
<ellipse cx="1019.4" cy="816.7" rx="6.5" ry="5.2" fill="#d8242a" opacity="0.14" filter="url(#b1)" transform="rotate(41 1019.4 816.7)"/>
<ellipse cx="990.2" cy="818.9" rx="4.6" ry="5.6" fill="#d8242a" opacity="0.06" filter="url(#b1)" transform="rotate(-12 990.2 818.9)"/>
<ellipse cx="966.6" cy="822.4" rx="6.3" ry="5.7" fill="#d8242a" opacity="0.09" filter="url(#b1)" transform="rotate(16 966.6 822.4)"/>
<ellipse cx="925.8" cy="825.0" rx="5.6" ry="6.4" fill="#d8242a" opacity="0.13" filter="url(#b1)" transform="rotate(30 925.8 825.0)"/>
<ellipse cx="998.6" cy="831.9" rx="8.9" ry="5.5" fill="#d8242a" opacity="0.08" filter="url(#b1)" transform="rotate(-3 998.6 831.9)"/>
<ellipse cx="935.2" cy="840.9" rx="6.2" ry="7.0" fill="#d8242a" opacity="0.07" filter="url(#b1)" transform="rotate(-13 935.2 840.9)"/>
<ellipse cx="947.9" cy="839.2" rx="5.8" ry="6.5" fill="#d8242a" opacity="0.10" filter="url(#b1)" transform="rotate(-57 947.9 839.2)"/>
<ellipse cx="951.4" cy="843.7" rx="4.8" ry="5.3" fill="#d8242a" opacity="0.09" filter="url(#b1)" transform="rotate(1 951.4 843.7)"/>
<ellipse cx="962.3" cy="840.5" rx="6.8" ry="7.7" fill="#d8242a" opacity="0.07" filter="url(#b1)" transform="rotate(51 962.3 840.5)"/>
<ellipse cx="980.4" cy="860.3" rx="7.0" ry="7.8" fill="#d8242a" opacity="0.14" filter="url(#b1)" transform="rotate(-34 980.4 860.3)"/>
<ellipse cx="943.6" cy="858.4" rx="5.4" ry="6.6" fill="#d8242a" opacity="0.10" filter="url(#b1)" transform="rotate(-60 943.6 858.4)"/>
<ellipse cx="923.7" cy="861.4" rx="7.0" ry="6.3" fill="#d8242a" opacity="0.13" filter="url(#b1)" transform="rotate(-18 923.7 861.4)"/>
<ellipse cx="918.7" cy="863.8" rx="5.0" ry="4.5" fill="#d8242a" opacity="0.12" filter="url(#b1)" transform="rotate(-21 918.7 863.8)"/>
<ellipse cx="950.5" cy="862.3" rx="6.5" ry="6.5" fill="#d8242a" opacity="0.08" filter="url(#b1)" transform="rotate(-35 950.5 862.3)"/>
<ellipse cx="1045.0" cy="862.1" rx="6.4" ry="6.2" fill="#d8242a" opacity="0.10" filter="url(#b1)" transform="rotate(-45 1045.0 862.1)"/>
<ellipse cx="1047.2" cy="867.7" rx="4.7" ry="5.2" fill="#d8242a" opacity="0.14" filter="url(#b1)" transform="rotate(11 1047.2 867.7)"/>
<ellipse cx="994.5" cy="873.7" rx="5.7" ry="5.2" fill="#d8242a" opacity="0.09" filter="url(#b1)" transform="rotate(-42 994.5 873.7)"/>
<ellipse cx="1009.6" cy="876.3" rx="6.3" ry="7.2" fill="#d8242a" opacity="0.07" filter="url(#b1)" transform="rotate(-21 1009.6 876.3)"/>
<ellipse cx="1028.3" cy="875.4" rx="6.8" ry="6.8" fill="#d8242a" opacity="0.07" filter="url(#b1)" transform="rotate(0 1028.3 875.4)"/>
<ellipse cx="914.0" cy="878.1" rx="6.6" ry="5.8" fill="#d8242a" opacity="0.07" filter="url(#b1)" transform="rotate(-10 914.0 878.1)"/>
<ellipse cx="918.4" cy="880.0" rx="4.6" ry="7.2" fill="#d8242a" opacity="0.13" filter="url(#b1)" transform="rotate(29 918.4 880.0)"/>
<ellipse cx="943.0" cy="881.3" rx="6.2" ry="5.2" fill="#d8242a" opacity="0.08" filter="url(#b1)" transform="rotate(37 943.0 881.3)"/>
<ellipse cx="995.5" cy="886.4" rx="4.6" ry="1.7" fill="#d8242a" opacity="0.12" filter="url(#b1)" transform="rotate(-1 995.5 886.4)"/>
<ellipse cx="937.2" cy="861.3" rx="4.4" ry="3.9" fill="#dc2228" opacity="0.82" filter="url(#b1)"/>
<ellipse cx="933.8" cy="862.0" rx="8.3" ry="3.5" fill="#dc2228" opacity="0.57" filter="url(#b1)" transform="rotate(-20 933.8 862.0)"/>
<ellipse cx="1047.7" cy="796.7" rx="3.9" ry="4.2" fill="#dc2228" opacity="0.78" filter="url(#b1)"/>
<ellipse cx="909.5" cy="810.6" rx="1.9" ry="4.9" fill="#dc2228" opacity="0.74" filter="url(#b1)"/>
<ellipse cx="999.8" cy="864.1" rx="2.8" ry="2.5" fill="#dc2228" opacity="0.78" filter="url(#b1)"/>
<ellipse cx="970.6" cy="826.3" rx="1.5" ry="1.4" fill="#dc2228" opacity="0.95" filter="url(#b5)"/>
<ellipse cx="944.9" cy="850.9" rx="31.9" ry="3.1" fill="#dc2228" opacity="0.41" filter="url(#b1)" transform="rotate(-38 944.9 850.9)"/>
<ellipse cx="931.0" cy="837.0" rx="16.7" ry="2.2" fill="#dc2228" opacity="0.29" filter="url(#b1)" transform="rotate(-50 931.0 837.0)"/>
<ellipse cx="1003.2" cy="809.9" rx="16.7" ry="2.5" fill="#dc2228" opacity="0.37" filter="url(#b1)" transform="rotate(-22 1003.2 809.9)"/>
<ellipse cx="975.4" cy="864.8" rx="8.3" ry="4.2" fill="#dc2228" opacity="0.37" filter="url(#b1)" transform="rotate(-25 975.4 864.8)"/>
<ellipse cx="1036.6" cy="877.3" rx="6.9" ry="5.6" fill="#dc2228" opacity="0.33" filter="url(#b4)" transform="rotate(-30 1036.6 877.3)"/>
<ellipse cx="922.7" cy="826.6" rx="6.2" ry="5.6" fill="#dc2228" opacity="0.33" filter="url(#b1)"/>
<ellipse cx="956.0" cy="848.1" rx="2.5" ry="6.9" fill="#dc2228" opacity="0.49" filter="url(#b1)" transform="rotate(20 956.0 848.1)"/>
<ellipse cx="994.9" cy="870.3" rx="6.9" ry="3.1" fill="#dc2228" opacity="0.37" filter="url(#b1)" transform="rotate(-35 994.9 870.3)"/>
<ellipse cx="951.8" cy="864.8" rx="3.9" ry="6.2" fill="#dc2228" opacity="0.33" filter="url(#b1)" transform="rotate(20 951.8 864.8)"/>
<ellipse cx="1017.1" cy="795.3" rx="11.1" ry="1.9" fill="#dc2228" opacity="0.33" filter="url(#b1)" transform="rotate(-10 1017.1 795.3)"/>
<ellipse cx="990.7" cy="818.9" rx="3.5" ry="4.9" fill="#dc2228" opacity="0.33" filter="url(#b1)"/>
<ellipse cx="944.9" cy="882.8" rx="4.2" ry="2.5" fill="#dc2228" opacity="0.41" filter="url(#b1)"/>
<ellipse cx="968.5" cy="879.4" rx="1.7" ry="1.4" fill="#dc2228" opacity="0.70" filter="url(#b5)"/>
<ellipse cx="1009.5" cy="857.8" rx="1.1" ry="1.1" fill="#dc2228" opacity="0.80" filter="url(#b5)"/>
<ellipse cx="1013.6" cy="809.2" rx="1.1" ry="1.1" fill="#dc2228" opacity="0.80" filter="url(#b5)"/>
<ellipse cx="1028.9" cy="841.9" rx="0.8" ry="0.8" fill="#dc2228" opacity="0.80" filter="url(#b5)"/>
<ellipse cx="1042.8" cy="807.1" rx="1.0" ry="0.8" fill="#dc2228" opacity="0.80" filter="url(#b5)"/>
<ellipse cx="944.9" cy="794.6" rx="1.0" ry="1.0" fill="#dc2228" opacity="0.80" filter="url(#b5)"/>
<ellipse cx="914.3" cy="826.6" rx="1.0" ry="1.9" fill="#dc2228" opacity="0.70" filter="url(#b5)"/>
</g>
<ellipse cx="937.2" cy="861.3" rx="3.6" ry="3.1" fill="#e8282e" opacity="0.65" filter="url(#b1)"/>
<ellipse cx="933.8" cy="862.0" rx="6.7" ry="2.8" fill="#e8282e" opacity="0.45" filter="url(#b1)" transform="rotate(-20 933.8 862.0)"/>
<ellipse cx="1047.7" cy="796.7" rx="3.1" ry="3.3" fill="#e8282e" opacity="0.62" filter="url(#b1)"/>
<ellipse cx="909.5" cy="810.6" rx="1.6" ry="3.9" fill="#e8282e" opacity="0.59" filter="url(#b1)"/>
<ellipse cx="999.8" cy="864.1" rx="2.2" ry="2.0" fill="#e8282e" opacity="0.62" filter="url(#b1)"/>
<path d="M989.4 799.0h.01M1022.6 857.4h.01M922.9 820.0h.01M1000.2 864.0h.01M975.6 881.4h.01M929.4 876.4h.01M945.6 825.1h.01M935.0 878.5h.01M955.8 873.1h.01M955.0 837.0h.01M918.3 800.9h.01M976.8 871.6h.01M949.0 823.6h.01M990.4 839.0h.01M966.5 858.9h.01M924.2 843.7h.01M919.1 819.2h.01M974.3 847.0h.01M942.8 813.5h.01M931.6 836.5h.01M918.4 810.1h.01M1007.2 831.6h.01M1047.7 844.7h.01M957.5 857.0h.01M933.6 854.6h.01M1013.6 858.7h.01M1027.4 801.0h.01M993.4 821.4h.01M922.9 833.0h.01M952.7 829.2h.01M993.7 856.2h.01M993.4 869.1h.01M955.4 852.2h.01M917.8 811.0h.01M928.7 846.0h.01M1015.9 868.1h.01M1016.2 853.8h.01M973.2 818.1h.01M996.1 833.2h.01M938.2 874.7h.01M951.5 866.7h.01M1005.2 878.6h.01M1041.5 859.3h.01M1038.5 885.6h.01M991.5 849.0h.01M981.3 871.8h.01M1029.6 796.0h.01M1036.5 883.4h.01M909.2 844.0h.01M1047.5 800.6h.01M949.0 793.0h.01M970.1 847.0h.01M997.5 858.7h.01M966.5 832.0h.01M939.0 806.7h.01M928.8 843.6h.01M1028.3 824.8h.01M968.1 817.8h.01M1032.5 802.1h.01M910.7 852.6h.01M929.5 875.4h.01M1002.1 884.1h.01M928.3 803.2h.01M1023.1 873.0h.01M1035.5 857.1h.01M1040.6 850.1h.01M973.4 830.9h.01M1025.1 827.1h.01M941.0 831.0h.01M910.2 838.1h.01M1012.5 858.7h.01M947.2 879.4h.01M990.6 793.2h.01M914.5 836.6h.01M961.2 846.0h.01M1045.1 797.7h.01M1012.3 840.8h.01M1030.6 862.4h.01M948.6 839.9h.01M983.1 848.9h.01M943.8 850.9h.01M1003.0 854.5h.01M1005.8 842.0h.01M991.1 849.2h.01M1036.9 841.6h.01M910.6 833.8h.01M1037.2 845.4h.01M956.0 824.1h.01M1047.4 818.4h.01M932.8 857.1h.01M993.6 819.3h.01M1020.1 815.1h.01M998.1 845.8h.01M990.1 853.3h.01M950.4 861.2h.01M913.0 836.8h.01M927.0 797.4h.01M1019.9 814.3h.01M996.2 816.6h.01M945.4 861.5h.01M994.5 877.8h.01M1013.6 853.6h.01M961.4 806.9h.01M1019.7 812.8h.01M934.7 840.9h.01M913.8 885.0h.01M1045.9 847.5h.01M1025.3 870.8h.01M1015.5 829.8h.01M963.3 853.8h.01M1011.8 806.1h.01M990.8 871.2h.01M916.8 815.5h.01M1025.0 795.1h.01M974.7 836.0h.01M976.4 881.5h.01M1039.5 812.5h.01M1005.7 827.6h.01M946.2 841.2h.01M970.6 817.9h.01M1021.8 826.9h.01M953.7 841.2h.01M1044.3 799.4h.01M984.2 824.1h.01M1028.5 848.9h.01M1001.3 816.3h.01M947.3 867.4h.01M945.2 846.4h.01M974.3 855.2h.01M943.3 854.8h.01M1018.0 840.2h.01M1004.9 885.8h.01M953.4 791.0h.01M910.3 796.6h.01M967.3 840.7h.01M1006.0 823.9h.01M1011.7 814.3h.01M913.9 849.8h.01M917.1 847.3h.01M1035.5 810.9h.01M993.9 801.8h.01M1044.5 798.3h.01M994.6 826.3h.01M1017.1 852.5h.01M1022.7 807.8h.01M924.8 807.8h.01M950.8 853.7h.01M919.8 833.8h.01M1049.8 864.2h.01M1007.0 854.4h.01M1018.0 814.8h.01M1019.5 816.8h.01M917.9 827.5h.01M1049.9 814.9h.01M1024.0 807.2h.01M918.9 884.5h.01M937.5 827.9h.01M1000.4 800.5h.01M985.5 831.6h.01M995.9 800.3h.01" stroke="#d8262a" stroke-width="1.0" stroke-linecap="round" fill="none" opacity="0.45"/>
<ellipse cx="978.2" cy="790.5" rx="2.93" ry="1.33" fill="#2a56c8" filter="url(#b6)"/>
<ellipse cx="992.1" cy="790.9" rx="2.67" ry="1.60" fill="#2a56c8" filter="url(#b6)"/>
<ellipse cx="1012.7" cy="792.3" rx="3.20" ry="2.13" fill="#2a56c8" filter="url(#b6)"/>
<ellipse cx="1025.0" cy="792.8" rx="3.20" ry="1.87" fill="#2a56c8" filter="url(#b6)"/>
<ellipse cx="964.1" cy="805.3" rx="2.93" ry="2.67" fill="#2a56c8" filter="url(#b6)"/>
<ellipse cx="950.7" cy="810.9" rx="2.67" ry="2.93" fill="#2a56c8" filter="url(#b6)"/>
<ellipse cx="910.2" cy="808.5" rx="1.60" ry="2.67" fill="#6348cc" filter="url(#b6)"/>
<ellipse cx="1009.1" cy="813.0" rx="3.33" ry="2.67" fill="#27409c" filter="url(#b6)"/>
<ellipse cx="1021.0" cy="816.4" rx="3.33" ry="2.67" fill="#2a56c8" filter="url(#b6)"/>
<ellipse cx="990.7" cy="817.6" rx="2.40" ry="2.93" fill="#2a56c8" filter="url(#b6)"/>
<ellipse cx="966.1" cy="821.4" rx="2.93" ry="2.67" fill="#2a56c8" filter="url(#b6)"/>
<ellipse cx="927.1" cy="824.2" rx="2.93" ry="3.33" fill="#6348cc" filter="url(#b6)"/>
<ellipse cx="1000.2" cy="832.1" rx="4.27" ry="2.67" fill="#2a56c8" filter="url(#b6)"/>
<ellipse cx="934.1" cy="841.4" rx="2.93" ry="3.33" fill="#2a56c8" filter="url(#b6)"/>
<ellipse cx="947.0" cy="838.4" rx="2.40" ry="2.67" fill="#2a56c8" filter="url(#b6)"/>
<ellipse cx="950.4" cy="842.6" rx="2.67" ry="2.93" fill="#2a56c8" filter="url(#b6)"/>
<ellipse cx="961.6" cy="840.5" rx="2.93" ry="3.33" fill="#27409c" filter="url(#b6)"/>
<ellipse cx="981.7" cy="858.9" rx="3.33" ry="3.73" fill="#2a56c8" filter="url(#b6)"/>
<ellipse cx="942.8" cy="858.5" rx="2.40" ry="2.93" fill="#6348cc" filter="url(#b6)"/>
<ellipse cx="924.3" cy="862.7" rx="2.93" ry="2.67" fill="#2a56c8" filter="url(#b6)"/>
<ellipse cx="918.8" cy="865.1" rx="2.40" ry="2.13" fill="#2a56c8" filter="url(#b6)"/>
<ellipse cx="952.1" cy="861.6" rx="2.93" ry="2.93" fill="#2a56c8" filter="url(#b6)"/>
<ellipse cx="1046.0" cy="862.7" rx="3.33" ry="3.20" fill="#27409c" filter="url(#b6)"/>
<ellipse cx="1047.9" cy="868.7" rx="2.67" ry="2.93" fill="#2a56c8" filter="url(#b6)"/>
<ellipse cx="994.5" cy="874.5" rx="2.93" ry="2.67" fill="#2a56c8" filter="url(#b6)"/>
<ellipse cx="1008.1" cy="875.5" rx="2.93" ry="3.33" fill="#2a56c8" filter="url(#b6)"/>
<ellipse cx="1027.9" cy="875.9" rx="3.33" ry="3.33" fill="#1c2a6e" filter="url(#b6)"/>
<ellipse cx="912.7" cy="879.4" rx="3.33" ry="2.93" fill="#2a56c8" filter="url(#b6)"/>
<ellipse cx="919.5" cy="879.8" rx="2.13" ry="3.33" fill="#2a56c8" filter="url(#b6)"/>
<ellipse cx="943.2" cy="881.7" rx="3.20" ry="2.67" fill="#2a56c8" filter="url(#b6)"/>
<ellipse cx="994.9" cy="886.3" rx="1.87" ry="0.67" fill="#2a56c8" filter="url(#b6)"/>
</g>
<text x="912.30" y="800.10" font-size="6.4" font-weight="bold" fill="#fff" textLength="22.80" lengthAdjust="spacingAndGlyphs">50μM</text>
<line x1="914.70" y1="802.60" x2="935.70" y2="802.60" stroke="#fff" stroke-width="1.1"/>
<text x="27.30" y="931.90" font-size="32.6" fill="#1a1a1a">D</text>
<text x="411.00" y="934.60" font-size="25.8" fill="#1a1a1a" textLength="279.00" lengthAdjust="spacingAndGlyphs">Human Chondrocytes</text>
<circle cx="280.8" cy="963.3" r="3.9" fill="#000"/>
<rect x="277.00" y="985.80" width="7.80" height="7.80" fill="#f58a28"/>
<path d="M277 1019.3L280.9 1012.6L284.8 1019.3z" fill="#2f5fb8"/>
<text x="303.90" y="970.30" font-size="23.3" font-weight="bold" fill="#111" textLength="39.00" lengthAdjust="spacingAndGlyphs">NC</text>
<text x="303.90" y="997.80" font-size="23.3" font-weight="bold" fill="#111" textLength="240.00" lengthAdjust="spacingAndGlyphs">Sh CircSERPINE2</text>
<text x="303.90" y="1024.20" font-size="23.3" font-weight="bold" fill="#111" textLength="510.00" lengthAdjust="spacingAndGlyphs">Sh CircSERPINE2 + miR-1271 sponge</text>
<line x1="245.05" y1="1064.30" x2="245.05" y2="1383.10" stroke="#000" stroke-width="4.1"/>
<line x1="236.60" y1="1381.00" x2="891.00" y2="1381.00" stroke="#000" stroke-width="4.3"/>
<line x1="236.60" y1="1381.00" x2="245.05" y2="1381.00" stroke="#000" stroke-width="3.8"/>
<text x="237.00" y="1388.10" font-size="21.8" text-anchor="end" font-weight="bold" fill="#000" textLength="14.10" lengthAdjust="spacingAndGlyphs">0</text>
<line x1="236.60" y1="1318.06" x2="245.05" y2="1318.06" stroke="#000" stroke-width="3.8"/>
<text x="237.00" y="1325.16" font-size="21.8" text-anchor="end" font-weight="bold" fill="#000" textLength="14.10" lengthAdjust="spacingAndGlyphs">2</text>
<line x1="236.60" y1="1255.12" x2="245.05" y2="1255.12" stroke="#000" stroke-width="3.8"/>
<text x="237.00" y="1262.22" font-size="21.8" text-anchor="end" font-weight="bold" fill="#000" textLength="14.10" lengthAdjust="spacingAndGlyphs">4</text>
<line x1="236.60" y1="1192.18" x2="245.05" y2="1192.18" stroke="#000" stroke-width="3.8"/>
<text x="237.00" y="1199.28" font-size="21.8" text-anchor="end" font-weight="bold" fill="#000" textLength="14.10" lengthAdjust="spacingAndGlyphs">6</text>
<line x1="236.60" y1="1129.24" x2="245.05" y2="1129.24" stroke="#000" stroke-width="3.8"/>
<text x="237.00" y="1136.34" font-size="21.8" text-anchor="end" font-weight="bold" fill="#000" textLength="14.10" lengthAdjust="spacingAndGlyphs">8</text>
<line x1="236.60" y1="1066.30" x2="245.05" y2="1066.30" stroke="#000" stroke-width="3.8"/>
<text x="237.00" y="1073.40" font-size="21.8" text-anchor="end" font-weight="bold" fill="#000" textLength="28.20" lengthAdjust="spacingAndGlyphs">10</text>
<line x1="298.00" y1="1381.00" x2="298.00" y2="1388.20" stroke="#000" stroke-width="4.2"/>
<line x1="406.00" y1="1381.00" x2="406.00" y2="1388.20" stroke="#000" stroke-width="4.2"/>
<line x1="514.00" y1="1381.00" x2="514.00" y2="1388.20" stroke="#000" stroke-width="4.2"/>
<line x1="622.20" y1="1381.00" x2="622.20" y2="1388.20" stroke="#000" stroke-width="4.2"/>
<line x1="730.00" y1="1381.00" x2="730.00" y2="1388.20" stroke="#000" stroke-width="4.2"/>
<line x1="837.80" y1="1381.00" x2="837.80" y2="1388.20" stroke="#000" stroke-width="4.2"/>
<text x="0.00" y="0.00" font-size="26.6" font-weight="bold" fill="#111" textLength="273.50" lengthAdjust="spacingAndGlyphs" transform="translate(193.8 1355.4) rotate(-90)" stroke="#111" stroke-width="0.3">Relative mRNA expression</text>
<text x="0.00" y="0.00" font-size="21.8" text-anchor="end" font-weight="bold" fill="#000" transform="translate(303.5 1402) scale(1.19 1) rotate(-45)">MMP3</text>
<text x="0.00" y="0.00" font-size="21.8" text-anchor="end" font-weight="bold" fill="#000" transform="translate(411.5 1402) scale(1.19 1) rotate(-45)">MMP13</text>
<text x="0.00" y="0.00" font-size="21.8" text-anchor="end" font-weight="bold" fill="#000" transform="translate(519.5 1402) scale(1.19 1) rotate(-45)">ADAMTS4</text>
<text x="0.00" y="0.00" font-size="21.8" text-anchor="end" font-weight="bold" fill="#000" transform="translate(627.7 1402) scale(1.19 1) rotate(-45)">SOX9</text>
<text x="0.00" y="0.00" font-size="21.8" text-anchor="end" font-weight="bold" fill="#000" transform="translate(735.5 1402) scale(1.19 1) rotate(-45)">COL2</text>
<text x="0.00" y="0.00" font-size="21.8" text-anchor="end" font-weight="bold" fill="#000" transform="translate(843.3 1402) scale(1.19 1) rotate(-45)">Aggrecan</text>
<path d="M268.3 1336.7V1357.5M262.8 1336.7h11M262.8 1357.5h11" stroke="#000" stroke-width="2.2" fill="none"/>
<circle cx="269.7" cy="1317.2" r="3.4" fill="#000"/>
<circle cx="264.2" cy="1366.4" r="3.4" fill="#000"/>
<circle cx="267.0" cy="1348.3" r="3.4" fill="#000"/>
<circle cx="271.1" cy="1347.0" r="3.4" fill="#000"/>
<circle cx="273.9" cy="1356.1" r="3.4" fill="#000"/>
<circle cx="265.6" cy="1352.5" r="3.4" fill="#000"/>
<circle cx="270.0" cy="1341.0" r="3.4" fill="#000"/>
<circle cx="268.5" cy="1354.0" r="3.4" fill="#000"/>
<path d="M259.6 1347.5h19.5" stroke="#000" stroke-width="2.8"/>
<path d="M298.9 1130.3V1197.5M293.4 1130.3h11M293.4 1197.5h11" stroke="#f58a28" stroke-width="2.2" fill="none"/>
<rect x="291.20" y="1102.30" width="6.00" height="6.00" fill="#f58a28"/>
<rect x="300.90" y="1096.20" width="6.00" height="6.00" fill="#f58a28"/>
<rect x="295.90" y="1132.80" width="6.00" height="6.00" fill="#f58a28"/>
<rect x="291.20" y="1157.00" width="6.00" height="6.00" fill="#f58a28"/>
<rect x="300.90" y="1157.00" width="6.00" height="6.00" fill="#f58a28"/>
<rect x="295.90" y="1180.00" width="6.00" height="6.00" fill="#f58a28"/>
<rect x="291.20" y="1207.00" width="6.00" height="6.00" fill="#f58a28"/>
<rect x="295.90" y="1207.00" width="6.00" height="6.00" fill="#f58a28"/>
<rect x="300.90" y="1207.00" width="6.00" height="6.00" fill="#f58a28"/>
<path d="M289.1 1163.6h19.5" stroke="#000" stroke-width="2.8"/>
<path d="M328.0 1331.7V1348.6M322.5 1331.7h11M322.5 1348.6h11" stroke="#2f5fb8" stroke-width="2.2" fill="none"/>
<path d="M324.4 1331.2L328.0 1324.8L331.6 1331.2z" fill="#2f5fb8"/>
<path d="M321.7 1334.7L325.3 1328.3L328.9 1334.7z" fill="#2f5fb8"/>
<path d="M326.4 1336.2L330.0 1329.8L333.6 1336.2z" fill="#2f5fb8"/>
<path d="M323.9 1338.7L327.5 1332.3L331.1 1338.7z" fill="#2f5fb8"/>
<path d="M330.0 1351.5L333.6 1345.1L337.2 1351.5z" fill="#2f5fb8"/>
<path d="M324.4 1373.2L328.0 1366.8L331.6 1373.2z" fill="#2f5fb8"/>
<path d="M322.4 1343.2L326.0 1336.8L329.6 1343.2z" fill="#2f5fb8"/>
<path d="M327.4 1341.2L331.0 1334.8L334.6 1341.2z" fill="#2f5fb8"/>
<path d="M318.2 1339.2h19.5" stroke="#000" stroke-width="2.8"/>
<path d="M304.4 1082.2V1065.0H326.7V1305.3" stroke="#111" stroke-width="1.5" fill="none"/>
<text x="316.90" y="1066.00" font-size="15.5" text-anchor="middle" fill="#111">*</text>
<path d="M376.7 1342.0V1353.0M371.2 1342.0h11M371.2 1353.0h11" stroke="#000" stroke-width="2.2" fill="none"/>
<circle cx="372.5" cy="1341.4" r="3.4" fill="#000"/>
<circle cx="380.8" cy="1337.8" r="3.4" fill="#000"/>
<circle cx="373.9" cy="1347.0" r="3.4" fill="#000"/>
<circle cx="379.4" cy="1349.7" r="3.4" fill="#000"/>
<circle cx="382.2" cy="1351.0" r="3.4" fill="#000"/>
<circle cx="375.3" cy="1355.3" r="3.4" fill="#000"/>
<circle cx="372.5" cy="1351.0" r="3.4" fill="#000"/>
<circle cx="377.0" cy="1344.0" r="3.4" fill="#000"/>
<circle cx="378.0" cy="1353.0" r="3.4" fill="#000"/>
<path d="M366.9 1347.8h19.5" stroke="#000" stroke-width="2.8"/>
<path d="M406.4 1168.3V1227.5M400.9 1168.3h11M400.9 1227.5h11" stroke="#f58a28" stroke-width="2.2" fill="none"/>
<rect x="403.40" y="1157.00" width="6.00" height="6.00" fill="#f58a28"/>
<rect x="398.70" y="1169.00" width="6.00" height="6.00" fill="#f58a28"/>
<rect x="408.40" y="1172.60" width="6.00" height="6.00" fill="#f58a28"/>
<rect x="398.70" y="1181.40" width="6.00" height="6.00" fill="#f58a28"/>
<rect x="408.40" y="1185.60" width="6.00" height="6.00" fill="#f58a28"/>
<rect x="403.40" y="1198.00" width="6.00" height="6.00" fill="#f58a28"/>
<rect x="403.40" y="1228.70" width="6.00" height="6.00" fill="#f58a28"/>
<rect x="403.40" y="1281.40" width="6.00" height="6.00" fill="#f58a28"/>
<path d="M396.6 1197.5h19.5" stroke="#000" stroke-width="2.8"/>
<path d="M435.8 1333.9V1353.9M430.3 1333.9h11M430.3 1353.9h11" stroke="#2f5fb8" stroke-width="2.2" fill="none"/>
<path d="M432.2 1316.8L435.8 1310.4L439.4 1316.8z" fill="#2f5fb8"/>
<path d="M427.2 1348.7L430.8 1342.3L434.4 1348.7z" fill="#2f5fb8"/>
<path d="M436.9 1348.7L440.5 1342.3L444.1 1348.7z" fill="#2f5fb8"/>
<path d="M431.4 1355.7L435.0 1349.3L438.6 1355.7z" fill="#2f5fb8"/>
<path d="M436.9 1358.5L440.5 1352.1L444.1 1358.5z" fill="#2f5fb8"/>
<path d="M427.2 1364.9L430.8 1358.5L434.4 1364.9z" fill="#2f5fb8"/>
<path d="M426.1 1344.2h19.5" stroke="#000" stroke-width="2.8"/>
<path d="M406.4 1126.0V1109.4H428.9V1293.3" stroke="#111" stroke-width="1.5" fill="none"/>
<text x="418.30" y="1109.90" font-size="15.5" text-anchor="middle" fill="#111">*</text>
<path d="M484.4 1344.0V1353.5M478.9 1344.0h11M478.9 1353.5h11" stroke="#000" stroke-width="2.2" fill="none"/>
<circle cx="480.0" cy="1336.0" r="3.4" fill="#000"/>
<circle cx="478.5" cy="1348.5" r="3.4" fill="#000"/>
<circle cx="482.5" cy="1346.0" r="3.4" fill="#000"/>
<circle cx="487.0" cy="1345.0" r="3.4" fill="#000"/>
<circle cx="490.5" cy="1347.0" r="3.4" fill="#000"/>
<circle cx="484.5" cy="1352.0" r="3.4" fill="#000"/>
<circle cx="481.0" cy="1351.5" r="3.4" fill="#000"/>
<circle cx="488.0" cy="1351.0" r="3.4" fill="#000"/>
<circle cx="484.5" cy="1355.0" r="3.4" fill="#000"/>
<path d="M475.1 1348.9h19.5" stroke="#000" stroke-width="2.8"/>
<path d="M514.4 1297.0V1308.0M508.9 1297.0h11M508.9 1308.0h11" stroke="#f58a28" stroke-width="2.2" fill="none"/>
<rect x="508.00" y="1291.00" width="6.00" height="6.00" fill="#f58a28"/>
<rect x="513.00" y="1291.00" width="6.00" height="6.00" fill="#f58a28"/>
<rect x="507.00" y="1296.00" width="6.00" height="6.00" fill="#f58a28"/>
<rect x="515.50" y="1296.50" width="6.00" height="6.00" fill="#f58a28"/>
<rect x="509.00" y="1302.00" width="6.00" height="6.00" fill="#f58a28"/>
<rect x="514.00" y="1303.00" width="6.00" height="6.00" fill="#f58a28"/>
<rect x="516.00" y="1308.00" width="6.00" height="6.00" fill="#f58a28"/>
<rect x="511.50" y="1311.00" width="6.00" height="6.00" fill="#f58a28"/>
<path d="M504.6 1302.7h19.5" stroke="#000" stroke-width="2.8"/>
<path d="M543.3 1347.0V1359.5M537.8 1347.0h11M537.8 1359.5h11" stroke="#2f5fb8" stroke-width="2.2" fill="none"/>
<path d="M534.4 1349.7L538.0 1343.3L541.6 1349.7z" fill="#2f5fb8"/>
<path d="M545.4 1346.7L549.0 1340.3L552.6 1346.7z" fill="#2f5fb8"/>
<path d="M537.4 1352.2L541.0 1345.8L544.6 1352.2z" fill="#2f5fb8"/>
<path d="M542.4 1351.2L546.0 1344.8L549.6 1351.2z" fill="#2f5fb8"/>
<path d="M539.9 1359.2L543.5 1352.8L547.1 1359.2z" fill="#2f5fb8"/>
<path d="M534.9 1361.2L538.5 1354.8L542.1 1361.2z" fill="#2f5fb8"/>
<path d="M544.4 1362.7L548.0 1356.3L551.6 1362.7z" fill="#2f5fb8"/>
<path d="M539.7 1376.1L543.3 1369.7L546.9 1376.1z" fill="#2f5fb8"/>
<path d="M533.5 1353.3h19.5" stroke="#000" stroke-width="2.8"/>
<path d="M518.2 1276.7V1259.3H541.3V1326.7" stroke="#111" stroke-width="1.5" fill="none"/>
<text x="529.30" y="1259.80" font-size="15.5" text-anchor="middle" fill="#111">*</text>
<path d="M593.3 1341.5V1353.5M587.8 1341.5h11M587.8 1353.5h11" stroke="#000" stroke-width="2.2" fill="none"/>
<circle cx="597.8" cy="1334.4" r="3.4" fill="#000"/>
<circle cx="588.0" cy="1341.0" r="3.4" fill="#000"/>
<circle cx="586.5" cy="1347.0" r="3.4" fill="#000"/>
<circle cx="591.5" cy="1345.0" r="3.4" fill="#000"/>
<circle cx="598.0" cy="1347.5" r="3.4" fill="#000"/>
<circle cx="594.0" cy="1351.5" r="3.4" fill="#000"/>
<circle cx="589.5" cy="1352.0" r="3.4" fill="#000"/>
<circle cx="592.2" cy="1364.0" r="3.4" fill="#000"/>
<circle cx="596.0" cy="1343.0" r="3.4" fill="#000"/>
<path d="M583.5 1347.5h19.5" stroke="#000" stroke-width="2.8"/>
<path d="M622.2 1365.5V1374.5M616.7 1365.5h11M616.7 1374.5h11" stroke="#f58a28" stroke-width="2.2" fill="none"/>
<rect x="613.50" y="1360.00" width="6.00" height="6.00" fill="#f58a28"/>
<rect x="621.00" y="1362.50" width="6.00" height="6.00" fill="#f58a28"/>
<rect x="616.00" y="1365.00" width="6.00" height="6.00" fill="#f58a28"/>
<rect x="624.00" y="1363.50" width="6.00" height="6.00" fill="#f58a28"/>
<rect x="618.00" y="1368.50" width="6.00" height="6.00" fill="#f58a28"/>
<rect x="622.00" y="1369.00" width="6.00" height="6.00" fill="#f58a28"/>
<rect x="619.50" y="1373.00" width="6.00" height="6.00" fill="#f58a28"/>
<path d="M612.5 1370.0h19.5" stroke="#000" stroke-width="2.8"/>
<path d="M651.6 1338.9V1365.6M646.1 1338.9h11M646.1 1365.6h11" stroke="#2f5fb8" stroke-width="2.2" fill="none"/>
<path d="M648.0 1313.2L651.6 1306.8L655.2 1313.2z" fill="#2f5fb8"/>
<path d="M643.4 1352.2L647.0 1345.8L650.6 1352.2z" fill="#2f5fb8"/>
<path d="M652.9 1350.7L656.5 1344.3L660.1 1350.7z" fill="#2f5fb8"/>
<path d="M647.9 1360.7L651.5 1354.3L655.1 1360.7z" fill="#2f5fb8"/>
<path d="M643.4 1364.2L647.0 1357.8L650.6 1364.2z" fill="#2f5fb8"/>
<path d="M652.4 1364.2L656.0 1357.8L659.6 1364.2z" fill="#2f5fb8"/>
<path d="M648.0 1377.2L651.6 1370.8L655.2 1377.2z" fill="#2f5fb8"/>
<path d="M641.9 1351.8h19.5" stroke="#000" stroke-width="2.8"/>
<path d="M624.0 1357.8V1270.0H647.8V1287.3" stroke="#111" stroke-width="1.5" fill="none"/>
<text x="635.60" y="1268.20" font-size="15.5" text-anchor="middle" fill="#111">*</text>
<path d="M700.7 1341.0V1356.0M695.2 1341.0h11M695.2 1356.0h11" stroke="#000" stroke-width="2.2" fill="none"/>
<circle cx="700.7" cy="1325.6" r="3.4" fill="#000"/>
<circle cx="700.7" cy="1335.6" r="3.4" fill="#000"/>
<circle cx="694.0" cy="1347.5" r="3.4" fill="#000"/>
<circle cx="699.0" cy="1346.0" r="3.4" fill="#000"/>
<circle cx="707.0" cy="1347.5" r="3.4" fill="#000"/>
<circle cx="697.0" cy="1352.0" r="3.4" fill="#000"/>
<circle cx="703.5" cy="1351.5" r="3.4" fill="#000"/>
<circle cx="700.5" cy="1356.0" r="3.4" fill="#000"/>
<circle cx="700.7" cy="1366.7" r="3.4" fill="#000"/>
<path d="M691.0 1347.8h19.5" stroke="#000" stroke-width="2.8"/>
<path d="M730.0 1359.5V1373.0M724.5 1359.5h11M724.5 1373.0h11" stroke="#f58a28" stroke-width="2.2" fill="none"/>
<rect x="727.50" y="1353.00" width="6.00" height="6.00" fill="#f58a28"/>
<rect x="722.00" y="1358.50" width="6.00" height="6.00" fill="#f58a28"/>
<rect x="731.50" y="1358.00" width="6.00" height="6.00" fill="#f58a28"/>
<rect x="721.50" y="1364.50" width="6.00" height="6.00" fill="#f58a28"/>
<rect x="726.50" y="1364.00" width="6.00" height="6.00" fill="#f58a28"/>
<rect x="732.00" y="1365.00" width="6.00" height="6.00" fill="#f58a28"/>
<rect x="724.50" y="1370.50" width="6.00" height="6.00" fill="#f58a28"/>
<rect x="729.50" y="1371.00" width="6.00" height="6.00" fill="#f58a28"/>
<path d="M720.2 1366.2h19.5" stroke="#000" stroke-width="2.8"/>
<path d="M759.6 1337.8V1364.4M754.1 1337.8h11M754.1 1364.4h11" stroke="#2f5fb8" stroke-width="2.2" fill="none"/>
<path d="M756.0 1311.0L759.6 1304.6L763.2 1311.0z" fill="#2f5fb8"/>
<path d="M750.4 1350.7L754.0 1344.3L757.6 1350.7z" fill="#2f5fb8"/>
<path d="M750.9 1362.2L754.5 1355.8L758.1 1362.2z" fill="#2f5fb8"/>
<path d="M756.9 1360.2L760.5 1353.8L764.1 1360.2z" fill="#2f5fb8"/>
<path d="M761.4 1363.2L765.0 1356.8L768.6 1363.2z" fill="#2f5fb8"/>
<path d="M753.4 1369.2L757.0 1362.8L760.6 1369.2z" fill="#2f5fb8"/>
<path d="M759.4 1355.2L763.0 1348.8L766.6 1355.2z" fill="#2f5fb8"/>
<path d="M749.9 1351.8h19.5" stroke="#000" stroke-width="2.8"/>
<path d="M730.7 1351.0V1275.6H754.9V1292.9" stroke="#111" stroke-width="1.5" fill="none"/>
<text x="742.20" y="1273.80" font-size="15.5" text-anchor="middle" fill="#111">*</text>
<path d="M808.4 1337.8V1357.3M802.9 1337.8h11M802.9 1357.3h11" stroke="#000" stroke-width="2.2" fill="none"/>
<circle cx="808.4" cy="1318.9" r="3.4" fill="#000"/>
<circle cx="802.0" cy="1345.5" r="3.4" fill="#000"/>
<circle cx="806.5" cy="1343.5" r="3.4" fill="#000"/>
<circle cx="813.5" cy="1345.0" r="3.4" fill="#000"/>
<circle cx="816.0" cy="1347.5" r="3.4" fill="#000"/>
<circle cx="805.0" cy="1351.0" r="3.4" fill="#000"/>
<circle cx="811.5" cy="1353.0" r="3.4" fill="#000"/>
<circle cx="808.5" cy="1357.0" r="3.4" fill="#000"/>
<circle cx="803.3" cy="1364.9" r="3.4" fill="#000"/>
<path d="M798.6 1347.8h19.5" stroke="#000" stroke-width="2.8"/>
<path d="M837.8 1359.0V1369.5M832.3 1359.0h11M832.3 1369.5h11" stroke="#f58a28" stroke-width="2.2" fill="none"/>
<rect x="830.00" y="1353.00" width="6.00" height="6.00" fill="#f58a28"/>
<rect x="838.50" y="1352.00" width="6.00" height="6.00" fill="#f58a28"/>
<rect x="828.50" y="1358.00" width="6.00" height="6.00" fill="#f58a28"/>
<rect x="835.00" y="1358.50" width="6.00" height="6.00" fill="#f58a28"/>
<rect x="831.00" y="1364.00" width="6.00" height="6.00" fill="#f58a28"/>
<rect x="839.00" y="1363.50" width="6.00" height="6.00" fill="#f58a28"/>
<rect x="829.50" y="1370.00" width="6.00" height="6.00" fill="#f58a28"/>
<rect x="835.50" y="1370.50" width="6.00" height="6.00" fill="#f58a28"/>
<path d="M828.0 1363.8h19.5" stroke="#000" stroke-width="2.8"/>
<path d="M867.1 1348.0V1359.5M861.6 1348.0h11M861.6 1359.5h11" stroke="#2f5fb8" stroke-width="2.2" fill="none"/>
<path d="M860.4 1349.7L864.0 1343.3L867.6 1349.7z" fill="#2f5fb8"/>
<path d="M867.4 1346.7L871.0 1340.3L874.6 1346.7z" fill="#2f5fb8"/>
<path d="M858.9 1354.2L862.5 1347.8L866.1 1354.2z" fill="#2f5fb8"/>
<path d="M864.4 1353.2L868.0 1346.8L871.6 1353.2z" fill="#2f5fb8"/>
<path d="M868.9 1350.7L872.5 1344.3L876.1 1350.7z" fill="#2f5fb8"/>
<path d="M862.4 1361.7L866.0 1355.3L869.6 1361.7z" fill="#2f5fb8"/>
<path d="M868.4 1366.7L872.0 1360.3L875.6 1366.7z" fill="#2f5fb8"/>
<path d="M858.6 1375.0L862.2 1368.6L865.8 1375.0z" fill="#2f5fb8"/>
<path d="M857.4 1353.3h19.5" stroke="#000" stroke-width="2.8"/>
<path d="M840.4 1345.6V1309.3H864.0V1331.8" stroke="#111" stroke-width="1.5" fill="none"/>
<text x="852.90" y="1310.90" font-size="15.5" text-anchor="middle" fill="#111">*</text>
</svg></body></html>
